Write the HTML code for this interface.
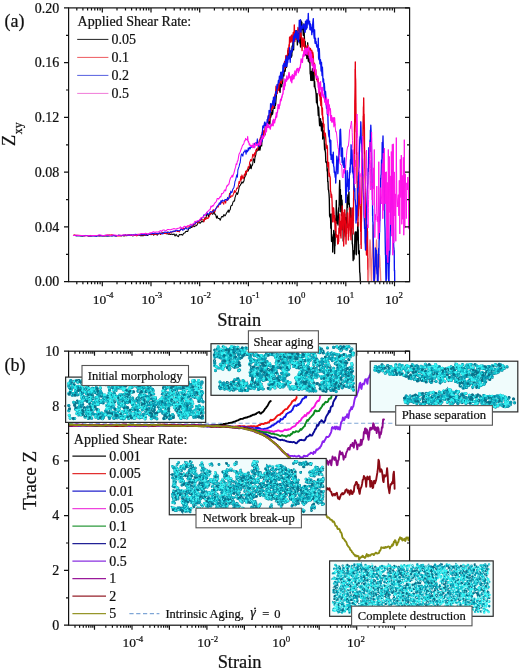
<!DOCTYPE html>
<html lang="en"><head><meta charset="utf-8"><title>Figure</title>
<style>html,body{margin:0;padding:0;background:#fff}svg{display:block}text{font-family:"Liberation Serif", serif;fill:#111;stroke:#111;stroke-width:.22px}</style>
</head><body>
<svg width="520" height="672" viewBox="0 0 520 672">
<rect width="520" height="672" fill="#fff"/>
<defs><clipPath id="ca"><rect x="68.6" y="7.9" width="341.0" height="273.8"/></clipPath></defs>
<g clip-path="url(#ca)" fill="none" stroke-linejoin="round" stroke-width="1.35">
<path stroke="#000" stroke-width="1.05" d="M73,235.5 74.6,235.2 76.3,235.7 77.9,235.7 79.5,235.7 81.1,236 82.7,236 84.2,235.5 85.8,235.5 87.3,235.7 88.8,236 90.4,236 91.9,235.5 93.4,235.4 94.9,235.8 96.3,236.1 97.8,235.8 99.3,235.5 100.7,235.8 102.2,235.4 103.6,235.8 105,236.1 106.4,235.9 107.8,235.9 109.2,236.1 110.6,235.5 112,235.7 113.4,235.5 114.7,235.8 116.1,235.5 117.4,235.6 118.8,235.3 120.1,235.4 121.4,235.4 122.7,235.4 124.1,236 125.4,234.9 126.7,235.8 128,235.2 129.2,234.8 130.5,235.5 131.8,235.6 133.1,235.9 134.3,235.1 135.6,235.5 136.8,235.6 138.1,234.8 139.3,234.9 140.5,235.7 141.7,235.6 143,235.7 144.2,235.4 145.4,235.2 146.6,235.1 147.8,235.4 149,234.4 150.2,234.5 151.3,234.7 152.5,233.6 153.7,235.2 154.9,234.2 156,234.2 157.2,235.2 158.3,233.5 159.5,233.4 160.6,234.5 161.7,233 162.9,232.7 164,233.5 165.1,233.2 166.3,233.8 167.4,233.7 168.5,234.2 169.6,234.2 170.7,234.4 171.8,233.9 172.9,234.6 174,233.9 175.1,236 176.1,234.3 177.2,235.9 178.3,236.7 179.4,234.5 180.4,234.8 181.5,234.4 182.6,235.2 183.6,233.2 184.7,233.1 185.7,231.5 186.8,231.2 187.8,231.4 188.9,228.2 189.9,228.3 190.9,227.5 192,227.4 193,225.2 194,226.7 195,226 196,225.8 197,225 198.1,222.7 199.1,222.3 200.1,223.3 201.1,222.1 202,220.7 203,222 203.9,220.9 204.9,217.8 205.8,219 206.7,214.1 207.6,213.9 208.4,216.7 209.3,213.9 210.1,214.3 211,213.6 211.8,213.5 212.6,214.3 213.4,213.3 214.2,211.5 215,214.5 215.7,214.8 216.5,218.1 217.2,215.9 218,218.4 218.7,218.4 219.4,218.5 220.2,220.2 220.9,218.4 221.6,216.6 222.3,216.6 223,217 223.7,214.7 224.3,214.7 225,215.9 225.7,214.7 226.3,213.5 227,212.2 227.6,211.6 228.3,210 228.9,212.4 229.6,210.3 230.2,209.6 230.8,206.2 231.4,205.6 232,205.5 232.7,203.2 233.3,201.4 233.9,201 234.5,201.1 235,197.6 235.6,195.9 236.2,194.1 236.8,192.6 237.4,194.4 237.9,193.5 238.5,190.9 239.1,187.4 239.6,185.8 240.2,185.7 240.8,183.9 241.3,183.9 241.9,181.7 242.4,182.7 242.9,183 243.5,181.7 244,180.9 244.5,177.1 245.1,176.9 245.6,173.7 246.1,174.9 246.6,171.6 247.2,170 247.7,169.1 248.2,171 248.7,169.4 249.2,169.1 249.7,166.4 250.2,168.2 250.7,164 251.2,168.8 251.7,166 252.2,165.6 252.7,164.2 253.1,159.8 253.6,158.8 254.1,160 254.5,162.8 255,157.5 255.5,156.1 255.9,154.4 256.4,150.6 256.8,148.7 257.3,151 257.7,149.7 258.2,148.7"/>
<path stroke="#000" d="M258.2,148.7 258.6,150.1 259,145.3 259.5,146.1 259.9,150 260.3,148.1 260.8,141.3 261.2,142.5 261.6,145.9 262,138.4 262.4,137.8 262.8,136.2 263.3,134.5 263.7,132.8 264.1,134.9 264.5,135 264.9,134.7 265.3,129 265.7,123.7 266.1,128.6 266.4,125.7 266.8,127.3 267.2,125.7 267.6,121.8 268,126.6 268.4,118.3 268.8,120.9 269.1,122.5 269.5,121.6 269.9,124.1 270.3,112.6 270.6,117.7 271,116.2 271.4,112.5 271.7,114.9 272.1,110.6 272.5,114.2 272.8,112.5 273.2,107.3 273.5,107.6 273.9,107.2 274.3,105.5 274.6,108.4 275,104.8 275.3,105.5 275.7,103.5 276,99.1 276.3,95.7 276.7,93 277,90.7 277.4,88.9 277.7,90.4 278.1,86.7 278.4,88.6 278.7,88 279.1,84.8 279.4,86.8 279.7,90.9 280.1,92.3 280.4,83.4 280.7,83.8 281,82.1 281.4,83.5 281.7,86.9 282,83.2 282.3,83.4 282.7,82.3 283,73.8 283.3,75.7 283.6,74.6 283.9,75.9 284.3,70.2 284.6,70.8 284.9,71.3 285.2,71.1 285.5,67.6 285.8,63.3 286.1,58.9 286.5,67.3 286.8,63.4 287.1,56.8 287.4,57 287.7,55.5 288,50.7 288.3,55.5 288.6,52 289,53.3 289.3,54.2 289.6,51.1 289.9,53.5 290.2,54.1 290.5,52.3 290.8,51 291.1,57.4 291.5,50.8 291.8,56 292.1,46 292.4,51.7 292.7,46 293,42 293.3,34.6 293.6,49.9 294,36.3 294.3,36.5 294.6,37.6 294.9,37.4 295.2,38.3 295.5,37.9 295.8,30.8 296.1,38.6 296.5,30.8 296.8,37.1 297.1,38.9 297.4,44.9 297.7,38.7 298,38.2 298.3,41.4 298.6,32.9 299,40.7 299.3,37.1 299.6,37.8 299.9,43.1 300.2,37.8 300.5,47 300.8,44 301.1,21 301.5,28.6 301.8,22.1 302.1,29.5 302.4,26.3 302.7,29.5 303,29.2 303.3,35.3 303.6,31.7 304,24 304.3,35.8 304.6,42.1 304.9,45.1 305.2,41.5 305.5,55 305.8,47.3 306.1,53.5 306.5,47.7 306.8,58.6 307.1,46 307.4,50.5 307.7,42.8 308,54.1 308.3,61.2 308.6,48.7 309,54.2 309.3,62.4 309.6,62.9 309.9,60.5 310.2,74.1 310.5,73.6 310.8,80.4 311.1,77.4 311.5,71.4 311.8,73.5 312.1,80.5 312.4,68.7 312.7,73.7 313,77 313.3,80.2 313.6,79 314,69.2 314.3,86.7 314.6,81.5 314.9,86.1 315.2,88.5 315.5,89.4 315.8,91.7 316.1,93.9 316.5,102.8 316.8,95.2 317.1,93.6 317.4,104.7 317.7,105.6 318,109.8 318.3,115.5 318.6,107.1 319,114.4 319.3,121.1 319.6,125.4 319.9,125.7 320.2,119.9 320.5,118.6 320.8,125.7 321.1,121.3 321.5,130.9 321.8,124.4 322.1,123.2 322.4,123.6 322.7,139 323,132.6 323.3,130.7 323.6,136.6 324,135.4 324.3,143.4 324.6,149.8 324.9,144 325.2,151 325.5,153 325.8,161.7 326.1,162.4 326.5,163 326.8,161.9 327.1,170.9 327.4,169 327.7,181.8 328,181.4 328.3,189.5 328.6,190.1 329,193.8 329.3,198.9 329.6,216.2 329.9,214.3 330.2,217.7 330.5,215.6 330.8,228.3 331.1,213.9 331.5,241.2 331.8,234.6 332.1,241.6 332.4,237.8 332.7,240.3 332.7,252 333,243.5 333.2,237 333.5,240.1 333.7,230.5 334,236 334.2,239.8 334.4,234 334.6,253.5 334.8,242.1 335,246 335.2,237.7 335.4,232.6 335.6,218.9 335.8,222.2 335.9,218.4 336.1,216.5 336.3,200.5 336.5,210 336.8,212.8 337.1,223.4 337.4,216 337.7,221.3 338,225 338.2,222.5 338.5,210.2 338.7,207.7 338.9,211.5 339.2,202.1 339.4,188.7 339.7,180.5 339.9,187 340.1,204.8 340.3,197.8 340.4,189.5 340.6,204.4 340.8,211.7 341,212 341.2,210.1 341.4,195.5 341.6,215.7 341.8,205.9 342,200 342.2,203.6 342.4,214 342.5,213.5 342.7,217.8 342.9,230.3 343,217.8 343.2,241 343.4,240 343.6,238 343.9,235.9 344.1,232.5 344.3,232.1 344.6,227.1 344.8,214 345,222.2 345.3,217.3 345.5,226.6 345.8,222.3 346,228 346.2,218.2 346.4,222.9 346.6,218.3 346.9,219.4 347.1,195 347.3,207.8 347.5,200 347.8,202.5 348.1,197.3 348.5,204 348.8,193 349,192 349.1,203.5 349.3,203.3 349.5,209.7 349.7,208 349.8,217.2 350,222 350.2,223.9 350.4,218.2 350.6,217.1 350.8,207.9 351,210 351.2,224.8 351.4,215.7 351.6,224.9 351.9,233.3 352.1,233.4 352.3,244 352.5,244 352.8,248.4 353.1,260.6 353.4,256.6 353.7,258.7 354,259 354.2,250.5 354.4,254.4 354.6,253.8 354.7,246.3 354.9,234.3 355.1,232.8 355.3,232 355.5,233.6 355.8,237.9 356,232.2 356.3,254.8 356.5,246 356.7,241.9 356.9,239.6 357.1,232.5 357.3,231.3 357.5,239.5 357.7,224 357.9,222.4 358,229 358.2,229.9 358.3,236.8 358.5,253.4 358.6,244.3 358.8,252 359,254.1 359.3,250.6 359.5,264.1 359.7,272.3 359.9,272.7 360.2,278 360.4,285"/>
<path stroke="#e60012" stroke-width="1.05" d="M73,235.5 74.6,235 76.3,235.6 77.9,235.2 79.5,235.5 81.1,235.5 82.7,235.5 84.2,236.1 85.8,235.4 87.3,235.6 88.8,235.9 90.4,235.4 91.9,236 93.4,235.6 94.9,235.8 96.3,235.4 97.8,235.4 99.3,235.9 100.7,235.7 102.2,235.6 103.6,235.6 105,235.6 106.4,235.2 107.8,234.9 109.2,235 110.6,235 112,234.8 113.4,235.5 114.7,235.6 116.1,236 117.4,236.1 118.8,235.9 120.1,235.9 121.4,236 122.7,235.3 124.1,235.6 125.4,235.7 126.7,235.2 128,235 129.2,235 130.5,235.6 131.8,235.4 133.1,235.1 134.3,235.1 135.6,235.2 136.8,235.9 138.1,234.1 139.3,235.1 140.5,234.9 141.7,235 143,234.2 144.2,235.4 145.4,234.9 146.6,234.5 147.8,234.4 149,233.9 150.2,234.2 151.3,234.1 152.5,234.5 153.7,234.2 154.9,234 156,234.5 157.2,234.1 158.3,234 159.5,233 160.6,234.4 161.7,233.1 162.9,233.1 164,233.2 165.1,233.4 166.3,233.6 167.4,231.9 168.5,233.3 169.6,233.7 170.7,232.3 171.8,232.2 172.9,231.6 174,231.7 175.1,230.9 176.1,230.8 177.2,231.4 178.3,231.2 179.4,231.9 180.4,229.6 181.5,228.2 182.6,229.4 183.6,228.2 184.7,228.6 185.7,227.5 186.8,226.7 187.8,226.9 188.9,227 189.9,226.6 190.9,226 192,226.9 193,224.6 194,224.6 195,224.6 196,222.6 197,222.2 198.1,222.7 199.1,221.4 200.1,220.7 201.1,219.7 202,219.2 203,219.2 203.9,221.8 204.9,217.9 205.8,219.4 206.7,217.2 207.6,218.5 208.4,218 209.3,216.5 210.1,214.4 211,212.1 211.8,213.6 212.6,210.7 213.4,209.7 214.2,212 215,211.7 215.7,208.7 216.5,207.6 217.2,206.5 218,207.2 218.7,205.7 219.4,203.6 220.2,203.6 220.9,203.9 221.6,201.1 222.3,202.1 223,202.8 223.7,204.3 224.3,201.3 225,200.9 225.7,203.2 226.3,199.2 227,199.2 227.6,200.4 228.3,199.5 228.9,198 229.6,193.2 230.2,197.4 230.8,197.2 231.4,195.8 232,196.1 232.7,196.2 233.3,194.3 233.9,192.5 234.5,190.5 235,192.7 235.6,191.4 236.2,190.2 236.8,188.1 237.4,188.4 237.9,187.8 238.5,184.9 239.1,181.4 239.6,183.4 240.2,180.9 240.8,176.3 241.3,180.3 241.9,174.9 242.4,176.3 242.9,178.8 243.5,178.4 244,175.5 244.5,174 245.1,175.8 245.6,171 246.1,173.5 246.6,171 247.2,171.6 247.7,169.7 248.2,166.7 248.7,168.2 249.2,166.2 249.7,161.9 250.2,161.2 250.7,159.5 251.2,161 251.7,160.4 252.2,158 252.7,154.2 253.1,154.2 253.6,155.4 254.1,157.4 254.5,152.7 255,155.1 255.5,153.4 255.9,149.8 256.4,150.2 256.8,150.8 257.3,150.1 257.7,148.3 258.2,146.5"/>
<path stroke="#e60012" d="M258.2,146.5 258.6,146.5 259,142.3 259.5,140 259.9,142.1 260.3,138 260.8,140.8 261.2,135.8 261.6,140.8 262,133.6 262.4,131.9 262.8,135.3 263.3,136 263.7,130.7 264.1,135.8 264.5,135.5 264.9,132.5 265.3,128.4 265.7,123.9 266.1,124.4 266.4,124.8 266.8,127.3 267.2,124.5 267.6,122.2 268,121.5 268.4,115.7 268.8,120.2 269.1,115.5 269.5,120.5 269.9,116.3 270.3,112.3 270.6,111.9 271,107.5 271.4,110.3 271.7,106.7 272.1,107.6 272.5,108.1 272.8,104.3 273.2,104.6 273.5,107.3 273.9,100.2 274.3,100.9 274.6,96.4 275,94.3 275.3,95.7 275.7,91.1 276,86.3 276.3,92.8 276.7,92.4 277,87.9 277.4,93.3 277.7,87.9 278.1,85 278.4,84 278.7,90.1 279.1,84.1 279.4,84.1 279.7,82.6 280.1,82.2 280.4,78 280.7,80.8 281,80.6 281.4,83.4 281.7,75.9 282,80.7 282.3,76.7 282.7,74.1 283,72.1 283.3,71.6 283.6,69.9 283.9,68.7 284.3,67.9 284.6,61.5 284.9,62.2 285.2,67.5 285.5,61.8 285.8,55.7 286.1,61.2 286.5,64.8 286.8,62.3 287.1,55.5 287.4,54.7 287.7,54.4 288,49 288.3,47.9 288.6,52.5 289,44.7 289.3,46.4 289.6,37.1 289.9,38.5 290.2,37 290.5,42.1 290.8,38.7 291.1,36.7 291.5,35.1 291.8,39.3 292.1,41.9 292.4,36.7 292.7,40.4 293,34.8 293.3,32.4 293.6,36.2 294,39.5 294.3,25 294.6,35.7 294.9,41.5 295.2,32.7 295.5,36.7 295.8,39.3 296.1,34.8 296.5,33 296.8,37.8 297.1,36.2 297.4,34.9 297.7,31.9 298,27.5 298.3,29.2 298.6,30 299,30.9 299.3,29 299.6,39 299.9,34.2 300.2,36 300.5,29.5 300.8,32.2 301.1,34.8 301.5,38.6 301.8,46.5 302.1,50.6 302.4,39.3 302.7,40.9 303,37.8 303.3,39.4 303.6,46.3 304,40.2 304.3,39.3 304.6,48.2 304.9,45.8 305.2,48.8 305.5,48.4 305.8,51.3 306.1,49.9 306.5,52 306.8,49.5 307.1,47.3 307.4,45.5 307.7,45.2 308,47.2 308.3,49.4 308.6,55.2 309,47.4 309.3,49.5 309.6,49.4 309.9,56.8 310.2,53.5 310.5,48.4 310.8,58.9 311.1,57 311.5,55.5 311.8,50.2 312.1,62.9 312.4,57.6 312.7,52.2 313,53.8 313.3,56.3 313.6,65.3 314,62.8 314.3,63.5 314.6,67.9 314.9,74.7 315.2,74.7 315.5,71.4 315.8,69.6 316.1,74.1 316.5,79.5 316.8,76.3 317.1,76.8 317.4,81.5 317.7,78.9 318,78.3 318.3,80.8 318.6,86.3 319,89.5 319.3,93.4 319.6,96 319.9,92 320.2,100.8 320.5,92.9 320.8,105.5 321.1,95.7 321.5,101.6 321.8,108.8 322.1,114.9 322.4,107.9 322.7,119.3 323,116.9 323.3,123.4 323.6,127 324,124.2 324.3,136.1 324.6,132.9 324.9,135 325.2,133.2 325.5,135.1 325.8,139.4 326.1,144.1 326.5,147.8 326.8,148.5 327.1,145.5 327.4,147.6 327.7,166.6 328,165.3 328.3,166 328.6,162.4 329,176.3 329.3,173 329.6,175.2 329.9,176.5 330.2,177.9 330.5,191.4 330.8,191.8 331.1,197.4 331.5,194.1 331.8,196.5 332.1,202.2 332.4,213.4 332.7,221.9 333,209.9 333.3,213.9 333.6,207.8 334,212.5 334.3,222 334.6,215.4 334.9,221.4 335.2,230.3 335.5,225.1 335.8,221.5 336.1,237.1 336.5,234.5 336.8,234.7 337.1,236.2 337.4,237.3 337.7,244 338,235.6 338.3,243.5 338.6,239 338.7,241.6 338.7,240 338.9,228.3 339.1,231.6 339.2,233.2 339.4,220.6 339.6,221 339.8,214 340,221.2 340.2,223.7 340.4,221.2 340.6,236 340.8,233 341,238 341.2,228 341.3,222.9 341.5,230 341.7,220.5 341.9,211.5 342,216.5 342.2,206 342.4,214.8 342.6,214.9 342.8,212.3 342.9,222.7 343.1,229.3 343.3,226.5 343.5,236 343.7,246 343.9,227 344.1,217.3 344.4,210 344.6,220.6 344.8,210 345,214.4 345.1,219.8 345.3,220.7 345.5,233.5 345.7,236.4 345.8,233.2 346,244 346.2,237.3 346.3,228.2 346.5,233.7 346.7,226.8 346.9,227.8 347,221.6 347.2,214 347.4,223 347.6,212.8 347.8,223 348,225 348.2,227.6 348.4,240 348.6,230.8 348.7,236.6 348.9,230.8 349.1,230 349.3,220.3 349.4,215.6 349.6,208 349.8,210.2 349.9,214.3 350.1,218 350.3,219.4 350.5,220.7 350.6,232.7 350.8,236 351,239.8 351.2,222.9 351.4,218.2 351.6,227 351.8,216.8 352,214 352.2,207.9 352.4,219.5 352.6,210.6 352.8,228.7 353,228.3 353.2,234 353.3,220.4 353.4,221.9 353.5,211.8 353.5,215.9 353.6,197.8 353.7,197.9 353.8,183.3 353.9,184.5 354,179.9 354,174.1 354.1,168.4 354.2,149.7 354.3,150 354.4,153.6 354.5,146 354.5,129.5 354.6,124.5 354.7,121.7 354.8,100.2 354.8,101.6 354.9,98.4 355,92.1 355.1,85.2 355.1,69.2 355.2,74.2 355.3,62 355.4,74 355.5,78.1 355.6,79 355.7,83.2 355.8,94.9 355.9,104.7 355.9,103.1 356,113.5 356.1,125.6 356.2,131.9 356.3,131.4 356.4,131.9 356.5,150 356.6,154.5 356.8,152.5 356.9,160.1 357,178.9 357.1,182.9 357.2,181 357.4,192.6 357.5,200 357.6,209 357.8,219.1 357.9,221.6 358,226 358.2,207.3 358.3,216.3 358.5,206.9 358.7,202.2 358.8,197.1 359,190.4 359.2,183.7 359.3,186 359.5,175 359.6,187 359.8,195.5 359.9,199.1 360,204.9 360.2,209.1 360.3,206.3 360.5,225.3 360.6,224.2 360.7,231.6 360.9,230.3 361,245 361.1,235.2 361.2,248.4 361.3,222.6 361.4,222.3 361.5,217.5 361.6,207.1 361.8,194.7 361.9,190 362,186.6 362.1,175.1 362.2,163.2 362.3,157.9 362.4,165.6 362.5,150 362.6,148.3 362.8,142.5 362.9,138 363,128.6 363.2,115.9 363.3,128.1 363.4,107.9 363.6,105.6 363.7,98 363.8,105.3 363.9,117.4 364,115.3 364.1,114.1 364.2,120 364.4,128.9 364.5,145.1 364.6,153.6 364.7,151.4 364.8,156.1 364.9,168.3 365,170 365.1,177.7 365.2,179.7 365.3,184.3 365.5,197.3 365.6,208.9 365.7,215.7 365.8,220.4 365.9,219.8 366,235.9 366.2,224.4 366.3,243.4 366.4,252.9 366.5,255 366.6,246.1 366.7,239.2 366.8,251 367,236.7 367.1,232.7 367.2,237.7 367.3,225 367.4,234.6 367.5,231.2 367.6,244.5 367.7,249.2 367.8,261.5 367.9,269.4 368,258.5 368.1,269.6 368.2,288.3 368.3,285"/>
<path stroke="#f0807f" d="M368.3,285 368.5,280.3 368.7,275.2 368.9,268.9 369.1,266.2 369.2,259 369.4,255.3 369.6,250.2 369.8,243.9 370,240 370.2,242.4 370.3,247 370.5,253.7 370.7,258.9 370.8,265.9 371,270.1 371.2,275.3 371.3,278.1 371.5,285 371.6,278 371.8,271.7 371.9,264.7 372.1,258.4 372.2,258.8 372.4,249.2 372.6,245 372.7,237.3 372.9,229.1 373,225 373.1,233.7 373.3,238 373.4,242.8 373.6,246.7 373.8,255 373.9,262.5 374.1,269.2 374.2,273.4 374.4,278.5 374.5,285 374.7,279.2 374.9,275.8 375.2,268.1 375.4,264.9 375.6,255.6 375.8,257.8 376.1,251.7 376.3,244.4 376.5,240 376.7,243.7 376.8,251.1 377,254.5 377.2,258.6 377.3,263.9 377.5,269 377.7,272.5 377.8,281.7 378,285 378.2,276.8 378.4,276.4 378.6,271.6 378.9,264.1 379.1,264.4 379.3,255 379.5,255 379.7,257.6 379.9,261.6 380.1,266.9 380.4,271 380.6,278.2 380.8,280.3 381,285"/>
<path stroke="#0a14f0" stroke-width="1.05" d="M73,235.4 74.6,235.5 76.3,235.7 77.9,235.6 79.5,235.8 81.1,235.8 82.7,236 84.2,235.6 85.8,235.6 87.3,235.5 88.8,236 90.4,235.9 91.9,236.1 93.4,235.9 94.9,235.7 96.3,236.2 97.8,235.7 99.3,235.7 100.7,235.5 102.2,236 103.6,235.9 105,235.3 106.4,235.8 107.8,235.9 109.2,235.3 110.6,235.8 112,236.1 113.4,235.2 114.7,235.8 116.1,236.2 117.4,235.4 118.8,235.3 120.1,235.5 121.4,235.7 122.7,235.5 124.1,234.9 125.4,235.1 126.7,235.2 128,235 129.2,235.5 130.5,234.8 131.8,234.6 133.1,235.3 134.3,234.5 135.6,234.3 136.8,234.6 138.1,234.5 139.3,234.9 140.5,234.8 141.7,234.4 143,234.5 144.2,234.3 145.4,235 146.6,235.2 147.8,234.1 149,234.5 150.2,234 151.3,233.5 152.5,233.6 153.7,233.6 154.9,233 156,233.3 157.2,233.7 158.3,233.8 159.5,233 160.6,232.9 161.7,233.4 162.9,233.9 164,232.3 165.1,232 166.3,232.3 167.4,232.7 168.5,232 169.6,232.6 170.7,231.7 171.8,232.1 172.9,231.2 174,230.9 175.1,231.4 176.1,230.2 177.2,230.3 178.3,230.8 179.4,230.7 180.4,230.1 181.5,228.6 182.6,230.2 183.6,229.7 184.7,229 185.7,227.6 186.8,228.9 187.8,229.1 188.9,227.7 189.9,227.7 190.9,225.9 192,225.9 193,224.5 194,224 195,223.7 196,222.5 197,221.9 198.1,221.2 199.1,220.5 200.1,219.8 201.1,219.1 202,217.5 203,217.6 203.9,214.8 204.9,215.4 205.8,214.7 206.7,212.4 207.6,213.8 208.4,214.3 209.3,213.3 210.1,211.7 211,211.6 211.8,212.5 212.6,211.7 213.4,211.4 214.2,209.9 215,210.3 215.7,209.3 216.5,207.6 217.2,206.4 218,205.2 218.7,204.7 219.4,202.7 220.2,204.5 220.9,200.7 221.6,202.2 222.3,200.1 223,200.9 223.7,200.8 224.3,201 225,199.4 225.7,199.6 226.3,199.5 227,200.6 227.6,197.4 228.3,198.9 228.9,198.7 229.6,195.5 230.2,194.5 230.8,191.1 231.4,192.8 232,192.3 232.7,189.5 233.3,188.4 233.9,187.4 234.5,184.8 235,181.3 235.6,180.2 236.2,177.4 236.8,174.8 237.4,177.2 237.9,169.8 238.5,168.2 239.1,166.4 239.6,164.1 240.2,162.5 240.8,157.2 241.3,154.6 241.9,153.8 242.4,155.5 242.9,156.1 243.5,152 244,152.1 244.5,151.8 245.1,149.9 245.6,152 246.1,154.3 246.6,150 247.2,151.9 247.7,151.5 248.2,147.8 248.7,150.3 249.2,148.4 249.7,147.2 250.2,148.9 250.7,147.5 251.2,146.9 251.7,147.3 252.2,146.4 252.7,145.5 253.1,146.4 253.6,147.1 254.1,143.8 254.5,144.3 255,143.1 255.5,144 255.9,142.5 256.4,145.1 256.8,143.6 257.3,138.7 257.7,142.9 258.2,143.6"/>
<path stroke="#0a14f0" d="M258.2,143.6 258.6,146.5 259,143.8 259.5,144.5 259.9,143.1 260.3,140.1 260.8,138.9 261.2,139.2 261.6,134.6 262,141.6 262.4,133 262.8,126.2 263.3,126 263.7,127.6 264.1,125.3 264.5,122.8 264.9,122 265.3,125.3 265.7,123.3 266.1,124.7 266.4,123.5 266.8,125.9 267.2,119.5 267.6,123.7 268,117.2 268.4,115.7 268.8,118.1 269.1,110.5 269.5,112.7 269.9,111.1 270.3,112.7 270.6,103.6 271,106.4 271.4,106.8 271.7,103.9 272.1,104.6 272.5,103.9 272.8,100.7 273.2,101.2 273.5,97.2 273.9,105.7 274.3,104.9 274.6,97.2 275,102.1 275.3,97.5 275.7,91.8 276,92.3 276.3,94.8 276.7,90.3 277,84.6 277.4,88.3 277.7,85.3 278.1,83.7 278.4,80.5 278.7,82.5 279.1,82.5 279.4,76.2 279.7,78.1 280.1,76.2 280.4,76.2 280.7,72.3 281,80.3 281.4,74 281.7,76 282,71.9 282.3,78.2 282.7,72.3 283,65.2 283.3,72.7 283.6,66.9 283.9,63.3 284.3,66.5 284.6,63.9 284.9,66.8 285.2,65.4 285.5,59.7 285.8,65.6 286.1,66 286.5,56.2 286.8,66.5 287.1,62.9 287.4,60.6 287.7,62.8 288,59.4 288.3,56.1 288.6,59.2 289,58.1 289.3,58.3 289.6,47.7 289.9,52.4 290.2,62.3 290.5,56 290.8,56.2 291.1,52.7 291.5,50.4 291.8,51.9 292.1,51.6 292.4,47.9 292.7,47.1 293,48.4 293.3,40.1 293.6,36.1 294,41.2 294.3,40.1 294.6,33.9 294.9,37.5 295.2,34.3 295.5,35 295.8,30.9 296.1,38 296.5,35 296.8,34.8 297.1,31.1 297.4,39.6 297.7,36.9 298,34.4 298.3,34.2 298.6,41.9 299,31.6 299.3,20.3 299.6,28.3 299.9,29 300.2,23.2 300.5,19.7 300.8,32.1 301.1,28.1 301.5,27.3 301.8,26.3 302.1,28.9 302.4,26.7 302.7,26.6 303,25.1 303.3,24.2 303.6,25.7 304,28.5 304.3,25 304.6,31.7 304.9,25.9 305.2,32.2 305.5,21.2 305.8,28.9 306.1,29.5 306.5,27.9 306.8,19.9 307.1,27.9 307.4,21.8 307.7,21.5 308,20.9 308.3,13.4 308.6,23.1 309,24.2 309.3,25.1 309.6,21.1 309.9,29.6 310.2,23.5 310.5,25.5 310.8,24.7 311.1,30.1 311.5,27.3 311.8,34.6 312.1,30 312.4,32 312.7,24.1 313,21.1 313.3,18.6 313.6,28.5 314,36.3 314.3,38.3 314.6,29.8 314.9,41.3 315.2,43.4 315.5,38.2 315.8,42.7 316.1,41.3 316.5,45.4 316.8,47 317.1,45 317.4,47.1 317.7,46.3 318,51.2 318.3,38.1 318.6,58 319,59.7 319.3,48.6 319.6,56.7 319.9,63.9 320.2,59.3 320.5,60.1 320.8,64.6 321.1,71 321.5,62.3 321.8,71.1 322.1,75.6 322.4,67.1 322.7,74 323,82 323.3,78.6 323.6,79.4 324,90.3 324.3,83.2 324.6,87.5 324.9,98.6 325.2,101.7 325.5,91.4 325.8,95.5 326.1,99.9 326.5,108.3 326.8,107.6 327.1,105.3 327.4,114.6 327.7,104.7 328,121.4 328.3,129.2 328.6,134.4 329,136.8 329.3,130.5 329.6,142 329.9,139.3 330.2,145.7 330.5,154.9 330.8,140.5 331.1,159.4 331.5,158.9 331.8,159 332.1,154.8 332.4,162.3 332.7,163.1 333,159.7 333.3,152.2 333.6,165.8 334,167.2 334.3,172.5 334.6,171.2 334.9,174 335.2,177.2 335.5,173 335.7,176.2 335.7,183 335.9,177.8 336.1,174.3 336.4,167.5 336.6,164 336.8,156.2 337,160 337.2,164.1 337.4,169.4 337.6,162.4 337.8,173.7 338,172 338.2,163.7 338.5,157.2 338.8,156.4 339,148.8 339.2,154.7 339.5,147.8 339.8,142.4 340,130 340.2,137.6 340.5,129.1 340.8,136.6 341,142.4 341.2,156.2 341.5,150 341.8,148.3 342.1,162.5 342.4,148 342.7,159.3 343,165 343.4,161.1 343.8,167.4 344.1,165.2 344.5,158 344.7,163.4 344.9,170.1 345.1,165.1 345.4,167.4 345.6,188.3 345.8,202.5 346,192 346.3,195 346.6,183.9 346.9,186.5 347.2,170.6 347.5,178 347.8,178.9 348.1,180.2 348.4,191.4 348.7,187.6 349,188 349.2,189.5 349.4,172.5 349.6,174.6 349.9,167.6 350.1,172.7 350.3,165.6 350.5,160 350.8,158.9 351.1,144.8 351.4,163.8 351.7,150.2 352,150 352.2,154.2 352.4,172.1 352.6,170.5 352.9,167.2 353.1,174 353.3,166.8 353.5,178 353.8,177.4 354,189.6 354.2,186.1 354.5,191.2 354.8,188.3 355,200 355.2,199.6 355.5,203 355.8,207.1 356,223.1 356.2,216 356.5,220 356.7,216.2 356.9,217.7 357.1,205.5 357.4,206.7 357.6,188.3 357.8,192.4 358,190 358.2,188 358.4,175.9 358.6,177.8 358.8,168.1 358.9,168.4 359.1,166 359.3,153.7 359.5,150 359.8,139.8 360,136.8 360.2,138.9 360.5,134.4 360.8,121.8 361,127 361.2,137.2 361.4,143.3 361.6,141.2 361.8,147.7 361.9,152.4 362.1,150.3 362.3,160.1 362.5,165 362.7,172.3 362.8,175.2 363,174.3 363.2,178.9 363.3,188.9 363.5,194.3 363.7,199.4 363.8,197.2 364,215 364.2,217.9 364.4,221.6 364.6,228.7 364.9,227.1 365.1,242.4 365.3,244.5 365.5,250 365.7,248.7 365.8,234.1 366,236.9 366.2,228.8 366.3,219.4 366.5,216.9 366.7,205.9 366.8,204.4 367,200 367.2,194.3 367.4,188.9 367.6,185.8 367.9,183.2 368.1,168.4 368.3,171.8 368.5,165 368.8,147.8 369,150.2 369.2,163.6 369.5,151.9 369.8,143.6 370,140 370.2,151.6 370.4,130.2 370.6,132.3 370.8,125.2 371,130 371.1,138.1 371.3,137.9 371.4,137.5 371.5,147.1 371.7,157.3 371.8,171.1 372,176.2 372.1,184.4 372.2,188.4 372.4,189.5 372.5,200 372.6,216 372.7,208.9 372.8,221.4 373,221.9 373.1,229.7 373.2,237 373.3,239.9 373.4,256.5 373.5,257.9 373.7,270.2 373.8,278.5 373.9,281.6 374,285 374.3,280.6 374.6,277.4 374.9,266.2 375.1,266.7 375.4,247.9 375.7,249.4 376,250 376.2,258.5 376.4,250.5 376.6,265.8 376.9,273.4 377.1,274.3 377.3,274.4 377.5,285 377.7,284 377.9,284.7 378.1,275.7 378.3,254.1 378.5,266.9 378.7,248.2 378.9,254.5 379.1,240.6 379.3,238.6 379.5,230 379.6,232.1 379.8,213.2 379.9,220.7 380.1,207.9 380.2,206.1 380.4,196.2 380.6,190 380.7,178.1 380.9,178.9 381,175 381.2,174.5 381.5,159.9 381.8,167.6 382,158.9 382.2,142.4 382.5,145.3 382.8,142.9 383,136 383.1,140.8 383.3,149.5 383.4,158.6 383.5,156.9 383.7,167.4 383.8,169.5 384,171 384.1,184.9 384.2,185.2 384.4,192.5 384.5,200 384.6,210.5 384.7,201.5 384.8,222.4 385,227.8 385.1,233.1 385.2,241.9 385.3,247.1 385.4,254.4 385.5,249.8 385.7,262.5 385.8,272.8 385.9,277.1 386,285 386.2,280.3 386.3,270 386.5,279.3 386.7,264.9 386.8,263.7 387,259.6 387.2,247 387.3,241.9 387.5,240 387.7,238.9 387.8,252.2 388,262.2 388.2,263.7 388.3,257.2 388.5,275.6 388.7,281.2 388.8,281.4 389,285 389.1,269.4 389.3,261.4 389.4,261.9 389.5,250.9 389.7,254.9 389.8,253.7 390,248 390.1,239.2 390.2,233.4 390.4,227.4 390.5,215 390.7,211 390.8,200.4 391,210.5 391.2,205.4 391.3,178.6 391.5,192.2 391.7,181.8 391.8,172 392,170 392.1,184.7 392.3,177.6 392.4,187 392.6,194.3 392.8,207.4 392.9,202.9 393.1,213.6 393.2,215.5 393.4,226.4 393.5,230 393.6,244.1 393.8,248.3 393.9,247.6 394.1,253.1 394.2,250.5 394.4,271 394.6,270.5 394.7,282.7 394.9,282.1 395,285"/>
<path stroke="#ff10e8" stroke-width="1.05" d="M73,235.4 74.6,235.4 76.3,235.1 77.9,235.5 79.5,235.3 81.1,235.5 82.7,235.5 84.2,235.8 85.8,235.7 87.3,235.8 88.8,235.5 90.4,235.7 91.9,235.5 93.4,235.6 94.9,235.5 96.3,235.6 97.8,235.3 99.3,234.8 100.7,235 102.2,235.5 103.6,235.5 105,235.5 106.4,235.1 107.8,235.1 109.2,235.4 110.6,235.5 112,235.3 113.4,235.1 114.7,234.9 116.1,235.2 117.4,235.5 118.8,235.2 120.1,235.1 121.4,235.2 122.7,235 124.1,234.7 125.4,235 126.7,235 128,235 129.2,235 130.5,235 131.8,234.9 133.1,235.4 134.3,234.8 135.6,235.1 136.8,235 138.1,234.6 139.3,234.3 140.5,233.7 141.7,233.6 143,233.7 144.2,233.7 145.4,233.3 146.6,233.4 147.8,234.2 149,233.5 150.2,232.7 151.3,233 152.5,232.3 153.7,231.8 154.9,232.4 156,231.9 157.2,232 158.3,232.2 159.5,231.2 160.6,230.6 161.7,231.5 162.9,230 164,229.9 165.1,230.7 166.3,230.5 167.4,229.6 168.5,229.4 169.6,229.7 170.7,229.7 171.8,229.2 172.9,228.9 174,228.6 175.1,228.9 176.1,228.9 177.2,228.6 178.3,228.3 179.4,228.1 180.4,226.9 181.5,228.1 182.6,228.1 183.6,226.9 184.7,226.2 185.7,226.7 186.8,226.5 187.8,225.6 188.9,225.8 189.9,224.9 190.9,224.1 192,225.1 193,223.7 194,223.1 195,221.3 196,221.7 197,220.9 198.1,220.5 199.1,220.3 200.1,219.2 201.1,217.5 202,217.8 203,216.9 203.9,216.1 204.9,214.9 205.8,214.3 206.7,212.6 207.6,211.5 208.4,210.9 209.3,209.9 210.1,209.6 211,206 211.8,206.9 212.6,205.6 213.4,205.9 214.2,204 215,202.8 215.7,202.3 216.5,201.2 217.2,198.5 218,198.5 218.7,199.1 219.4,197.9 220.2,196.6 220.9,196.9 221.6,193.6 222.3,193.8 223,193.2 223.7,192.4 224.3,190.5 225,189.9 225.7,190.9 226.3,187.7 227,185.6 227.6,186 228.3,184.2 228.9,184.3 229.6,180.8 230.2,179 230.8,177.3 231.4,177.2 232,175.3 232.7,177.1 233.3,174.4 233.9,173.2 234.5,170.8 235,168.9 235.6,167.2 236.2,163.7 236.8,164.5 237.4,160.9 237.9,160.9 238.5,157.2 239.1,153.8 239.6,153.4 240.2,151.9 240.8,150.1 241.3,148.8 241.9,147.2 242.4,145.6 242.9,144.8 243.5,144.6 244,142.9 244.5,140.7 245.1,140.8 245.6,138.4 246.1,139.3 246.6,139.5 247.2,140.1 247.7,136.4 248.2,142.3 248.7,141.6 249.2,145 249.7,143.7 250.2,145.5 250.7,146.5 251.2,145.3 251.7,145.4 252.2,146.1 252.7,147.8 253.1,143.3 253.6,146 254.1,147.9 254.5,145.8 255,147.3 255.5,142.5 255.9,143.8 256.4,145.5 256.8,144.5 257.3,144.7 257.7,145.7 258.2,143"/>
<path stroke="#ff10e8" d="M258.2,143 258.6,144.5 259,144.1 259.5,142.8 259.9,145.5 260.3,140.6 260.8,144.4 261.2,139.2 261.6,139.8 262,138.5 262.4,135.8 262.8,137.7 263.3,138.5 263.7,136.7 264.1,135.7 264.5,135.9 264.9,133.7 265.3,132.5 265.7,126.8 266.1,130.4 266.4,131.8 266.8,127 267.2,123.5 267.6,126.2 268,127 268.4,124.7 268.8,127 269.1,127.7 269.5,126.2 269.9,126.2 270.3,129.1 270.6,126.4 271,124.3 271.4,125.8 271.7,125.9 272.1,123.7 272.5,123.8 272.8,120.6 273.2,125.7 273.5,119.3 273.9,121.4 274.3,121.2 274.6,122.8 275,119.5 275.3,120 275.7,116.6 276,117.6 276.3,112.8 276.7,117 277,113 277.4,112.7 277.7,109.9 278.1,104.4 278.4,105.8 278.7,105.7 279.1,108.6 279.4,105 279.7,105.7 280.1,103.3 280.4,100.3 280.7,99.2 281,100.9 281.4,99.5 281.7,96.7 282,97.4 282.3,95 282.7,94.1 283,93.9 283.3,87.8 283.6,87.7 283.9,83.5 284.3,89.5 284.6,84.3 284.9,78.9 285.2,85.8 285.5,80.8 285.8,80.4 286.1,79.8 286.5,81.2 286.8,75.9 287.1,78.7 287.4,79.7 287.7,79.5 288,79 288.3,78.4 288.6,75.5 289,72.4 289.3,74 289.6,77.7 289.9,77.7 290.2,76.8 290.5,77.8 290.8,81 291.1,76.8 291.5,76.2 291.8,82.7 292.1,77 292.4,74.6 292.7,79.5 293,75.3 293.3,76.9 293.6,76.2 294,78.6 294.3,73.2 294.6,76.5 294.9,71 295.2,74.4 295.5,72.8 295.8,72.3 296.1,75.1 296.5,69.9 296.8,69.5 297.1,68.6 297.4,68.5 297.7,70.5 298,70.6 298.3,72.7 298.6,68.8 299,71 299.3,70.3 299.6,67.4 299.9,67.9 300.2,67.9 300.5,64.8 300.8,63.4 301.1,58.9 301.5,59.6 301.8,60.6 302.1,62 302.4,62.4 302.7,58.6 303,54.8 303.3,56.4 303.6,53.8 304,50.4 304.3,54.5 304.6,55.9 304.9,52.6 305.2,48.4 305.5,53.7 305.8,51.9 306.1,48 306.5,53.9 306.8,52.5 307.1,54.7 307.4,48.6 307.7,48.7 308,48.7 308.3,50.7 308.6,46.8 309,50.8 309.3,57.8 309.6,53.1 309.9,50.9 310.2,61.6 310.5,59.9 310.8,51.5 311.1,57.9 311.5,54.1 311.8,61.7 312.1,65.5 312.4,65.5 312.7,58.6 313,59.1 313.3,71.1 313.6,68.1 314,68.2 314.3,68.7 314.6,65.2 314.9,64.1 315.2,65.4 315.5,72.8 315.8,70.6 316.1,75.2 316.5,78.1 316.8,77.4 317.1,75.9 317.4,77 317.7,76.6 318,80.9 318.3,87.5 318.6,84 319,93.6 319.3,88.5 319.6,84.5 319.9,82.4 320.2,83.7 320.5,81.6 320.8,89.7 321.1,87.4 321.5,96.3 321.8,93.4 322.1,93 322.4,87.5 322.7,90.3 323,95.8 323.3,97.2 323.6,94.9 324,95.6 324.3,99 324.6,98.6 324.9,102.2 325.2,101.4 325.5,100.6 325.8,104.6 326.1,101.9 326.5,97.6 326.8,101 327.1,108.3 327.4,113.6 327.7,108.9 328,101.7 328.3,99.4 328.6,115.8 329,108.9 329.3,104.8 329.6,109.7 329.9,109 330.2,108.5 330.5,111.3 330.8,120.5 331.1,116.2 331.5,115.6 331.8,122.1 332.1,122.1 332.4,119 332.7,120.7 333,117.6 333.3,121.8 333.6,119.9 334,126.8 334.3,117.7 334.6,118.2 334.9,125.2 335,122.4"/>
<path stroke="#ff10e8" stroke-width="0.95" d="M335,124 335.7,131.9 336.3,131.4 337,138 337.6,143.8 338.1,147.9 338.6,150 339.2,157 340.1,164.1 341,165 341.7,165 342.3,176.8 343,178 343.7,169.3 344.3,173.5 345,168 345.5,170.1 346,162.4 346.5,155.2 347,150 347.7,146.3 348.3,146.5 349,140 349.6,129.5 350.2,128.9 350.9,124.4 351.5,121 351.8,125.5 352.2,132.4 352.5,140.6 352.8,148.4 353.2,150.7 353.5,160 353.9,168.2 354.2,171.5 354.6,181.5 355,184 355.2,178.1 355.4,167.3 355.6,160.1 355.8,166.8 356,150 356.2,144.6 356.3,130.9 356.5,125 356.7,127 356.8,116.4 357,114 357.2,121 357.3,122.1 357.5,132.9 357.7,138.6 357.8,139.2 358,150 358.2,154.1 358.5,159.9 358.8,170.4 359,172 359.3,171.8 359.6,182.2 359.9,187.4 360.2,197 360.5,204 360.7,202.2 360.9,190.9 361.1,173.3 361.3,176.9 361.5,170 361.7,164.1 361.9,152 362.1,144.6 362.3,144.8 362.5,136 362.7,140.1 362.8,148.5 363,157.6 363.2,160.2 363.3,175.5 363.5,180 363.7,184.9 363.8,193.7 364,196.3 364.2,208.5 364.3,213.6 364.5,218 364.7,213.4 364.9,207.2 365.1,193.6 365.3,189.7 365.5,185 365.7,175 365.9,175.4 366.1,164.2 366.3,156 366.5,150 366.6,156 366.7,165 366.8,169.1 367,176.4 367.1,183.5 367.2,183.8 367.3,195 367.4,199.1 367.6,208.6 367.7,210.7 367.9,224.1 368,228 368.1,228 368.3,213.3 368.4,207.8 368.6,199.2 368.7,194.9 368.9,189.3 369,180 369.2,175.7 369.3,169.2 369.5,159.8 369.7,157.7 369.8,150.8 370,142 370.1,152.6 370.2,159.3 370.3,159.9 370.5,168.6 370.6,177 370.7,187.8 370.8,190 370.9,181.4 371,182.3 371.1,170.7 371.2,163.7 371.3,160.8 371.4,146.9 371.5,139.5 371.6,132 371.7,141.7 371.8,147.7 371.8,153.6 371.9,162 372,164.7 372.1,185.8 372.1,182.9 372.2,188.7 372.3,200 372.3,188 372.8,205.3 373.3,167.8 373.8,189.1 374.3,149.5 374.8,237.6 375.3,214.4 375.8,220.1 376.3,211.9 376.8,186.1 377.3,221.7 377.8,216.3 378.3,239.2 378.8,161.7 379.3,232.9 379.8,221.8 380.3,187.6 380.8,200.4 381.3,204 381.8,188.3 382.3,163.5 382.8,218.7 383.3,153.2 383.8,210.4 384.3,148.1 384.8,203.8 385.3,172 385.8,203.8 386.3,171.7 386.8,254.9 387.3,182.4 387.8,262.7 388.3,149.5 388.8,250.7 389.3,156.4 389.8,212.6 390.3,175.9 390.8,224.8 391.3,151.5 391.8,236.2 392.3,144.3 392.8,255.2 393.3,143.8 393.8,243 394.3,171.9 394.8,216 395.3,193.9 395.8,241.3 396.3,137.6 396.8,198.1 397.3,207 397.8,197.8 398.3,194.6 398.8,215.8 399.3,180.3 399.8,233.9 400.3,159.3 400.8,197.5 401.3,155.1 401.8,224.3 402.3,175.4 402.8,219.3 403.3,157.3 403.8,235.2 404.3,139.7 404.8,228.1 405.3,173.8 405.8,192.9 406.3,218.6 406.8,182.8 407.3,190 407.8,177 408.3,181 408.8,229.1 409.3,149.4"/>
</g>
<g stroke="#111" stroke-width="1.2" fill="none" stroke-linecap="butt">
<rect x="68.6" y="7.9" width="341" height="273.8"/>
<path d="M76.8,281.7v2.6M76.8,7.9v2.6M82.9,281.7v2.6M82.9,7.9v2.6M87.6,281.7v2.6M87.6,7.9v2.6M91.5,281.7v2.6M91.5,7.9v2.6M94.8,281.7v2.6M94.8,7.9v2.6M97.6,281.7v2.6M97.6,7.9v2.6M100.1,281.7v2.6M100.1,7.9v2.6M102.3,281.7v4.6M102.3,7.9v4.6M117,281.7v2.6M117,7.9v2.6M125.5,281.7v2.6M125.5,7.9v2.6M131.6,281.7v2.6M131.6,7.9v2.6M136.3,281.7v2.6M136.3,7.9v2.6M140.2,281.7v2.6M140.2,7.9v2.6M143.5,281.7v2.6M143.5,7.9v2.6M146.3,281.7v2.6M146.3,7.9v2.6M148.8,281.7v2.6M148.8,7.9v2.6M151,281.7v4.6M151,7.9v4.6M165.7,281.7v2.6M165.7,7.9v2.6M174.2,281.7v2.6M174.2,7.9v2.6M180.3,281.7v2.6M180.3,7.9v2.6M185,281.7v2.6M185,7.9v2.6M188.9,281.7v2.6M188.9,7.9v2.6M192.2,281.7v2.6M192.2,7.9v2.6M195,281.7v2.6M195,7.9v2.6M197.5,281.7v2.6M197.5,7.9v2.6M199.7,281.7v4.6M199.7,7.9v4.6M214.4,281.7v2.6M214.4,7.9v2.6M222.9,281.7v2.6M222.9,7.9v2.6M229,281.7v2.6M229,7.9v2.6M233.7,281.7v2.6M233.7,7.9v2.6M237.6,281.7v2.6M237.6,7.9v2.6M240.9,281.7v2.6M240.9,7.9v2.6M243.7,281.7v2.6M243.7,7.9v2.6M246.2,281.7v2.6M246.2,7.9v2.6M248.4,281.7v4.6M248.4,7.9v4.6M263.1,281.7v2.6M263.1,7.9v2.6M271.6,281.7v2.6M271.6,7.9v2.6M277.7,281.7v2.6M277.7,7.9v2.6M282.4,281.7v2.6M282.4,7.9v2.6M286.3,281.7v2.6M286.3,7.9v2.6M289.6,281.7v2.6M289.6,7.9v2.6M292.4,281.7v2.6M292.4,7.9v2.6M294.9,281.7v2.6M294.9,7.9v2.6M297.1,281.7v4.6M297.1,7.9v4.6M311.8,281.7v2.6M311.8,7.9v2.6M320.3,281.7v2.6M320.3,7.9v2.6M326.4,281.7v2.6M326.4,7.9v2.6M331.1,281.7v2.6M331.1,7.9v2.6M335,281.7v2.6M335,7.9v2.6M338.3,281.7v2.6M338.3,7.9v2.6M341.1,281.7v2.6M341.1,7.9v2.6M343.6,281.7v2.6M343.6,7.9v2.6M345.8,281.7v4.6M345.8,7.9v4.6M360.5,281.7v2.6M360.5,7.9v2.6M369,281.7v2.6M369,7.9v2.6M375.1,281.7v2.6M375.1,7.9v2.6M379.8,281.7v2.6M379.8,7.9v2.6M383.7,281.7v2.6M383.7,7.9v2.6M387,281.7v2.6M387,7.9v2.6M389.8,281.7v2.6M389.8,7.9v2.6M392.3,281.7v2.6M392.3,7.9v2.6M394.5,281.7v4.6M394.5,7.9v4.6M68.6,281.7h-4.6M409.6,281.7h-4.6M68.6,254.3h-2.6M409.6,254.3h-2.6M68.6,226.9h-4.6M409.6,226.9h-4.6M68.6,199.6h-2.6M409.6,199.6h-2.6M68.6,172.2h-4.6M409.6,172.2h-4.6M68.6,144.8h-2.6M409.6,144.8h-2.6M68.6,117.4h-4.6M409.6,117.4h-4.6M68.6,90h-2.6M409.6,90h-2.6M68.6,62.7h-4.6M409.6,62.7h-4.6M68.6,35.3h-2.6M409.6,35.3h-2.6M68.6,7.9h-4.6M409.6,7.9h-4.6"/>
</g>
<g font-size="14px" text-anchor="end">
<text x="59.2" y="286.3">0.00</text>
<text x="59.2" y="231.5">0.04</text>
<text x="59.2" y="176.8">0.08</text>
<text x="59.2" y="122">0.12</text>
<text x="59.2" y="67.3">0.16</text>
<text x="59.2" y="12.5">0.20</text>
</g>
<g font-size="13.5px">
<text x="92.7" y="304">10<tspan dy="-5.8" font-size="8.8px">-4</tspan></text>
<text x="141.4" y="304">10<tspan dy="-5.8" font-size="8.8px">-3</tspan></text>
<text x="190.1" y="304">10<tspan dy="-5.8" font-size="8.8px">-2</tspan></text>
<text x="238.8" y="304">10<tspan dy="-5.8" font-size="8.8px">-1</tspan></text>
<text x="287.5" y="304">10<tspan dy="-5.8" font-size="8.8px">0</tspan></text>
<text x="336.2" y="304">10<tspan dy="-5.8" font-size="8.8px">1</tspan></text>
<text x="384.9" y="304">10<tspan dy="-5.8" font-size="8.8px">2</tspan></text>
</g>
<text x="239.2" y="325.6" font-size="18.4px" text-anchor="middle">Strain</text>
<text x="4.6" y="27.2" font-size="18px">(a)</text>
<text transform="translate(15.2,146) rotate(-90)" font-size="18.4px">Z<tspan dy="6.4" dx="0.6" font-size="12px">xy</tspan></text>
<text x="77.6" y="25.6" font-size="14px">Applied Shear Rate:</text>
<g font-size="14px">
<path d="M77.2,39.4H108.4" stroke="#222" stroke-width="1" fill="none"/>
<text x="111.4" y="43.8">0.05</text>
<path d="M77.2,57.4H108.4" stroke="#ee5a5e" stroke-width="1" fill="none"/>
<text x="111.4" y="61.8">0.1</text>
<path d="M77.2,75.4H108.4" stroke="#5560e0" stroke-width="1" fill="none"/>
<text x="111.4" y="79.8">0.2</text>
<path d="M77.2,93.4H108.4" stroke="#f07ad8" stroke-width="1" fill="none"/>
<text x="111.4" y="97.8">0.5</text>
</g>
<defs><clipPath id="cb"><rect x="68.6" y="351.2" width="341.0" height="274.00000000000006"/></clipPath></defs>
<g clip-path="url(#cb)" fill="none" stroke-linejoin="round" stroke-linecap="round" stroke-width="1.9">
<path d="M68.6,423.2H409.6" stroke="#7fa6d6" stroke-width="1.1" stroke-dasharray="4.2,2.6" stroke-linecap="butt"/>
<path stroke="#000" d="M69,424.9 71,425.2 73,424.8 74.9,425 76.9,425.4 78.8,425.5 80.7,425.3 82.6,425.2 84.5,425.7 86.3,425.6 88.2,425.3 90,425.2 91.8,425.2 93.6,425.3 95.4,425.2 97.2,425.1 99,425.3 100.7,425.4 102.4,425.7 104.2,425.5 105.9,425.3 107.6,425.3 109.3,425.5 111,425.5 112.7,425.2 114.3,425.1 116,425.5 117.6,425.7 119.2,425.5 120.9,425.1 122.5,425.3 124.1,425.7 125.7,425.6 127.3,425.6 128.8,425.6 130.4,425.6 132,425.5 133.5,425.5 135,425.3 136.6,425.3 138.1,425.3 139.6,425.4 141.1,425.3 142.6,425.3 144.1,425.4 145.6,425.4 147.1,425.3 148.6,425.2 150,425.3 151.5,425.3 152.9,425.1 154.4,425 155.8,425.1 157.2,425.2 158.7,425.4 160.1,425.3 161.5,425.3 162.9,425.4 164.3,425.4 165.7,425.4 167.1,425.3 168.4,425.4 169.8,425.5 171.2,425.4 172.5,425.5 173.9,425.6 175.3,425.6 176.6,425.6 177.9,425.7 179.3,425.5 180.6,425.6 181.9,425.9 183.2,425.9 184.6,425.7 185.9,425.6 187.2,425.5 188.5,425.5 189.8,425.4 191,425.2 192.3,425.3 193.6,425.5 194.9,425.6 196.1,425.6 197.4,425.6 198.7,425.5 199.9,425.4 201.2,425.4 202.4,425.4 203.6,425.4 204.8,425.5 206,425.7 207.2,425.6 208.4,425.5 209.6,425.6 210.7,425.4 211.9,425.3 213,425.3 214.2,425.3 215.3,425.2 216.4,425.2 217.5,425.3 218.6,425.1 219.7,425 220.7,424.8 221.8,424.6 222.9,424.4 223.9,424 224.9,424 226,423.8 227,423.6 228,423.4 229,423 230,422.9 231,422.7 232,422.5 233,422.1 234,421.7 235,421.6 235.9,421.1 236.9,420.6 237.9,420.4 238.8,419.9 239.8,419.3 240.7,419 241.6,418.9 242.6,418.9 243.5,418.4 244.4,417.9 245.3,417.7 246.2,417.5 247.1,417.5 248,416.9 248.9,416.6 249.8,416.5 250.7,415.7 251.6,415.7 252.4,415.1 253.3,414.7 254.2,414.7 255,414.2 255.9,414 256.7,413.1 257.6,412.8 258.4,412.3 259.3,412 260.1,413.4 260.9,413.7 261.8,412.7 262.6,412 263.4,411.6 264.2,410.3 265.1,408.8 265.9,408.1 266.7,406.8 267.5,405.9 268.3,404.3 269.1,402.7 269.9,401.6 270.7,401.1 270.7,401.2"/>
<path stroke="#ee1111" d="M69,425 71,425.2 73,425.6 74.9,425.7 76.9,425.5 78.8,425.6 80.7,425.5 82.6,425.4 84.5,425.3 86.3,425.6 88.2,425.6 90,425.6 91.8,425.8 93.6,425.9 95.4,425.8 97.2,425.3 99,425.4 100.7,425.3 102.4,425.3 104.2,425.7 105.9,425.9 107.6,426 109.3,425.7 111,425.8 112.7,425.5 114.3,425.3 116,425.6 117.6,425.1 119.2,424.9 120.9,425 122.5,424.7 124.1,424.7 125.7,424.8 127.3,425 128.8,425.2 130.4,425.1 132,425.5 133.5,425.4 135,425.3 136.6,425.7 138.1,425.8 139.6,425.5 141.1,425.4 142.6,425.6 144.1,425.7 145.6,425.5 147.1,425.6 148.6,426.2 150,425.9 151.5,425.8 152.9,425.9 154.4,425.5 155.8,425 157.2,425 158.7,424.7 160.1,424.6 161.5,424.8 162.9,424.8 164.3,424.8 165.7,424.9 167.1,424.9 168.4,425 169.8,425.3 171.2,425.4 172.5,425.5 173.9,425.7 175.3,425.8 176.6,425.5 177.9,425.2 179.3,425.2 180.6,425.3 181.9,425.3 183.2,425.4 184.6,425.4 185.9,425.2 187.2,425.3 188.5,425.6 189.8,425.8 191,425.9 192.3,426 193.6,426 194.9,425.5 196.1,425.5 197.4,425.6 198.7,425.6 199.9,425.5 201.2,425.5 202.4,425.6 203.6,425.7 204.8,425.9 206,426.1 207.2,425.9 208.4,426 209.6,426 210.7,426.1 211.9,426.1 213,426 214.2,426.1 215.3,425.9 216.4,426.1 217.5,425.9 218.6,426 219.7,426.2 220.7,426 221.8,426.2 222.9,426 223.9,425.8 224.9,425.9 226,426.1 227,426.2 228,426.1 229,426.2 230,426.4 231,426.6 232,426.6 233,426.6 234,426.8 235,426.6 235.9,426.4 236.9,426.4 237.9,426.3 238.8,426.1 239.8,425.9 240.7,426.3 241.6,426.4 242.6,426.3 243.5,426.3 244.4,426.2 245.3,426.6 246.2,426.8 247.1,426.7 248,426.5 248.9,426.5 249.8,426.5 250.7,426.1 251.6,426.2 252.4,426.5 253.3,426.3 254.2,426.1 255,426.3 255.9,426.7 256.7,426.3 257.6,426.1 258.4,425.5 259.3,424.9 260.1,425 260.9,424.2 261.8,423.9 262.6,423.9 263.4,424.1 264.2,423.7 265.1,422.9 265.9,423.4 266.7,423.2 267.5,422.5 268.3,422.4 269.1,422.3 269.9,420.8 270.7,419.8 271.4,420.5 272.2,419.8 273,420 273.8,419.5 274.6,418.8 275.3,418.2 276.1,416.9 276.9,416.2 277.6,415.4 278.4,415.1 279.1,414.8 279.9,414.8 280.6,414 281.4,413.2 282.1,413.1 282.9,411.9 283.6,410.9 284.4,410.2 285.1,409.5 285.8,409.1 286.5,409.1 287.3,408.9 288,407.5 288.7,406.7 289.4,405.6 290.2,404.9 290.9,404 291.6,402.8 292.3,401.1 293,401.1 293.7,400.4 294.4,399.8 295.1,400.6 295.8,399.1 296.5,398.1 296.6,397"/>
<path stroke="#1414e6" d="M69,425.5 71,425.6 73,425.3 74.9,425.5 76.9,425.4 78.8,425.7 80.7,425.7 82.6,425.4 84.5,425.5 86.3,425.3 88.2,425.1 90,424.9 91.8,425.1 93.6,425.3 95.4,424.9 97.2,424.7 99,424.7 100.7,425 102.4,425.3 104.2,425.4 105.9,425.2 107.6,425.3 109.3,425.4 111,425.4 112.7,425.2 114.3,424.8 116,424.8 117.6,425 119.2,425.1 120.9,425.2 122.5,425.2 124.1,425 125.7,425.1 127.3,425.1 128.8,425.4 130.4,425.6 132,425.4 133.5,425.6 135,425.8 136.6,425.5 138.1,425.3 139.6,425.2 141.1,425.3 142.6,425.2 144.1,424.9 145.6,425.1 147.1,425.2 148.6,425.2 150,425.3 151.5,425.4 152.9,425.2 154.4,424.9 155.8,424.9 157.2,425 158.7,425.2 160.1,425.3 161.5,425.4 162.9,425.5 164.3,425.6 165.7,425.8 167.1,425.6 168.4,425.8 169.8,425.8 171.2,425.9 172.5,425.7 173.9,425.2 175.3,425.3 176.6,425.4 177.9,425.4 179.3,425.5 180.6,425.4 181.9,425.4 183.2,425.2 184.6,425.1 185.9,425.1 187.2,424.9 188.5,424.9 189.8,425.1 191,425.3 192.3,425.7 193.6,425.6 194.9,425.4 196.1,425.8 197.4,425.9 198.7,425.8 199.9,425.7 201.2,425.7 202.4,425.8 203.6,426 204.8,426.1 206,426 207.2,425.9 208.4,425.8 209.6,425.8 210.7,425.8 211.9,426 213,426.1 214.2,426 215.3,426.2 216.4,426.1 217.5,426.2 218.6,426.4 219.7,426.2 220.7,426.1 221.8,425.9 222.9,426.1 223.9,426.5 224.9,426.5 226,426.5 227,426.9 228,426.7 229,426.5 230,426.6 231,426.5 232,426.8 233,426.8 234,426.9 235,427.1 235.9,427.2 236.9,426.9 237.9,426.6 238.8,426.8 239.8,427.2 240.7,426.9 241.6,426.7 242.6,427 243.5,427.1 244.4,427.3 245.3,427.2 246.2,427.4 247.1,427.4 248,427.5 248.9,427.7 249.8,427.8 250.7,427.8 251.6,427.7 252.4,428 253.3,428.3 254.2,428.5 255,428.3 255.9,428 256.7,428 257.6,427.9 258.4,428 259.3,428.2 260.1,428.5 260.9,428.9 261.8,429.2 262.6,429.2 263.4,429.1 264.2,428.8 265.1,428.9 265.9,428.7 266.7,428.5 267.5,428.4 268.3,427.6 269.1,427.4 269.9,427.1 270.7,426.9 271.4,425.7 272.2,425.2 273,425.5 273.8,424.9 274.6,424.1 275.3,423.7 276.1,423.3 276.9,422.5 277.6,421.7 278.4,421.3 279.1,421.9 279.9,421.3 280.6,419 281.4,419.3 282.1,419.5 282.9,419 283.6,417.8 284.4,416.7 285.1,417.1 285.8,415.5 286.5,414 287.3,413.5 288,413 288.7,412.6 289.4,412.4 290.2,411.9 290.9,411.7 291.6,410.6 292.3,410.1 293,408.5 293.7,406.6 294.4,405.8 295.1,405.4 295.8,405.6 296.5,406 297.2,405.2 297.9,404.4 298.6,404.9 299.3,403.6 299.9,403.6 300.6,402.8 301.3,401.6 302,399.8 302.7,398.9 303.3,398.4 304,398.4 304.7,397.5 305.3,396.3 306,397.6 306.5,395.8"/>
<path stroke="#f514dc" d="M69,425.3 71,425.4 73,425.5 74.9,425.7 76.9,425.3 78.8,425.4 80.7,425.7 82.6,425.8 84.5,425.8 86.3,425.7 88.2,425.6 90,425.8 91.8,425.9 93.6,425.7 95.4,425.7 97.2,425.6 99,425.3 100.7,425 102.4,425.2 104.2,425.1 105.9,424.8 107.6,425 109.3,425.1 111,425.3 112.7,425.3 114.3,425.3 116,425.3 117.6,425.4 119.2,425.6 120.9,425.4 122.5,425.2 124.1,425.1 125.7,425.2 127.3,425.3 128.8,425.3 130.4,425.1 132,425.4 133.5,425.5 135,425 136.6,425.1 138.1,425.6 139.6,425.5 141.1,425.5 142.6,425.6 144.1,425.6 145.6,425.4 147.1,425.6 148.6,425.8 150,425.6 151.5,425.5 152.9,425.2 154.4,425.3 155.8,425.3 157.2,425.3 158.7,425.2 160.1,425.2 161.5,425.1 162.9,424.9 164.3,425.1 165.7,424.8 167.1,425 168.4,424.9 169.8,424.8 171.2,424.9 172.5,424.9 173.9,425.2 175.3,425.4 176.6,425.5 177.9,425.5 179.3,425.5 180.6,425.4 181.9,425.6 183.2,425.6 184.6,425.4 185.9,425.3 187.2,425.3 188.5,425.4 189.8,425.3 191,425.5 192.3,425.6 193.6,425.4 194.9,425.6 196.1,425.8 197.4,425.6 198.7,425.6 199.9,425.7 201.2,425.6 202.4,425.7 203.6,425.7 204.8,425.8 206,426.2 207.2,426.4 208.4,426.5 209.6,426.4 210.7,426 211.9,425.9 213,425.8 214.2,425.8 215.3,425.7 216.4,425.9 217.5,426 218.6,425.9 219.7,426.1 220.7,426.3 221.8,426.4 222.9,426.6 223.9,426.4 224.9,426.4 226,426.7 227,426.7 228,426.5 229,426.7 230,426.9 231,426.9 232,426.9 233,426.9 234,426.9 235,426.8 235.9,427 236.9,427.2 237.9,427.2 238.8,427.3 239.8,427.5 240.7,427.5 241.6,427.5 242.6,427.7 243.5,427.9 244.4,428 245.3,428.2 246.2,428.5 247.1,428.6 248,428.6 248.9,428.6 249.8,428.7 250.7,428.5 251.6,428.6 252.4,429.1 253.3,429.2 254.2,429.2 255,429.4 255.9,429.6 256.7,430 257.6,430.1 258.4,430.1 259.3,430.3 260.1,430.2 260.9,430.2 261.8,430.2 262.6,430.3 263.4,430.6 264.2,430.7 265.1,430.5 265.9,430.4 266.7,430.5 267.5,430.4 268.3,430.5 269.1,430.7 269.9,431.1 270.7,431.6 271.4,431.2 272.2,431.2 273,431.7 273.8,431.8 274.6,431.5 275.3,431.1 276.1,431 276.9,430.9 277.6,430.5 278.4,430.5 279.1,430.6 279.9,431 280.6,431.4 281.4,431.1 282.1,431.5 282.9,431.1 283.6,430.4 284.4,430.1 285.1,429.4 285.8,430.1 286.5,430.1 287.3,429.5 288,430 288.7,429.1 289.4,429.3 290.2,429.1 290.9,428.6 291.6,427.7 292.3,427.1 293,426.9 293.7,426.4 294.4,426.4 295.1,426 295.8,425 296.5,423.9 297.2,422.9 297.9,423 298.6,422.3 299.3,420.9 299.9,421.1 300.6,420.6 301.3,419.3 302,418 302.7,417.5 303.3,416.9 304,416.5 304.7,415.1 305.3,415.4 306,416 306.7,414.4 307.3,413.2 308,413 308.6,413.5 309.3,412.1 310,411.3 310.6,411 311.3,409.8 311.9,408.6 312.6,408.1 313.2,407.9 313.8,407 314.5,406.5 315.1,405.2 315.8,403.2 316.4,402.7 317,401.6 317.7,400.8 318.3,401 318.9,400.8 319.6,398.7 320.2,396.1 320.4,396"/>
<path stroke="#0a8a1e" d="M69,424.6 71,424.5 73,424.9 74.9,425.3 76.9,425.1 78.8,425.1 80.7,425.5 82.6,425.4 84.5,425.3 86.3,425.4 88.2,425.2 90,425.4 91.8,425.5 93.6,425.6 95.4,425.9 97.2,425.7 99,425.9 100.7,425.8 102.4,425.8 104.2,426 105.9,425.4 107.6,425.3 109.3,425.2 111,425.3 112.7,425.1 114.3,425.4 116,425.5 117.6,424.9 119.2,425.2 120.9,425.6 122.5,425.5 124.1,425.4 125.7,425.3 127.3,425.2 128.8,425 130.4,424.7 132,424.8 133.5,424.8 135,424.9 136.6,425.2 138.1,425.5 139.6,425.4 141.1,425.2 142.6,425.4 144.1,425.4 145.6,425.6 147.1,425.7 148.6,425.6 150,425.5 151.5,425.5 152.9,425.5 154.4,425.4 155.8,425.3 157.2,425.3 158.7,425.3 160.1,425.4 161.5,425.5 162.9,425.4 164.3,425.1 165.7,425.1 167.1,425 168.4,425.1 169.8,425.4 171.2,425.4 172.5,425.2 173.9,425.1 175.3,425.4 176.6,425.1 177.9,425.2 179.3,425.6 180.6,425.7 181.9,425.4 183.2,425.6 184.6,425.9 185.9,425.8 187.2,426 188.5,426.1 189.8,425.9 191,425.8 192.3,425.9 193.6,425.8 194.9,425.8 196.1,426 197.4,426 198.7,425.9 199.9,425.9 201.2,425.4 202.4,425.5 203.6,425.5 204.8,425.5 206,425.5 207.2,425.7 208.4,426.1 209.6,426.2 210.7,426.3 211.9,426.6 213,426.5 214.2,426 215.3,426.3 216.4,425.9 217.5,426 218.6,426.2 219.7,426.2 220.7,426.7 221.8,426.9 222.9,427 223.9,427 224.9,426.9 226,427 227,426.8 228,426.7 229,426.7 230,426.8 231,426.9 232,427 233,427.2 234,427.4 235,427.4 235.9,427.6 236.9,427.7 237.9,428 238.8,428.2 239.8,428.1 240.7,428 241.6,428.1 242.6,428.1 243.5,428 244.4,428.2 245.3,428.1 246.2,428 247.1,427.9 248,428.4 248.9,428.6 249.8,428.5 250.7,429 251.6,429.4 252.4,429.7 253.3,429.5 254.2,429.8 255,430.1 255.9,430 256.7,430.3 257.6,430.6 258.4,430.9 259.3,431 260.1,431.3 260.9,431.8 261.8,431.8 262.6,431.9 263.4,432.2 264.2,432.1 265.1,432.1 265.9,432.2 266.7,432.3 267.5,432.4 268.3,432.5 269.1,432.8 269.9,433.1 270.7,433.5 271.4,433.8 272.2,433.7 273,433.8 273.8,433.9 274.6,434.3 275.3,434.4 276.1,434.4 276.9,434.7 277.6,434.8 278.4,435.1 279.1,435.5 279.9,436 280.6,436 281.4,435.4 282.1,435.1 282.9,435.6 283.6,435.8 284.4,435.8 285.1,436 285.8,436.7 286.5,436.6 287.3,435.7 288,435.5 288.7,435.2 289.4,435.7 290.2,435.3 290.9,434 291.6,434.2 292.3,433.5 293,431.9 293.7,432.2 294.4,432.5 295.1,432.2 295.8,431.2 296.5,431.3 297.2,431.5 297.9,431.7 298.6,431.7 299.3,431 299.9,430 300.6,429.1 301.3,429.8 302,428.9 302.7,428.1 303.3,427.4 304,426.5 304.7,426.2 305.3,423.8 306,422.7 306.7,421.2 307.3,420 308,420.8 308.6,419.5 309.3,419 310,417.8 310.6,417.2 311.3,416.6 311.9,415.8 312.6,415.3 313.2,414.4 313.8,413.6 314.5,411.5 315.1,410.4 315.8,410.5 316.4,411.4 317,411.3 317.7,411.1 318.3,411 318.9,411.1 319.6,410.1 320.2,408.6 320.8,408.3 321.4,407.3 322,406.5 322.7,404.9 323.3,404.2 323.9,404.5 324.5,403.3 325.2,402.2 325.8,401.8 326.4,402.3 327,402.1 327.6,402 328.3,400.8 328.9,398.9 329.5,398.6 330.1,398.4 330.7,398.6 331.3,397.4 331.6,395.7"/>
<path stroke="#0a0a96" d="M69,425.5 71,425.5 73,425.2 74.9,424.7 76.9,424.8 78.8,424.9 80.7,425.2 82.6,424.8 84.5,425.1 86.3,425.5 88.2,425 90,425 91.8,425.1 93.6,425.6 95.4,425.7 97.2,425.5 99,425.5 100.7,425.4 102.4,425.2 104.2,425.3 105.9,425.8 107.6,425.8 109.3,425.7 111,425.5 112.7,425.4 114.3,425.5 116,425.3 117.6,425.2 119.2,424.9 120.9,424.9 122.5,424.8 124.1,425 125.7,425.3 127.3,425.1 128.8,425 130.4,424.8 132,425 133.5,425 135,425.1 136.6,425.1 138.1,425.3 139.6,425.6 141.1,425.5 142.6,425.5 144.1,425.7 145.6,425.5 147.1,425.3 148.6,425.2 150,425.2 151.5,425.4 152.9,425.1 154.4,425.4 155.8,425.3 157.2,425 158.7,425.1 160.1,425.1 161.5,424.9 162.9,424.7 164.3,424.8 165.7,425.5 167.1,425.4 168.4,425.3 169.8,425.3 171.2,425.5 172.5,425.6 173.9,425.6 175.3,425.4 176.6,425.3 177.9,425.4 179.3,425.7 180.6,426.1 181.9,425.9 183.2,425.7 184.6,425.9 185.9,425.9 187.2,425.7 188.5,425.5 189.8,425.5 191,425.1 192.3,425.1 193.6,425.3 194.9,425.4 196.1,425.7 197.4,425.7 198.7,425.8 199.9,426.1 201.2,426.1 202.4,426.1 203.6,426.2 204.8,426.1 206,426.4 207.2,426.5 208.4,426.4 209.6,426.4 210.7,426.2 211.9,426.2 213,426 214.2,425.8 215.3,425.8 216.4,426 217.5,426 218.6,426.3 219.7,426.7 220.7,426.5 221.8,426.5 222.9,426.8 223.9,426.7 224.9,426.8 226,426.6 227,426.8 228,426.7 229,426.6 230,426.6 231,426.9 232,427.1 233,427.3 234,427.1 235,427.2 235.9,427.4 236.9,427.5 237.9,427.8 238.8,427.6 239.8,427.6 240.7,427.5 241.6,427.9 242.6,428.2 243.5,428.1 244.4,428.1 245.3,428.7 246.2,429 247.1,429 248,429.2 248.9,429.5 249.8,429.9 250.7,430 251.6,430 252.4,430.3 253.3,430.5 254.2,431 255,431.1 255.9,431.5 256.7,431.9 257.6,432.2 258.4,432.5 259.3,432.6 260.1,432.8 260.9,433.1 261.8,433.5 262.6,433.7 263.4,433.8 264.2,434 265.1,434.2 265.9,434.3 266.7,434.7 267.5,435.2 268.3,435.5 269.1,435.9 269.9,436.5 270.7,436.8 271.4,437.1 272.2,437.3 273,437.5 273.8,437.7 274.6,437.5 275.3,437.6 276.1,438 276.9,438.5 277.6,439 278.4,439.5 279.1,439.7 279.9,439.9 280.6,440.2 281.4,439.8 282.1,439.6 282.9,440.1 283.6,440.3 284.4,440.3 285.1,440.7 285.8,441 286.5,441.2 287.3,441.6 288,441.6 288.7,441.7 289.4,442 290.2,442 290.9,441.8 291.6,442.1 292.3,442.2 293,442.2 293.7,442 294.4,442.1 295.1,442.8 295.8,443.2 296.5,443.2 297.2,442.8 297.9,441.5 298.6,441.4 299.3,440.3 299.9,440 300.6,440.1 301.3,439.8 302,440.1 302.7,440.1 303.3,440.2 304,440.1 304.7,440.3 305.3,439.5 306,438 306.7,436.9 307.3,436.7 308,436.3 308.6,436.1 309.3,435.3 310,434.4 310.6,435.5 311.3,435.5 311.9,435.5 312.6,434.7 313.2,433.2 313.8,432.3 314.5,430.8 315.1,429.3 315.8,428.9 316.4,427.5 317,424.9 317.7,425.8 318.3,425.6 318.9,423.9 319.6,422.2 320.2,421.6 320.8,421.6 321.4,420.2 322,420.5 322.7,421.4 323.3,422.1 323.9,422.6 324.5,421.5 325.2,420.3 325.8,417.5 326.4,416.3 327,415.3 327.6,414.4 328.3,413.2 328.9,411 329.5,412.3 330.1,410.9 330.7,407.6 331.3,406.5 332,406.2 332.6,406.2 333.2,402.4 333.8,401.2 334.4,400 335,398.9 335.6,398.4 336.2,396.3 336.9,395.4 337.5,395.3 338.1,395 338.7,394.6 338.8,393.5"/>
<path stroke="#8a22ee" d="M69,425.3 71,425.2 73,424.9 74.9,424.7 76.9,424.9 78.8,425.1 80.7,425.2 82.6,425.1 84.5,425.3 86.3,425.2 88.2,425.3 90,425.3 91.8,425.1 93.6,425.3 95.4,425.2 97.2,425.1 99,425.2 100.7,425.3 102.4,425.1 104.2,425 105.9,425 107.6,425.2 109.3,425 111,424.8 112.7,425.1 114.3,424.9 116,425.1 117.6,425.1 119.2,425.4 120.9,425.2 122.5,425.1 124.1,425.3 125.7,425.3 127.3,425.4 128.8,425.8 130.4,425.7 132,425.4 133.5,425.3 135,425.3 136.6,425.6 138.1,425.5 139.6,425.5 141.1,425.5 142.6,425.4 144.1,425.7 145.6,425.8 147.1,425.5 148.6,425.4 150,425.5 151.5,425.3 152.9,425.4 154.4,425.4 155.8,425.1 157.2,425.5 158.7,425.5 160.1,425.4 161.5,425.4 162.9,425.3 164.3,425.5 165.7,425.6 167.1,425.5 168.4,425.5 169.8,425.1 171.2,425 172.5,425 173.9,424.6 175.3,424.8 176.6,425 177.9,425.1 179.3,425.4 180.6,425.6 181.9,425.8 183.2,426.1 184.6,425.9 185.9,425.8 187.2,425.9 188.5,425.8 189.8,425.7 191,425.6 192.3,425.6 193.6,425.7 194.9,425.6 196.1,425.9 197.4,426 198.7,425.9 199.9,426 201.2,426.1 202.4,426.1 203.6,426.1 204.8,426 206,425.8 207.2,425.9 208.4,425.8 209.6,425.7 210.7,425.7 211.9,425.8 213,425.9 214.2,425.9 215.3,426.4 216.4,426.5 217.5,426.5 218.6,426.3 219.7,426.4 220.7,426.6 221.8,426.3 222.9,426.4 223.9,426.4 224.9,426.3 226,426.1 227,426.3 228,426.8 229,426.9 230,426.9 231,426.9 232,427.3 233,427.4 234,427.4 235,427.5 235.9,427.4 236.9,427.5 237.9,427.6 238.8,427.6 239.8,427.9 240.7,427.9 241.6,428.1 242.6,428.4 243.5,428.6 244.4,428.7 245.3,428.5 246.2,428.5 247.1,428.8 248,429.3 248.9,429.3 249.8,429.6 250.7,429.9 251.6,430.2 252.4,430.7 253.3,431.1 254.2,431.5 255,431.8 255.9,432.1 256.7,432.4 257.6,432.5 258.4,432.6 259.3,432.9 260.1,433.1 260.9,433.5 261.8,434.1 262.6,434.5 263.4,434.6 264.2,435.2 265.1,435.8 265.9,436.2 266.7,436.4 267.5,436.8 268.3,437.4 269.1,438.2 269.9,439.3 270.7,439.9 271.4,440.6 272.2,441.3 273,442.1 273.8,442.6 274.6,443.2 275.3,443.7 276.1,444.4 276.9,445.2 277.6,445.9 278.4,446.9 279.1,447.8 279.9,448.7 280.6,449.3 281.4,449.8 282.1,450.7 282.9,452 283.6,452.5 284.4,452.8 285.1,453.2 285.8,453.7 286.5,454.1 287.3,454.1 288,454.4 288.7,455.1 289.4,455.8 290.2,456 290.9,456 291.6,455.9 292.3,455.9 293,456.2 293.7,456.2 294.4,455.8 295.1,456.1 295.8,456.5 296.5,456.4 297.2,456.5 297.9,456.2 298.6,455.6 299.3,455.8 299.9,456.9 300.6,457.6 301.3,457.2 302,457.7 302.7,457.5 303.3,456.6 304,455.7 304.7,455.9 305.3,456.4 306,456 306.7,456.1 307.3,456.1 308,455.1 308.6,454.5 309.3,454.1 310,453.9 310.6,452.8 311.3,452.8 311.9,453.1 312.6,453.6 313.2,454.1 313.8,451.7 314.5,452.1 315.1,452.8 315.8,451.2 316.4,449.5 317,449.5 317.7,449.8 318.3,448.8 318.9,448.3 319.6,448.3 320.2,446.8 320.8,446.5 321.4,445.2 322,443.5 322.7,441.4 323.3,441.3 323.9,442.1 324.5,440.6 325.2,439.7 325.8,438.3 326.4,436.9 327,436.8 327.6,437 328.3,437 328.9,436.3 329.5,435.6 330.1,434.1 330.7,433.2 331.3,431.5 332,427.5 332.6,427.1 333.2,427.7 333.8,428.6 334.4,427.3 335,426.6 335.6,429.3 336.2,427.4 336.9,426.6 337.5,428.2 338.1,429.3 338.7,427.2 339.3,427.7 339.9,429.6 340.5,425.9 341.1,422.5 341.7,421.5 342.3,420.7 342.9,417.5 343.6,418.8 344.2,420.2 344.8,418.7 345.4,416.6 346,416.7 346.6,417.2 347.2,414.2 347.8,415.2 348.4,418 349,414.1 349.6,410.4 350.2,410.6 350.8,408.9 351.4,407.1 352,409.1 352.6,407.3 353.2,406.7 353.8,404.1 354.4,400.5 355,398.2 355.6,396 356.2,396.8 356.8,395.3 357.3,393.2 357.9,391.8 358.5,390.1 359.1,386.9 359.7,383.6 360.3,382.8 360.9,387.7 361.5,388.9 362.1,385.1 362.7,383.7 363.3,383.8 363.9,384.5 364.4,383.2 365,380 365.6,379.1 366.2,379.1 366.8,381.2 367.4,383.8 368,378.8 368.6,377.9 369.1,377.3 369.7,375.4 370.3,374.7 370.9,372.5 371.5,372.3 372,370.3"/>
<path stroke="#8c0a8c" d="M69,425.3 71,425.4 73,425.4 74.9,425 76.9,424.5 78.8,424.6 80.7,424.8 82.6,424.8 84.5,425.1 86.3,425.1 88.2,425.3 90,425.4 91.8,425.3 93.6,425 95.4,424.8 97.2,424.9 99,424.9 100.7,424.9 102.4,425.1 104.2,425.3 105.9,425.4 107.6,425.6 109.3,425.6 111,425.7 112.7,425.6 114.3,425.4 116,425.3 117.6,425.2 119.2,425.2 120.9,425.2 122.5,424.8 124.1,424.7 125.7,424.8 127.3,425 128.8,425.1 130.4,425.3 132,425.3 133.5,425.4 135,425.4 136.6,425.2 138.1,425.4 139.6,425.5 141.1,425.3 142.6,425.4 144.1,425.6 145.6,425.5 147.1,425.4 148.6,425.3 150,425.5 151.5,425.5 152.9,425.6 154.4,425.6 155.8,425.7 157.2,425.1 158.7,425.1 160.1,425 161.5,425.1 162.9,425.4 164.3,425.1 165.7,425.3 167.1,425.4 168.4,425.5 169.8,425.5 171.2,425.2 172.5,425.1 173.9,425.2 175.3,425.4 176.6,425.3 177.9,424.9 179.3,425.3 180.6,425.6 181.9,425.7 183.2,425.9 184.6,425.6 185.9,425.5 187.2,425.3 188.5,425.5 189.8,425.5 191,425.3 192.3,425.2 193.6,425.3 194.9,425.6 196.1,425.2 197.4,425.3 198.7,425.6 199.9,425.7 201.2,425.7 202.4,426.1 203.6,425.8 204.8,425.5 206,425.6 207.2,426.1 208.4,426.1 209.6,425.8 210.7,425.9 211.9,426 213,426.1 214.2,426.2 215.3,426.3 216.4,426.3 217.5,426.1 218.6,426.3 219.7,426.3 220.7,426.1 221.8,426.1 222.9,426.5 223.9,426.8 224.9,426.6 226,426.6 227,426.8 228,426.8 229,426.9 230,427 231,426.9 232,427.1 233,427.2 234,427.4 235,427.5 235.9,427.6 236.9,427.9 237.9,428.1 238.8,428 239.8,428.2 240.7,428.1 241.6,428 242.6,428 243.5,427.8 244.4,428.2 245.3,428.2 246.2,428.5 247.1,428.7 248,429.1 248.9,429.7 249.8,429.8 250.7,430.3 251.6,430.4 252.4,430.7 253.3,430.9 254.2,431.1 255,431.8 255.9,432.4 256.7,432.6 257.6,432.6 258.4,432.8 259.3,433.2 260.1,433.3 260.9,433.7 261.8,434.2 262.6,434.8 263.4,435.1 264.2,435.4 265.1,435.9 265.9,436.6 266.7,437.1 267.5,437.6 268.3,438.3 269.1,438.9 269.9,439.3 270.7,440 271.4,440.6 272.2,441 273,441.8 273.8,442.3 274.6,443 275.3,443.6 276.1,444.3 276.9,445.5 277.6,446.1 278.4,446.7 279.1,447.3 279.9,448 280.6,448.9 281.4,449.8 282.1,450.8 282.9,451.1 283.6,451.8 284.4,452.7 285.1,453.5 285.8,454.2 286.5,454.9 287.3,455.7 288,455.9 288.7,456.8 289.4,457.7 290.2,458.8 290.9,459.6 291.6,460.1 292.3,460.7 293,461.4 293.7,462 294.4,462.8 295.1,463.4 295.8,463.8 296.5,464.9 297.2,465.9 297.9,466.2 298.6,467.1 299.3,467.8 299.9,467.5 300.6,467.6 301.3,468.2 302,469.1 302.7,469.4 303.3,469.8 304,470.6 304.7,470.9 305.3,471.8 306,471.3 306.7,471.4 307.3,470.5 308,470 308.6,470.1 309.3,469.6 310,470.1 310.6,470.2 311.3,470.5 311.9,470 312.6,469.9 313.2,470.1 313.8,470.8 314.5,471.4 315.1,470.9 315.8,469 316.4,468.5 317,467.7 317.7,468 318.3,467.9 318.9,467.2 319.6,469.6 320.2,469 320.8,467.6 321.4,468.4 322,467.4 322.7,466.2 323.3,466.6 323.9,466.1 324.5,465.6 325.2,465 325.8,462.8 326.4,462.9 327,460.5 327.6,461.8 328.3,464.8 328.9,461.8 329.5,461.7 330.1,460.3 330.7,462.7 331.3,465.3 332,459.8 332.6,456.5 333.2,458.1 333.8,458.4 334.4,459.9 335,457.1 335.6,457.9 336.2,460.9 336.9,465.2 337.5,464.9 338.1,460.4 338.7,459.8 339.3,454.7 339.9,451.1 340.5,454 341.1,454.4 341.7,452.9 342.3,452.5 342.9,454.5 343.6,459.7 344.2,456.3 344.8,457.4 345.4,457.4 346,453.8 346.6,452.2 347.2,450.8 347.8,449.2 348.4,447.9 349,449.2 349.6,449.6 350.2,446.5 350.8,444.7 351.4,445.2 352,446 352.6,442.9 353.2,444.1 353.8,447.7 354.4,443.3 355,440.1 355.6,441.9 356.2,442.6 356.8,445.2 357.3,449.3 357.9,445 358.5,444.5 359.1,444.4 359.7,445.8 360.3,444.7 360.9,439.6 361.5,444.9 362.1,441.4 362.7,439.5 363.3,439 363.9,431.9 364.4,433.3 365,428.7 365.6,428.4 366.2,433.5 366.8,429.4 367.4,431.2 368,436.7 368.6,439.9 369.1,436.1 369.7,430.2 370.3,427.6 370.9,429.7 371.5,429.4 372.1,427.4 372.6,428.6 373.2,423.3 373.8,424 374.4,429.5 375,429.9 375.6,427.3 376.1,428.1 376.7,433.1 377.3,428.2 377.9,427.3 378.5,428.6 379,432.9 379.6,437.9 380.2,432.5 380.8,434.4 381.3,432.3 381.9,427.2 382.5,427.6 383.1,419.5 383.6,419.5 384,419.5"/>
<path stroke="#8a0a14" d="M69,425.5 71,425.6 73,425.4 74.9,425.4 76.9,425.3 78.8,425 80.7,424.9 82.6,425.1 84.5,424.9 86.3,425.1 88.2,425.4 90,425.3 91.8,425.2 93.6,425.2 95.4,425.5 97.2,425.5 99,425.3 100.7,425.6 102.4,425.6 104.2,425.5 105.9,425.6 107.6,425.3 109.3,425.4 111,425.6 112.7,425.4 114.3,425.6 116,426 117.6,426.1 119.2,425.9 120.9,425.8 122.5,426 124.1,425.7 125.7,425.3 127.3,425.3 128.8,425 130.4,424.9 132,425 133.5,425 135,425.2 136.6,425.3 138.1,425.2 139.6,425.2 141.1,425.2 142.6,425.3 144.1,425.2 145.6,424.8 147.1,425.2 148.6,425.2 150,425 151.5,425.2 152.9,425.6 154.4,425.8 155.8,425.4 157.2,425 158.7,425.4 160.1,425.2 161.5,424.9 162.9,425 164.3,425.2 165.7,425.3 167.1,425.2 168.4,425.3 169.8,425 171.2,425 172.5,425.3 173.9,425.4 175.3,425.3 176.6,425.4 177.9,425.3 179.3,425.6 180.6,425.5 181.9,425.3 183.2,425.4 184.6,425.6 185.9,426 187.2,426 188.5,425.5 189.8,425.6 191,425.9 192.3,425.8 193.6,425.5 194.9,425.4 196.1,425.6 197.4,425.6 198.7,425.6 199.9,425.9 201.2,426.3 202.4,426.2 203.6,426.2 204.8,426.1 206,425.9 207.2,426 208.4,425.9 209.6,426.2 210.7,426.7 211.9,426.8 213,426.9 214.2,426.7 215.3,426.4 216.4,426.7 217.5,426.6 218.6,426.5 219.7,426.9 220.7,426.8 221.8,426.5 222.9,426.6 223.9,426.6 224.9,426.5 226,426.5 227,426.6 228,426.8 229,427.1 230,427.2 231,427.2 232,427.3 233,427.2 234,427.4 235,427.6 235.9,427.4 236.9,427.4 237.9,427.4 238.8,427.6 239.8,427.7 240.7,427.7 241.6,427.9 242.6,428 243.5,428 244.4,428.2 245.3,428.3 246.2,428.4 247.1,428.7 248,428.8 248.9,429.1 249.8,429.4 250.7,429.3 251.6,429.6 252.4,430 253.3,430.4 254.2,430.7 255,431 255.9,431.6 256.7,432 257.6,432.3 258.4,432.9 259.3,433.3 260.1,433.8 260.9,434.2 261.8,434.3 262.6,434.7 263.4,435.1 264.2,435.6 265.1,436.1 265.9,436.5 266.7,436.9 267.5,437.2 268.3,437.8 269.1,438.6 269.9,439.4 270.7,439.9 271.4,440.5 272.2,441.2 273,441.9 273.8,442.5 274.6,443.3 275.3,443.9 276.1,444.3 276.9,444.9 277.6,445.7 278.4,446.6 279.1,447 279.9,447.8 280.6,448.8 281.4,449.8 282.1,450.7 282.9,451.4 283.6,452.1 284.4,452.9 285.1,453.6 285.8,454 286.5,454.7 287.3,455.6 288,456.4 288.7,457.1 289.4,457.9 290.2,458.6 290.9,459.5 291.6,460.4 292.3,461 293,461.8 293.7,462.3 294.4,462.8 295.1,463.5 295.8,464 296.5,464.6 297.2,465.2 297.9,466.1 298.6,466.8 299.3,467.5 299.9,468.1 300.6,468.7 301.3,469.3 302,469.6 302.7,470 303.3,470.5 304,471.2 304.7,472.1 305.3,472.5 306,474.1 306.7,475 307.3,474.7 308,475.2 308.6,476 309.3,476.6 310,477.1 310.6,477.9 311.3,478.8 311.9,479.3 312.6,480.3 313.2,482.6 313.8,483.5 314.5,484.5 315.1,485.3 315.8,486.8 316.4,487.4 317,486.6 317.7,487.2 318.3,488 318.9,488.9 319.6,488.6 320.2,488.3 320.8,488.8 321.4,489.4 322,488.8 322.7,489.4 323.3,491 323.9,490.5 324.5,490.6 325.2,490.1 325.8,490.2 326.4,489.6 327,488.1 327.6,488.1 328.3,489.6 328.9,489.4 329.5,488.3 330.1,490.8 330.7,491.5 331.3,492 332,494.8 332.6,495.7 333.2,494.6 333.8,493.9 334.4,494.1 335,495.4 335.6,493.7 336.2,493.3 336.9,492.8 337.5,496.2 338.1,498.5 338.7,497.2 339.3,499.3 339.9,497.8 340.5,496.1 341.1,494.3 341.7,494 342.3,493 342.9,494.4 343.6,494.1 344.2,492.8 344.8,492.7 345.4,490.2 346,490.1 346.6,489.2 347.2,491 347.8,492.7 348.4,490.4 349,491.1 349.6,494.7 350.2,493.3 350.8,490.3 351.4,490.8 352,494 352.6,493.8 353.2,492 353.8,491.8 354.4,486 355,485.1 355.6,483.6 356.2,481.9 356.8,482.3 357.3,484.7 357.9,488.5 358.5,484.6 359.1,491.8 359.7,493.9 360.3,489.3 360.9,487.8 361.5,486.6 362.1,483.9 362.7,479.9 363.3,479.7 363.9,475.9 364.4,477.6 365,477.5 365.6,480 366.2,486.7 366.8,478.3 367.4,476.6 368,479.4 368.6,477.7 369.1,477.8 369.7,476.4 370.3,486.8 370.9,486 371.5,481 372.1,484.6 372.6,488 373.2,487.5 373.8,481.1 374.4,480.8 375,483.4 375.6,481.5 376.1,480.1 376.7,476.3 377.3,472.9 377.9,468.7 378.5,459.8 379,460.9 379.6,467.1 380.2,471.8 380.8,470.8 381.3,469.3 381.9,470.9 382.5,475 383.1,480.9 383.6,482.1 384.2,475.2 384.8,475.5 385.4,476.5 385.9,475.7 386.5,474.4 387.1,468.1 387.7,475.5 388.2,486.5 388.8,489.2 389.4,493.2 389.9,488.8 390.5,484.2 391.1,484.6 391.6,484.1 392.2,482 392.8,483.2 393.3,474.8 393.9,471.7 394.5,482.9 394.6,488.8"/>
<path stroke="#8c8c14" d="M69,424.8 71,424.8 73,424.8 74.9,425 76.9,425.2 78.8,424.9 80.7,425.2 82.6,425.4 84.5,425.2 86.3,425.1 88.2,425.4 90,425.4 91.8,425.1 93.6,425.3 95.4,425.3 97.2,425.1 99,425.5 100.7,425.4 102.4,425.6 104.2,425.5 105.9,425 107.6,425.3 109.3,425.6 111,425.4 112.7,425.3 114.3,425.1 116,424.8 117.6,424.9 119.2,425.4 120.9,425.3 122.5,425 124.1,425.2 125.7,425.5 127.3,425.2 128.8,424.6 130.4,424.8 132,425.3 133.5,425.1 135,424.9 136.6,425.3 138.1,425.2 139.6,425.3 141.1,425.4 142.6,425.3 144.1,425.1 145.6,424.9 147.1,425.2 148.6,425.5 150,425.4 151.5,424.9 152.9,424.9 154.4,425.2 155.8,425.1 157.2,424.9 158.7,424.8 160.1,425.2 161.5,425.3 162.9,425.2 164.3,425.5 165.7,425.6 167.1,425.6 168.4,425.4 169.8,425.6 171.2,425.7 172.5,425.7 173.9,425.6 175.3,425.7 176.6,425.8 177.9,425.8 179.3,425.8 180.6,425.8 181.9,426 183.2,426.1 184.6,426 185.9,425.8 187.2,425.5 188.5,425.4 189.8,425.7 191,425.7 192.3,425.6 193.6,425.8 194.9,426.1 196.1,426 197.4,426 198.7,426.3 199.9,426.2 201.2,426.2 202.4,426.1 203.6,426.2 204.8,426.2 206,426 207.2,425.7 208.4,425.9 209.6,425.9 210.7,425.9 211.9,426.1 213,426.2 214.2,426.2 215.3,425.9 216.4,426 217.5,426 218.6,426.2 219.7,426.1 220.7,426.4 221.8,426.5 222.9,426.7 223.9,426.8 224.9,426.5 226,426.4 227,426.3 228,426.5 229,426.6 230,426.7 231,426.8 232,427.4 233,427.4 234,427 235,427.2 235.9,427.3 236.9,427.3 237.9,427.4 238.8,427.6 239.8,427.8 240.7,427.9 241.6,427.8 242.6,428 243.5,428.5 244.4,428.9 245.3,429 246.2,429.2 247.1,429.5 248,429.5 248.9,429.9 249.8,430 250.7,430.3 251.6,430.3 252.4,430.4 253.3,430.8 254.2,431.1 255,431.6 255.9,431.8 256.7,432.2 257.6,432.5 258.4,433 259.3,433.5 260.1,433.8 260.9,433.9 261.8,434 262.6,434.6 263.4,435.2 264.2,435.6 265.1,435.9 265.9,436.7 266.7,437.4 267.5,437.9 268.3,438.2 269.1,438.7 269.9,439.4 270.7,440 271.4,440.7 272.2,441.3 273,442 273.8,442.9 274.6,443.4 275.3,443.8 276.1,444.6 276.9,445 277.6,445.4 278.4,446.3 279.1,447.4 279.9,448.1 280.6,448.9 281.4,449.8 282.1,450.4 282.9,451.1 283.6,451.9 284.4,452.8 285.1,453.4 285.8,454 286.5,454.9 287.3,455.8 288,456.5 288.7,457.1 289.4,457.6 290.2,458.2 290.9,458.9 291.6,459.6 292.3,460.5 293,461.3 293.7,462 294.4,462.6 295.1,463.2 295.8,464.2 296.5,465.1 297.2,465.5 297.9,466 298.6,466.8 299.3,467.6 299.9,468 300.6,468.8 301.3,469.6 302,470.2 302.7,470.9 303.3,471.4 304,472.2 304.7,472.7 305.3,473 306,473.7 306.7,474.3 307.3,475 308,475.3 308.6,475.7 309.3,476.3 310,477.6 310.6,478.7 311.3,478.9 311.9,479.7 312.6,480.7 313.2,481.6 313.8,481.7 314.5,482.1 315.1,482.6 315.8,483.5 316.4,484.2 317,485 317.7,486.6 318.3,487.2 318.9,488.8 319.6,491.4 320.2,493.6 320.8,495.5 321.4,497.5 322,500.1 322.7,502.5 323.3,504.6 323.9,506.8 324.5,509.5 325.2,511.7 325.8,513.9 326.4,515.2 327,516.9 327.6,517.7 328.3,517.3 328.9,517.7 329.5,518.3 330.1,519.4 330.7,519.8 331.3,519.8 332,520.1 332.6,521.7 333.2,521.6 333.8,521.4 334.4,522.6 335,524.3 335.6,525.8 336.2,525.9 336.9,526.5 337.5,528.7 338.1,529.1 338.7,528.7 339.3,529 339.9,530.2 340.5,532.1 341.1,532.3 341.7,533.8 342.3,536.9 342.9,538.3 343.6,538.7 344.2,539.3 344.8,540.4 345.4,541.2 346,541.7 346.6,542.9 347.2,544.9 347.8,545.7 348.4,546.6 349,547.2 349.6,547.9 350.2,549.7 350.8,550.1 351.4,550.7 352,552.1 352.6,552.5 353.2,553.3 353.8,554.3 354.4,554.7 355,555.7 355.6,555.2 356.2,556.4 356.8,555.8 357.3,555.9 357.9,556.2 358.5,556.3 359.1,559.5 359.7,558.6 360.3,557.8 360.9,557.2 361.5,557.3 362.1,556.3 362.7,555.7 363.3,557.1 363.9,556.8 364.4,557.4 365,557.9 365.6,557.1 366.2,555.4 366.8,554 367.4,555.7 368,556.5 368.6,555 369.1,555.2 369.7,555.9 370.3,555.7 370.9,554.8 371.5,554.3 372.1,554.2 372.6,554.1 373.2,553.9 373.8,555.1 374.4,554.3 375,553.5 375.6,552.7 376.1,552.6 376.7,553.3 377.3,553.5 377.9,553.4 378.5,553 379,552.9 379.6,550.7 380.2,550.7 380.8,549.1 381.3,547.3 381.9,547.6 382.5,547.6 383.1,548.1 383.6,547.4 384.2,547.4 384.8,548.1 385.4,546.9 385.9,547.1 386.5,547.5 387.1,547.2 387.7,546.9 388.2,546.4 388.8,546.7 389.4,547 389.9,548.4 390.5,546.9 391.1,546.3 391.6,546.4 392.2,544.5 392.8,545.5 393.3,544.3 393.9,541.7 394.5,542 395,540.1 395.6,540.9 396.2,542.9 396.7,545.2 397.3,544.2 397.9,542.2 398.4,542.1 399,539.3 399.6,538.6 400.1,537.3 400.7,538.4 401.3,539.3 401.8,538.1 402.4,540.5 402.9,540.2 403.5,539.3 404.1,540 404.6,538.8 405.2,541.1 405.7,540 406.3,537.4 406.8,538.4 407.4,537.8 408,537.4 408.5,540.4 409.1,539.8 409.6,539.1"/>
</g>
<g stroke="#111" stroke-width="1.2" fill="none">
<rect x="68.6" y="351.2" width="341" height="274"/>
<path d="M75,625.2v2.6M75,351.2v2.6M79.6,625.2v2.6M79.6,351.2v2.6M83.3,625.2v2.6M83.3,351.2v2.6M86.2,625.2v2.6M86.2,351.2v2.6M88.7,625.2v2.6M88.7,351.2v2.6M90.9,625.2v2.6M90.9,351.2v2.6M92.8,625.2v2.6M92.8,351.2v2.6M94.5,625.2v4.6M94.5,351.2v4.6M105.8,625.2v2.6M105.8,351.2v2.6M112.4,625.2v2.6M112.4,351.2v2.6M117.1,625.2v2.6M117.1,351.2v2.6M120.7,625.2v2.6M120.7,351.2v2.6M123.7,625.2v2.6M123.7,351.2v2.6M126.2,625.2v2.6M126.2,351.2v2.6M128.4,625.2v2.6M128.4,351.2v2.6M130.3,625.2v2.6M130.3,351.2v2.6M132,625.2v4.6M132,351.2v4.6M143.3,625.2v2.6M143.3,351.2v2.6M149.9,625.2v2.6M149.9,351.2v2.6M154.5,625.2v2.6M154.5,351.2v2.6M158.2,625.2v2.6M158.2,351.2v2.6M161.1,625.2v2.6M161.1,351.2v2.6M163.6,625.2v2.6M163.6,351.2v2.6M165.8,625.2v2.6M165.8,351.2v2.6M167.7,625.2v2.6M167.7,351.2v2.6M169.4,625.2v4.6M169.4,351.2v4.6M180.7,625.2v2.6M180.7,351.2v2.6M187.3,625.2v2.6M187.3,351.2v2.6M192,625.2v2.6M192,351.2v2.6M195.6,625.2v2.6M195.6,351.2v2.6M198.6,625.2v2.6M198.6,351.2v2.6M201.1,625.2v2.6M201.1,351.2v2.6M203.3,625.2v2.6M203.3,351.2v2.6M205.2,625.2v2.6M205.2,351.2v2.6M206.9,625.2v4.6M206.9,351.2v4.6M218.2,625.2v2.6M218.2,351.2v2.6M224.8,625.2v2.6M224.8,351.2v2.6M229.4,625.2v2.6M229.4,351.2v2.6M233.1,625.2v2.6M233.1,351.2v2.6M236,625.2v2.6M236,351.2v2.6M238.5,625.2v2.6M238.5,351.2v2.6M240.7,625.2v2.6M240.7,351.2v2.6M242.6,625.2v2.6M242.6,351.2v2.6M244.4,625.2v4.6M244.4,351.2v4.6M255.6,625.2v2.6M255.6,351.2v2.6M262.2,625.2v2.6M262.2,351.2v2.6M266.9,625.2v2.6M266.9,351.2v2.6M270.5,625.2v2.6M270.5,351.2v2.6M273.5,625.2v2.6M273.5,351.2v2.6M276,625.2v2.6M276,351.2v2.6M278.2,625.2v2.6M278.2,351.2v2.6M280.1,625.2v2.6M280.1,351.2v2.6M281.8,625.2v4.6M281.8,351.2v4.6M293.1,625.2v2.6M293.1,351.2v2.6M299.7,625.2v2.6M299.7,351.2v2.6M304.3,625.2v2.6M304.3,351.2v2.6M308,625.2v2.6M308,351.2v2.6M310.9,625.2v2.6M310.9,351.2v2.6M313.4,625.2v2.6M313.4,351.2v2.6M315.6,625.2v2.6M315.6,351.2v2.6M317.5,625.2v2.6M317.5,351.2v2.6M319.2,625.2v4.6M319.2,351.2v4.6M330.5,625.2v2.6M330.5,351.2v2.6M337.1,625.2v2.6M337.1,351.2v2.6M341.8,625.2v2.6M341.8,351.2v2.6M345.4,625.2v2.6M345.4,351.2v2.6M348.4,625.2v2.6M348.4,351.2v2.6M350.9,625.2v2.6M350.9,351.2v2.6M353.1,625.2v2.6M353.1,351.2v2.6M355,625.2v2.6M355,351.2v2.6M356.7,625.2v4.6M356.7,351.2v4.6M368,625.2v2.6M368,351.2v2.6M374.6,625.2v2.6M374.6,351.2v2.6M379.2,625.2v2.6M379.2,351.2v2.6M382.9,625.2v2.6M382.9,351.2v2.6M385.8,625.2v2.6M385.8,351.2v2.6M388.3,625.2v2.6M388.3,351.2v2.6M390.5,625.2v2.6M390.5,351.2v2.6M392.4,625.2v2.6M392.4,351.2v2.6M394.2,625.2v4.6M394.2,351.2v4.6M405.4,625.2v2.6M405.4,351.2v2.6M68.6,625.2h-4.6M409.6,625.2h-4.6M68.6,597.8h-2.6M409.6,597.8h-2.6M68.6,570.4h-4.6M409.6,570.4h-4.6M68.6,543h-2.6M409.6,543h-2.6M68.6,515.6h-4.6M409.6,515.6h-4.6M68.6,488.2h-2.6M409.6,488.2h-2.6M68.6,460.8h-4.6M409.6,460.8h-4.6M68.6,433.4h-2.6M409.6,433.4h-2.6M68.6,406h-4.6M409.6,406h-4.6M68.6,378.6h-2.6M409.6,378.6h-2.6M68.6,351.2h-4.6M409.6,351.2h-4.6"/>
</g>
<g font-size="14px" text-anchor="end">
<text x="59.3" y="629.8">0</text>
<text x="59.3" y="575">2</text>
<text x="59.3" y="520.2">4</text>
<text x="59.3" y="465.4">6</text>
<text x="59.3" y="410.6">8</text>
<text x="59.3" y="355.8">10</text>
</g>
<g font-size="13.5px">
<text x="122.4" y="647.4">10<tspan dy="-5.8" font-size="8.8px">-4</tspan></text>
<text x="197.3" y="647.4">10<tspan dy="-5.8" font-size="8.8px">-2</tspan></text>
<text x="272.2" y="647.4">10<tspan dy="-5.8" font-size="8.8px">0</tspan></text>
<text x="347.1" y="647.4">10<tspan dy="-5.8" font-size="8.8px">2</tspan></text>
</g>
<text x="239.6" y="667.8" font-size="18.4px" text-anchor="middle">Strain</text>
<text x="4.6" y="371.2" font-size="18px">(b)</text>
<text transform="translate(36.3,480.4) rotate(-90)" font-size="19px" text-anchor="middle">Trace Z</text>
<text x="73.8" y="443.6" font-size="14px">Applied Shear Rate:</text>
<g font-size="14px">
<path d="M72.4,456.2H106" stroke="#111" stroke-width="1.3" fill="none"/>
<text x="109.2" y="460.7">0.001</text>
<path d="M72.4,473.7H106" stroke="#e23030" stroke-width="1.3" fill="none"/>
<text x="109.2" y="478.2">0.005</text>
<path d="M72.4,491.2H106" stroke="#2222cc" stroke-width="1.3" fill="none"/>
<text x="109.2" y="495.7">0.01</text>
<path d="M72.4,508.7H106" stroke="#ee44dd" stroke-width="1.3" fill="none"/>
<text x="109.2" y="513.2">0.05</text>
<path d="M72.4,526.2H106" stroke="#2c9a3c" stroke-width="1.3" fill="none"/>
<text x="109.2" y="530.7">0.1</text>
<path d="M72.4,543.7H106" stroke="#222296" stroke-width="1.3" fill="none"/>
<text x="109.2" y="548.2">0.2</text>
<path d="M72.4,561.2H106" stroke="#8a30e0" stroke-width="1.3" fill="none"/>
<text x="109.2" y="565.7">0.5</text>
<path d="M72.4,578.7H106" stroke="#9a1a9a" stroke-width="1.3" fill="none"/>
<text x="109.2" y="583.2">1</text>
<path d="M72.4,596.2H106" stroke="#96202a" stroke-width="1.3" fill="none"/>
<text x="109.2" y="600.7">2</text>
<path d="M72.4,613.7H106" stroke="#96962a" stroke-width="1.3" fill="none"/>
<text x="109.2" y="618.2">5</text>
</g>
<path d="M129.4,613.6H159.4" stroke="#7fa6d6" stroke-width="1.1" stroke-dasharray="4.2,2.6" fill="none"/>
<text x="165.4" y="617.6" font-size="12.5px">Intrinsic Aging,</text>
<text x="250.2" y="617.4" font-size="14px" font-style="italic">&#947;</text>
<circle cx="255" cy="608.4" r="0.9" fill="#111"/>
<text x="262.2" y="617.6" font-size="12.5px">= <tspan x="274.2">0</tspan></text>
<rect x="65.6" y="377.1" width="140.1" height="45.3" fill="#f0fcfc" stroke="#2a2a2a" stroke-width="1.2"/>
<g fill="none" stroke-linecap="round">
<path stroke="#0b7c94" stroke-width="3.2" d="M70.9,380.7h0m5.6-.2h0m2.5,0h0m2.9,.3h0m1-.2h0m2.5,.1h0m6.3-.5h0m13.5,.3h0m2.9,.4h0m2.9,.1h0m.9-.1h0m2.5-.5h0m3.1,.2h0m10.6,.3h0m.6-.5h0m10.6,.5h0m17.9-.1h0m.9-.2h0m8.6-.3h0m14.1-.1h0m.7,.5h0m3,.2h0m1-.2h0m7.3,.2h0m1.5-.2h0m4.4,0h0m-128.4,1.2h0m.8,.3h0m3.2-.9h0m3.5,.9h0m2-.6h0m1.7,1.5h0m3.3-1.8h0m.7,.2h0m4.7,1.2h0m14.6-1.3h0m3.6,.7h0m.7-.6h0m3.5,1.1h0m1-1.3h0m1.6,.4h0m2.3,.7h0m2,.2h0m3.5-1h0m2.1,0h0m1.7,.5h0m2.5-.8h0m3.4,1.1h0m2.8-.3h0m2.6-.5h0m2.4,1.5h0m2.2-1h0m2.6-.8h0m13,1.4h0m1.8,.2h0m4-.8h0m2.7,0h0m1.2-.2h0m2.5,.1h0m1.5-.3h0m5.2-.2h0m1,.7h0m2.6-.8h0m3,.2h0m1.8,.5h0m1.2-.4h0m1.6,.3h0m5.4,.3h0m2.5,.8h0m1.4-.6h0m1.3-1h0m3.1,.7h0m-133.3,1.5h0m2,0h0m2.3,1.3h0m1.1-.1h0m8.4-1h0m2,.5h0m3.7-1h0m1.1,1.1h0m16.5,.2h0m1.7-1.2h0m3.6,.3h0m1.7,0h0m2.5-.2h0m.7,1.5h0m4.3-.4h0m2.7,.4h0m1.3-1h0m3.3,.1h0m1.8-.6h0m1.9,.8h0m2.1-.2h0m1.6,.9h0m3.6-.6h0m2-.9h0m3.8,.8h0m1.5-.7h0m2,1h0m12.8-.7h0m3.1,.8h0m2.8-.5h0m3-.2h0m1.4,1.1h0m2.1-.8h0m3.1,.1h0m1.2-.2h0m2.3-.6h0m2.6,1.2h0m1.3-.7h0m4.7-.4h0m2.3,.7h0m2.6-.9h0m1.7,.7h0m1.2,.6h0m3.4-.2h0m1.7-.5h0m-132.4,2.1h0m3.3,.9h0m3.1-.9h0m2.9,0h0m2,.6h0m1.8,.1h0m4.1-.2h0m1.9-.7h0m21,1h0m3.5-.9h0m1.7-.2h0m1.4,.3h0m1.6-.4h0m3.4,1h0m2.5-1h0m2.8,.1h0m4.4,.4h0m1.8,.8h0m3.3-1.2h0m1.4-.4h0m2.2,.5h0m1.7-.1h0m1.6,1.3h0m5-.6h0m2.7-.4h0m14.2,.4h0m4.2-.1h0m1.4-.1h0m3.7,.1h0m1.3,.2h0m1.8-.5h0m3.2-.6h0m1.8,.6h0m.9,.6h0m1.8-1.3h0m2.7,.5h0m2.8,.5h0m1.2-.8h0m1.8,1.3h0m2.6-1.6h0m3,.3h0m.7,.3h0m-129.7,1.7h0m1,.9h0m1.6-.8h0m3.2,.2h0m1.8,.8h0m1.2-.8h0m2.5,.3h0m2.2,.4h0m2.6,.3h0m2.6-1h0m1.1,.5h0m3.3-.2h0m2.1,.3h0m1.8-1.1h0m.8,.9h0m3.2-.6h0m9,.4h0m3.3-.6h0m2.4,1h0m1.4-.4h0m2.3-.4h0m2,.1h0m2.4,.7h0m1.8,.4h0m4.8-.7h0m1.3-.7h0m7.1,.7h0m2.3-.2h0m2.4,1.2h0m.8-1.7h0m3,.1h0m2.2-.1h0m1.9,.6h0m1.9,1.1h0m10.9-1.5h0m2.3,1h0m.7-1.2h0m3.6,1.1h0m1.1-.8h0m2.8,.3h0m1.4-.5h0m3-.1h0m.8,.3h0m2.2,.2h0m2.1,.3h0m3.2-.3h0m1.8,.1h0m2.3,.9h0m.7-.4h0m3.7,0h0m2.1-.1h0m2.1-.9h0m1.4-.1h0m-130.4,3.5h0m.7-1.4h0m4.4,1.2h0m2.8-.5h0m1.8-.3h0m2.2,.4h0m4.7-.4h0m.6,1.3h0m3.4-1.3h0m.9,1.3h0m1.9-1.2h0m3.9,.6h0m2.8,.3h0m8.9-1.3h0m4.1,.4h0m2.4,.2h0m7.4-.6h0m3.1,.8h0m2.2-.9h0m1.6,1.4h0m1.7,.3h0m6.1-.3h0m3.9-.6h0m1.9,.7h0m1.3,.2h0m1.4-1.2h0m2.4,.6h0m2.7-.8h0m1.5,.6h0m9.8,.4h0m1.1-.2h0m6.6-.2h0m1.6,.6h0m1.6-1.5h0m2.8-.1h0m6.7,.1h0m1.5,1.1h0m4.5-.6h0m3.3,0h0m3.4-.3h0m2.1,.6h0m1.1,.5h0m2.7,.4h0m-133.1,2.1h0m1.2-1.1h0m2.8,1h0m2.6-.5h0m1,.3h0m4.2-.1h0m1.9-.4h0m2.4-.9h0m3.8,.4h0m2.6,.9h0m3.2-.7h0m2.1-.6h0m.6,1.1h0m3.3-.2h0m.9,.2h0m7.7,0h0m1.4,.1h0m3.6,.3h0m11.6-1.6h0m1.8,1.6h0m1.9-1.4h0m2.1,.5h0m2-.7h0m7.1,1.6h0m.9-1.6h0m2.8,0h0m1.5,0h0m3.3,.9h0m.4,.2h0m2.2,.6h0m14.7-.9h0m2.9,.2h0m2.4,.4h0m2.3-1h0m3.5,.7h0m3.1-.2h0m1-.3h0m2.7-.3h0m4,.6h0m1.4,.8h0m2.1-1.3h0m3.2,.4h0m2,.4h0m2.6,.4h0m1.9-1.4h0m1,.9h0m-133.4,1.3h0m3.1,1h0m2.1-.3h0m.7,.3h0m2.5-.4h0m3.4-.1h0m.9-.2h0m4.6-.5h0m1.8,.5h0m2.1,.2h0m2.2,.6h0m4.6-1.4h0m2.4,.4h0m1.7,.2h0m1.9,.6h0m1.7,0h0m3.4,.4h0m1.4,.2h0m2.7-1.3h0m2.2,.2h0m.3,.2h0m5.1,.1h0m1.8,0h0m2.8-.6h0m1.9,.6h0m2.4,0h0m.9,.7h0m9.7-.3h0m2-.1h0m1.8-.1h0m1.6,.3h0m4.9-.3h0m1.2-.2h0m2.7-.9h0m8.9,0h0m1.5,.4h0m1.9,.7h0m3.2,.2h0m1.3-.9h0m2.1-.3h0m2.2,1.3h0m1.5-.5h0m2.5,.5h0m4.2-1.5h0m1.7,1.1h0m1.9,.1h0m1.8-.2h0m3,.8h0m1.3-.6h0m2.1-.9h0m2.2,0h0m3,.3h0m1.5,.8h0m-119.6,1.7h0m1.5-.4h0m1.7,.9h0m2.4,.2h0m2.8-.6h0m2.1,.6h0m3.6-.2h0m1.6-.3h0m2.2-1.1h0m1.9,0h0m2.3,.7h0m2.7,.6h0m1.2-.5h0m2.7,.7h0m3-.9h0m1.8-.1h0m1.4,.1h0m2.6-.6h0m.8,1.6h0m2.4-.3h0m3.4,0h0m1.7-1.1h0m1.8,0h0m8.9,1.3h0m1.7-1.4h0m1.4,1.1h0m5.4-.9h0m2,.3h0m3.8,1.1h0m2.7-.2h0m6.8-.1h0m3.5-.7h0m1.4,.3h0m2.1,.2h0m2.9,0h0m3.8-.7h0m1.7,.3h0m1.7,.4h0m2.5-.9h0m2.5,.8h0m2.3,.2h0m1.8-.4h0m1.7-1h0m2.9,.7h0m1.8,.6h0m2.7,.4h0m3-.2h0m-118.4,1.1h0m2.8,1.2h0m1.3-1.5h0m2.3,.5h0m1.8-.3h0m2.6,0h0m6,1.1h0m4.3,0h0m2.6-1.4h0m2.4,0h0m.4,1.3h0m3.7-.7h0m.8,.5h0m3.7-.5h0m1.8-.5h0m2.1-.2h0m1.1,1.8h0m2.8-1.6h0m.9,1.3h0m2.6,.3h0m2.8-.9h0m1.8-.9h0m4.4,.7h0m1.7-.5h0m3-.1h0m2.1,0h0m3.5,.5h0m2.4,.3h0m2.5-.5h0m2-.2h0m1.2,.4h0m5,.8h0m.9-.1h0m2.2,.1h0m1.9,.1h0m3.7,0h0m1.4-1.3h0m1.5,1.4h0m2.3-.1h0m2.6,.1h0m2-.7h0m1.2,.3h0m2.5-.2h0m3.1,.2h0m1.1,.2h0m4,0h0m7.3-.5h0m2.2-.3h0m1.1,.7h0m-124.1,1.8h0m1.5,.3h0m1.5,.1h0m2.6-.8h0m2.9-.5h0m1.3,1h0m1.9,.6h0m1.9-1.5h0m4.4,.3h0m2.6-.5h0m2.7,.9h0m2.1-.8h0m1.5,.2h0m1.4,.3h0m2.2,.7h0m2.3-.1h0m2.6-.3h0m2,.7h0m3.4-.9h0m3.1-.6h0m2.2,1.4h0m1.2-1.3h0m1.8,0h0m3.5,1.4h0m2.4-.5h0m.4-.9h0m2.9,.4h0m2.3,.6h0m1.3-.8h0m3.6,.1h0m1.7,0h0m.8,1h0m2.5-1.1h0m5.1,.9h0m1.1-1h0m3.1,.8h0m2.2-.4h0m.8,.5h0m2.2,.6h0m3.7-1.6h0m.4,0h0m3.7,1.6h0m1.6-.7h0m4,.2h0m1.1-1.2h0m2.8,.2h0m2.9,.5h0m5.6,.3h0m2.5-.1h0m1.4,.3h0m6.9,0h0m2.4-.7h0m1.7,1h0m-129.3,.6h0m2.7,.3h0m1.1-.1h0m2.4,.3h0m2.1,.2h0m7.9,.8h0m3.4-1.4h0m.9-.2h0m2.5,1.2h0m1.6-1.1h0m2.4,0h0m2.4,.5h0m5.1,1h0m1.4-.3h0m1.2,.5h0m2.2-1.6h0m5.4,.8h0m1.7,.5h0m2.3-.3h0m2.7-1.1h0m2.3,.3h0m3.8,0h0m1.5,.6h0m1.1-.1h0m4.9-.6h0m3.1,1.1h0m1.3-1.3h0m1.5,1.5h0m2.6-.5h0m1.3-.5h0m2.9-.2h0m2.7,.1h0m1.6,1.2h0m1.5-.7h0m2.6-.7h0m2.7-.1h0m2-.1h0m3.6,.1h0m3.7,.5h0m2.8-.3h0m1.1,1.4h0m3.9-1.6h0m1.2,.8h0m2.3,.1h0m2.8-1h0m.7,.2h0m2,.9h0m3,.5h0m1-.2h0m-123.8,1.8h0m5.8-.3h0m4.8,.1h0m2.3,.5h0m.9-1.4h0m7.8,1.6h0m1.4-.9h0m1.6-.2h0m2.5-.4h0m2.3-.1h0m8.3,1h0m1.9,.1h0m2.5-.5h0m1.9,.8h0m1-.8h0m7.6,.5h0m1.4-1.1h0m1.9,1.7h0m7.7-1.5h0m1.5,1.2h0m1-1h0m3.2-.1h0m2.1,0h0m1.2-.1h0m3.4,1.4h0m1.3-1.5h0m2.3-.1h0m2,.4h0m1.2,.8h0m2.3-.5h0m2-.6h0m3.1,.1h0m1.3-.1h0m2.9,.4h0m2.7-.2h0m1.4,.3h0m2.3,.1h0m1.9-.6h0m2.8,.2h0m1.2-.2h0m1.7,0h0m1.8-.1h0m2.3,.7h0m2.5,.3h0m2.6-.9h0m1.2,.1h0m11.7,1.2h0m-123.4,2.1h0m2.4-.5h0m1.9-.8h0m1.2-.2h0m3,1.3h0m3.3-.8h0m2.7,.1h0m2.3,.6h0m2.3-.9h0m12.2,1.5h0m2.2,0h0m2.2-1h0m2.3,.7h0m4.9-1.2h0m.5,0h0m3.7-.1h0m1.3,1.4h0m1-1.5h0m2.2,1.1h0m5.4,.5h0m.8-.7h0m3.1-.8h0m2.1,.8h0m2.9,0h0m.8,.8h0m2.7-.6h0m1.9,.2h0m1.8,.4h0m2.9-1.3h0m1.8,.3h0m1-.1h0m3.9-.1h0m1.7-.1h0m1,.6h0m2.9-.3h0m1,.8h0m3.3-.7h0m6,.3h0m2.8-.7h0m1.4,0h0m1.7-.4h0m2.8,.5h0m2.5,.7h0m1.8-1.2h0m2.1,.7h0m2.3-.6h0m4.5-.2h0m.3,.8h0m2.1-.5h0m3.9,.5h0m-133.3,1.7h0m6.2,.3h0m1.4,1.1h0m2.1-.2h0m2.2-.4h0m1.1,.5h0m2.3-.4h0m2.4-.1h0m1.8,.4h0m2.6-.3h0m1.6,0h0m3.6-.6h0m1.4,.5h0m8.3-.1h0m2-1h0m1.8,1.3h0m5-.7h0m1.9,.4h0m2.1-.4h0m6.2,.8h0m4.5,.2h0m1.5-.2h0m3,0h0m.9-.1h0m2.1-.6h0m4.8,.5h0m1.8-1.2h0m3,1h0m2,.4h0m1.1-1.1h0m3.3-.4h0m.8,1.5h0m5.3-1.3h0m.8,1h0m5.5-1.1h0m2.8,0h0m7.3,1.4h0m1.1-1h0m1.9,0h0m3.6,0h0m2.2,.5h0m2.2-.1h0m1-.1h0m2.4,.3h0m5.9-.5h0m3.1,0h0m1.6,.6h0m1.9-1h0m-134,2h0m9.7,.4h0m2.4,.1h0m1.3,.6h0m1.2,0h0m2.4-.5h0m2.3-.1h0m2.5,1h0m1.1-1.4h0m5.6,0h0m1.4,1.2h0m7-1.1h0m1.1,1h0m3.6-.8h0m.7,.3h0m2.6,.9h0m4.6-1.7h0m3.7,.9h0m2.5,.6h0m1.6-1.5h0m2.1,.4h0m1.7-.2h0m6.4,.5h0m1.7-.3h0m7.8,.7h0m2.3-1.1h0m.5,1.2h0m2.9-1.1h0m1.9,.5h0m5.1,.1h0m2.1-.4h0m.7,0h0m3,.6h0m1.7,0h0m2.7,0h0m8.4-.4h0m1.8-.1h0m1.6,1.2h0m2.7-.8h0m2.8,.6h0m.7,.4h0m2.3-.2h0m2.5-.7h0m2.1-.2h0m1.4-.7h0m2.2,1.6h0m2.7-.3h0m2.9-.1h0m-126,1.7h0m2.8-.6h0m2.8,1.5h0m3.7-.3h0m2.2-.8h0m1.7,1.2h0m3.1-.7h0m2.2,.7h0m2.9-1.5h0m1,1.3h0m2.5-1.3h0m2.4,1h0m2.2-.2h0m1.4-1.1h0m2.5,0h0m1.9,1.2h0m3.3-.8h0m2,.2h0m.9,.7h0m2.8,0h0m1.1-.2h0m4.7-.8h0m3.7,.4h0m2.5,.3h0m1.7-.5h0m2.8,0h0m2.4-.5h0m3.5,1.5h0m2.8-.9h0m1.7,0h0m2.5-.3h0m2.2,1.5h0m2.8-1h0m1.3-.6h0m6,.2h0m4.2,.4h0m1.5-.8h0m4.1,1.7h0m5.4-1.6h0m1.6,1h0m3.1,.7h0m1.5-.8h0m3.2-.1h0m3.3,.6h0m1.9-.4h0m1.4,.3h0m3.1,.1h0m2-.3h0m2.3-1h0m1.5,.1h0m-133.7,2.2h0m9.3-.3h0m2.5-.1h0m4,1.6h0m.6-.4h0m2.8-.3h0m1.9-.6h0m4.7,.2h0m2.3-.2h0m1.4,.5h0m3.3,.5h0m.2,0h0m3.2-1.2h0m3.3,1.2h0m2.1-.4h0m3.6-.9h0m1.1,.4h0m2,.3h0m3.2,.4h0m1.1,.4h0m3,0h0m2.4-.2h0m.3-.9h0m3.1,.7h0m1.3-.1h0m2.2-.9h0m2.6,.3h0m1.4,.6h0m2.6,.3h0m2.4-1.1h0m1.6,.2h0m4.9-.4h0m2,1.7h0m1.7-1.6h0m3-.1h0m8.5,1h0m.6-1h0m2.6,.2h0m1.8,.4h0m3.5,.3h0m5.7-.3h0m2.2,0h0m2.2,.7h0m1.6-1.1h0m3,.6h0m5.3,.2h0m1.5-.1h0m2.1,.7h0m5.5-.2h0m-132.3,1.9h0m3.3,.4h0m1.2-.1h0m10.4-1.4h0m3.2,1.4h0m1.5-.5h0m1.9,.2h0m3.9-1.1h0m2.7,1.2h0m2.2-.3h0m2,.7h0m1-1.3h0m5.9,.5h0m.3,.3h0m3.8-.1h0m.8,.2h0m2.8-.5h0m1.1-.7h0m2.7,1.2h0m2.5,.5h0m1-.5h0m3.7-.9h0m.5,1h0m3-.4h0m2.7,.4h0m.7-.5h0m3.5-.7h0m1.2,.6h0m2.1-.5h0m3.3,1.5h0m.5-1.8h0m5.7,1.7h0m.5-1.6h0m2.7,.6h0m2.4,1.1h0m7-.2h0m1.3-.5h0m1.2-.6h0m3.2,1.3h0m1.4-.6h0m2.4-.7h0m7,.4h0m.7,.4h0m3.3-.7h0m2.4,.4h0m7-.7h0m2.1-.2h0m3.2,0h0m2.3,.7h0m1.2,.2h0"/>
<path stroke="#12c4d0" stroke-width="2.8" d="M91.5,380h0m13.5,.3h0m2.9,.4h0m9.4-.3h0m21.8,.3h0m41.5-.7h0m13.5,.5h0m-109.5,.6h0m.7,.2h0m19.3-.1h0m3.6,.7h0m.7-.6h0m6.1,.2h0m4.3,.9h0m16-.5h0m9.8-.8h0m22.7,.6h0m15.8-.3h0m10,.7h0m3.9,.2h0m1.3-1h0m-116.4,2.4h0m2,.5h0m4.8,.1h0m16.5,.2h0m1.7-1.2h0m33.1,.1h0m3.8,.8h0m26.6,.8h0m2.1-.8h0m3.1,.1h0m-104.1,2.7h0m6-.9h0m30.8,.8h0m3.5-.9h0m1.7-.2h0m3-.1h0m14.9,1.3h0m8.6-1.2h0m1.6,1.3h0m26.1-.7h0m1.4-.1h0m5,.3h0m1.8-.5h0m13.2,.3h0m-120.4,1.2h0m2.6,.1h0m10.9,.9h0m5.2-.7h0m4.4,.3h0m16.9-.1h0m5.7,.4h0m16-1h0m7.1,.7h0m2.3-.2h0m2.4,1.2h0m.8-1.7h0m3,.1h0m23.5,1h0m5.3-1h0m3-.1h0m.8,.3h0m9.3,.3h0m-117.4,1.5h0m4.4,1.2h0m12.1,.5h0m6.2-1.2h0m6.7,.9h0m15.4-.7h0m12.7-.7h0m13.3,.8h0m1.9,.7h0m2.7-1h0m2.4,.6h0m15.1,0h0m19.3-1.1h0m18.6,1.7h0m-129.1,2h0m2.6-.5h0m15.9,.2h0m3.2-.7h0m2.1-.6h0m4.8,1.1h0m7.7,0h0m35.2-1.2h0m22.1,.8h0m2.9,.2h0m20.4,.7h0m-115.4,1.4h0m12.1-.9h0m13.1,.3h0m1.7,.2h0m7,1h0m4.1-1.1h0m2.5,.4h0m6.9,.1h0m2.8-.6h0m5.2,1.3h0m9.7-.3h0m2-.1h0m3.4,.2h0m4.9-.3h0m3.9-1.1h0m16.8,.4h0m2.1-.3h0m6.2,1.3h0m7.8-.3h0m1.8-.2h0m3,.8h0m10.1-.4h0m-116.4,2.2h0m10.9,0h0m8-.7h0m3.9,.1h0m5.7-.2h0m3.2,0h0m12.7-.4h0m10.6-.1h0m8.8,.5h0m16.8,.1h0m1.4,.3h0m8.8-.5h0m1.7,.3h0m6.7,.3h0m8.7-.5h0m1.8,.6h0m5.7,.2h0m-118.4,1.1h0m16.8,1h0m6.9-1.4h0m14.9-.1h0m1.1,1.8h0m2.8-1.6h0m8.1-.2h0m6.1,.2h0m11,.7h0m4.5-.7h0m1.2,.4h0m8.1,.8h0m13.4,.2h0m2-.7h0m1.2,.3h0m18-.3h0m2.2-.3h0m-109.4,1.7h0m11.8-.1h0m1.5,.2h0m20.4-.1h0m1.8,0h0m5.9,.9h0m3.3-.5h0m7.2-.1h0m5-.1h0m11.5,.3h0m6.7-.5h0m.4,0h0m13.2,.1h0m2.9,.5h0m-108.8,1.4h0m8.3,.7h0m11.3-.6h0m.9-.2h0m2.5,1.2h0m1.6-1.1h0m2.4,0h0m10.1,1.7h0m7.6-.8h0m1.7,.5h0m5-1.4h0m2.3,.3h0m6.4,.5h0m17.6-.5h0m4.3,1.3h0m4.1-1.4h0m2.7-.1h0m9.3,.5h0m3.9,1.1h0m7.4-.7h0m3.5-.8h0m2,.9h0m3,.5h0m-112.2,1.4h0m2.3,.5h0m8.7,.2h0m3-1.1h0m15,.6h0m13,0h0m11-.9h0m1.5,1.2h0m10.9,.2h0m1.3-1.5h0m5.5,1.1h0m7.4-1h0m4.2,.3h0m4.1,.1h0m2.3,.1h0m5.9-.6h0m8.3,.9h0m2.6-.9h0m12.9,1.3h0m-121,1.6h0m1.9-.8h0m38.6,.1h0m.5,0h0m17.5-.1h0m28.4,1.4h0m3.3-.7h0m17.2,.4h0m3.9-.5h0m2.3-.6h0m4.5-.2h0m.3,.8h0m2.1-.5h0m-111.7,3h0m23.1,.2h0m21.2,.1h0m3,0h0m3-.7h0m4.8,.5h0m7.9-.9h0m10.2,.8h0m15.6,.3h0m6.6-1h0m5.4,.3h0m8.3-.2h0m4.7,.6h0m1.9-1h0m-134,2h0m9.7,.4h0m2.4,.1h0m1.3,.6h0m3.6-.5h0m27.9,1h0m4.6-1.7h0m11.6,.2h0m18.2-.2h0m13.2,.3h0m17.6,.1h0m7.1,1h0m.7,.4h0m2.3-.2h0m4.6-.9h0m1.4-.7h0m2.2,1.6h0m5.6-.4h0m-123.2,1.1h0m6.5,1.2h0m2.2-.8h0m1.7,1.2h0m5.3,0h0m6.4-1.5h0m2.4,1h0m2.2-.2h0m11.1-.5h0m4.8,.5h0m4.7-.8h0m3.7,.4h0m4.2-.2h0m11.5,.1h0m1.7,0h0m24.6,1.1h0m5.4-1.6h0m12.7,1.4h0m1.9-.4h0m1.4,.3h0m-115.5,.8h0m16.5,.4h0m26.8,1h0m12.3-1.4h0m2.6,.3h0m1.4,.6h0m2.6,.3h0m4-.9h0m4.9-.4h0m18.4,.2h0m15.4,1.1h0m1.6-1.1h0m8.3,.8h0m1.5-.1h0m-120.2,2.7h0m17-.3h0m6.6,.1h0m4.2,.4h0m1-1.3h0m5.9,.5h0m4.1,.2h0m.8,.2h0m9.1,.5h0m16.3-1h0m17.2,1h0m8.3-.7h0m5.8,.1h0m9.4-.3h0m4-.3h0m2.4,.4h0m7-.7h0"/>
<path stroke="#2aeef0" stroke-width="2.8" d="M81.7,380.6h0m1-.2h0m2.5,.1h0m26.5,.2h0m2.5-.5h0m13.7,.5h0m.6-.5h0m52.8,.3h0m11.3,.2h0m5.9-.2h0m-124.4,.6h0m3.5,.9h0m34.8,.4h0m1-1.3h0m13.2,.8h0m2.5-.8h0m3.4,1.1h0m5.4-.8h0m40.1,.6h0m2.6-.8h0m7.6,.6h0m7.9,1.1h0m-127.5,.6h0m4.3,1.3h0m15.2-1.6h0m22.9,.4h0m1.7,0h0m11.5,.3h0m5.1-.5h0m1.9,.8h0m2.1-.2h0m12.5-.5h0m2,1h0m12.8-.7h0m8.9,.1h0m7.8,.2h0m4.9,.6h0m1.3-.7h0m9.6-.6h0m1.7,.7h0m1.2,.6h0m3.4-.2h0m-124.3,1.6h0m4.9,.6h0m1.8,.1h0m4.1-.2h0m29.5-.5h0m7.5-.4h0m7.2,.5h0m5.1-.4h0m1.4-.4h0m10.5,1.1h0m32.5-1h0m1.8,.6h0m9.4-.5h0m4.4-.3h0m3,.3h0m.7,.3h0m-123.9,2h0m1.8,.8h0m12.2-.3h0m5.4,.1h0m5.8-.8h0m18.4,0h0m2,.1h0m2.4,.7h0m1.8,.4h0m4.8-.7h0m21-.1h0m15.8-.6h0m7.5,.6h0m12.7-.1h0m4.1,1h0m.7-.4h0m3.7,0h0m2.1-.1h0m2.1-.9h0m1.4-.1h0m-130.4,3.5h0m11.9-.6h0m8.7-.4h0m.9,1.3h0m21.6-1.2h0m9.8-.4h0m8.6,1.6h0m13.2,0h0m6.5-1.4h0m1.5,.6h0m9.8,.4h0m7.7-.4h0m14.2,.2h0m4.5-.6h0m6.7-.3h0m2.1,.6h0m1.1,.5h0m-130.4,2.5h0m11.8-.4h0m4.3-1.3h0m3.8,.4h0m21.8,.8h0m15.2-1.3h0m1.8,1.6h0m4-.9h0m17.6,.2h0m2.6,.8h0m20-.3h0m2.3-1h0m6.6,.5h0m1-.3h0m2.7-.3h0m4,.6h0m3.5-.5h0m7.8,1.2h0m2.9-.5h0m-121.6,1.8h0m22.2,.4h0m1.7,0h0m4.8,.6h0m4.9-1.1h0m5.4,.3h0m23.3,.2h0m20.8-.7h0m5.1,.9h0m5.6,.1h0m17.9-.3h0m7.3-.6h0m-118.1,2.5h0m8.4,.1h0m2.1,.6h0m5.2-.5h0m13,.4h0m4.8-1h0m4.8,1.1h0m2.4-.3h0m18.9-.1h0m11.2,.5h0m2.7-.2h0m6.8-.1h0m9.9-.2h0m7.2,0h0m2.5-.9h0m4.8,1h0m10.9,.3h0m-111.3,.6h0m2.3,.5h0m1.8-.3h0m18.3,1h0m3.7-.7h0m.8,.5h0m3.7-.5h0m8.7,.8h0m2.6,.3h0m19.3-1.2h0m13.1,.8h0m.9-.1h0m7.8,.2h0m1.4-1.3h0m3.8,1.3h0m11.4-.3h0m1.1,.2h0m-108,2h0m1.5,.1h0m2.6-.8h0m2.9-.5h0m3.2,1.6h0m6.3-1.2h0m2.6-.5h0m2.7,.9h0m5-.3h0m4.5,.6h0m2.6-.3h0m5.4-.2h0m14.6-.5h0m21.3,.1h0m3.1,.8h0m13,.7h0m5.6-.5h0m1.1-1.2h0m11.3,1h0m2.5-.1h0m1.4,.3h0m9.3-.7h0m-121.4,2.1h0m28.3,1h0m1.4-.3h0m3.4-1.1h0m9.4,1h0m8.8-.8h0m1.5,.6h0m10.4-.9h0m4.1,1h0m20.9-.9h0m11.5,0h0m1.2,.8h0m5.1-.9h0m6.7,1.4h0m-100.8,1.4h0m4.1-.6h0m2.3-.1h0m8.3,1h0m4.4-.4h0m2.9,0h0m9-.6h0m1.9,1.7h0m10.2-1.3h0m3.2-.1h0m2.1,0h0m34.1,0h0m2.9-.2h0m1.8-.1h0m2.3,.7h0m-88.6,2.5h0m14.5,.6h0m2.2,0h0m13.6-1.6h0m9.9,1.5h0m.8-.7h0m5.2,0h0m2.9,0h0m.8,.8h0m2.7-.6h0m6.6-.7h0m8.4,0h0m1,.6h0m2.9-.3h0m10.3,.4h0m2.8-.7h0m5.9,.1h0m19.5,.2h0m-127.1,2h0m1.4,1.1h0m2.1-.2h0m2.2-.4h0m7.6,.4h0m4.2-.3h0m5-.1h0m8.3-.1h0m2-1h0m8.7,1h0m2.1-.4h0m6.2,.8h0m18.6-1.4h0m21.8,0h0m18.9,.9h0m-96.6,1.7h0m2.5,1h0m6.7-1.4h0m1.4,1.2h0m8.1-.1h0m4.3-.5h0m10.9,.1h0m2.5,.6h0m1.6-1.5h0m10.2,.7h0m12.3,.5h0m9.9-.5h0m5.8,.2h0m1.7,0h0m17.2-.1h0m16.7,.5h0m-123.1,1.6h0m21.4-.5h0m20.1,1h0m14.8-.3h0m4.5-.5h0m2.4-.5h0m28.5,0h0m11.1,1.1h0m3.1,.7h0m1.5-.8h0m3.2-.1h0m9.7,.6h0m2-.3h0m3.8-.9h0m-133.7,2.2h0m11.8-.4h0m7.4,.9h0m1.9-.6h0m8.4,.5h0m3.3,.5h0m3.4-1.2h0m3.3,1.2h0m2.1-.4h0m3.6-.9h0m6.3,1.1h0m4.1,.4h0m2.4-.2h0m.3-.9h0m4.4,.6h0m21.4-.9h0m3-.1h0m24.9,.6h0m6.8,.2h0m-117.9,2.5h0m14.9-1.1h0m3.2,1.4h0m7.3-1.4h0m25.3,1.2h0m3.5,0h0m4.2,.1h0m5.7,0h0m.7-.5h0m3.5-.7h0m3.3,.1h0m3.3,1.5h0m.5-1.8h0m5.7,1.7h0m29.8-.4h0m21.5-.3h0"/>
<path stroke="#0aa0b8" stroke-width="2.8" d="M70.7,380.5h0m40.1,.3h0m47.1-.4h0m26.4,.3h0m1-.2h0m-115.2,1.2h0m.8,.3h0m19.1,.5h0m50.3,.4h0m17.8-.4h0m1.8,.2h0m17.1-1.4h0m8.4,.6h0m1.2-.4h0m15.3,.5h0m-131.3,1.5h0m44.6-.1h0m7.7,1.5h0m15.6-.6h0m25.2,.3h0m2.8-.5h0m13.1-.6h0m10.9,.8h0m10.6-.3h0m-132.4,2.1h0m51.7,.6h0m43.6-.2h0m20.1-1.1h0m-106.1,2.5h0m2.5,.3h0m4.8,.7h0m10.9-1.5h0m16.3,.1h0m3.8,.6h0m32.4-.6h0m3.8,1.7h0m13.2-.5h0m15.6-.7h0m-72,1.7h0m28.6,1.3h0m35.8-1.4h0m2.8-.1h0m16,.6h0m-116.2,3h0m6.1-.5h0m18,0h0m13.6,.6h0m35.4-.5h0m28,0h0m17.5-.3h0m6.5-.6h0m-129.3,3.2h0m5.3-.4h0m4.3-.3h0m8.5,.2h0m72.2-.7h0m13.7,.9h0m6.7-1h0m11.8,.3h0m-111.4,2.4h0m4.1,1.1h0m12.3-1.6h0m6.9,1.3h0m12.7-1.3h0m6.6,1.3h0m20.9-1h0m22.3,.9h0m19.2-.3h0m1.7-1h0m-105.2,3.8h0m18.3-.2h0m27.7-.6h0m13-.8h0m8.4,.3h0m13.2,1.1h0m25.4-.1h0m10.6-.1h0m-93.6,2.1h0m13.4-1.2h0m16.7,1.1h0m1.3-.8h0m20.9,.8h0m38.8,.1h0m4.1,.3h0m-125.5,.8h0m25.6,.3h0m35.6-.3h0m15.4,.2h0m3.1,.5h0m7.3-.9h0m-95.7,3.2h0m13.8-1.1h0m30.2,1.4h0m35.6-1.4h0m2,.4h0m3.5,.3h0m2-.6h0m4.4,0h0m5.6,.2h0m5.6-.2h0m16.1,.1h0m-106.2,1.8h0m6.3,.5h0m23.9,.3h0m2.3,.7h0m11.4-1.4h0m21.9,1.3h0m1.8,.4h0m5.7-1.1h0m24-.2h0m-29.7,3.1h0m4.4-1.5h0m6.1,.2h0m27.4,.7h0m3.4,.2h0m9-.5h0m-107.6,1.7h0m14,.1h0m22.5,.1h0m9.8,0h0m7.8,.7h0m14.8-.8h0m19.9,1.3h0m11-.7h0m-98.4,2.3h0m6.1,.5h0m16.2-1.2h0m28.1,1.1h0m19.3-1.1h0m4.2,.4h0m-69.7,1.6h0m4.9,1h0m40.9-1.1h0m8.5,1.5h0m13.8-1.7h0m7.9,.9h0m5.7-.3h0m17.9,1h0m-87.3,1.7h0m7.4-.4h0m1.1-.7h0m36.3,.6h0m15.1,1.1h0m26.3-1.7h0"/>
<path stroke="#09728a" stroke-width="2.6" d="M76.3,380.3h0m2.5,0h0m78.2,.3h0m9.5-.5h0m-86.9,1.3h0m1.7,1.5h0m36-.7h0m5.5-.8h0m2.1,0h0m17.6,.5h0m21.4,0h0m2.7,0h0m3.7-.1h0m1.5-.3h0m-97.8,3.2h0m41.9,.2h0m4.3-.4h0m7.3-.5h0m7.4,.9h0m53.3-1.3h0m-100.4,2.3h0m37.9-.1h0m13.1,.1h0m11,.2h0m23.5,.3h0m9,.3h0m4.5-.8h0m5.8,1h0m-122.4,1.6h0m26.8-.2h0m66.4-.6h0m7.7,.1h0m12.3,.5h0m-105.2,2h0m1.8-.3h0m6.9,0h0m10.7,.7h0m28.7-.2h0m3.8,.5h0m42,.1h0m-102.2,1.2h0m27.2,.5h0m32.2-1h0m4.1-.2h0m7.1,1.6h0m.9-1.6h0m4.3,0h0m51.2,1.2h0m-127.9,1.2h0m5.9,1h0m13.2-.7h0m4.3,.8h0m4.6-1.4h0m29.3,1h0m2.4,0h0m22.1,0h0m15,.2h0m18.7-.1h0m12.3-.8h0m-95.3,1.9h0m26,.2h0m10.7,1.3h0m-45.5,.9h0m15.3-.3h0m10.4,.1h0m18.5,.5h0m4.7-.6h0m30.3,1.5h0m10.6-.6h0m-105.3,2.1h0m9.8,.1h0m27.6,.5h0m8.7-.1h0m6.5,.1h0m14.6-1.1h0m.8,1h0m7.6-.2h0m9.4,.5h0m9.4-.7h0m-95.3,1.4h0m13.5,1.2h0m51.9-.2h0m2.8,.2h0m3.9-1h0m26.1-.2h0m-100,2.6h0m66.8-.6h0m-65.5,3.3h0m8.5-.2h0m6-.7h0m4.6-.3h0m29.3,1.3h0m3.2-.4h0m26.2-.4h0m4.9-.2h0m21.8-.5h0m7.1,0h0m-118.1,2.4h0m13,1.3h0m2.3-.4h0m6.8,0h0m5.2-.6h0m18.5,0h0m14.7,1h0m5.4-.3h0m11.7-.3h0m7.2,.4h0m14.4-1.4h0m8.4,.4h0m1.9,0h0m-95.5,2.8h0m27-.7h0m41.1-.4h0m1.9,.5h0m15.3,.3h0m8.4-.4h0m-94.7,3.3h0m25.3-1.7h0m2.5,0h0m1.9,1.2h0m9,.1h0m29.4-1h0m2.2,1.5h0m2.8-1h0m1.3-.6h0m44.6,0h0m-116.4,3.5h0m.6-.4h0m29.9-.8h0m2,.3h0m13.1,.4h0m34.2-.1h0m5-.4h0m32.6,.8h0m-129,2.3h0m16.3-.6h0m10.7,0h0m27.6-.6h0m3.5,.6h0m20.2-.9h0m12.1,1.5h0m2.5-1.1h0m7,0h0m25.7-.4h0m2.3,.7h0"/>
<path stroke="#086a88" stroke-width="1.1" d="M82.1,380.6h0m-.1,.5h0m3.5-1.3h0m5.1,.8h0m19.1,.9h0m18.6-.9h0m29.4-.8h0m9.1-.7h0m18.1,.9h0m-112.7,2.4h0m.8-2h0m4,1.5h0m9-1.2h0m21.8,2.1h0m1.4-1.7h0m8.1,.8h0m1.4,.1h0m10.4-.2h0m8.5-.1h0m2.9,1.3h0m18.2,.1h0m.8-.5h0m8.9-1.4h0m1.2,1.4h0m1.6-1.7h0m5.8,1.4h0m2.6-1.7h0m1.7,.9h0m7,.1h0m5.5,.4h0m9.1,1.5h0m-135,2h0m3.8-2.6h0m1.5,1h0m35.9,.5h0m2.4-.7h0m4.6,.3h0m8.9-.4h0m4.1,.5h0m2.9-.8h0m.2,1h0m7.1-.8h0m3.6,1.7h0m25.7,.4h0m3.3-1.6h0m5.3-.3h0m1.3,.3h0m4.8,0h0m7.8,1.4h0m.4-2.4h0m7.3,1.5h0m-120.6,1.8h0m7.6,1.7h0m23.9-.8h0m2.6,1.4h0m1.9-4.3h0m5.8,3.9h0m3.4-2.3h0m12.5-.4h0m4.3,.9h0m2.4,.8h0m4.6-1.6h0m20.9,.8h0m4.8-.4h0m3.6-.2h0m7.9,.2h0m6.2,.4h0m4.7-1.3h0m-124.6,4.1h0m7.3-.9h0m.5-.7h0m2.1-.6h0m8.7,2.6h0m4.1-1.9h0m21.6,2.4h0m3.7-1.6h0m17.7-.8h0m5.2,2.5h0m1.6-1.6h0m4.5-2.3h0m.8,2.4h0m1.8-.6h0m15.1-1.1h0m5.9,.2h0m2.6-.2h0m5.1,.9h0m1.2,1.4h0m2.2-.9h0m3.7-1.6h0m4.8,1.8h0m.1-1.2h0m3.2,2.1h0m4.1-.4h0m.1-1.7h0m2.1-.3h0m-130.1,4.7h0m.5-2.5h0m4.5,.3h0m2.7,1.6h0m2.7-1.7h0m1,1.9h0m5.8,.6h0m10.1-.7h0m28.4-.9h0m4.4,.2h0m15.6-.2h0m6.7,.2h0m31.6,.2h0m-114.4,2h0m2.6,1.5h0m3.1-1.7h0m5.8-.1h0m12.8-1.4h0m1.8,1.4h0m15.5,1.7h0m3.6-1.1h0m12.1,.3h0m1.6-1.9h0m13.2,.5h0m7.3,.5h0m.4,.4h0m18,.1h0m7.6-2.5h0m5.7,2.1h0m7.1-1.1h0m14.1,.9h0m-127.9,2.2h0m16.4-.1h0m11.4-.6h0m-.5,.5h0m5.9,1.2h0m7.9-.5h0m5,1h0m1.8-1.4h0m21.1-.5h0m2.5,2.2h0m15.3-2.2h0m8,.6h0m2.9-.6h0m5.3,.5h0m5.9,.2h0m9.2,.5h0m1.9,.1h0m7.6-.6h0m-.4,1.2h0m-113.6,1.9h0m5.3-1.2h0m4.8,1.7h0m.9-4.6h0m5.2,2.8h0m2.8,.7h0m1.4-1.8h0m10.3,1.4h0m2-2h0m1.7,2.7h0m26.3-1.1h0m14.5-.7h0m12.6,1.6h0m5.6-1.3h0m7.8,.2h0m1.2-.9h0m4,2.6h0m-111.6-.5h0m1.6-.3h0m5.1,.1h0m14.9,1.7h0m3.1-1.3h0m4.8,0h0m6.5-.7h0m6.1,2h0m2.5,.2h0m5.5-1.2h0m17.6,.7h0m1-.7h0m2.5,.6h0m2-.4h0m9.7-.5h0m2.6,3.1h0m2.8-2.2h0m1.4,.7h0m14.4-1.7h0m15.1-.1h0m-122.2,3.3h0m5.1-.3h0m.6-.6h0m9.8-.2h0m3.9,.1h0m-.6,.7h0m7,.4h0m7.5-1.1h0m5.5,.8h0m6.6,1.7h0m1.6-1.2h0m2.8-.3h0m3.5-1.3h0m-.3,1h0m4.8,0h0m17-.3h0m2.1,1.4h0m20.1-.8h0m4.7-.2h0m17.1,.6h0m2.3-.4h0m-120.7,1.9h0m10.2,1.9h0m4-2.8h0m1.2,1.8h0m4.1-2.3h0m3.8,2h0m3.8,.6h0m4.6-1.7h0m18.6,.3h0m3,1.3h0m10.3-.4h0m2.5-.9h0m13.6,.4h0m2.7-.3h0m6.3,.2h0m9.2-.4h0m7.6-.3h0m1.2,.1h0m4.1,1.3h0m-122.5,2.5h0m11.8-1.2h0m2.7-.5h0m6.8,2.5h0m2.5-2.4h0m14.1,.7h0m16-.3h0m10.5,0h0m2.4-.1h0m4.2-.1h0m14,.7h0m7.9-1.2h0m4-.5h0m10.5,1.7h0m2.9-2.3h0m3.1,.3h0m2.9,.8h0m2.5,.7h0m-1-1.1h0m-110.6,4h0m2.1-.7h0m2.2-.3h0m1,.1h0m5.9,.6h0m24.3-1h0m11.3,.5h0m2.8-2.4h0m6.9,2.7h0m1.8,0h0m3.1-1.1h0m7.5,.1h0m4.8,2.2h0m2.5-.7h0m1-1.5h0m11,.9h0m1.5,.8h0m3.1-.3h0m8.4-.2h0m3.4-1.5h0m3.5,.1h0m3.6-.1h0m3.4-.3h0m6.1,.9h0m6.4-.3h0m-133,1.7h0m4.3,1.1h0m4.5,1.5h0m6.5,0h0m3.3-.3h0m3.9,1.3h0m4.2-1.3h0m.2-.1h0m11.9-2h0m5.8,1.2h0m2.2,1.4h0m1.9-2.6h0m4.9,2.8h0m7.7-1.4h0m2.2-.9h0m3.5,.5h0m4.7,.4h0m1.3-1.7h0m6.1,2h0m4.6-1.1h0m11.4,.1h0m10.2,1h0m1.2-1.4h0m1.7,.9h0m8.9-.6h0m11.9,.6h0m-130.8,.6h0m15.2,.9h0m4.2-.4h0m8.6-.4h0m9.8,1.5h0m-.1,1.1h0m18-1.1h0m0-1.3h0m12.9-.2h0m.4,1h0m9.1,.1h0m.4,0h0m34.4,1.1h0m18.1-1.8h0m1.8,.5h0m-123.6,2.6h0m10.7,.3h0m1.5,.8h0m4.4-.5h0m4.4-.6h0m-.2,1h0m2.3-1.4h0m2.1,1h0m7.7-1.2h0m1.7,.1h0m6-.8h0m16.1,.7h0m3.2,.9h0m6,1.8h0m4.5-3.4h0m1.3,.8h0m17.8,.8h0m-.1-1.3h0m12.6,0h0m3.5,1.2h0m15.6,0h0m1.9-.1h0m2.2-.8h0m-117.9,3.6h0m.2,.3h0m3.9-.9h0m6.4,.7h0m5.6-.2h0m7.4,.5h0m8.1-.5h0m3.9,.1h0m1.3-.4h0m1.9,.7h0m2.9-.8h0m4.5-.1h0m3.5-.7h0m3.7-1h0m13.1,2.4h0m5.6-3.6h0m8.1,1.5h0m16.9,.3h0m1.7,1.3h0m10,.7h0m3.7,.5h0m4.6-.9h0m-128.8,1.6h0m15.2,1.1h0m11.6-1.4h0m9-.1h0m.1,1.8h0m4.4-2h0m9.5,1.7h0m4.7-3.2h0m12.3,.8h0m-.3-.6h0m6,1.3h0m5.6-.8h0m12.6,1.4h0m5.4,1.2h0m1.8-.2h0m22.8-2.3h0m1.8,.2h0m3.7-.3h0m2.9,1.2h0m-.2,1h0"/>
<path stroke="#66f6f6" stroke-width="1.1" d="M75.9,379.5h0m1.4,2.2h0m28.2-1.1h0m.7,0h0m5.8,0h0m16.1-2.1h0m9.8,1.4h0m18.7-.2h0m35.7,.3h0m.2,.1h0m7.2,1h0m-130.5,1.8h0m9.3-2.2h0m2.8,2.7h0m2.6-2.6h0m6.4,1.1h0m14.4-.5h0m7.9,0h0m1-.7h0m2.3,1.1h0m9.7-.9h0m1-.7h0m9.2,3h0m7.8-1.4h0m21.2,.7h0m2.9-1.2h0m14.4,.7h0m4.5,0h0m.5-1h0m9.2,2.1h0m3.5-1.3h0m-126.4,4.1h0m10.4-3.2h0m4.9-.8h0m.1,3h0m16.9,.1h0m7.4-2.3h0m1.7,2h0m5.1,.1h0m8.2,.3h0m32.7-1.7h0m4.7,.7h0m15.6-.8h0m-.4,1.2h0m15.7,.7h0m5.8-1.2h0m-134.3,1.7h0m19.5,1h0m27.5,.7h0m15.8-2.4h0m18.6,1.4h0m14.9-.8h0m4.5,1.1h0m9.3-.5h0m3.7-.9h0m-.3,1.6h0m9.2-.8h0m9-.1h0m-2.2,.7h0m-128.2,1.1h0m5.9,2.3h0m7.5-1.4h0m3.1,.4h0m1.7,.5h0m4.7-.8h0m4.9-2h0m12.5,1.3h0m5.6,.7h0m5-.1h0m4.4,.5h0m6,0h0m.4-1.9h0m33.4,.8h0m.3,.5h0m4.2-1.7h0m4.7,1.5h0m14.8-.1h0m-101.5,2.3h0m6-1.4h0m15.3-.6h0m3.7,1.9h0m3.5,.8h0m8.6-2.3h0m5.1,.7h0m3.3,1.3h0m6.1,.1h0m3.1-1.6h0m2.7,1.1h0m6.2-.9h0m13.2,.9h0m6.1,.6h0m2.6-.9h0m4.4,0h0m7.3-.8h0m11.2,1h0m4,.3h0m-.7-.5h0m-115.7,1.2h0m5.4,1.4h0m4.9,1.9h0m3.5-1.9h0m12.2,1.7h0m16.3-3.2h0m6.4,1.3h0m9.6,1h0m2.4-.8h0m3.4-1.6h0m5,1.7h0m14.8-.5h0m4.7-.6h0m6.1,.8h0m2.8,.4h0m8-.2h0m13.5-.4h0m-130.3,1.8h0m6.4-.5h0m2.4,.8h0m2.1,1h0m10.7-.9h0m3.8-.9h0m8.4,1.1h0m4,1.4h0m3.2-1.6h0m2.4-.1h0m10.9,.4h0m4.9,.2h0m12.1-.1h0m6.4-.9h0m14.6,1.2h0m2-1.3h0m4.7,.2h0m4,2.1h0m1-2.5h0m7.8-.6h0m3.9,2.2h0m2.1-.6h0m6.9-.7h0m-115.1,2h0m2.5,1.6h0m2.5-.4h0m2.9-.9h0m4.8,1.7h0m7.6-3.3h0m12.6,2.3h0m5.3-.7h0m7.3,1.2h0m.4-2.5h0m2.2,1h0m8.7,.3h0m2.6,.3h0m11.5,.4h0m3.4,.8h0m14.6-.7h0m2.3,.9h0m3.8-2.1h0m4.1,.1h0m4.4,0h0m1.9,.9h0m7.8-.5h0m3.3,.1h0m-113.1,3h0m2.7-2h0m5.3,.4h0m5.9,.2h0m6.2,0h0m3.6,0h0m8.1-.1h0m3.4-.3h0m5,.7h0m6.4-.5h0m6.8-.4h0m-.6,.9h0m4.8-.4h0m2.7-.5h0m1.7,1.7h0m14.3-.2h0m12.8,.1h0m3.2,.9h0m3-1.2h0m-.3,.1h0m4.2,.4h0m17.9-.1h0m-122.5,.8h0m4.2-.3h0m6.8,1.6h0m.5-1.4h0m12.1-.2h0m2.8,1.8h0m1.5-.1h0m3.1-1.2h0m4.8,.6h0m6.1-.2h0m2.5,1.8h0m15.6-.5h0m2.6-1.2h0m4.3-.7h0m-.5,1.8h0m13.6-2.3h0m-.4,.7h0m6.4,.3h0m-1.3-.9h0m8.3,1h0m3.2,.2h0m3.8,.1h0m7.7-2h0m5.2,.6h0m.4,2.6h0m-115.8-.6h0m5.3,1.7h0m17.2-2.9h0m11.3,2.4h0m1.3,1h0m8.8,.7h0m2.9-2.8h0m9.8,1.3h0m7.6,.4h0m1.9-2.3h0m5.9,1.5h0m2.4,.6h0m2.1-.8h0m3.5-.4h0m-.7,1.4h0m7.5-2.5h0m9.7,.9h0m2.1,1.1h0m8.1,0h0m10.3,1.3h0m-117.1,.6h0m2.5-.4h0m11.9-.2h0m4-.1h0m1.4-1.1h0m14.3,1.1h0m2.3,0h0m.2,1.9h0m10.2-1.2h0m11.6,.9h0m5.7,.1h0m-.2-1.5h0m5.7,.2h0m2.4-1.3h0m7.6-.1h0m4.7,.9h0m10.4,1.1h0m0-1.8h0m2.2,1.4h0m2.2-.2h0m-90.8,4.1h0m4.3-.7h0m4.5-2h0m13.4,2h0m5.2,.3h0m6.7-2h0m.7,.3h0m6.3-.9h0m14.6,.8h0m.5,2h0m6.3-1.4h0m6,.1h0m5.6-.4h0m.3-.9h0m13,1h0m5.5,1.2h0m11.2-1.3h0m7.2,.4h0m3.3,.2h0m-122,3h0m3.5-1.1h0m3.2,.2h0m.7,.6h0m7.8-1.7h0m18.6,2.5h0m20.3-.7h0m14.3,.5h0m4.3-.8h0m3.4-2.2h0m5.9,1.1h0m8.3-2h0m15.4,2.6h0m-103.6,2h0m.9-.4h0m4.5,.9h0m7.2-.4h0m18.3-1.4h0m-.2,1.7h0m7.5-1.5h0m3.2,.1h0m8.2,1.8h0m-.6-2.4h0m18.9,2.2h0m3.7-.7h0m1.7-1.6h0m5.3,.7h0m1.2-2.1h0m.6,2.4h0m3.8-.4h0m4.2,2h0m8.7-2.4h0m2.3,1.1h0m4,1h0m2.9,.2h0m4,0h0m2-.5h0m.4-1.9h0m2.6,1.6h0m1.3-.5h0m-117.1,2.1h0m26.8,.9h0m2.3,1.5h0m14.2-2h0m.7,.6h0m4.7-2.8h0m4.3,2.6h0m2-.3h0m5.2-.5h0m7.1,.3h0m7.2,.9h0m9.9-1.1h0m16.6,.1h0m5,1.8h0m3.5-.7h0m2.8-.2h0m1.3,.9h0m2.1-.6h0m-117.3,.7h0m3.9-.2h0m8.5,.5h0m6.2,.1h0m4.9-.4h0m4.8-.8h0m5.3,.5h0m2.7-1.1h0m18.9,1.3h0m3.2,.8h0m3.9,.5h0m5.6-.9h0m3.3-1.4h0m4.9-.2h0m14.1,1.1h0m.5-.5h0m2.8,.1h0m2,.5h0m7,1.5h0m13.3-1.6h0m-117.8,3.9h0m10.1-3.2h0m6.4,1.3h0m3.6-.2h0m7,2.5h0m11.4-1.9h0m3.8,.7h0m1.4-2.2h0m3,2h0m1.2,.7h0m6-.7h0m5.2,.9h0m.5-.6h0m5.7-.7h0m4,2.3h0m7.4-1.9h0m13.3-.1h0m15.1-.7h0m-.1,0h0m5.2,.5h0m.8,.6h0"/>
</g>
<rect x="82" y="365.5" width="106.5" height="20" fill="#fff" stroke="#555" stroke-width="1.1"/>
<text x="135.2" y="380.4" font-size="12.6px" text-anchor="middle">Initial morphology</text>
<rect x="211" y="343.7" width="145.3" height="51.6" fill="#f0fcfc" stroke="#2a2a2a" stroke-width="1.2"/>
<g fill="none" stroke-linecap="round">
<path stroke="#0b7c94" stroke-width="3.2" d="M218.3,346.9h0m5-.1h0m8.2,0h0m1.3,.4h0m1.8,.2h0m3.3-.1h0m13.3,0h0m14.9,.1h0m5.3-.2h0m3.7,.2h0m4.5-.5h0m3.5,.5h0m3.9,.1h0m5.4-.7h0m1.5,0h0m19.4,.4h0m.9,.1h0m2.4,.3h0m17.1-.2h0m3.3-.5h0m3.7,0h0m3,0h0m3-.1h0m2.3,0h0m-131.3,2.1h0m1.8,.8h0m1.4-.3h0m4.9-1.2h0m2.1,1.3h0m2.5-1.2h0m1.2,.1h0m1.6,.8h0m3.7-1.1h0m.8,1h0m3.3,.4h0m1.4-1.4h0m2.4,.4h0m1.2-.3h0m2.5,.1h0m4.6-.3h0m2.3,1.3h0m13.8,.1h0m2.6-.9h0m2.6,.9h0m.9-1h0m2.4,1h0m2.2,.2h0m2.6-1.7h0m1,1.7h0m2.6-.7h0m2.5-.5h0m1.6,.3h0m2.8,.5h0m2-.7h0m17.6,1.2h0m1.7-1.1h0m2.2,.9h0m3.1-1.4h0m1.9,1h0m6-1.1h0m11.6,.3h0m2.3,.3h0m2.5-.6h0m1.4-.1h0m1.4,1.3h0m5.2-.1h0m-137,1.1h0m3.9,.3h0m1.3,1.3h0m2.9-1.2h0m.6-.2h0m2.9-.4h0m2.8,1h0m1.6,.7h0m2.2,0h0m2.6-1.6h0m.5,.8h0m3.2-.2h0m2.7,0h0m2.9-.4h0m7.7,1.2h0m1.1-.5h0m1.5,.4h0m15.3-.8h0m2-.3h0m6.9,.7h0m.8-.1h0m2.2,.1h0m3,.1h0m1.6,0h0m1.7,.4h0m4.9-.5h0m8.7,.7h0m11-.6h0m2,.4h0m1.3-1h0m2.3,1h0m2.4-1.3h0m1.6,1h0m17.8-.5h0m.6-.7h0m9.1,1.4h0m-135.2,1.8h0m1.1-.1h0m2.4,.6h0m3-.1h0m2.1-.6h0m.7,.4h0m2.2-.9h0m2.5,1.3h0m2.4,0h0m2.5-.2h0m2.4-1.5h0m.9,.1h0m2.7,1.4h0m2.1-.5h0m1.8-.8h0m2.8,.8h0m4.3-.6h0m1.6,.3h0m2.8-.7h0m11.1,1.2h0m2.4,.6h0m3-.8h0m2.4-1h0m2.7,1.8h0m3.4-1.4h0m1.1,.4h0m1.8,.8h0m3.1-1.1h0m2.3-.1h0m.9,.5h0m2.3,.6h0m2,.1h0m3.4,0h0m4.9-1.4h0m2,1.5h0m2.5-.6h0m2.4-.8h0m2.7,.3h0m2.2,.6h0m.9-1.1h0m3-.1h0m1.5,.6h0m3.4,.1h0m.6,0h0m4.5,.2h0m3.4,.3h0m.4-.1h0m2.2,.7h0m18.3-.5h0m1.1-.3h0m-139.1,1.9h0m1.2,.7h0m5.1-.1h0m1.8-.7h0m1.9,.7h0m2.3-.9h0m1.7,.3h0m2.5,.4h0m1.3-.2h0m2.2,0h0m3.9-.3h0m3.5-.6h0m1.1,1.7h0m2.4-1.3h0m2.8-.2h0m2-.1h0m.8-.1h0m3.5,1.4h0m2.2-.9h0m1.3,.5h0m1.5,.4h0m2.3,0h0m3.6-.4h0m.7,.6h0m2.2-.7h0m2.6-.9h0m1.5,.3h0m2.9,1.3h0m2.7-.2h0m.4-.1h0m2.6-.3h0m2.3,.4h0m1.7-.5h0m3.3-.4h0m1.1-.2h0m1.7,.2h0m2.6,1h0m1.6-1.5h0m3,0h0m2.6,1.5h0m2.1-.8h0m.5-.1h0m2.9,.6h0m1.5-1h0m2,.7h0m3.8-.6h0m1.9,1.3h0m11.3-1.4h0m3,.1h0m1.5-.4h0m1.7,.4h0m3-.3h0m2.6,.4h0m2,1.3h0m1.2-.4h0m2.2-1h0m1.7,.4h0m3.6,.8h0m.9-.4h0m2.9-.5h0m-138.3,2.3h0m2.9-.5h0m2.3,.9h0m1,.4h0m2.4-1.5h0m2.8,1.4h0m1.3-1h0m2.4,1h0m2.7,.2h0m.4,0h0m2.6-.7h0m3.5,.7h0m.7-.8h0m1.7,.3h0m8,.2h0m.9-1.5h0m6.8,0h0m1.7,.5h0m2.2-.1h0m2.1,1.1h0m1.5-1h0m11.1,.8h0m2.7,.5h0m2-1.7h0m1.8,1.6h0m2.4-.8h0m1.1-.4h0m2.1,1.3h0m2.2-.4h0m2.9-.8h0m2.2,.9h0m2.3-1.4h0m2.4-.1h0m.8,.2h0m2.3,0h0m3,0h0m.8,1.6h0m3.5-.5h0m1-.3h0m2.4,.6h0m11.7-.6h0m3.7,.3h0m3.5,.1h0m4.5,.1h0m2.4-.8h0m2.1,.9h0m4.6-1.1h0m.2-.3h0m3.8,.5h0m-127.4,1.5h0m1.3,.6h0m2.3-.4h0m2.5,.6h0m1.8,.9h0m2.2-1.8h0m1.7,.3h0m1.9,.2h0m3.1-.2h0m10.8,.7h0m1.2-.3h0m2.3,.9h0m4.2,.1h0m3-1.5h0m1.4,.4h0m2.7-.5h0m11.5,.1h0m2,.3h0m3.1,.3h0m3.3-.7h0m1.6,.8h0m3.8,0h0m3.1-.7h0m1.4-.2h0m2.2,.4h0m3.2,.7h0m1.6,.3h0m4.3,.1h0m3.1-.9h0m.8,1.2h0m3.3-1.5h0m.7,.9h0m2.5-.5h0m5.3-.1h0m.4,.6h0m2.2-.4h0m2.1-.2h0m1.9-.5h0m3.1,.4h0m2,.5h0m1.2-.3h0m2.2,1h0m3.1-.4h0m1.2-.7h0m2.4-.5h0m5.1,1.1h0m-134.3,1.2h0m8.4,1.1h0m1.8-.6h0m2.5-.7h0m3.2,1.5h0m1.4-1.5h0m1.3,1.4h0m2.4-1.2h0m1.7,.1h0m13.8,.1h0m2,.4h0m2.3-.3h0m3.6-.5h0m2.7,1.6h0m2-1.1h0m3.4,.4h0m9.5,.1h0m2.3-.4h0m.3,1.1h0m3.6-1.4h0m1.8,.2h0m1.8,.8h0m3,.1h0m.9-1.2h0m2.6-.2h0m3.2,1.4h0m3.9-.8h0m1.2,1.1h0m2.9-1.7h0m1.1,.4h0m2.9-.1h0m.6,.9h0m5.4,.3h0m1.6,0h0m2.1-1.5h0m2.8,1.5h0m2.1-.4h0m1.6-.1h0m1.8,.4h0m2-.2h0m4.2-1.2h0m3.8,.2h0m3.4,1.1h0m1-.1h0m2.7,.1h0m2.6-.4h0m-131,1.4h0m5.6,1.5h0m2.4-1.4h0m1.3,.6h0m3.1-.6h0m.9,0h0m3.2-.2h0m3.4,1.1h0m3.1-.3h0m1.3-.8h0m10.4,1.2h0m1.6-1.3h0m5.8,.2h0m.5-.1h0m3.4,0h0m1.6,.7h0m2.8-.5h0m2.9,1.2h0m1.7-.5h0m6.6-.2h0m3.6-.1h0m1.9-.1h0m2,.2h0m1.7-.1h0m1.9-.1h0m4.5-.4h0m1.6,.8h0m1.7,.2h0m2-1.1h0m3,1.6h0m2.1-1.6h0m1.1,1.3h0m5-.4h0m5.4,0h0m3.7,.6h0m.6-1.4h0m3,.1h0m1.2,1.3h0m5.9-.3h0m7-.3h0m1.7,.4h0m3,.2h0m2.8-.3h0m2.3-1.1h0m1.6,0h0m5.1,.6h0m-136.9,2.2h0m6.1-.5h0m3.4,.5h0m.3,.2h0m3.8,.6h0m.6-.7h0m2.9-.5h0m2.2,.7h0m1.9-.6h0m2.3-.2h0m1.4,.2h0m10.2-.6h0m5.6,0h0m2.1,.1h0m.6,.2h0m2.9,1.4h0m2.6-1.1h0m1.7,.3h0m1.9-.1h0m2.7,.1h0m.9,.4h0m5.2-.1h0m3.7-.9h0m3.2-.3h0m.7,.5h0m3.1,.1h0m2.4,.4h0m4.3,.6h0m1.1-.6h0m2.6-.5h0m2.4-.6h0m1.4,1.5h0m2.6-.2h0m.7,.4h0m3.3-1.1h0m6.1-.3h0m3.5,.3h0m2.6,.8h0m1.5-.1h0m4.2-.7h0m3.4-.2h0m8.2-.2h0m.9,.3h0m3.9,.7h0m1-.1h0m2.4-.2h0m6.7-.7h0m-135.5,2h0m1.6,1.1h0m2.5,.2h0m2.6-.8h0m.4-.5h0m3.7,.8h0m2.5,.6h0m3.8-1.5h0m1.4,.6h0m2.5-.6h0m14.2,.6h0m1.7-.2h0m3.3,1.3h0m1,0h0m2.3,0h0m4.6-.4h0m1.8-.5h0m4.7-.7h0m1.8-.1h0m1,0h0m3.9,.9h0m2.9,.5h0m2-.5h0m2,.1h0m2.4,.3h0m2.2-.1h0m7.3-.4h0m2.2,.3h0m1.4-.2h0m1.2-.3h0m2.7,.2h0m1.4,.6h0m2.8-1.1h0m2.9,1.5h0m.5-.3h0m2.5-.2h0m2.2,.4h0m4.4,.1h0m2.7-.8h0m3.4-.5h0m3.1-.2h0m3.7,1.2h0m4.1-.1h0m1.5-.5h0m3.2,0h0m1.9,0h0m3,.8h0m2.4-.7h0m2.2,0h0m-136.6,2.8h0m7.4-1.4h0m6.3,.5h0m9.5,1h0m.9-.7h0m11.6-.1h0m1.2,.6h0m2.2-1.5h0m1.8,1.1h0m3.4-.2h0m2.1-.2h0m1,0h0m2,0h0m3.5-.1h0m1.8,.9h0m1.9-.8h0m1.7,.1h0m2-.7h0m6.6,.2h0m2,1h0m2.6-.9h0m1.3,.3h0m13.1-.3h0m2.2,.8h0m1.4-.7h0m2.3,.3h0m1.5-.6h0m2.6,1.4h0m1.9-.6h0m4,.7h0m2.3-.2h0m4.6-.1h0m3-.4h0m1.9,.3h0m1.9-.1h0m1.4,.5h0m1.5-.2h0m3.8-.1h0m2-.6h0m1.5,.1h0m1.7-.4h0m2.9,.6h0m4.4-.8h0m-100,3.2h0m.8,0h0m3.8-.7h0m1-.2h0m1.4,1.2h0m3.2-.8h0m1.1-1h0m2.7,1.8h0m2.5-.9h0m1.3,.3h0m3.5-.2h0m1.2-.6h0m1.3,.5h0m2.3-.8h0m7.3-.1h0m2.1,1.7h0m1.1,0h0m13.2-.3h0m2.3-.3h0m2.1,.7h0m2.6-.2h0m1.7,.1h0m2.5-1.4h0m2.3,1.1h0m1.3-.7h0m1.5,.1h0m2.8-.3h0m2.1-.4h0m2.7,1.2h0m2.2,.5h0m.7-1.4h0m3.6-.1h0m1,.4h0m2.2,1h0m2.8-1.1h0m1.8,.6h0m1.4-.2h0m2-.4h0m1.7,.6h0m2.8-.4h0m3.1,.1h0m2.2,.5h0m1.1-1.4h0m-101.4,3.3h0m2.3-.6h0m1.7,.4h0m2.5,.5h0m2.3-.4h0m.6-.4h0m3.2,.4h0m1.6,.5h0m2,.1h0m1.8-1.7h0m2.4,1.8h0m1.9-.3h0m3.3-1.5h0m.7,.8h0m4.3-.6h0m2.4,.5h0m2.3,0h0m2.4,.8h0m10.3-.2h0m2.4,.4h0m2.6-1h0m3.6,1h0m1.2-1.1h0m2.8-.5h0m2.7,1.1h0m1.3,.6h0m1.7,0h0m8.8-1.5h0m2.1,.3h0m3.1,.1h0m.8-.7h0m3.3,.9h0m1.1,.4h0m2,.4h0m2.6-1.2h0m1.2,.4h0m3.5,.5h0m1.7-.8h0m1.7,.3h0m1.9,.5h0m-100.8,1h0m.7,.1h0m3,.4h0m2.8,.7h0m1.4-.3h0m2.7-.3h0m1,.5h0m4.1,.1h0m2.8-.5h0m2.4,.6h0m.8-.3h0m2.3-.2h0m5.3,.2h0m2.4,.5h0m1.1-.4h0m1.9-.4h0m2-1h0m10.6,1.8h0m4.1-1.5h0m2.4,1.5h0m1.8-1.8h0m3,.4h0m.9,.8h0m1.9,.2h0m4.9-.1h0m1.5-.6h0m3,.9h0m2.5-.1h0m1.4-.8h0m3.2-.3h0m1.3,.4h0m1.7-.4h0m1.8,1.3h0m1.8,.1h0m3.9-.6h0m3.7-.3h0m.8-.8h0m2.5,1h0m2.8-.1h0m2,.2h0m2.5,.1h0m-115.2,2h0m14.7-.4h0m5-.1h0m2.4-.5h0m.5,.6h0m3.5,.7h0m1.7-.9h0m2.2-.4h0m3.9,.2h0m1.9,1.4h0m2.2-.1h0m1.8-.9h0m2.2,.1h0m2.3,.3h0m2.7,.6h0m10.9-1.1h0m.6-.2h0m2.7-.3h0m2.5-.1h0m1.1,.7h0m2.1-.7h0m2.8,1.7h0m2.2-1.8h0m2.1,1.6h0m1.5-1.5h0m3,0h0m5.1,.9h0m2.8,.2h0m1.3-.5h0m3.3-.3h0m1.4,1.1h0m2.7-.4h0m4-.3h0m2.8,.6h0m1-.4h0m6.2,.5h0m2.5-1.4h0m2.3-.1h0m1.1,.6h0m-118.1,1.9h0m2.9,0h0m1,.4h0m4.4,.3h0m9.3-.2h0m4.2,.6h0m.8-.6h0m2.8-.6h0m3,.7h0m1.6-.5h0m1.7-.5h0m2.9,.4h0m1.4,.1h0m1.2,.8h0m3,.5h0m1.7-.3h0m2.4-.6h0m1.4-.9h0m3.2,1.4h0m1.9,.3h0m11.1-1.4h0m.5,.4h0m2.6-.4h0m1.6-.1h0m2.8-.1h0m1.4,1h0m3.3-.2h0m1.3-.3h0m2.4,.4h0m11.5,.8h0m1.8-1h0m2.1,.3h0m1.1-1h0m3.3,1.7h0m1.5-.3h0m2.7-.3h0m.8-1.2h0m3.8,.5h0m3.8-.2h0m1.5,.8h0m1.9-.7h0m1.8-.2h0m2.5,.2h0m-132.6,2.4h0m3.9,.9h0m3.3-.5h0m4.1-.1h0m2.3-.7h0m5.2,1.2h0m1.4-.1h0m1.8,.3h0m1.9-1.5h0m7.5,.5h0m1.5-.7h0m2.5,1.8h0m.8-.3h0m3.2-1h0m10.9,.8h0m1.6-.1h0m2.6-.2h0m3.1,.4h0m2,.4h0m6.7-1.6h0m1.4,0h0m2.3,.9h0m7.8-.2h0m1.9-.8h0m1.2-.1h0m2.8,1.2h0m1.1-.3h0m1.8-.6h0m2.2,1.4h0m3.6-1.3h0m1.5,1.1h0m7.9-.2h0m2.4-.4h0m1.4,.4h0m3.5,.4h0m1.7-1.4h0m2.1,.5h0m1.6-.6h0m2.1,1.1h0m1.7-.9h0m4.1,.9h0m1.8-1.2h0m3,.7h0m1.4-.3h0m2.1-.5h0m2.5,1.8h0m-132.4,1.3h0m1.7-.7h0m1.7,1.1h0m2.1-.1h0m1.6,.2h0m3.1-.5h0m1.5-.5h0m3,.4h0m1-.9h0m1.7,.5h0m5,1.1h0m2.5-1.4h0m1.1-.2h0m4.7,.8h0m1.7,1h0m1.9-1.1h0m2.9,.5h0m2.8-.6h0m8.1,.2h0m.8,.4h0m2.8-.3h0m2.5,.9h0m1.3-1.7h0m2.8,.3h0m2.3,.6h0m1.6-.3h0m2.8-.2h0m2,.1h0m8.4-.4h0m2.3,0h0m2.4,1.1h0m.9-1h0m1.8-.1h0m2.4-.2h0m3.1,.1h0m1.5,1.7h0m2.4-.5h0m.9,0h0m3.2-1.2h0m2.3,1.4h0m2.9-.1h0m4.3,.2h0m2.7-.6h0m2.9-.6h0m3.4,.4h0m1.8,.8h0m1.9-.4h0m2-.9h0m5.3,1.2h0m3.7-.1h0m1.8,.4h0m-132.6,1.9h0m1.2-1.4h0m2.1,.4h0m3.5,.4h0m2-.7h0m1.2,.9h0m2.3,0h0m3.3-.3h0m3.6-.7h0m1.5,.3h0m2.8-.3h0m1.3,.3h0m3.3-.2h0m2.7-.2h0m4.5,1.3h0m2.7-.5h0m1.3,.2h0m3-.3h0m9.3,.4h0m2.4-.4h0m5-.3h0m1.6,1.1h0m2.8-.4h0m1.1-.9h0m5,.7h0m3.1,0h0m2.5,.1h0m2,.2h0m2.8-1.3h0m1.5,1.7h0m2.1-.5h0m1.5-.3h0m2-.4h0m2.9,.2h0m2.6,.9h0m.9-.2h0m7.8-.2h0m1.6-.5h0m1.2-.5h0m1.9,1.5h0m2.8-.1h0m1.5-.6h0m2.6-.6h0m2.5,.6h0m2.3,.7h0m1.6-.7h0m2-1h0m3.3,.3h0m1.9-.3h0m.4,.8h0m2.8,.8h0m2.6-1.6h0m1.3,1.4h0m-132.7,1.6h0m1.7-.7h0m2.5,1.1h0m2.8-.3h0m1.8-.2h0m2.2,.5h0m2-.5h0m2,.4h0m1-.3h0m2.7-.5h0m2.7,.2h0m1.5,.7h0m5.1-1h0m1.9,.2h0m1.3-.2h0m2.6,.5h0m4.3,.9h0m1.9-1.1h0m2.6,.6h0m5.3-.7h0m1.7,.6h0m5-.9h0m15.3,.9h0m3.2,.3h0m2.1-.8h0m3.3,1h0m2-.9h0m1.2,.5h0m2.8-.5h0m3.8,.2h0m1.6,.7h0m2.8-.1h0m1.1-1.5h0m6,1h0m2.3-.4h0m3.1,.7h0m1.3-.1h0m1.7-.8h0m3.7,1.3h0m1-.1h0m2.6-1.4h0m2.8,.4h0m3.6-.6h0m10.5,.6h0m-122.9,1.7h0m3.5,.1h0m6.4,.3h0m2.3,.2h0m3.1-.4h0m.7,.2h0m1.8-.2h0m59.6-.4h0m2,1.1h0m2.3-.2h0m2.6-.1h0m1.6,.3h0m7.2-.3h0m1,.1h0m2,.5h0m5-.9h0m2.5-.1h0m.5-.4h0m2.2,1.7h0m17.3-1.5h0"/>
<path stroke="#12c4d0" stroke-width="2.8" d="M237.7,347.1h0m28.2,.1h0m13.5-.5h0m33.7,.3h0m.9,.1h0m34.8-.5h0m-131.3,2.1h0m1.8,.8h0m10.9-1.4h0m1.2,.1h0m13.2,.1h0m8.3-.5h0m16.1,1.4h0m10.7,.2h0m10.3-.9h0m2.8,.5h0m19.6,.5h0m1.7-1.1h0m13.2-.6h0m11.6,.3h0m4.8-.3h0m1.4-.1h0m1.4,1.3h0m-126.6,2.6h0m2.9-1.2h0m.6-.2h0m18.5,.3h0m11.7,.3h0m25.7,0h0m.8-.1h0m22.1,.8h0m11-.6h0m-98.1,2.1h0m3.5,.5h0m5.8-.3h0m2.2-.9h0m17.3-.2h0m8.7,.5h0m2.8-.7h0m18.9,0h0m2.7,1.8h0m3.4-1.4h0m26.3,.7h0m2.4-.8h0m2.7,.3h0m2.2,.6h0m3.9-1.2h0m1.5,.6h0m4,.1h0m8.3,.4h0m2.2,.7h0m18.3-.5h0m-131.7,2.2h0m6-.9h0m1.7,.3h0m3.8,.2h0m2.2,0h0m7.4-.9h0m6.3,.2h0m2-.1h0m.8-.1h0m3.5,1.4h0m10.9-.4h0m.7,.6h0m14.9-.6h0m2.3,.4h0m1.7-.5h0m8.7,.6h0m1.6-1.5h0m7.7,.7h0m6.9,.2h0m3.8-.6h0m13.2-.1h0m6.2,.1h0m3-.3h0m2.6,.4h0m3.2,.9h0m7.5,.2h0m-131.6,.9h0m2.3,.9h0m7.5-.7h0m2.4,1h0m20.5-1.6h0m10.7,.4h0m2.1,1.1h0m1.5-1h0m11.1,.8h0m17.2-.7h0m6.9-.6h0m.8,.2h0m5.3,0h0m26.6,1.2h0m4.5,.1h0m9.3-1.3h0m3.8,.5h0m-121.3,2.3h0m5.7-.6h0m5,0h0m10.8,.7h0m1.2-.3h0m2.3,.9h0m4.2,.1h0m3-1.5h0m25.6,.7h0m3.8,0h0m3.1-.7h0m15.8,.4h0m.8,1.2h0m4-.6h0m8.2,0h0m6.2-1.1h0m8.5,1.6h0m-109.8,.5h0m5.9,1.4h0m4.1-1.1h0m18.1,.2h0m3.6-.5h0m4.7,.5h0m3.4,.4h0m9.5,.1h0m2.6,.7h0m3.6-1.4h0m1.8,.2h0m1.8,.8h0m3.9-1.1h0m2.6-.2h0m7.1,.6h0m14.1,.9h0m10.2-.5h0m1.8,.4h0m17.1-.1h0m2.6-.4h0m-125.4,2.9h0m3.7-.8h0m4-.6h0m9.7,.6h0m13.3-.9h0m9.7,.1h0m24.8,.6h0m1.9-.1h0m9.8-.5h0m6.2,1.3h0m10.4-.4h0m26.1,.6h0m2.8-.3h0m-127.9,1.7h0m6.1-.5h0m3.4,.5h0m4.7,.1h0m2.9-.5h0m2.2,.7h0m21.4-1.2h0m2.1,.1h0m9.7,.7h0m16.4-.3h0m3.1,.1h0m12.8-.7h0m8,.6h0m9.6,0h0m8.3,0h0m12.5-.1h0m3.9,.7h0m-123.8,2.1h0m2.5,.2h0m9.2,.1h0m3.8-1.5h0m26.4,1.7h0m60.8,.1h0m2.7-.8h0m3.4-.5h0m6.8,1h0m5.6-.6h0m3.2,0h0m1.9,0h0m5.4,.1h0m2.2,0h0m-136.6,2.8h0m13.7-.9h0m9.5,1h0m.9-.7h0m15-1h0m5.2,.9h0m3.1-.2h0m2,0h0m17.5-.4h0m2,1h0m2.6-.9h0m18,.1h0m2.3,.3h0m10,.9h0m6.9-.3h0m4.9-.1h0m4.8,.2h0m3.8-.1h0m2-.6h0m-89.5,2.7h0m10.2-.5h0m7.6,.2h0m3.5-.2h0m2.5-.1h0m2.3-.8h0m28.1,1.7h0m6.8-1.5h0m10-.2h0m18.4,.9h0m9.6-.1h0m-88.7,1.9h0m12.9,.8h0m10.7-.8h0m2.3,0h0m2.4,.8h0m10.3-.2h0m18.3,.5h0m8.8-1.5h0m6-.3h0m4.4,1.3h0m14.6,.1h0m-100.8,1h0m3.7,.5h0m2.8,.7h0m15.2-.2h0m2.3-.2h0m7.7,.7h0m1.1-.4h0m1.9-.4h0m23.9-.6h0m.9,.8h0m8.3-.5h0m3,.9h0m2.5-.1h0m1.4-.8h0m4.5,.1h0m12.9,.1h0m-76.8,1.8h0m6.1-.2h0m8.1,.5h0m15.9-.2h0m5.8-.6h0m1.1,.7h0m2.1-.7h0m2.8,1.7h0m2.2-1.8h0m2.1,1.6h0m9.6-.6h0m4.1-.3h0m7.4,.4h0m14,.4h0m-112.2,1h0m2.9,0h0m1,.4h0m4.4,.3h0m13.5,.4h0m3.6-1.2h0m3,.7h0m1.6-.5h0m7.2,.8h0m4.7,.2h0m8.9,.2h0m11.6-1h0m4.2-.5h0m4.2,.9h0m3.3-.2h0m17-.1h0m3.2-.7h0m-109,2.7h0m11.3,.3h0m8.9,.4h0m3.7-1.2h0m9-.2h0m3.3,1.5h0m3.2-1h0m10.9,.8h0m9.3,.5h0m6.7-1.6h0m1.4,0h0m12-.1h0m33.2,.7h0m11.3-.7h0m-117.9,3.3h0m6.2-.8h0m3,.4h0m11.3-.9h0m28.2,1.8h0m8-1.1h0m15.5-.5h0m12.1,1.6h0m16-.2h0m5.6-1.2h0m5.2,1.2h0m12.9-.2h0m1.8,.4h0m-125.8,1.3h0m3.2,.2h0m10.7-.7h0m7.4-.2h0m9.9,.6h0m16-.1h0m9.4,.4h0m6.1-.2h0m7.6,.3h0m4.3,.4h0m5.6-1.2h0m5.5,1.1h0m8.7-.4h0m1.6-.5h0m1.2-.5h0m6.2,.8h0m2.6-.6h0m8.4-.4h0m5.2,0h0m5.8,0h0m-127.2,3.4h0m2.8-.3h0m4,.3h0m2-.5h0m8.4-.2h0m9.8-.3h0m8.8,.3h0m2.6,.6h0m7-.1h0m20.3,0h0m3.2,.3h0m7.4-.7h0m7.8,.2h0m16.9,.4h0m3-.9h0m3.7,1.3h0m6.4-1.1h0m-98.9,2.1h0m7.9-.2h0m59.6-.4h0m4.3,.9h0m4.2,.2h0m20.4,.6h0m17.3-1.5h0"/>
<path stroke="#2aeef0" stroke-width="2.8" d="M218.1,346.7h0m5-.1h0m8.2,0h0m1.3,.4h0m38.6,0h0m3.7,.2h0m8,0h0m3.9,.1h0m29.6,.1h0m20.4-.7h0m9.7-.1h0m-125.8,2.6h0m4.9-1.2h0m11.1-.1h0m4.1,1.4h0m7.5-1.2h0m6.9,1h0m16.4-.8h0m2.6,.9h0m.9-1h0m2.4,1h0m5.8,.2h0m2.6-.7h0m2.5-.5h0m31-.3h0m-88.7,3.6h0m14.1-1.4h0m25.6,.3h0m18.2,.9h0m4.9-.5h0m21.7,.5h0m3.6,0h0m21.8-.8h0m-124.4,2.4h0m5.4,.5h0m2.1-.6h0m7.8,.8h0m4.9-1.7h0m5.7,1h0m4.6,0h0m4.3-.6h0m30.5,.4h0m1.8,.8h0m20.9,.1h0m49.1-.7h0m-137.9,2.6h0m6.9-.8h0m34.1-.1h0m2.8,.9h0m2.3,0h0m9.1-1.4h0m4.4,1.6h0m3.1-.3h0m9.9-.8h0m1.1-.2h0m1.7,.2h0m9.8,1h0m5.5-.3h0m1.5-1h0m7.7,1.4h0m14.3-1.3h0m15.9,.4h0m7.4-.1h0m-126.9,3h0m6.4,.2h0m.4,0h0m6.1,0h0m18.1-1.8h0m1.7,.5h0m19.6,1.3h0m3.8-.1h0m3.5-1.2h0m21,1.3h0m3.5-.5h0m31.3,.3h0m4.6-1.1h0m-123.4,1.7h0m3.6,.2h0m50.3-.1h0m2,.3h0m6.4-.4h0m15.3,1h0m1.6,.3h0m4.3,.1h0m7.2-1.2h0m11.1,.5h0m2.1-.2h0m7,.4h0m6.5,.3h0m1.2-.7h0m2.4-.5h0m-111.9,2.1h0m3.7,.2h0m17.5,.6h0m8.6,.8h0m34.4-.2h0m12.6-.2h0m9.1-1.2h0m10.3,1.2h0m8-1h0m3.4,1.1h0m-116.7,1.1h0m4.4,0h0m4.1-.2h0m3.4,1.1h0m14.8,.1h0m7.4-1.1h0m11.2,1.3h0m1.7-.5h0m6.6-.2h0m3.6-.1h0m12-.5h0m1.6,.8h0m1.7,.2h0m7.1-1.1h0m6.1,.9h0m9.1,.6h0m.6-1.4h0m10.1,1.1h0m8.7,.1h0m14.8-.6h0m-127.1,2.4h0m33.6-.8h0m12.7,1h0m5.2-.1h0m3.7-.9h0m3.2-.3h0m6.2,1h0m4.3,.6h0m3.7-1.1h0m6.4,.7h0m.7,.4h0m9.4-1.4h0m15.2,.1h0m14,.7h0m9.1-.9h0m-135.5,2h0m6.7,.5h0m.4-.5h0m13.9-.1h0m27.1,1.3h0m1.8-.5h0m4.7-.7h0m13.6,.9h0m4.6,.2h0m7.3-.4h0m7.5,0h0m1.4,.6h0m5.7,.4h0m.5-.3h0m-88.9,.9h0m33.5,.9h0m19.4-1h0m25.6,.3h0m11.9,.6h0m13.9,0h0m5.2,.7h0m8.8-.8h0m-86.4,1.9h0m1-.2h0m27.8-.6h0m2.1,1.7h0m1.1,0h0m13.2-.3h0m16.3-.6h0m2.8-.3h0m7,1.3h0m.7-1.4h0m3.6-.1h0m3.2,1.4h0m4.6-.5h0m5.1,0h0m-92.2,2.1h0m2.3-.6h0m1.7,.4h0m14-1h0m2.4,1.8h0m5.9-1h0m26.7-.1h0m3.6,1h0m6.7-.5h0m17-.5h0m7.2,1h0m3.8-.8h0m5.2-.3h0m-76.3,3.1h0m26.4,.2h0m4.1-1.5h0m2.4,1.5h0m28.9-.1h0m5.7-.5h0m14.3,.1h0m-95.5,1.5h0m6.4,.8h0m3.9-1.3h0m28.5,.3h0m2.7-.3h0m14.3-.1h0m3,0h0m12.5,.3h0m10.9,1h0m9.7-1.3h0m3.4,.5h0m-95.5,2.4h0m12-.5h0m1.4,.1h0m4.2,1.3h0m5.5-1.8h0m16.2,.3h0m7.5-.2h0m6,.5h0m2.4,.4h0m11.5,.8h0m3.9-.7h0m4.4,.7h0m4.2-.6h0m.8-1.2h0m7.6,.3h0m-102.9,3.5h0m9.4-1h0m20.5,.5h0m5.7,.2h0m12.4-.3h0m7.8-.2h0m11,.8h0m3.6-1.3h0m9.4,.9h0m3.8,0h0m3.5,.4h0m5.4-1.5h0m3.8,.2h0m4.1,.9h0m6.2-.8h0m2.1-.5h0m2.5,1.8h0m-132.4,1.3h0m7.1,.5h0m8.6-1.5h0m6.7,1.6h0m2.5-1.4h0m7.5,1.6h0m7.6-1.2h0m8.1,.2h0m7.4-.7h0m2.8,.3h0m2.3,.6h0m6.4-.4h0m13.1,.7h0m12.1,0h0m.9,0h0m15.4-.3h0m17.3,.5h0m-125.9,.8h0m14.4,.7h0m7.9-.7h0m1.3,.3h0m14.5,.6h0m3-.3h0m9.3,.4h0m9,.4h0m12-.6h0m2.5,.1h0m4.8-1.1h0m3.6,1.2h0m1.5-.3h0m8.4,.5h0m15.3,.2h0m8.9,.1h0m-115.1,.6h0m14.3,.7h0m2.7-.5h0m4.2,.9h0m7-.8h0m3.9,.3h0m20.8-.6h0m20.6,.4h0m3.3,1h0m3.2-.4h0m2.8-.5h0m5.4,.9h0m3.9-1.6h0m8.3,.6h0m30.3,0h0m-122.9,1.7h0m16,.4h0"/>
<path stroke="#0aa0b8" stroke-width="2.8" d="M234.4,347.2h0m16.6-.1h0m82.5,.1h0m7-.5h0m-112.8,2.6h0m18.1-1.3h0m36.5-.3h0m12.5,.6h0m21.5,1h0m35.4-.4h0m-133.1,1.4h0m14.3,1.2h0m2.6-1.6h0m.5,.8h0m3.2-.2h0m46.1,.4h0m31.2-.6h0m4.7-.3h0m-92.1,3.6h0m8.2-1.6h0m2.7,1.4h0m26.5-.3h0m2.4,.6h0m20.7-.9h0m4.3,.7h0m21-1.5h0m13,.8h0m3.4,.3h0m-93.2,1.6h0m19.6,.4h0m14.4-.7h0m5.6,1.1h0m53.4-1.5h0m-116.5,3h0m6.2,.8h0m2.4-1.5h0m16.4,.8h0m9.7,.5h0m48-1.4h0m5.5,.1h0m8.3,.8h0m2.4,.6h0m15.4-.3h0m-105,1.5h0m12.4-.2h0m26,.1h0m2.7-.5h0m51.5,.6h0m5.3-.1h0m9.7-.1h0m3.2,.2h0m-111.9,2.8h0m7.5,.2h0m20.6-1.1h0m38.3,1h0m14.7-1.4h0m4,.3h0m12.5,1.2h0m2.1-.4h0m9.6-1.1h0m-117.5,2.3h0m42.6-.1h0m24.5,.5h0m18.4,1.1h0m20.9-1.4h0m1.2,1.3h0m12.9-.6h0m-106.8,2.8h0m32.7,0h0m8.9-.8h0m24.6,.1h0m26.7,.2h0m24-.4h0m-88.6,2.9h0m17.2-1.7h0m3.9,.9h0m4.9,0h0m17.5,0h0m8.1-.6h0m8.1,1.4h0m21.4-.3h0m-86.7,1.7h0m1.2,.6h0m9.5-.8h0m11.9,.1h0m14.5-.1h0m15.3,.5h0m7.8,.4h0m19.6-.4h0m11.9-.7h0m-85.7,3.3h0m9.5-.9h0m6-.5h0m29.6,.7h0m6.4,.6h0m6.1-1h0m9.1,.6h0m12.5-.7h0m5.2,0h0m4.5,.2h0m6.4-.8h0m-92.6,3.2h0m3.8,0h0m1.6,.5h0m16.4-1.4h0m27.2,.4h0m2.8-.5h0m4,1.7h0m12.6-1.2h0m7.2,.3h0m5.7-.4h0m8.1,.4h0m-98.2,1.6h0m7.2,.8h0m2.7-.3h0m1,.5h0m6.9-.4h0m10.8,.3h0m26.3-1.3h0m10.7,1.3h0m18.2,.5h0m8.4-1.7h0m2.5,1h0m4.8,.1h0m-90.6,1.1h0m.5,.6h0m15.4,.9h0m6.3-.5h0m2.7,.6h0m45.4-.3h0m6.7-.7h0m-53.3,2.7h0m16.1-1.1h0m34.1,1.2h0m12.6-.4h0m3.7-.9h0m2.5,.2h0m-128.7,3.3h0m14.9-.1h0m35.7-.5h0m26.4-1h0m23.3,.9h0m6.6-.6h0m16.4,.5h0m-124.7,1.6h0m1.7,1.1h0m30.9-.7h0m46.7-.4h0m1.8-.1h0m5.5-.1h0m13.2,1.3h0m-99.5,1.3h0m9,.6h0m18.5-1.1h0m4.5,1.3h0m23.7-.9h0m5.5-.2h0m41.4,1.4h0m9.4-.7h0m11.5-.2h0m2.8,.8h0m-128.8,1.4h0m15,.3h0m13-.9h0m10.1,1.4h0m74.8-.1h0m9-1.6h0m-100.2,2.9h0m67.2,.3h0m4.9-.3h0m16.8-.3h0"/>
<path stroke="#09728a" stroke-width="2.6" d="M292.2,346.6h0m1.5,0h0m49.8,.1h0m-110.5,2.3h0m4.5-.1h0m4.7-1h0m79.1,1h0m19.9-.5h0m-126.5,1.6h0m11.6-.2h0m2.8,1h0m23.4,.5h0m2.6-.1h0m17.3-1.1h0m9.9,.7h0m4.6,.1h0m35.9,.1h0m18.4-1.2h0m9.1,1.4h0m-116.3,2.2h0m37.9-.5h0m14.5-.5h0m2.3-.1h0m3.2,1.1h0m5.4,.1h0m4.9-1.4h0m20.6,.5h0m-108.6,2.2h0m10,.6h0m6.5-.2h0m12,.6h0m2.4-1.3h0m22.9,.5h0m30-.9h0m5.2,.6h0m37.2,1.1h0m3.4-1.4h0m6.2,.8h0m-114.6,2h0m5.9,.2h0m39-1.2h0m4.2,.8h0m3.2,.9h0m2.2-.4h0m5.1,.1h0m30.2-.5h0m14.1-.3h0m-108.8,3.2h0m2.2-1.8h0m48.9,.8h0m13.2-.8h0m2.2,.4h0m51.7,.8h0m-134.3,1.2h0m10.2,.5h0m54.1-.1h0m22.3,1.1h0m4-1.3h0m10.5,1.1h0m24.8-.3h0m-101.4,1h0m23.3,.7h0m2.8-.5h0m18.7,.5h0m61.2-.6h0m1.6,0h0m-110.6,2.5h0m2.3-.2h0m1.4,.2h0m10.2-.6h0m13.8,.6h0m1.7,.3h0m35.6,.5h0m18.8-.1h0m17.3-1.2h0m-109.8,2.8h0m7.7-.3h0m16.7,0h0m1.7-.2h0m4.3,1.3h0m15.2-1.7h0m7.8,1.4h0m6.4-.1h0m11.7-.2h0m2.6-.5h0m12.8,.7h0m15.8-1h0m17.4,1.4h0m-79.1,1.1h0m1.8,.9h0m1.9-.8h0m36.7-.5h0m10.8,1.3h0m26.2-.4h0m4.4-.8h0m-99.2,3.2h0m10.5-1.5h0m2.7,1.8h0m42.8-.2h0m6.5-.2h0m17.9-.7h0m20,.7h0m-93.8,2.2h0m9.7,.2h0m9.4-1.7h0m24.8,1.7h0m44.4-.3h0m-79.8,2.2h0m21-1.5h0m24.7,1.4h0m16.5-1h0m3,0h0m17.3,.6h0m-110.7,2.3h0m14.7-.4h0m21.1,1h0m4-1h0m46.6,.4h0m16.5-.2h0m11-1h0m-99.4,3h0m14.1-.9h0m12.6,.9h0m62.1-.4h0m7.2-.1h0m-121.1,2.8h0m6.4-.8h0m21.8,1.5h0m48.3-.6h0m1.1-.3h0m1.8-.6h0m7.3,1.2h0m22.7-.2h0m-105.6,1.8h0m7.2-.5h0m13.3,.3h0m6.5,.4h0m11.7,0h0m2.8-.3h0m13.3-.4h0m10.4-.3h0m9.8-.2h0m11.1,.1h0m2.3,1.4h0m16.2-.7h0m3.7,.4h0m2-.9h0m-121.8,3.4h0m8.8-1.3h0m10.4-.1h0m70.7,.5h0m29.3,.3h0m5.3-.7h0m9,1.1h0m-123.9,1.5h0m39.1-.3h0m44.8,1h0m7.1-.5h0m6.7,.2h0m9-1h0m-102.5,2.2h0m11.8,.1h0m77.8,.4h0m1,.1h0m2,.5h0m7.5-1h0m.5-.4h0"/>
<path stroke="#086a88" stroke-width="1.1" d="M218.1,347h0m4.3-.6h0m10.7,.9h0m41.9-.3h0m10.1-.3h0m2.6,.9h0m6.5-2.2h0m18.8,1h0m2.7,.4h0m20-.6h0m9.2,.2h0m2.1,1.9h0m-130.4,.5h0m9.5-.7h0m2.3,1.5h0m1.2-1.1h0m10.5-.2h0m1.4-.6h0m5-.1h0m6.5-.2h0m15.6,1.9h0m2.2-.6h0m4.2-.9h0m3.3,1.7h0m-.5,.5h0m5.2,0h0m8.2-1.7h0m2.5,.8h0m33.4-.8h0m11.5-.9h0m3,1.2h0m2.2-1.7h0m2.6,1.7h0m-127.2,3.1h0m2.1-1.2h0m6.8-.9h0m5.6,1.5h0m2.3,.1h0m2.9-1h0m41,1h0m-.1-.3h0m7.5-.2h0m27.1-.6h0m.2,.5h0m-99.9,1.9h0m1.6,.5h0m2.2,1h0m9.5-1.1h0m.4-.2h0m2.5,1.3h0m3.3-1.4h0m19,1.4h0m12.5-.4h0m5-1.4h0m6,1.7h0m6.9,.5h0m8.9-.5h0m1.2-.2h0m3,.2h0m6.1-.9h0m1.6-.7h0m14.1,.2h0m1.9,.7h0m2.3-.5h0m5,1.5h0m6.2,0h0m17.5-.5h0m2.6-.9h0m-133,2.9h0m-.8-1.5h0m10.9,1.1h0m7.6-1.1h0m1.9,.6h0m2.8-.3h0m3.8,.9h0m3.4-.8h0m2.4,1h0m4.8-.6h0m.5,1h0m.8-.4h0m14.8,.3h0m9.9-.1h0m20.4-.9h0m-.7-1h0m1.2,.4h0m8.6,.2h0m19.5-.5h0m-.5-.9h0m2.7,1.5h0m8.8,.2h0m2.4,.5h0m-128.7,1.3h0m1.9,1h0m9.8,.2h0m7.2-.9h0m2.6,1.5h0m11.3-2.5h0m8.2-.6h0m1.3,1.1h0m4.6-.5h0m12,1.7h0m3.1-1.4h0m5.9,1.3h0m5.2,1.1h0m1.2-1.9h0m6.4-.9h0m3.6,1.4h0m0-1.4h0m27.1-.1h0m3.4,1.8h0m7.4-1.8h0m.5,.6h0m6,.4h0m3.3-1.3h0m-109.2,2h0m9.2,3.3h0m4.1-1.1h0m3.8,.6h0m4.8-1.4h0m16-1.2h0m.8,.9h0m2.9-.2h0m8.4,.1h0m4.9,1.6h0m7.4-.7h0m3,.2h0m4.2,.3h0m4.5,.4h0m2.1-1.5h0m7-.2h0m2.1,.5h0m4.8,.6h0m8.8,.6h0m-117.3,.6h0m1,.1h0m8-1h0m3.1,3.5h0m2.6-2.7h0m17.9-.6h0m10.9,.5h0m1.8,.3h0m11.5-.6h0m.2,2h0m5-.7h0m5.7-.4h0m5.9,0h0m19.6,1.5h0m3.5-.9h0m5.2-.3h0m2.5,.5h0m2.1-.9h0m8.5,.5h0m5.1,.4h0m3.9-1.4h0m-131.6,2.4h0m8.4,.4h0m1.1,0h0m15.5-.7h0m10.8,.9h0m10.7-1.3h0m1.1,1.2h0m13.2-.7h0m5.8,1.2h0m1.8-1.8h0m3.2,.7h0m6.7,1.5h0m-1.4,.4h0m12.9,.8h0m13.5-1.3h0m10.5,.6h0m7.6-1.1h0m-121.2,1.5h0m6.7,.3h0m6.7,1.8h0m1.6-1.8h0m4.3-2.1h0m3,1.8h0m2.2,.2h0m17.2-1.2h0m4.1,1.6h0m5.4-.5h0m7.5,2h0m6.2-3h0m16.1,1h0m18-.5h0m9.6,1.3h0m18.6,0h0m-103.9,1h0m17.1-.5h0m6.3,1.6h0m1.9,.2h0m8-1.7h0m8.3-.9h0m4.6,2h0m3.8,.9h0m8.6-.6h0m3.1-2h0m4.7,1.7h0m5.7,.7h0m2.6,0h0m12.9-2.3h0m2,.6h0m10.1,.5h0m-109.1,2.5h0m22.5-.9h0m8.5,1.3h0m2.7-.2h0m.8,0h0m.1-2.8h0m8.8,2.6h0m4-.9h0m12.2,.5h0m20.4-.7h0m5-.6h0m4.3,2.6h0m9,.1h0m2.1-.5h0m2.2-1.2h0m7.8,3.3h0m-.4-2.5h0m4.3,.1h0m-82,1.2h0m12.1-.4h0m13.8,2.2h0m15.2-1.3h0m1.1,.9h0m4.7,.1h0m2.9-1h0m2,1.1h0m8.5-2h0m3.3,2.2h0m5.9-2.5h0m3.9,1.4h0m2.6-1.1h0m4.2,.2h0m4.6-.2h0m6.6,1.1h0m.5-.6h0m-99.4,2.6h0m2.8-.9h0m1.6,1.8h0m5.5-.8h0m.7,.4h0m3.6,.3h0m9.8-1.9h0m0,.1h0m8.8,.3h0m3,1.2h0m10,.8h0m3.7,.2h0m2.1-1.7h0m7.5,.4h0m2.1-.5h0m2.8,1.3h0m11-.7h0m7.9,.5h0m3.2-.1h0m2.2-1.6h0m0,.1h0m6.2,.5h0m.7-.9h0m0-.6h0m2.9,1.9h0m-101.3-.4h0m.6,1.3h0m17.8,1.8h0m3.2-.3h0m6.8-.7h0m26,.2h0m1.6-2.8h0m20.6,1.6h0m6-.4h0m6,1.2h0m2.9,1.3h0m-75.2,.7h0m6.6,.7h0m7.4-.4h0m6.1-1h0m17.2,.8h0m1,1h0m7.1,.1h0m9.6-.5h0m2.7,1h0m6.7,.2h0m6.5-3.1h0m4,.7h0m-105,3h0m4.1,.1h0m15,1.2h0m11.4-2.1h0m4.3,1.7h0m6.3,.2h0m2.7-1.1h0m32.2-1.1h0m16.5,2.7h0m2.7-1.1h0m-111.1,1.8h0m9,.5h0m14.9-1.7h0m8.4-.3h0m.5,.8h0m1.1,1.4h0m1.4-1.6h0m3.2,.6h0m15.9,0h0m3.1,1.4h0m9.5-2.2h0m3,2h0m5.8-2.1h0m5.2,.5h0m2.2-.6h0m4.1,1.7h0m5.9,1.7h0m10.5-2.7h0m6.7,.1h0m3.2-.6h0m10.2-.3h0m2.9,.8h0m1.3-1.2h0m5.6,2.6h0m-132.3,0h0m1.7,1.5h0m8.3-.2h0m3.4,.5h0m1.8-.4h0m10.5-3.3h0m15.1,2.4h0m9-.1h0m24.1,.1h0m18.8-.9h0m4.1,0h0m23.8-.4h0m-122.9,3h0m7.6,.4h0m8.5-.5h0m8.2,.1h0m3.2,.2h0m4.6-1.1h0m5,2.3h0m3.3,.2h0m37.6-.6h0m2.3-1.6h0m1.6,3.1h0m1.5-2.2h0m9.4,1.2h0m-.1,.4h0m10.5-.6h0m7.2,.5h0m2-1.7h0m8.7,.3h0m3,.2h0m9.2,.2h0m-131.4,1.3h0m.5,.1h0m3,1h0m3.7-1.4h0m5.3,1.2h0m2.6,.3h0m4.9,.1h0m2.1,0h0m5.8-.2h0m1.1,.3h0m1.3-2.1h0m2.5,.9h0m10.5,1.2h0m3.5-1.3h0m.4,1.2h0m28.8-1h0m2.7,.7h0m5.3-.2h0m2.7,.1h0m4.7-.5h0m2.3-.2h0m17.6,2h0m1.9-2.4h0m4,0h0m12.7,1.7h0m-120.6,1.1h0m10.1-.3h0m1.8,.4h0m68.8,.8h0m2.2,1.5h0m20.2-1.4h0m2.2-.4h0"/>
<path stroke="#66f6f6" stroke-width="1.1" d="M231.9,348.2h0m6.7-.6h0m12.5-.4h0m15,1.1h0m4.5-1.7h0m9.1,.6h0m12.1-.2h0m48.7,.3h0m-121.5,2h0m2-1.2h0m10.6,0h0m1,.5h0m3.5-1.4h0m2,3h0m6.2-2.1h0m3.8,.4h0m35.2,.5h0m2-1.1h0m4.2,.1h0m21.7,1.4h0m4-1.2h0m3.1-1.7h0m3.3,1.3h0m30.3,.8h0m-136.6,1.5h0m2.6,.5h0m7.3-2.4h0m6,3.3h0m22.1-.4h0m3.6-.3h0m16,.4h0m10-.5h0m1.2,.8h0m10-.8h0m7.5,.4h0m20.6-1h0m.3,1.4h0m18.6-.9h0m.7-.8h0m-120.7,4.2h0m3.5-1.5h0m.3,1.1h0m11.8-2.3h0m1.3,.7h0m1.3,.6h0m7.2-.3h0m21.7,1.1h0m5.6-1.9h0m6.1,.1h0m9.3-.2h0m17.3,1.7h0m2.9,.5h0m2.7-1h0m3.3,2.1h0m-1.4-3.3h0m18.7,1.1h0m-.9,.7h0m-116.3,2.9h0m10.1-2.3h0m2.7,2.1h0m5.7-1.9h0m11.5,.9h0m15.9,1.6h0m5.2-.3h0m.4-1.2h0m6.5-.3h0m3.5,.2h0m2.2,.6h0m1.9-.1h0m5.9-1.9h0m1.8,1.6h0m5.3-1h0m2.2,1.1h0m4.2,1.3h0m6.2-3h0m9.3,2.7h0m9.5-1.5h0m3.3-2.2h0m9.7,1.3h0m11.3,1.2h0m3.6,1.3h0m-140,1h0m8-.6h0m4.7,.3h0m6.7,1.2h0m-.2-.9h0m8.3-1h0m-.6,.1h0m7.8,1.5h0m10.2-.4h0m4.7,.1h0m15.5-.8h0m3.3,1.9h0m6.1-.6h0m6-.4h0m12.9-1.7h0m-.8,1.3h0m4.8,.1h0m26.2-.4h0m8.5,.7h0m-121.5,.8h0m2.8-.7h0m3.8,2.2h0m.6,.1h0m1.2-1.4h0m4.4-.5h0m-.6,1.8h0m16-.8h0m13.1-2.3h0m28.9,3.1h0m15.4-2.4h0m11.2,2h0m12.6,.3h0m.6-.9h0m5.7,.5h0m1.5-2.2h0m8.7,1.1h0m-135.3,2.3h0m19.3-1h0m19.1,1.4h0m5.8,.4h0m1.4-.3h0m24.9-1h0m4.1,1.7h0m4.1-1.4h0m6-1.9h0m.8,4h0m3.6-2.4h0m2.6,.9h0m1,.9h0m8.8-.6h0m1-1.4h0m6.7,.1h0m10.4-.3h0m5.5,2.6h0m-119.8,1.6h0m7.9-2.8h0m6.4,3.4h0m16.7-.4h0m6.6-1.4h0m7.3,.5h0m2.8,.4h0m2.2-1.3h0m9.1,.9h0m15.7-.1h0m5.5,1.1h0m2.8,.2h0m7-.8h0m3.6-.2h0m4.5-.5h0m2.4,.7h0m15.1,.1h0m4.7-.2h0m1.6,.7h0m6.8-1.9h0m-116.6,3.2h0m5.3-.4h0m11.8,.5h0m9.9-1.9h0m2.9,2.9h0m3.5-2.4h0m4.4,1h0m5.9,1.4h0m7.3-.8h0m-.9-1.3h0m5.6,.8h0m.5,.2h0m8.6,0h0m4,.8h0m7.2-1.8h0m10.7,2.4h0m1.8-.4h0m1-.3h0m8-.4h0m7.2-2.1h0m1.4-.9h0m4.4,2.6h0m2.2-1.5h0m6.7-.1h0m-130.9,5.6h0m2.4-5.1h0m.5,3h0m5.3,.3h0m4.9-1.2h0m1.7,1.6h0m16.2-1h0m6.3,1.9h0m25.3-.8h0m16.4-1.2h0m2.1-.2h0m2.5,1.8h0m10.1-.8h0m2,1.2h0m4.2-1.9h0m9.7-.4h0m13.2,1.7h0m2.1-1.5h0m4.2,1.6h0m-110.1,2h0m-.5,.2h0m13.8,.2h0m2.4-1.1h0m13.5-.3h0m14.5-.4h0m-.4,.9h0m4.1-.8h0m17.2,2.6h0m1-2.9h0m6.6,1.3h0m6.1-1.4h0m15.4,.9h0m1.1-.1h0m10.8,.1h0m5.4,.8h0m-100.6,.8h0m4.4,.4h0m1.3,.4h0m3.2-1.2h0m4.4,2.9h0m4.5-2.7h0m2.6-.1h0m3.6,1.1h0m1.6-.9h0m9.7-.4h0m1,2.2h0m14.3-1.7h0m14.6,1.3h0m3-1h0m0-1.2h0m7.6,1.4h0m6,.2h0m6.3,.2h0m1.9-.7h0m3.6,1.1h0m-91.7,.2h0m9.7,.8h0m11.8,1h0m11.2-2.3h0m24.4,1.2h0m16.9-.1h0m5.2,1.4h0m1.7-2h0m-78.5,3.1h0m2.7,.9h0m9.6-.1h0m4.8-.9h0m2.6,1h0m7.9,.2h0m3.2-.8h0m1.9-1.4h0m10,.9h0m4.6-.3h0m7.3-.2h0m3.1,1h0m6.7,.5h0m2-.9h0m2.4-.8h0m6.9,1.1h0m.6,.1h0m4.2,.8h0m10-1.1h0m3,1.3h0m2.6-1.2h0m1.7,.8h0m-114.1,.7h0m20-.3h0m.7,.4h0m5.3,.3h0m4.8-.9h0m3.1,2h0m2.1-.4h0m7.9-.1h0m14.2,.1h0m1.3-2.2h0m2.5,.3h0m9.4,2.2h0m4-1.6h0m3.4,1.7h0m9.4,.2h0m7.4-.7h0m5.2,.5h0m9.6-.7h0m2.7-1.3h0m-93.6,2.3h0m6.1,1.1h0m8.1-.4h0m1.8,.6h0m2.8,1.7h0m10.1-1.4h0m10.8-1.4h0m3.6,.9h0m.9-1.3h0m2.8,1h0m4-1.9h0m15.4,2.5h0m13.6-.1h0m.5-1.2h0m3,1.3h0m3.5-1.2h0m1.9,.1h0m3.3,.7h0m2.8-1.5h0m-125,3.5h0m13.7,.4h0m-.1,.4h0m30.1-.4h0m14.1-.4h0m14.5-1h0m8.2,.4h0m5.2,.1h0m15.2,1.4h0m10.3,0h0m4.1,.4h0m6.5-2.8h0m-128,2.5h0m8.5,2.1h0m7.8-1.2h0m5.2-.2h0m8.8-.3h0m2.2,1.8h0m1.9-1.2h0m13.7-.6h0m6.8,1.4h0m2.7,.8h0m2.7-.5h0m2-2.6h0m1.6,.8h0m14.1-.6h0m2.5,1.8h0m.8-.8h0m4.7-.1h0m3.5-1.4h0m3.3,1.6h0m4.8,.9h0m3.6,.9h0m2.8-1.9h0m2.7,.1h0m10.1-.1h0m1.7,.6h0m9.3,0h0m1.8-.6h0m-131.7,3.4h0m3.6-1h0m4.7,.6h0m2.8-1.2h0m8.3,.1h0m18,.8h0m16.5-.1h0m15.6,.5h0m3.8-.3h0m14.6-1h0m15.8,.4h0m2.4,.1h0m4.7,.3h0m15.8-1.5h0m.8,.6h0m1.3,2.5h0m4.1-2.3h0m-123.2,4.1h0m3.1-2.6h0m1.2,2h0m24,1.4h0m36.2-2.6h0m8.6,.5h0m21.3-.8h0m4.4,0h0m6.1-.1h0m8.4-1h0m-108.4,4.2h0m10.4,0h0m62,.5h0m2.9-.4h0m13.3-1.2h0m2.1-.6h0m1.1,1.1h0"/>
</g>
<rect x="248.4" y="330.8" width="70" height="21.4" fill="#fff" stroke="#555" stroke-width="1.1"/>
<text x="283.4" y="346.3" font-size="12.6px" text-anchor="middle">Shear aging</text>
<rect x="370.2" y="361.2" width="147.6" height="50.7" fill="#f0fcfc" stroke="#2a2a2a" stroke-width="1.2"/>
<g fill="none" stroke-linecap="round">
<path stroke="#0b7c94" stroke-width="3.2" d="M382.1,364.9h0m13.9-.1h0m3.7,.1h0m12.8,0h0m12.9-.6h0m3.9,.5h0m6.3-.1h0m20.2,.2h0m1-.5h0m5.9,.1h0m4.4,.6h0m2.6-.4h0m1.6-.2h0m3.5,.5h0m.4-.3h0m20.1-.1h0m3.8,.1h0m1.5,.2h0m-124.9,1.6h0m3.3,.6h0m1.9-.6h0m.9,.2h0m2.2,0h0m3.8-1.1h0m.9,1h0m2.3,0h0m4.8-.4h0m3.6,.3h0m3-.8h0m1,1.2h0m3.2-.5h0m.5-.9h0m2.2,1.2h0m2.5-.6h0m2.1,.1h0m2.9-.4h0m.8,.5h0m3.5,0h0m1.9,.7h0m4.7-.9h0m1,.4h0m1.6,.4h0m2.3-.4h0m1.8,0h0m2.9-.2h0m2.2,.5h0m11.7,.1h0m5.3,0h0m2.3-.2h0m.8-.7h0m2.1,.3h0m3.8,.8h0m2,0h0m3.2,.1h0m6.5-1h0m2.5,.4h0m1.3-.4h0m1.7-.2h0m2.9,1.1h0m2.5-.6h0m1.2,0h0m3-.6h0m.8,.6h0m3.4-1h0m3.3,.3h0m2.5-.2h0m1.3,.8h0m3.5,.5h0m-131.9,.8h0m1.8,.1h0m2.5,1.3h0m2.1-.7h0m1.6-.1h0m2.1,0h0m3.9,.7h0m2-.5h0m2.3,.1h0m3.3-.4h0m2.3,1h0m1.6,.1h0m2-.7h0m2.7,.6h0m.8-.8h0m4.8,.9h0m2.8,0h0m3-.8h0m1.7,.5h0m2.3-.7h0m2.4-.5h0m2.1-.3h0m3.3,0h0m2,1.4h0m1.5-.7h0m2.7-.3h0m1.3,.6h0m3,.8h0m1.1-.6h0m2.4-.4h0m2.8,.8h0m1.9-.7h0m2.2-.7h0m1.9,1.3h0m1.8-1.5h0m2.6,.9h0m1.7-.7h0m1.4,1.4h0m2.7-.7h0m1.8,.3h0m1.7-.8h0m1.7-.2h0m3.1,.2h0m3.3,.1h0m4.5,.6h0m1.7,.5h0m3.1-.5h0m2.2-.2h0m3.1,.9h0m3.8-1.4h0m1.2,.9h0m1.3,.5h0m2.7-.1h0m2.5-.8h0m1.5,.1h0m3.4-.1h0m-129.2,1.8h0m2.2,.3h0m1.9,.9h0m.6-1.8h0m3,1.2h0m4.5,.4h0m2.3,.2h0m2.1-1.5h0m1,1.5h0m2.7-.7h0m2.7-.7h0m.6,.6h0m2.5-.8h0m4.8,.4h0m2.9,1h0m1.2-1.1h0m2.3,.3h0m4-.8h0m4,0h0m2.2,.2h0m2.8,1.3h0m2.2,.1h0m2.2-1.6h0m1.7,0h0m2.4,0h0m2.1,1.7h0m1.9-.8h0m2.4-.4h0m1.7,.9h0m.9,.2h0m2.6,.1h0m2.7-1.7h0m2.3,.4h0m1.3,.2h0m2.9-.3h0m4.1,1.1h0m1-1h0m2.5,.8h0m2.9,.2h0m1.2-1.1h0m2.4,1.4h0m3-.8h0m1.6-.3h0m2.5,.8h0m2.2-.3h0m.8,.5h0m7.6-1.3h0m3.8,0h0m1.7,1.5h0m2.4-1.7h0m1.7,1.3h0m3,0h0m3-.8h0m-123.2,1.6h0m6.5,1.4h0m3.5-.9h0m3.4,.4h0m4,.5h0m3.4-.3h0m2.4,.3h0m4.8-1.5h0m1.2,.8h0m5.2,.1h0m2.8-.3h0m.9,.3h0m2.8-.8h0m2.2,.7h0m1.4,.4h0m2.8,.1h0m2.1,.2h0m2-.5h0m1.4-.4h0m2.4,.8h0m3-.9h0m1.2,1.1h0m2.3-.1h0m4.1-.7h0m1.5-.7h0m3,1h0m1.6,.2h0m1.7-.9h0m2.9,.8h0m1.1-.3h0m3.6,.1h0m1.7,.6h0m2.4-.2h0m1.9,.3h0m1.1-1.3h0m1.8,.2h0m3.3-.6h0m1.7,0h0m1.7,1h0m2.4,0h0m1.8,.3h0m2.6-.3h0m4.5-1h0m2.3,0h0m1,.4h0m1.8-.3h0m2.6,1.5h0m1.7-.4h0m2-.8h0m-108.5,2.1h0m1.1-.2h0m2.1,.4h0m2.3,.1h0m1.4-.1h0m3.4-.1h0m2-.3h0m1.8,1.4h0m2.6-.7h0m4.3,.5h0m3.6,.1h0m1.9-1.2h0m1.5,1.2h0m2.4,.3h0m4.5-1.5h0m2.1,.3h0m2.8,1.1h0m1.3-.3h0m3-.9h0m1.1,1h0m2.1-.7h0m2.5,1h0m2,0h0m1.1-1.6h0m2.1,.6h0m2.5,.4h0m5-.3h0m1.8-.1h0m2.8,.8h0m1.3-.9h0m5,.4h0m3.7,.4h0m2.2-.8h0m2.3,.9h0m.9-1.4h0m2.8-.2h0m1.6,.4h0m2.4,.6h0m3,.1h0m1,.5h0m1.8-1.6h0m3.4,.3h0m1,1.1h0m2.6-.4h0m-86.3,1.1h0m.6,.4h0m2.8,.6h0m1.7,0h0m2.9-1h0m.9,.5h0m5.7,.4h0m2.2-.4h0m1.3,.4h0m1.6-.7h0m1.7,.4h0m3.2,.4h0m2,.1h0m2.2,.1h0m2.5-.9h0m1.9,.8h0m1-1.1h0m3,1.4h0m1.8-1.1h0m2.6,.6h0m2.2,.8h0m2.2-.2h0m.5-1.1h0m3.6-.1h0m1.1-.1h0m3,.8h0m.9,.5h0m2.4-.2h0m2-.5h0m1.8-.4h0m3.1,1.2h0m1.8,.1h0m1.9-1.5h0m2,1.5h0m2.3-1.4h0m2.2,.2h0m2.1,0h0m3.5,.5h0m2.7-.2h0m1.5,.4h0m2.3,.1h0m-83.1,1.2h0m2.1,.3h0m3.2,.8h0m1.4-.4h0m2.7,.4h0m1-.7h0m3.4,.5h0m2-1.3h0m1.3,.7h0m2.3-.7h0m2,1.8h0m2-1.5h0m2.1-.1h0m4.3,.6h0m2.1-.5h0m1.7,1h0m4.9-.6h0m3.9,.6h0m3-.9h0m.8,.4h0m3.6,.1h0m1.6-.6h0m2,0h0m1.6,.3h0m9.2,1.2h0m1.8,0h0m1.8-.8h0m2.1-.4h0m2.9-.2h0m1.1,.8h0m1.6-.8h0m2.2-.4h0m2.9,1.4h0m-72.3,1.6h0m1.5-.9h0m3.1,.3h0m1.3,.2h0m2.8,1.3h0m.7-.7h0m3.6,.4h0m1.5-.4h0m4.1,.3h0m4.8-1h0m.7,1h0m3.3-.2h0m3.8-1.1h0m2.6,.2h0m4.2,1h0m2-1.3h0m2.1,1.8h0m1.6-.5h0m2.5-.9h0m1,.6h0m3.4,.3h0m1.6-.9h0m2.3-.3h0m2.8,1h0m.5,.2h0m3.1-.5h0m1.6,.4h0m2.2-.9h0m2.2,.2h0m1.3,1.2h0m-54.4,.6h0m8.9,.3h0m17.8-.3h0m1.6,.8h0m2.5-.6h0m2.5,.5h0m1.9,.4h0m1.6,.5h0m2.5-.7h0m2.7,.4h0m1.1-1.1h0m2.9,1.4h0m2.8-1.2h0m.7,.4h0m3.5,.7h0m-24.1,2h0m.4,.2h0m3.5-1.3h0m2.1,.7h0m2.3,.1h0m.6-.7h0m4.4,.2h0m2.9,.4h0m1.9-.3h0m2.7,.3h0m2.7-1h0m-20.5,3.6h0m1-.3h0m2.3-.3h0m6.3-.3h0m4.1,.2h0m1.8,.1h0m-31.7,2.6h0m1.9-.4h0m1.7,.4h0m-17,2.2h0m5.8-.1h0m4.4-1.1h0m1.5,.4h0m2.3,.7h0m2.6-1h0m1.6,1h0m2.2,.2h0m2.5-1h0m2.1,.3h0m-39,2h0m1.6,.6h0m1.5-.6h0m3.4-.3h0m1.5,.4h0m2.2-.6h0m1.5-.2h0m3.2,1.1h0m1.3-.7h0m3.3,.3h0m.6-.7h0m2.6-.2h0m2.4-.1h0m1.6,1.5h0m2.9-.9h0m2.3,.8h0m2.2,.3h0m.5-1.4h0m3.6-.2h0m4.2,1.3h0m2.2,0h0m1.8-.6h0m-59.7,2.7h0m4,0h0m3.1,0h0m2.2-1h0m2.4,1.2h0m1.8-1.4h0m3.2,.2h0m.8,1.1h0m3,0h0m1.5-1h0m4.4,1h0m2.6-1h0m2.1,1.1h0m1.4-1.6h0m3.3,1.1h0m1.6,.1h0m2,.5h0m2-.3h0m2.7-1.2h0m2.1,.9h0m1-.4h0m3,.9h0m1.4-.4h0m3.4-1.2h0m1.7,.3h0m.9,1.2h0m5.7-1h0m1.1,1.2h0m1.8-1.4h0m3.3,1h0m2.2-1h0m2,1.1h0m4-.5h0m1.7,.7h0m2.1,.1h0m2-.2h0m2.4,.1h0m2.5,.2h0m2.2-.5h0m1.3,0h0m2.3-.7h0m2.6,.8h0m-98.5,2.1h0m2.9-.9h0m.7,.9h0m5.2-.8h0m1.4-.2h0m2.4,.5h0m5.8,.3h0m3.3-.7h0m1.7,0h0m2.7,.7h0m1.4-.6h0m1.8,.7h0m2.8-1.3h0m1.9,.4h0m2,1h0m2.8,.3h0m3.2-1.7h0m2.1,1.4h0m1.8-1.2h0m2.8,.5h0m2.2,.4h0m1.6,0h0m2.9-.5h0m1.1,.9h0m3.1-1.2h0m1.9,.3h0m.9,.5h0m2.6-1.1h0m2.8,1.5h0m.8-.8h0m3.2-.7h0m4.4,.7h0m2.3,.7h0m1.3-.4h0m2,.5h0m2-.7h0m2.6,1h0m2.6-.5h0m1.8-.9h0m2.3-.2h0m2.1,1.4h0m1.6-.3h0m1.7,.4h0m2.3-1.4h0m3,1.3h0m.7-.9h0m-104,2.9h0m2.3-1.4h0m2.2-.1h0m2.6,1.2h0m1.8-.5h0m2.9,.4h0m1.5-.1h0m1.4-.5h0m3.6,.3h0m3.1,.9h0m2.2-1.2h0m1.9,.7h0m2.2-.3h0m2.7,.3h0m2.7,.6h0m.5-1.8h0m2.2,.8h0m3.3-.6h0m1,.3h0m3.5-.1h0m.2,1.4h0m2.9-1.1h0m1.9,1.1h0m2.2-.2h0m1.7-1h0m2,.3h0m2.4,.8h0m2.4-.3h0m2.4,.4h0m2,0h0m1.8-1.2h0m1.5,.8h0m4.9-1.2h0m2.1,1.5h0m2.3-.9h0m1.5-.1h0m2.6,.9h0m4.7-.4h0m2.6,.5h0m1.2-.1h0m1.6,.1h0m1.8-.2h0m2.1,.3h0m2.3-.7h0m3.5-.6h0m.8-.4h0m7.5-.1h0m-108.2,3.2h0m1.1-.5h0m2.3-.3h0m2.5-.1h0m2.6,1.1h0m1.9-.7h0m2.4-.1h0m.4,0h0m4.7,.7h0m2.8-.4h0m1.1,.3h0m2.9,0h0m2-.2h0m1.9,.1h0m1.7-.9h0m3.5,1.4h0m1.3-.9h0m1.4,.4h0m5.5,.2h0m2.7-1h0m3.5,1.1h0m2-1.2h0m2.2,1.2h0m.6,.2h0m3.6,0h0m1.6-1h0m1.6-.3h0m1.6,.5h0m2.2,.2h0m2.1-.4h0m2.2-.2h0m2.5,.2h0m2.1,1.2h0m3.2-1.6h0m.6,1.3h0m2.5-.4h0m1.7,.8h0m2.6-.4h0m2.1,.2h0m2.7,.1h0m1.7-1.7h0m1.3,.4h0m2.7-.3h0m2.9,0h0m3.8,.7h0m2.1-.3h0m1,1.1h0m2.1-.3h0m3.7,.4h0m-106.8,.5h0m9.1,.3h0m3.7,.5h0m2.4,0h0m1.8-.4h0m4.1-.4h0m2.5,.1h0m1.3,1.6h0m2.9-.8h0m.8-.6h0m3.8,.3h0m.5-.5h0m9.7,1h0m1.8-.2h0m5.8-.7h0m8-.1h0m4.2-.2h0m5.3,1.2h0m1.6-.6h0m5.2,.4h0m2.7-.2h0m2.5,.4h0m2-1h0m1.6-.1h0m2.3,.4h0m1.8,.6h0m3.7,.4h0m1.2-.3h0m2.6,.3h0m2.6-.3h0m2.5-.2h0m2.5,.5h0m-37.5,1.1h0m3.2,.2h0m8.6-.7h0m3.4,1.5h0m2.8-1h0m2.3,.4h0m2.4,.9h0m2.5-1.2h0m4-.3h0m1.9,.7h0m1.2,.4h0m2.6-.3h0m1.1-.6h0"/>
<path stroke="#12c4d0" stroke-width="2.8" d="M395.8,364.6h0m3.7,.1h0m25.7-.6h0m30.4,.6h0m11.3,.2h0m4.2-.6h0m3.5,.5h0m-99.1,1.5h0m6.1,.2h0m9.2-.1h0m8.4-.1h0m3-.8h0m4.2,.7h0m7.3-.2h0m7.2,.1h0m1.9,.7h0m28.2-.1h0m14.3,.2h0m2,0h0m9.7-.9h0m5.5-.2h0m5.4,.5h0m4.2-.6h0m4.2-.4h0m7.1,.9h0m3.5,.5h0m-110.3,1.3h0m2.3,1h0m1.6,.1h0m2-.7h0m2.7,.6h0m.8-.8h0m4.8,.9h0m5.8-.8h0m4-.2h0m2.4-.5h0m7.4,1.1h0m25.2-.5h0m7.6,.3h0m3.4-1h0m3.1,.2h0m14.8,.5h0m6.9-.5h0m1.2,.9h0m1.3,.5h0m2.7-.1h0m2.5-.8h0m-124.3,1.8h0m2.2,.3h0m2.5-.9h0m7.5,1.6h0m2.3,.2h0m16.4-1.2h0m10.4-.6h0m15.1,0h0m2.4,0h0m2.1,1.7h0m1.9-.8h0m2.4-.4h0m1.7,.9h0m9.8-.8h0m7,.8h0m3.5-.2h0m4.1-.9h0m2.4,1.4h0m9.3-.6h0m12.2-.8h0m11.8,.3h0m-116.7,3h0m3.5-.9h0m30.9-.5h0m2.2,.7h0m4.2,.5h0m5.5-.7h0m6.6,1h0m6.4-.8h0m4.5,.3h0m1.6,.2h0m1.7-.9h0m11.7,1h0m9.8-1.4h0m5.9,1.3h0m2.6-.3h0m6.8-1h0m5.4,1.6h0m1.7-.4h0m2-.8h0m-108.5,2.1h0m1.1-.2h0m2.1,.4h0m7.1-.1h0m16.2-.2h0m1.5,1.2h0m2.4,.3h0m10.7-.4h0m26,.2h0m1.3-.9h0m10.9,0h0m-58.4,2.4h0m3.8-.5h0m9.2,.4h0m8.5,.2h0m2.2,.1h0m5.4-1.2h0m3,1.4h0m1.8-1.1h0m22.3,.1h0m8.8,1.3h0m2.3-1.4h0m-66.7,2.5h0m7.3,.8h0m10-1.5h0m12.5,.3h0m6.6,.4h0m7.7,.1h0m19.8,1h0m1.8-.8h0m-53.6,1.6h0m12.7,.9h0m19.4-.1h0m5.7,0h0m2.5-.9h0m1,.6h0m3.4,.3h0m6.7-.2h0m3.6-.3h0m1.6,.4h0m4.4-.7h0m-53.1,1.8h0m26.7,0h0m6.6,.7h0m6,.2h0m2.7,.4h0m7.5-.5h0m3.5,.7h0m-23.7,2.2h0m5.6-.6h0m2.3,.1h0m7.9-.1h0m-12.2,2.3h0m8.6-.6h0m5.9,.3h0m-39.3,4.7h0m12.4,0h0m-24.2,1.6h0m2.2-.6h0m4.7,.9h0m19.2,.3h0m8.3-.3h0m2.2,0h0m-41.2,1.1h0m5.3,.1h0m10.5-.5h0m4.9,1.2h0m2,.5h0m4.7-1.5h0m2.1,.9h0m5.4,.1h0m17.9,.1h0m8.2-.4h0m3.8,.8h0m2-.2h0m-82.3,1.1h0m.7,.9h0m6.6-1h0m13.2,.1h0m2.7,.7h0m6-1.2h0m3.9,1.4h0m2.8,.3h0m5.3-.3h0m18.3-.3h0m13.8-.4h0m2.3,.7h0m1.3-.4h0m11-.6h0m-90.3,3.2h0m2.3-1.4h0m11,.9h0m1.4-.5h0m6.7,1.2h0m2.2-1.2h0m1.9,.7h0m2.2-.3h0m12.4-.4h0m3.7,1.3h0m7-.2h0m1.7-1h0m2,.3h0m2.4,.8h0m4.8,.1h0m16.1-1.1h0m7.3,.5h0m3.8,.4h0m7.8-.5h0m3.5-.6h0m-98.8,2.2h0m2.3-.3h0m2.5-.1h0m2.6,1.1h0m18.2-.4h0m7.1,.6h0m2.7-.5h0m11.7,.3h0m4.2,0h0m4.2,.2h0m4.8-.8h0m9-.2h0m2.1,1.2h0m6.3-.7h0m12.1-.6h0m5.6-.3h0m5.9,.4h0m6.8,1.2h0m-106.8,.5h0m9.1,.3h0m7.9,.1h0m4.1-.4h0m6.7,.9h0m16.6,0h0m30.1,0h0m2.7-.2h0m10.2,.3h0m7.5,.4h0m-29.9,1.1h0m15.2,1h0m19.7-.4h0"/>
<path stroke="#2aeef0" stroke-width="2.8" d="M412.3,364.7h0m23.1-.2h0m21.2-.3h0m5.9,.1h0m7,.2h0m25.6-.1h0m-114.4,1.9h0m3.1,.2h0m11.8-.5h0m7.6,.7h0m3.7-1.4h0m2.2,1.2h0m19.4-.2h0m1.6,.4h0m2.3-.4h0m1.8,0h0m2.9-.2h0m19.2,.6h0m2.3-.2h0m.8-.7h0m2.1,.3h0m9,.9h0m9-.6h0m1.3-.4h0m21.3-.6h0m-127.1,2.1h0m4.3,1.4h0m11.7-.6h0m2.3,.1h0m31.8-1.1h0m3.3,0h0m6.2,.4h0m1.3,.6h0m3,.8h0m1.1-.6h0m2.4-.4h0m4.7,.1h0m2.2-.7h0m8,0h0m1.4,1.4h0m2.7-.7h0m11.6-.4h0m4.5,.6h0m4.8,0h0m21.7-.2h0m-121.5,2.4h0m8.9-.9h0m6.4,.1h0m.6,.6h0m2.5-.8h0m7.7,1.4h0m1.2-1.1h0m2.3,.3h0m17.4-.8h0m15.7,1.7h0m5-1.3h0m9.3,0h0m5.4,1h0m26.8,.4h0m4.1-.4h0m-103.8,1.7h0m9.8,.5h0m4.8-1.5h0m10.1,.9h0m6.4,.3h0m4.9,.3h0m2-.5h0m10.3,.5h0m14.8-.3h0m1.1-.3h0m5.3,.7h0m4.3,.1h0m2.9-1.1h0m3.3-.6h0m-68.3,3.7h0m2.6-.7h0m18.2-.6h0m2.1,.3h0m2.8,1.1h0m5.4-.2h0m4.6,.3h0m2,0h0m3.2-1h0m18.4,.3h0m15.9-.1h0m3,.1h0m6.2-.8h0m-74.7,1.8h0m6.6,.9h0m5.1-.7h0m11.6,.1h0m1.9,.8h0m8.4-.2h0m12.6,.1h0m10.2,.6h0m1.8,.1h0m8.4-1.2h0m9.8,.7h0m-74.1,2h0m7.1,.2h0m11.7-1.1h0m4.3,.6h0m3.8,.5h0m8.8,0h0m9-1h0m3.6,.3h0m9.2,1.2h0m9.7-.6h0m-56.2,2h0m14.7,.3h0m3.3-.2h0m3.8-1.1h0m2.6,.2h0m6.2-.3h0m2.1,1.8h0m12.4-1.7h0m3.3,1.2h0m4.8,1.4h0m-6.6,2.3h0m4.8,.1h0m2.7,.3h0m2.7-1h0m-34.8,5.2h0m1.7,.4h0m-17,2.2h0m10.2-1.2h0m6.4,.1h0m3.8,1.2h0m4.6-.7h0m-39,2h0m1.6,.6h0m10.1-1.3h0m7.8,.7h0m.6-.7h0m2.6-.2h0m6.9,.5h0m2.3,.8h0m6.3-1.3h0m8.2,.7h0m-46.2,1.5h0m7,1.3h0m10.6,.1h0m16.1-.9h0m3,.9h0m13.1-1.1h0m16.1,1.1h0m6.5,0h0m8.3-1h0m2.6,.8h0m-89.7,1.3h0m12.9-.1h0m7.6,.8h0m12.7-1.3h0m8.9,1.1h0m1.6,0h0m4,.4h0m12.1-.8h0m20.4,.6h0m7.8,0h0m4-1h0m3,1.3h0m-70.2,2.3h0m6-1.6h0m7.6,.5h0m1.9,1.1h0m10.7-.4h0m4.4,.4h0m8.2-1.6h0m20.4,1.3h0m8.7-1.4h0m-100.7,3.1h0m13.2-.6h0m8.6,.6h0m2.9,0h0m5.6-1h0m11.7,1.1h0m2.7-1h0m8.3,1.3h0m5.2-1h0m1.6-.3h0m3.8,.7h0m2.1-.4h0m2.2-.2h0m20,1.4h0m1.7-1.7h0m10.7,.8h0m3.1,.8h0m-85.8,1.4h0m9.7,.9h0m3.7-1.4h0m3.8,.3h0m.5-.5h0m9.7,1h0m15.6-1h0m9.5,1h0m1.6-.6h0m10.4,.6h0m3.6-1.1h0m7.8,1.4h0m1.2-.3h0m5.2,0h0m2.5-.2h0m-31.8,1.8h0m14.8-.2h0m2.3,.4h0m2.4,.9h0m2.5-1.2h0m4-.3h0m3.1,1.1h0"/>
<path stroke="#0aa0b8" stroke-width="2.8" d="M500.4,364.7h0m-121.6,2.2h0m8.8-1.5h0m29,.2h0m.8,.5h0m10.1-.2h0m11.8,.7h0m49.8-.3h0m-112.3,1.3h0m4.6,.6h0m1.6-.1h0m6,.7h0m29.3,0h0m13.6-.8h0m47.3,.9h0m8.4,.2h0m-108.7,2.1h0m13.5,0h0m27.7-1.8h0m7.2,1.6h0m44.2-.7h0m7.1,.7h0m7.6-1.3h0m7.9-.2h0m4.7,1.3h0m-120.2,.8h0m20.8,1.1h0m34.4,.2h0m3-.9h0m9.1-.4h0m13.9,.9h0m7.1-.6h0m23.1,0h0m-94.9,2.4h0m19.1,.8h0m28.3-1.3h0m9.6,.7h0m19.1,.7h0m20.5-.6h0m-85.7,1.5h0m16.2,.1h0m4.6,.1h0m3.2,.4h0m21.4,.5h0m.5-1.1h0m3.6-.1h0m1.1-.1h0m6.3,1.1h0m2-.5h0m17.2-.3h0m3.5,.5h0m2.7-.2h0m3.8,.5h0m-77.8,2.3h0m11.8-.8h0m4.3,1.1h0m2-1.5h0m22,.1h0m8-.1h0m16.5,.3h0m5.6-.2h0m2.2-.4h0m-67.9,2.1h0m11.5,1.5h0m10.4-1.1h0m28.8,0h0m16,1.3h0m-45.5,.9h0m26.3,.8h0m10.8,.5h0m-13.2,.8h0m5,.1h0m-5.9,3.2h0m3.3-.6h0m-21.2,4h0m2.3,.7h0m8.9-.8h0m-10.2,2.8h0m7.9-1.2h0m-47.9,3.2h0m4,0h0m7.7,.2h0m14.7-.1h0m2.6-1h0m6.8,.6h0m5.6,.3h0m13.6-1.4h0m2.6,1.5h0m30.8,.3h0m2.2-.5h0m1.3,0h0m-81,1.7h0m36.1-.2h0m10.9-.4h0m5.4-.3h0m16.8,1.5h0m11.3-1.3h0m2.1,1.4h0m3.3,.1h0m-93.5,.4h0m2.6,1.2h0m1.8-.5h0m2.9,.4h0m18.6,.1h0m3.2-1.2h0m2.2,.8h0m40.5,0h0m11.4,.9h0m2.8,0h0m-61.6,1.4h0m21.6-.9h0m25.5,0h0m.6,1.3h0m17.3-1.3h0m11.9,1.2h0m-90.3,1.7h0m10.8-.7h0m26.6,.1h0m31.5-.1h0m3.9,.3h0m16.9,1h0m-25.7,.6h0m24.2,.5h0"/>
<path stroke="#09728a" stroke-width="2.6" d="M381.9,364.7h0m47.2-.1h0m45.9-.1h0m23.9,0h0m-110.4,1.9h0m23.1-.5h0m73.8,1h0m7.5-.6h0m6.7-.7h0m-114.5,2.5h0m28.5,1h0m31.6-.2h0m6-.1h0m1.8-1.5h0m11.9,.4h0m35.7,.6h0m-105.5,2.2h0m27.2-.9h0m2.8,1.3h0m17.5,.1h0m5.3-1.6h0m6.5,.3h0m18.7,.3h0m2.5,.8h0m-79.6,2.2h0m11.8-.7h0m5.2,.1h0m2.8-.3h0m59.6,.4h0m2.4,0h0m8.9-1h0m5.1,.1h0m-95.3,2.6h0m5.4-.4h0m8.7,1.2h0m23.1-.9h0m3.2,.3h0m10.2,.4h0m6.8-.4h0m12.8,.7h0m5.4-1.3h0m2.8-.2h0m1.6,.4h0m6.4,1.2h0m1.8-1.6h0m4.4,1.4h0m-83.7,.7h0m3.4,1h0m40.4,.7h0m11.3-.2h0m13-1.3h0m-64.5,2.3h0m10.4,.4h0m5.4-.8h0m34,.9h0m23-.5h0m7.8,1h0m-72.3,1.6h0m4.6-.6h0m4.1,1.5h0m5.8-.7h0m50.2-.8h0m-22.6,2.8h0m2.5-.6h0m6,1.4h0m6.3-1.4h0m-14.2,3.3h0m16.7,1.5h0m-29.9,2.7h0m-24.3,3.6h0m3.4-.3h0m9.7,0h0m8.9-.7h0m-31.3,3.5h0m2.2-1h0m8.2,1.1h0m39.2-1.2h0m7.7,1.4h0m1.8-1.4h0m5.5,0h0m2,1.1h0m-75.4,2.1h0m18.4-.2h0m9.1-.6h0m6.5-.2h0m11.9-.2h0m9.5,.4h0m6.1,0h0m6.3,.9h0m4-1.5h0m12,.8h0m2.6,1h0m18.1-1.1h0m-85.7,2.2h0m25.3-.4h0m21.9,.2h0m1.5,.8h0m7,.3h0m6.4-.1h0m14,.2h0m14.1-1.8h0m-97.8,2.7h0m2.4-.1h0m5.1,.7h0m2.8-.4h0m14.4-.2h0m45.4,1.2h0m2.6-.4h0m2.1,.2h0m-20.4,.5h0m33.7,3.1h0"/>
<path stroke="#086a88" stroke-width="1.1" d="M396.4,364.7h0m15.6-.9h0m17.3,.4h0m25.8-1.4h0m7.1,.8h0m5.8,1.7h0m.5-.5h0m27.5-1.1h0m4.1,1.7h0m-125.6,2.1h0m5.4,.4h0m1.5-.8h0m5-.8h0m15.6-.6h0m3.4-.4h0m4.7,1.7h0m4.9-.4h0m2.5-1.6h0m12.9,.8h0m.6-.7h0m8.2,1.1h0m17.7,.5h0m4.6,.5h0m23.2-1.6h0m-.4,1.2h0m5.2,.3h0m3.3-.1h0m8.7-2h0m5.5,2.3h0m-128.8,2.9h0m4.1-1.7h0m6.3-.2h0m1.6-.2h0m6.9,.6h0m20.1-.4h0m.7-.4h0m22.2,.9h0m5.5,1.1h0m1.6-1.9h0m9.3-.8h0m.6,.9h0m4.8,.2h0m1.1-.4h0m6.6-.9h0m7.4,1.6h0m1.7,0h0m22.1-1.2h0m3.5,0h0m-127.8,3.1h0m3.6,1h0m1.7-1.5h0m.4-1h0m3.8,2.5h0m7.1-.4h0m7.4-2h0m7.9,1.9h0m14.4-.2h0m8.6-.9h0m.4,.3h0m12,1.9h0m29.6-1.6h0m22.6,.6h0m-117-.8h0m12.3,2.7h0m8.3-.4h0m5.7-1.6h0m9.8,.4h0m2.1-.4h0m8.5,2.6h0m11.4-.9h0m5.2-.5h0m4.1-.9h0m6.1,.5h0m20.5-.2h0m3.1-.8h0m.6,1.9h0m5.9-.3h0m7.1-1.8h0m1.7-.1h0m6.6,.9h0m-107.9,.3h0m3.7,1.4h0m6.2,1.7h0m.9-.7h0m5,.2h0m10.4,1.1h0m9.8-1.8h0m.2,.9h0m3.1,1.6h0m.6-1h0m4.4-2.9h0m4.8,4.1h0m1.4,1.3h0m4.3-3h0m1.9-.1h0m8.5,.9h0m2.4-1.5h0m11.5,.1h0m2.4,1.5h0m7.3,.6h0m2.5-1h0m7.2-1.5h0m1.8,1.9h0m-85.3-.1h0m2.2,1.1h0m4.3,.5h0m4.1-.9h0m6.6-.8h0m2.6,.8h0m11.8,.2h0m3.6-1.3h0m4.7,1.5h0m7,.8h0m3.6-.9h0m4.8,.2h0m6-.1h0m9.2,.4h0m10.1,.8h0m1.8-1.2h0m1.3-1h0m-71.6,3.1h0m14.9-.1h0m2.9-.6h0m23,.3h0m5.4-.6h0m.9,.8h0m19,1.4h0m3.6,.1h0m-69.1,1.6h0m.7-1.6h0m4.1,0h0m3.7,1.2h0m-.6,.6h0m3.2-2.1h0m5.6,1.6h0m14.1,.4h0m8.1-.2h0m1.6-1.1h0m5.3,.9h0m.1,.8h0m5.5-2.8h0m5.1,3.2h0m4.3-1.9h0m-38.3,3.4h0m23.6-2.3h0m5.1,3.1h0m3.7-.5h0m-11.8,2.3h0m2.6-3.3h0m9.2,1.8h0m4.4,.4h0m.6-.1h0m6.1-1.4h0m-20.4,4.5h0m-.1-.1h0m9.1,.3h0m-24.8-1.3h0m-8.8,5.2h0m5-.9h0m5.1,1.4h0m-27.8,.3h0m13.8,.1h0m.2,.7h0m3.6,.1h0m1.4-2h0m4.2,0h0m5.1,2.7h0m5-1.2h0m7.9-.3h0m-57.3,3.4h0m7,.1h0m5.4-1.5h0m2.3-2.2h0m2.1,1h0m2.2,1.4h0m4.3,0h0m9,.8h0m1.8-2.7h0m1.7,1.4h0m9.3-1.4h0m2.7,2.5h0m6-.6h0m2.4-.8h0m2.3,.3h0m.6,1.9h0m7.6-.8h0m6.9-1.2h0m4.5-.4h0m9.5,2.3h0m2.1,.9h0m-.1-1.3h0m-89.5,2.1h0m18.1-.4h0m3.2-1.9h0m6.5,1.5h0m.3,0h0m3.9-.3h0m4-.8h0m7.2,2.2h0m3.3-1.8h0m2.4-.7h0m9.7,1.3h0m2.9,0h0m1.8-.7h0m2.2,1.3h0m5.4-.6h0m5.2-1.2h0m3.5,1.1h0m2.6,.5h0m5.8-.2h0m5.9,.8h0m5.7-1.9h0m2.8,2.1h0m-100.2-.2h0m10.2,2h0m5.3-1.3h0m3.7,.2h0m1.8-.6h0m11.6,1.7h0m3.8-1h0m1.6-.3h0m2.8,1h0m6.5-.8h0m1.2,1.6h0m3.3-2.6h0m-.8,1.6h0m3.6,.8h0m6.8-.1h0m1.5-2.8h0m13.5,2.2h0m.7-1.9h0m7,.8h0m12.2,.5h0m-95.8,1.4h0m9.5,.4h0m1.7-.9h0m11.4,.4h0m4,1h0m4.2,1.8h0m1.5-3.6h0m1.1,.9h0m7.9,.3h0m3.1,1.4h0m5.4-.8h0m5,1.4h0m1.8-3.2h0m.1,.9h0m3.4,2.1h0m20.8-1.4h0m1.4-.3h0m5.7-.6h0m2.6,1.4h0m3-1.1h0m8.5,1.4h0m5.1,0h0m-85.9,1.3h0m2.4,.8h0m7.5-1.6h0m11.7,.9h0m6.2-.3h0m13.6-.5h0m16.4,.8h0m2.9-.4h0m4.6-.9h0m-.1,2.4h0m5-.3h0m1.7-.5h0m1.5,0h0m-17.9,1.7h0m16.5-.8h0m2.1,2.3h0m3.7-1h0"/>
<path stroke="#66f6f6" stroke-width="1.1" d="M400.2,366.1h0m25-2.3h0m10,.8h0m21.5,.8h0m12.6-1.2h0m4.8,1.6h0m1.9-1.8h0m23.2-1.7h0m-117.1,2.8h0m5.9,.2h0m1.5,.9h0m7.1-.1h0m2.5,.5h0m4.7-.9h0m14.1-1.6h0m2.9,2.7h0m9.5-.2h0m2.8,.1h0m4.7-.9h0m14,.7h0m7.3-.4h0m6.2,1.6h0m5.7-.6h0m7,.4h0m3.6-2.1h0m5.9,1.3h0m5.7,.9h0m3-2h0m4.1,1.9h0m4.5-1.7h0m-123.7,2.7h0m4.7,.9h0m16-1.2h0m3.3-.1h0m.6-1.3h0m6,.9h0m8.8,2.1h0m4.7-2.3h0m2.9-1.1h0m1.5,2.2h0m2.4-2.2h0m2.5,2h0m1.4,.6h0m3.9-.6h0m9.2-2h0m15.2,.4h0m1.2,.6h0m15.7,1.8h0m2.9-1.2h0m2.7,1.4h0m5.5-2.4h0m1.3,1.5h0m.3,.9h0m2.9-1.2h0m-121.8,3.1h0m15.4-.7h0m.3-1h0m3.4,1.1h0m3.4,.7h0m.1-2.9h0m11.9,.8h0m11.3-1.8h0m3.2,3.1h0m3.7,.3h0m1.1-.4h0m8.4-.4h0m2.4-.1h0m2,1.6h0m5.4-.9h0m.4-.8h0m2.5,.1h0m6.1-1.2h0m2.5,3.6h0m6.2-1h0m.2-1.8h0m3.3,.9h0m3.5,.1h0m7-.7h0m6.4,.4h0m5,.4h0m2.3,1.1h0m-107.1,1.8h0m5.3-2.4h0m4.2,2.2h0m13.3-1.6h0m11.7-1h0m3.5,1.7h0m5.8,.7h0m1,0h0m.5-.3h0m2.9,.2h0m5.2,.3h0m11-1.2h0m5.8-.1h0m2.5,.7h0m1.8-.7h0m.9,1.3h0m3.5,.4h0m3.9-1.1h0m19.4-.8h0m2.5-.5h0m6.6,1.5h0m-107.5,.8h0m6.4,1.6h0m2.8-.5h0m6.4,.2h0m7.5-1h0m1.5,3h0m1.6-3.2h0m20.8,1.2h0m6.6,.2h0m8.8-.9h0m10.6,.7h0m8.9-2.1h0m4.2,.4h0m2.3,1.4h0m3.5,1.3h0m3.6-2.1h0m6.3,1.6h0m-85.8-.4h0m9-.6h0m6.5,2h0m8.5-1.6h0m1,1h0m3.1,.5h0m1.9,.1h0m2.8-.8h0m9.4,1.6h0m4.7-.3h0m4.2-1.2h0m4.7,1.2h0m2.8,1h0m7.6-1.3h0m2.6-.4h0m5.4,1.1h0m13.9,0h0m-83.9,1.9h0m5.2,.6h0m5-.9h0m6.1-.5h0m.3-.1h0m4.1-.8h0m8.2,0h0m2-1.1h0m1.5,1.2h0m6,1.1h0m3,1.2h0m4.8-2.4h0m-.2,1.3h0m4.5-.2h0m14,2.4h0m1.8-.7h0m.8-2.2h0m3,.5h0m1.8-.6h0m8.2,.3h0m-67.7,1h0m9.1,1.1h0m38.9,.3h0m1.7-1.1h0m3.7,1.4h0m3.6-1.2h0m7.9,.7h0m-28.3,2.6h0m4.3-2h0m8.9,1.5h0m3.4,.5h0m2.6,.9h0m4.6-.2h0m-21.3,1.5h0m7.8-.1h0m12.6-.9h0m-14.3,3h0m10.9,1.1h0m-31.5,1.1h0m4.1-.2h0m-16.2,4.4h0m10.9-1.9h0m6.9,.8h0m6-1h0m-38.4,1.4h0m6.5,0h0m.8,.4h0m3.9-.6h0m0,1h0m11.7-1.4h0m3.3,1.5h0m6.3,.9h0m2.8,.7h0m2.5-3h0m6.8,1.4h0m2.3-.5h0m-56.4,2.2h0m6.5,.5h0m16.2,.1h0m3.2-1.7h0m20.9,1.9h0m12.7-.7h0m1.4-.4h0m4.3,.7h0m3.8,0h0m6.9-.4h0m1.4,2.2h0m16.1-1.3h0m-95.7,.8h0m1.5-.5h0m4.8,0h0m13.7-.5h0m14.9,2h0m4.4-1.1h0m6.3,0h0m3.5,1.2h0m3.4-.7h0m0,2.1h0m5.8-2.8h0m7.8,.3h0m7.8,1.1h0m9.2,.5h0m4.4-.8h0m1.4-.3h0m11-.2h0m-94.8,1.4h0m6.5,1h0m.7-2.2h0m11.1,1.5h0m4.4,.4h0m3.6-1.3h0m10.1,1.8h0m22.3,1.1h0m6.9-1.2h0m2.1-1.4h0m9.2,1.1h0m3.1,.8h0m5.4-.9h0m5.6-.3h0m-90.9,1.2h0m2.2,2.4h0m8.7-2.7h0m10.4,2.3h0m13-.9h0m9.6-1h0m11.4,.9h0m3.6-.5h0m2.3,.6h0m3.6,.7h0m3.1-.4h0m2.6,.8h0m.7,1h0m2,0h0m21.5-3.4h0m.7,1.8h0m-93.5,1.2h0m5.1,0h0m10.8,.1h0m4.2-.8h0m2.1,.6h0m15.3,2.2h0m15.4-2.8h0m8.4,2.4h0m.1-1.5h0m5.7,1.3h0m3.2-2.2h0m7.5,1.2h0m12.4,.3h0m1.9-1.2h0m3.2,2.2h0m-38.3-.4h0m3.5,.9h0m13.1,.2h0m6.9,.5h0m11.6-.6h0m2.1-1.5h0"/>
</g>
<rect x="395.7" y="405.6" width="96.7" height="19.6" fill="#fff" stroke="#555" stroke-width="1.1"/>
<text x="444" y="419.3" font-size="12.6px" text-anchor="middle">Phase separation</text>
<rect x="169.3" y="458.5" width="156.9" height="56.3" fill="#f0fcfc" stroke="#2a2a2a" stroke-width="1.2"/>
<g fill="none" stroke-linecap="round">
<path stroke="#0b7c94" stroke-width="2.8" d="M190.2,461.7h0m1.1,.5h0m45.1,0h0m17.6-.7h0m1.3,.3h0m2.2,0h0m37.6-.1h0m1.9,0h0m9,.5h0m-127.3,.4h0m7.1,0h0m1.2,.4h0m2.3,1.1h0m12.6-1.3h0m9.7,1.1h0m15.1-.3h0m8.2,.2h0m1.4,.1h0m16.7-.3h0m.8-.2h0m1.5,.7h0m38.2-.5h0m2.7-1.1h0m3.8,.6h0m1.1,.4h0m2.4-.6h0m1.4,.1h0m1-.4h0m2,1.3h0m2.6-.6h0m.9,.3h0m-134.2,.9h0m6.6,.7h0m.7,.7h0m2.1-.2h0m2.6-1.1h0m1.6,.4h0m1.7,.3h0m8.2-.1h0m1.8-.3h0m7.5-.6h0m2.2,1h0m6.8-.8h0m9.4,1h0m6.4-.7h0m17.8,.6h0m2.3,.1h0m1.9-.5h0m21.7,.9h0m1.9-.6h0m1,.5h0m18.4-1.4h0m2.1,.2h0m2.3-.2h0m1,.5h0m2.3-.6h0m3.3,.1h0m-138.3,2h0m2.9,.8h0m.7,.1h0m4.9-1h0m1.2,.1h0m1.8,.3h0m2.4,.3h0m2.2-.4h0m2.9,.9h0m1.2-.7h0m10-.1h0m.3,.4h0m53.2-.5h0m1.2,.4h0m9.8-.8h0m1.3,.1h0m1.5-.2h0m2.8,.9h0m4-.8h0m2.5,1.4h0m1.6-.1h0m2.4-.5h0m20.3-.1h0m12.2,.3h0m1.7,.2h0m4.9-.2h0m-148.9,.8h0m2.1,.5h0m1.5,.2h0m3.1-.4h0m1.7-.3h0m.8,.2h0m1.9,.9h0m6.4-.4h0m1.6,.3h0m1.4-.1h0m1.4-.7h0m7.3,.5h0m1.6,.1h0m26.1,.4h0m.9-.1h0m23-.6h0m2.4,.5h0m1.4,.1h0m7.5-.2h0m2-.4h0m5.3-.1h0m3.3,1.1h0m2.4-.7h0m1.6-.1h0m2.4,0h0m1.7-.8h0m1.4,.5h0m29.3,.5h0m1.7,.4h0m1-.7h0m2.9,.4h0m1-.7h0m1.3,.1h0m-148.1,1.5h0m1.4,1.4h0m1.6-1.4h0m3.3,1.2h0m.4-.1h0m8-1.1h0m1.7,.9h0m1.9,.2h0m2.1-.2h0m6.5-.2h0m2.7,.3h0m.9,.1h0m1.3-.8h0m2.7,.9h0m16.5,.1h0m1.8-1.4h0m1.2,.8h0m2.5-.1h0m2.7,.6h0m2.1,.2h0m4.3-1h0m11.5,.7h0m2.3-.7h0m2.9,.6h0m9.6-.8h0m1.5,.6h0m3.6-1h0m1.6,.2h0m2,.4h0m4.5,.7h0m.9-.5h0m1.9-.1h0m1.5-.4h0m2.3-.1h0m2.1,0h0m2.4,.7h0m.5,.4h0m2.5-1h0m18.5,.9h0m1.9-.3h0m.3-.7h0m2,.2h0m2.2,.3h0m2.3,.2h0m1.4-.6h0m-147.7,1.7h0m1.6,.4h0m.9,.8h0m1.5-.8h0m10-.5h0m1,1h0m2.1-.6h0m1.8-.4h0m11.4,1h0m1.2,.2h0m2.4-.2h0m.9-.2h0m5.7,.2h0m7.4-.6h0m1.9-.5h0m1.9,.3h0m9.4,.2h0m.5,1h0m2.5,0h0m2.1-.6h0m7.4,.4h0m4-.5h0m2,.6h0m3.1-.5h0m.6-.6h0m2.2,.7h0m5.6,.1h0m1.4-.1h0m2.1-.9h0m3.6,1.4h0m1.8,.1h0m7.1-.2h0m1.6-.6h0m2.8,.7h0m1.2-.3h0m1.7-.3h0m1.2-.1h0m1.6,.2h0m3.3-.6h0m5.3,.6h0m8.9,.1h0m.6-.7h0m1.8,.6h0m2-.1h0m2.6,.7h0m2.1-.4h0m1.7-.8h0m-148,2.8h0m2.3-.5h0m2.3-.1h0m1.1-.3h0m1.8,.4h0m1.9,.4h0m2.4-.5h0m3-.7h0m1.9,.3h0m1.4,1h0m3.3-1h0m1.7-.1h0m1,1h0m5.3-.7h0m1.2,.1h0m2-.6h0m1.9,1.5h0m3.1-1.5h0m6,.9h0m8.1-.8h0m1.5,.2h0m1.4-.2h0m9.9,1h0m.6,.3h0m4.4-1.4h0m2.6,1h0m1.8-.3h0m2,.7h0m6.1-.2h0m2-1.3h0m1.1,.2h0m2.6,.6h0m1,.5h0m3.7-1.1h0m2.5,.1h0m1.8,1.3h0m1.5-1h0m1.8-.1h0m1.7-.2h0m1.4-.1h0m2.7,1h0m.8-1h0m2.3,.6h0m2.2-.6h0m1.6,.3h0m1.3,.1h0m1.4,.6h0m2.1-.9h0m2.2,.7h0m1.2,.5h0m1.9-.7h0m16.2-.5h0m2.8,.7h0m1.3,.1h0m1.8-.5h0m1.9,.5h0m1.1-.8h0m1.6,1h0m-146.8,1.9h0m2.4-.9h0m3.6,.1h0m1.8,.1h0m2.6,0h0m2.6,.8h0m1.6-.4h0m2,0h0m4.3-.4h0m1.7,.3h0m2-.4h0m2.9,.3h0m2.7,.2h0m1,.2h0m2.5-1.1h0m5.7,1.2h0m3.3-.6h0m6.6,.5h0m2.4-.4h0m1.6,.5h0m9.2-.5h0m3.5-.8h0m2.1,1.3h0m1.5-.1h0m1-1.2h0m2.3,0h0m1.7,.6h0m3.1,.2h0m1.7-.3h0m3.7-.4h0m2.1,1.2h0m1.9-.6h0m1.1-.2h0m2.7,.6h0m2,.1h0m1.4-.9h0m1.2,.9h0m2.8,.1h0m1.8-.7h0m1,.4h0m2.5-.9h0m2.3,.5h0m.6,.8h0m4.7-.9h0m1.4,.5h0m1.3,0h0m2.2-.5h0m2.3,.1h0m2,.6h0m15.3-.9h0m1.4,.4h0m2.2,.3h0m-141.8,1.7h0m2.7-.3h0m1-.7h0m2,1.4h0m1.6-1.3h0m1.7,1.3h0m7-.3h0m2-.4h0m4.4-.7h0m1.6,1.3h0m2.5,.3h0m1.1-1.4h0m1.4,.1h0m2.4-.2h0m2.1,.5h0m.8,.6h0m8.4-.9h0m.6-.1h0m1.6-.2h0m8,1.4h0m1.4-.3h0m1.5,.4h0m8.3-1.5h0m1.2,.6h0m1.3-.1h0m2.2,1.1h0m2.2-.9h0m2.2,.1h0m2.4,.1h0m2.8-.2h0m.6,.8h0m1.8-1h0m4.7,.9h0m2.3-.8h0m.8-.1h0m2.3,0h0m3,.6h0m1.7-.2h0m2.8-.6h0m1.9,.5h0m1,.2h0m1.1-.9h0m2.2,1.4h0m2.1-1.5h0m2.2,1.1h0m.9,.4h0m2.6-1.2h0m1.6,1.2h0m1.3-.8h0m1.9-.5h0m3.6,.1h0m1.9,.8h0m27.9,.2h0m-149.3,1.8h0m2.6-1.3h0m1.4,.4h0m2.3,.7h0m1.4,0h0m1-.5h0m5.6-.1h0m2.2-.2h0m1.8,1.3h0m2.1-.5h0m1.6-.2h0m1.7,0h0m3.6-.6h0m2.1,.7h0m1.2,.4h0m1.2-1.3h0m4.8,.5h0m.7,.7h0m2.4-.3h0m1.2,.4h0m3.1-1h0m4.8,.6h0m5.7,0h0m2.2-1h0m.6,.2h0m5.8,0h0m2,.7h0m2.3-.9h0m1.9,1.5h0m1.8-.2h0m1.7-.2h0m.8-1.1h0m2.6,.6h0m1.1,.7h0m2.5-1.2h0m3.2,.6h0m9.2-.7h0m1.8,.6h0m2.8,.2h0m1.8-.2h0m2.4,.9h0m1.3-1.4h0m2.7,.8h0m.6-.1h0m2.6,.5h0m2.2-1.2h0m2,.1h0m1.2,1h0m1.5-.8h0m3.6,0h0m2.4,1h0m.7-.7h0m2.7,.7h0m7.6-.9h0m1.7,1h0m1.3-1.3h0m2.2,1.1h0m7-.2h0m1.4,.1h0m2.2-.3h0m1.6,.2h0m-149.5,1.9h0m1.8,.1h0m4.4,.1h0m2.1-.7h0m1.5,0h0m6,.7h0m1.6-.6h0m1.8,.6h0m2-.5h0m1.1-.5h0m3.5-.4h0m2.4,.2h0m.9,1.2h0m3-1h0m1.9,1.1h0m1-.7h0m2.3,.7h0m1.3-.2h0m2.7-.4h0m1.6-.1h0m4.3,.7h0m2.9-.3h0m4.9,.2h0m2.3-1.3h0m1.8,.8h0m2.6,.5h0m3.2-1.3h0m2,.4h0m1.9-.2h0m2.1,.8h0m1.4-.7h0m2.9-.3h0m.8,.1h0m4.5,.3h0m2.2,.3h0m1,0h0m1.2-.6h0m5,.8h0m.7-.8h0m3.1,.7h0m3.5,.6h0m1.2-.9h0m1.2-.1h0m2.6-.1h0m6.5,.5h0m2.9,.2h0m1.4,0h0m1.3-.2h0m1.5,.1h0m4.3,.3h0m1.6-1h0m1.6,1.2h0m9.3,0h0m1.3-1.4h0m3.3,1.1h0m2.9,0h0m3.2,.3h0m2.1-.7h0m2,.6h0m1.6-.1h0m-149,1.6h0m1.3-.2h0m7.7,.3h0m1.6,.2h0m1.8-.4h0m1.9,.4h0m2-.9h0m2.1-.1h0m2.9-.3h0m4.6,1h0m1.6-.2h0m1.2-.5h0m2.3,.5h0m1.8,.6h0m1.3-.7h0m5.5,.3h0m1.4,.3h0m3.5,0h0m2.5,.1h0m5.2-.4h0m4.3,.1h0m5.6-.3h0m1.7,.6h0m1.8-1.1h0m.9,.5h0m1.3,.6h0m2.4,0h0m1.7-.8h0m2.7,0h0m.5,.9h0m2.3-1.1h0m2-.1h0m1.6,.7h0m1.5-1h0m1.7,.3h0m3,1h0m.9-.1h0m1.6,.3h0m4.1-1.3h0m1.1,.4h0m4.7-.4h0m1.9-.1h0m1.6,1.3h0m5.8,.1h0m1.3-.7h0m1.2-.7h0m2.8,.9h0m1.1,0h0m2-1h0m1.3,.5h0m1.4,0h0m1.9-.4h0m2.1,.2h0m9.7-.2h0m.8-.1h0m2.2,.5h0m2-.1h0m2.3-.4h0m.9,.5h0m2.4,.2h0m1.8,.1h0m1.2,.3h0m-147.4,.9h0m1.4,1.1h0m6.7-.2h0m1.4-.6h0m2.7,.8h0m1.9-.7h0m2.1,.5h0m3.7,.3h0m1.3-1.4h0m3.7,1.4h0m1.2-.8h0m1.5-.6h0m1.9,1.2h0m2.7-.6h0m1.6-.4h0m1.5,.2h0m7.8,.3h0m1.9,0h0m1.2-.7h0m2.4,.8h0m1.5-.9h0m1.2,1.3h0m3.6-.6h0m1.4,.4h0m3.1,.3h0m3.5-1.4h0m1.9,1h0m1.5-.1h0m1.8-.1h0m1.9,.1h0m1.3-.6h0m2.6-.1h0m.6,0h0m2.1,.7h0m9.7-.7h0m.7,1h0m3-.4h0m1.4,.6h0m1.8,0h0m2-1.4h0m1.7,.2h0m2,.8h0m2.1-.1h0m1.5,.3h0m1-.7h0m2.6,.1h0m.8-.1h0m2.7,.1h0m.6-.2h0m2.9-.4h0m.7,1.6h0m2.3-.1h0m1.9-.6h0m4.3-.7h0m.5,.3h0m3.1,.7h0m12.8-.7h0m1.8,.9h0m1.4-1.4h0m2,1h0m1.7-.8h0m1.3,.5h0m1.9,.8h0m-149.5,.8h0m1.3,.6h0m2,.2h0m10.9-.3h0m2-.3h0m1-.3h0m1.2-.4h0m3.2,1.6h0m.6-.9h0m2.4,.8h0m1-1.5h0m2.6,1.1h0m1.3-.8h0m2.7,.1h0m1.9,1h0m1.1-1.4h0m4.1,.8h0m.8-.3h0m3.1,.6h0m.8-.4h0m2.8,.7h0m1-.4h0m1.2,.3h0m1.9-1.1h0m2.5,.9h0m1.6,.4h0m1.9,0h0m1.1-1.1h0m2.3-.4h0m1.3,.5h0m2-.5h0m2.3,1.1h0m2.1-.2h0m2.2-.9h0m.5,.6h0m2.9-.3h0m1.2,.6h0m2.2-.1h0m1.1-.8h0m2.7,.9h0m2.3-.1h0m3-.3h0m2.1-.1h0m1.3,1.1h0m1.5-.5h0m2-1h0m.8,1.2h0m2.2-.8h0m3-.3h0m1.7,.6h0m1.8-.2h0m1.8,1.1h0m.5-.3h0m4.6-.9h0m1.3-.1h0m1.8,.1h0m4.1-.3h0m2,.8h0m.5-.1h0m2.4-.1h0m2,.1h0m1.3-.6h0m1.8,1.2h0m3.5-.1h0m1.7-1h0m1.7,.7h0m2.4-.7h0m1.5,.1h0m4.1,1h0m3.3,.1h0m2.3-.2h0m1.5-1.2h0m1.4,.7h0m-145.1,1.4h0m9.6,.3h0m1.9,.8h0m2.2-.3h0m3.7-.7h0m1.3-.5h0m2.2,.6h0m1.3-.5h0m2,1.3h0m2.2-1.1h0m10.3,1h0m1.2-.2h0m3.1-.7h0m1.6,.5h0m.9-.7h0m1.6,.8h0m2.2,.2h0m2.2,0h0m.9,.2h0m2.1-.9h0m2.1,.8h0m1.9,.2h0m1-1.2h0m1.9,.4h0m2.3,0h0m1.6-.2h0m3.4,.2h0m3,.8h0m.9-.3h0m1.7-.8h0m1.8,.6h0m1.4,0h0m4.1-.7h0m2.7,1.1h0m6.8-.5h0m2.3,.3h0m.3-.7h0m2.5-.5h0m1.4,.8h0m1.9,.3h0m2.2-.4h0m1.7-.4h0m2.1-.1h0m1-.1h0m1.9,1h0m2.1,.1h0m3.1,.1h0m3-.8h0m.6-.2h0m2.9,1.2h0m.6-.2h0m2.2-1.2h0m2.9,.6h0m.4-.2h0m2.9,.3h0m1.8,.5h0m4.7-.4h0m1.7-.8h0m2.3,.6h0m1.3-.4h0m-143.3,2.8h0m2.9,.1h0m.7-.3h0m2.1,.1h0m2.5-.1h0m.7,.3h0m2.9,0h0m2.6-1h0m1.5,.1h0m1.8-.1h0m2.6,.5h0m2.2,.4h0m1.4-.8h0m2.1-.3h0m.9,.2h0m3.2,.9h0m8.5-.4h0m2.2-.3h0m.7,1h0m1.8-1.2h0m2.9-.2h0m2.2,.1h0m2.3,.8h0m1.7-.1h0m1.4-.3h0m2.1,.3h0m2.1,.2h0m1.3-.4h0m3.1,.6h0m.9-1.1h0m2.1,1.3h0m1.7-1.5h0m7,.8h0m1.7,.5h0m3.7,0h0m2.6,.2h0m1.3-1.2h0m2.2,.7h0m1.5-.8h0m1.1,.1h0m1.6,.9h0m3.2-1.3h0m.7,.3h0m2.3,1h0m3.7,.2h0m3.1-.7h0m2.8,.7h0m.7-1.1h0m2.6,.5h0m1.5,.1h0m1,.3h0m2.5-.8h0m1.7-.4h0m2.3,1.3h0m3.4-1h0m1.9,1.2h0m1.3-.8h0m2.8,0h0m1.6,.3h0m1.9-.1h0m1.2-.1h0m1.5-.8h0m2.6,1h0m1.4,.3h0m1.1-1.4h0m1.6,.6h0m2.1-.6h0m2.9,1.5h0m.5-.6h0m-145.7,.9h0m2.6,1.5h0m2.9-1.1h0m2.3,.2h0m3.2,.6h0m1.3-.1h0m2.5,.4h0m1.2-.5h0m1.8,.5h0m.8-1.1h0m2.6-.3h0m2.2,1.2h0m1.1,.2h0m4.2-.9h0m1.3,0h0m2.7-.1h0m2.8,.7h0m1.9,.2h0m2.3-.1h0m8.5,0h0m2-.2h0m.9,.5h0m2.6-1.1h0m1.4-.1h0m1.3,1h0m1.9-.3h0m2.2-1.1h0m2.6,1.3h0m1.4-1.3h0m1.1,1.4h0m5.5-1.2h0m5.9,.9h0m1.1,.5h0m4.5-.9h0m2.2-.2h0m1.1-.3h0m2.1,1.3h0m3.8-1.3h0m1.4,.5h0m1.9-.6h0m1,.4h0m2.1,.3h0m2.9,.3h0m.6-.9h0m2.3,.9h0m2,.3h0m1.4-.6h0m4.2-.3h0m1.6,.2h0m2.1,.1h0m1.4,.5h0m2.3,.3h0m1.7-.4h0m1.2-.1h0m1.6-1h0m4.3,1h0m2.1-1.1h0m.6,.6h0m2.4,0h0m1.4,.4h0m2.7,.4h0m.7-.5h0m1.7-.5h0m1.8,1h0m2.9,.2h0m1-1h0m2.8-.2h0m1.2,1h0m.9-1.2h0m-151.1,2.8h0m1.2-1h0m2.3,.9h0m1.6-.3h0m2.6-.5h0m1.6,.3h0m3.2,.1h0m1.9-.4h0m3.5,.3h0m1.1,.6h0m2.3-.7h0m1.7,.2h0m2.1-.1h0m1.3,.9h0m2-.8h0m1.3,.7h0m1.9-.2h0m2.6-1.1h0m2.1,1.2h0m1.9-.4h0m1.6-.2h0m.9,.2h0m3.1-.3h0m1,.5h0m5.1,.2h0m1.6,.1h0m1.8-.9h0m2.9-.4h0m1.7,1.3h0m.7-.6h0m3-.3h0m3.7,.6h0m.8,.4h0m7.5-.1h0m1.5-1h0m2.8,.8h0m1.8-.6h0m1.2,.6h0m1-.3h0m4-.1h0m1.5,.5h0m2.2-.2h0m1.4,.1h0m2.9-1h0m1.5,.6h0m1.5,.3h0m3.5,.3h0m5.9-1.3h0m1.7,.2h0m3.6,.9h0m2.1,0h0m1-1h0m3.1,1h0m1.9-.9h0m1.7-.1h0m2.2,.3h0m2.6,.1h0m.7,1h0m3.1-.4h0m.4,.2h0m2-.3h0m1.8,.3h0m2.1-.9h0m1.4,.1h0m2.4,1h0m2-1.5h0m2.8,1.1h0m2-1h0m3.6,1.2h0m-150.3,2h0m2.9-1.4h0m1.6-.1h0m.9,.6h0m1.9-.6h0m2.4,.7h0m1.8,.2h0m3-.1h0m6,.4h0m1.5-1.1h0m1.9,1h0m2.1-.8h0m.8,.8h0m2.7-.8h0m1.3,.3h0m2.5,.2h0m1.8-.6h0m4.8-.2h0m1.6,.2h0m2.6-.2h0m.7,.3h0m2.9,.7h0m1.5-.2h0m1.5-.5h0m2.8,0h0m1.7,.8h0m1.6-.4h0m1.3,.6h0m5.6-.1h0m3.9-.5h0m.9,.1h0m1.9-.6h0m2.8,.7h0m1-.2h0m2.5-.2h0m.8,.8h0m2.3-1h0m1.6,.5h0m2.5,.6h0m3.6-.9h0m3.1,.2h0m2.5,.2h0m1.3-.3h0m1.1-.1h0m2.5,0h0m1.6,.2h0m2.3-.1h0m2.2,.6h0m2.7-.7h0m2.2,.4h0m1.3-.6h0m2,1.2h0m1.5-1.3h0m3.6,.7h0m2.2,.2h0m2,.2h0m1-.6h0m4.3,.2h0m.8-.8h0m3.7-.2h0m2.9,1h0m1.4,.2h0m1.2-.1h0m2.8,.1h0m1.5-1.2h0m1.5,1.2h0m2.1-.1h0m2.5-.4h0m-146.7,1.8h0m2.8,.2h0m1.8-.4h0m4.1,.6h0m4.6-.1h0m2.1,.1h0m2.3-.5h0m1-.3h0m1.7,.1h0m2.4,.7h0m.9-.4h0m1.5,.4h0m2.1-.8h0m2.8,.9h0m1.7-.9h0m4,.8h0m.7,.4h0m2-.5h0m2.3,.3h0m1.1-.2h0m1.6-.1h0m3.1-.8h0m1.2,1.1h0m2.4-.5h0m1,.5h0m2.6-.3h0m.8,.2h0m2.2,.3h0m1.5-.8h0m1.8,.5h0m2.6-1h0m1.2,1.3h0m1.6,0h0m1.3-.5h0m6.4,0h0m1.9-.6h0m.7-.3h0m2.4,.1h0m2.1,.3h0m.8-.5h0m11.5,1.3h0m1.6-.5h0m2.7-.1h0m1.4,0h0m1.6-.4h0m2,.8h0m3.6,.5h0m.7-1.3h0m2.1,.7h0m2,.2h0m6.2-.8h0m1.6,1.1h0m1.8-.6h0m4.8,.6h0m2.3-.2h0m1.9-1h0m1.4,.6h0m1.6,.5h0m2.5,0h0m2-1h0m1.1,.6h0m1.4,.2h0m2.3-.8h0m1.9,1.1h0m1.9-.7h0m1.5,.3h0m3.2-1.1h0m-149.6,2.1h0m1.9,.6h0m.7,.2h0m2.1-.6h0m4.7-.3h0m1.2,1.4h0m1-.1h0m2.6-.3h0m2.5-1h0m1.5,.2h0m1.8,.2h0m2,.3h0m.9-.2h0m2.7,.8h0m1.6-.9h0m4.8,.2h0m2.6-.5h0m4,1.2h0m2.8-.5h0m2.1-.1h0m.8-.6h0m2.1,1.3h0m1.8-1.2h0m2.4,1.1h0m1.4-.6h0m2-.8h0m1,.9h0m2.6-.3h0m1.4,0h0m6.2-.3h0m1.2,.5h0m1.9,.6h0m1-1.4h0m3.1,.3h0m.5,.4h0m2,.7h0m2-.5h0m1.7-.7h0m15.5,.1h0m1.2,.3h0m2.8,.3h0m2.6-.9h0m2.1,.9h0m.9-.5h0m3.5,1h0m1.9-.2h0m3.8-.6h0m4.2-.1h0m.9,.5h0m2.3-.4h0m1.9,.2h0m2,.5h0m.9-1.3h0m3.2,.3h0m1.6,1h0m1.5,.2h0m2.3-.4h0m.5-.5h0m1.8-.3h0m2.9-.3h0m.9,.3h0m2.8,.2h0m1.7,.4h0m1.3-.6h0m1.4,.1h0m2.3,.3h0m-148.9,1.2h0m8.3,.9h0m.9-.3h0m1.6,0h0m2.3-.4h0m1.4,.1h0m2.4-.2h0m1.6,.3h0m1.3-.3h0m2.7-.2h0m.4,1.1h0m3.1,.3h0m7.2-.3h0m2-1.1h0m1.2,.2h0m1.5-.2h0m1.7,.9h0m2.1-.1h0m1.4-.5h0m2.6-.3h0m1.4,.2h0m1.4,.8h0m2.3,.2h0m1.3-.3h0m2.1,.1h0m2.4-.3h0m2-.1h0m1.3,.7h0m6.9-.5h0m4.1-.5h0m1,.2h0m1.5-.3h0m1.9,1.3h0m2.3-.9h0m1.2,.2h0m2.7,.3h0m21.6-.3h0m1.6-.2h0m1.8,.5h0m2-.8h0m2.2-.2h0m1.9,1.4h0m1.8-.8h0m4.7-.8h0m1.4,.7h0m2.1,.7h0m1.7-1.3h0m1.6,.2h0m2.9,.9h0m1.6-.7h0m1.5-.4h0m1.8,.6h0m1.6-.7h0m1.4,0h0m4.4,.7h0m1-.5h0m2.8,1.3h0m1.6-1.3h0m.7,1.3h0m-148.4,.8h0m2,.6h0m7.8-.3h0m2,0h0m1.7,.1h0m1.7-.8h0m3.3,.2h0m1.7,.9h0m2.5-.7h0m1.3,.6h0m2.4-.2h0m5.5,.4h0m1.1-.4h0m1.5,.5h0m1.8-1.1h0m2,.8h0m1.3-.6h0m4.4,0h0m2.1,.8h0m2.1,.1h0m.6-.2h0m2.5-1h0m4.1,1.4h0m.5-1.6h0m2.5,1.3h0m1.9,0h0m1.8,.3h0m2.3-.3h0m.3,.3h0m5-1.3h0m4.2,.1h0m2.6-.2h0m1,.3h0m1.7-.3h0m2.1,.5h0m2.1,.7h0m22-1.4h0m2.1,.7h0m1.1,.4h0m1.8-.6h0m2.3-.1h0m8.4-.3h0m2,1.5h0m2.7,0h0m4.3-.6h0m2.5,.1h0m.8-.6h0m10.6-.5h0m1.8,1.2h0m2.1-1h0m1.5,.3h0m-138.2,2.2h0m1.7,.5h0m1.1-.9h0m7.1,.9h0m2.4-.7h0m5.3,.3h0m4.5,.2h0m3-.1h0m1.2-.3h0m1,.3h0m2-.7h0m2.4-.2h0m1.5,.8h0m2.8-.6h0m.4-.2h0m2.8,.4h0m1.7,.4h0m1.7-.6h0m2.2-.3h0m5,.9h0m2,.5h0m1.3-1.1h0m1.5,1.2h0m15.2-.8h0m1.1,.8h0m1.4-.9h0m4.3-.4h0m11.3,.6h0m7.2-.6h0m1.9,.4h0m1.5,0h0m10,.6h0m2.9-.2h0m.7-.6h0m8,.1h0m8.6,1h0m1.3-1.4h0m8.5,.6h0m1.3-.7h0m-139.2,2.3h0m1.5,.1h0m1.5,.5h0m6.4-.4h0m.2,0h0m8.6-.2h0m3.6-.4h0m1.6,.4h0m.6,.4h0m2.6-.4h0m5.9,.8h0m1.1-1.3h0m1.5,1h0m2.7-.4h0m2.1,0h0m1.2,.3h0m1.7-.6h0m7.7,.8h0m1.9-1.1h0m1.6,.7h0m1-.2h0m15.2,.8h0m1-.1h0m1.9,0h0m2-.8h0m11,.7h0m1.1,.4h0m9.6-.6h0m10.8-.5h0m20.6,.8h0m.4-.2h0m1.7,0h0m-142.2,.8h0m2.1,.5h0m.6,.3h0m2.7-.4h0m1.4-.1h0m1.9,.3h0m1.5-.2h0m1.9,.2h0m1.9,.6h0m2.7,.3h0m1.9-.7h0m6.6-.5h0m2.1,.3h0m5.9,.9h0m2.1-.8h0m8.7-.5h0m2.2-.2h0m1.4,.8h0m3.2-.8h0m.5,.9h0m2.8,.5h0m1.1-.1h0m6.1-1.2h0m1.6,.8h0m1.5-.6h0m1.4,.8h0m4.5-.5h0m1.2,.8h0m7.5-1.3h0m1.5,0h0m4,.1h0m1.3,.4h0m11.8,.1h0m41.2-.5h0m1.9-.1h0m1.3,.5h0m-141.4,1.7h0m2.4,.8h0m1,0h0m2.8-.8h0m1.3,0h0m2.4,.8h0m1.7-.9h0m.9-.2h0m1.8-.2h0m1.8,1.2h0m1.3-.6h0m6.5,.5h0m2-.5h0m9,.4h0m.5-.4h0m14.9,.5h0m2.1-.3h0m1.4-.5h0m8.3,.1h0m6.9,0h0m10.7,.2h0m.8,.4h0m13.5-1h0m15.1,.8h0m19.5,.4h0m1.1-.8h0m1.4,1h0m7.3-.2h0m-129.1,1h0m3.1-.1h0m1.9-.3h0m2.7,.7h0m9.2-.4h0m7.6,.6h0m19.2-.5h0m28.4,.3h0m2.5-.1h0m1.8-.7h0m20,1.1h0m2.5-.3h0m22.2-.1h0"/>
<path stroke="#12c4d0" stroke-width="2.3" d="M178.5,462.4h0m7.1,0h0m49.1,1.2h0m1.4,.1h0m16.7-.3h0m43.2-1.1h0m4.9,1h0m2.4-.6h0m2.4-.3h0m4.6,.7h0m-118,2h0m8.2-.1h0m27.7,.3h0m24.2-.1h0m27.8-.1h0m19.4-.9h0m2.1,.2h0m3.3,.3h0m-124.2,1.4h0m1.2,.1h0m1.8,.3h0m4.6-.1h0m67.6,0h0m11-.4h0m2.8-.1h0m6.8,.1h0m39,1h0m1.7,.2h0m-144,.6h0m2.1,.5h0m1.5,.2h0m7.5,.4h0m8-.1h0m2.8-.8h0m83.2,.6h0m5.7-.9h0m33.4,.7h0m2.9,.4h0m1-.7h0m-130.4,2.5h0m4,0h0m10.1,.2h0m4,.1h0m16.5,.1h0m3-.6h0m5.2,.5h0m2.1,.2h0m37.3-1.4h0m6.5,1.1h0m11.1-.4h0m27.9-.2h0m2.3,.2h0m-146.3,1.1h0m15,.9h0m2.1-.6h0m14.4,.8h0m20.2-1h0m9.4,.2h0m.5,1h0m2.5,0h0m2.1-.6h0m7.4,.4h0m37.9,.2h0m14.3-.5h0m9.5-.6h0m3.8,.5h0m4.7,.3h0m-144,1.5h0m19.1-.5h0m1.7-.1h0m1,1h0m19.5-.3h0m9.6-.6h0m1.4-.2h0m10.5,1.3h0m7-.4h0m11.9-1.1h0m1.1,.2h0m3.6,1.1h0m3.7-1.1h0m5.8,.4h0m4.9-.4h0m2.7,1h0m5.3-1h0m30.7,.8h0m1.3,.1h0m-140.4,2.1h0m2.4-.9h0m18.5,.2h0m3.7-.1h0m2.9,.3h0m2.7,.2h0m3.5-.9h0m15.6,1.1h0m4,.1h0m12.7-1.3h0m11.7,.8h0m13.2,.3h0m15.6,.3h0m4.7-.9h0m24.5-.2h0m-138.2,2.4h0m2.7-.3h0m3,.7h0m1.6-1.3h0m1.7,1.3h0m7-.3h0m10.5,.5h0m4.9-1.5h0m2.9,1.1h0m10.6-1.2h0m8,1.4h0m11.2-1.4h0m1.2,.6h0m10.3,.3h0m18.3,.2h0m4.5-.8h0m4-.2h0m2.2,1.4h0m2.1-1.5h0m5.7,.3h0m4.8-.1h0m3.6,.1h0m1.9,.8h0m27.9,.2h0m-146.7,.5h0m5.1,1.1h0m1-.5h0m5.6-.1h0m13-.2h0m4.5-.2h0m7.9,.9h0m17.6-.8h0m7.8,.7h0m4.2,.6h0m1.8-.2h0m22.9-.7h0m2.8,.2h0m8.2,.1h0m.6-.1h0m4.8-.7h0m11.4,.6h0m2.7,.7h0m7.6-.9h0m15.8,.4h0m-146.1,2.2h0m4.4,.1h0m15-.5h0m4.6-.9h0m2.4,.2h0m10.4,1.1h0m4.3-.5h0m7.2,.4h0m4.9,.2h0m4.1-.5h0m2.6,.5h0m3.2-1.3h0m7.4,.3h0m3.7-.2h0m6.7,.6h0m1,0h0m6.9-.6h0m31.1,.1h0m15.5,.9h0m2.9,0h0m5.3-.4h0m3.6,.5h0m-149,1.6h0m1.3-.2h0m7.7,.3h0m3.4-.2h0m1.9,.4h0m16.7-.5h0m1.8,.6h0m1.3-.7h0m5.5,.3h0m1.4,.3h0m3.5,0h0m2.5,.1h0m5.2-.4h0m13.4-.7h0m4.6,1.1h0m1.7-.8h0m9.1,.4h0m1.5-1h0m1.7,.3h0m3,1h0m.9-.1h0m1.6,.3h0m5.2-.9h0m15.3,.2h0m4,.2h0m1.1,0h0m4.7-.5h0m14.5-.5h0m2.2,.5h0m9.4,.3h0m-146.2,1.2h0m8.1,.9h0m27.2-.7h0m7.8,.3h0m3.1-.7h0m5.1,1.2h0m5-.2h0m8.5-.1h0m6.5-.7h0m5.3,.6h0m10.4,.3h0m3-.4h0m8.9,.2h0m3.6,.2h0m15.5-.3h0m7.9,.3h0m14.6,.2h0m1.4-1.4h0m-142.6,2.3h0m14.2,.5h0m7.4,.6h0m10.6-1.2h0m1.9,1h0m5.2-.6h0m.8-.3h0m3.1,.6h0m4.6-.1h0m7.2,.5h0m3-1.1h0m5.6-.4h0m4.4,.9h0m5.6-.6h0m1.2,.6h0m18.2-.9h0m.8,1.2h0m10.5,.4h0m.5-.3h0m13.8-.4h0m2.9-.2h0m2,.1h0m3.1,.6h0m6.9-.4h0m2.4-.7h0m5.6,1.1h0m-127,1.1h0m4.1,.5h0m7.2-.6h0m5.5-.3h0m10.3,1h0m5.9-.4h0m7.8,.5h0m7.1-1.1h0m1.9,.4h0m2.3,0h0m5,0h0m12.9-.4h0m9.5,.6h0m5.1-.9h0m7.2,.3h0m3.1-.2h0m1.9,1h0m5.2,.2h0m6.5,.2h0m9-.7h0m6.5,.1h0m-138,2.2h0m3.6-.2h0m4.6,0h0m6.2-.7h0m1.5,.1h0m14.2,.8h0m8.5-.4h0m2.9,.7h0m1.8-1.2h0m2.9-.2h0m2.2,.1h0m2.3,.8h0m1.7-.1h0m1.4-.3h0m2.1,.3h0m3.4-.2h0m4-.5h0m10.8,.6h0m5.4,.5h0m2.6,.2h0m1.3-1.2h0m3.7-.1h0m1.1,.1h0m4.8-.4h0m6.7,1.5h0m5.9,0h0m.7-1.1h0m2.6,.5h0m1.5,.1h0m1,.3h0m4.2-1.2h0m5.7,.3h0m9.5,.6h0m6.7,.4h0m1.1-1.4h0m3.7,0h0m-136.8,2.2h0m2.3,.2h0m3.2,.6h0m13.5,.3h0m12.9-.1h0m12.8-.3h0m4.9-.7h0m1.3,1h0m14.7-1.2h0m16.9,1.3h0m8.1-1h0m9.9,.9h0m7.2-.7h0m3.5,.6h0m2.3,.3h0m11.5-1h0m8.9-.2h0m4.7,1.2h0m1-1h0m-146.2,2.4h0m14.4-.9h0m10.7,.3h0m3.3,.1h0m5.8-.6h0m4,.8h0m6.6,.2h0m8.5-.6h0m2.9-.4h0m1.7,1.3h0m.7-.6h0m7.5,.7h0m7.5-.1h0m7.3-.2h0m5-.4h0m9.5,0h0m10.9-.7h0m5.3,1.1h0m3.1-1h0m5,.1h0m3.9,.2h0m6.8,.9h0m5.9-.9h0m1.4,.1h0m4.4-.5h0m-119.9,1.9h0m1.9,1h0m2.9,0h0m4-.5h0m4.3-.4h0m4.8-.2h0m4.2,0h0m5.1,.8h0m1.5-.5h0m4.5,.8h0m1.6-.4h0m1.3,.6h0m5.6-.1h0m13.8,.1h0m2.3-1h0m7.7,.2h0m3.1,.2h0m2.5,.2h0m13.7-.4h0m24.6-.6h0m5.5,1.1h0m2.8,.1h0m3,0h0m2.1-.1h0m2.5-.4h0m-146.7,1.8h0m8.7,.4h0m29.8-.1h0m2.3,.3h0m2.7-.3h0m4.3,.3h0m3.4,0h0m7.1-.6h0m1.8,.5h0m2.6-1h0m1.2,1.3h0m11.2-1.1h0m.7-.3h0m5.3-.1h0m17.2,.7h0m7.2,.9h0m.7-1.3h0m4.1,.9h0m6.2-.8h0m8.2,1.1h0m2.3-.2h0m1.9-1h0m1.4,.6h0m7.2,.1h0m1.4,.2h0m4.2,.3h0m1.9-.7h0m4.7-.8h0m-144.9,2.3h0m6.9,1h0m2.6-.3h0m13-.6h0m11.4,.9h0m2.8-.5h0m2.1-.1h0m.8-.6h0m9.7-.2h0m14.3,1.4h0m4.6-.7h0m5.7-.5h0m15.5,.1h0m1.2,.3h0m2.8,.3h0m11,.3h0m8-.7h0m3.2,.1h0m8-.3h0m5.9,.3h0m10.1,.3h0m-125.4,1.4h0m4.4,.6h0m3.1,.3h0m10.4-1.2h0m5.3,.6h0m10.4,.1h0m7.8,.4h0m13.5-1.1h0m1.9,1.3h0m3.5-.7h0m25.9-.2h0m3.8-.3h0m4.1,1.2h0m7.9-.9h0m5.4-.4h0m16.2-.1h0m5.1,1.3h0m-148.4,.8h0m2,.6h0m9.8-.3h0m1.7,.1h0m9.2-.4h0m1.3,.6h0m7.9,.2h0m4.4-1h0m7.7,.2h0m4.2,.9h0m3.1-1.2h0m9,1.1h0m1.8,.3h0m2.3-.3h0m.3,.3h0m5-1.3h0m9.5-.1h0m2.1,.5h0m2.1,.7h0m25.2-.3h0m4.1-.7h0m8.4-.3h0m9,.9h0m17.8-.8h0m-136.7,2.5h0m2.8-.4h0m9.5,.2h0m5.3,.3h0m4.5,.2h0m3-.1h0m2.2,0h0m5.9-.1h0m3.2-.8h0m2.8,.4h0m10.6,.4h0m3.3-.6h0m16.7,.4h0m18.1,.1h0m9.1-.2h0m11.5,.6h0m30-.5h0m1.3-.7h0m-112.6,2.3h0m5.9,.8h0m21.5-.6h0m1-.2h0m15.2,.8h0m26.6-.4h0m-106,1.7h0m32.6-.1h0m8.7-.5h0m2.2-.2h0m5.1,.9h0m2.8,.5h0m1.1-.1h0m9.2-1h0m7.1,1.1h0m7.5-1.3h0m59.8,.1h0m3.2,.4h0m-138,2.5h0m12.7-.1h0m7.8-.1h0m28.5-.3h0m1.4-.5h0m8.3,.1h0m17.6,.2h0m14.3-.6h0m34.6,1.2h0m1.1-.8h0m1.4,1h0m-114.1,1.1h0m9.2-.4h0m82,.4h0"/>
<path stroke="#2aeef0" stroke-width="2.3" d="M191.1,462h0m62.7-.7h0m1.3,.3h0m2.2,0h0m37.6-.1h0m1.9,0h0m-110,1.3h0m2.3,1.1h0m12.6-1.3h0m51.9,.6h0m1.5,.7h0m56.1-.5h0m-134.2,.9h0m6.6,.7h0m.7,.7h0m4.7-1.3h0m20.8-.3h0m24.8,.5h0m20.1,.7h0m23.6,.4h0m25.7-1.5h0m6.6,0h0m-138.3,2h0m3.6,.9h0m26.6-.6h0m.3,.4h0m54.4-.1h0m15.4,0h0m6.5,.6h0m43.1-.4h0m-142.2,1.1h0m1.7-.3h0m22.4,.8h0m26.1,.4h0m.9-.1h0m23-.6h0m3.8,.6h0m9.5-.6h0m47.4,.4h0m-140.2,1h0m1.4,1.4h0m1.6-1.4h0m3.3,1.2h0m12-.1h0m8.6-.4h0m4.9-.4h0m21-.4h0m12.8,.5h0m11.5,.7h0m23.5-.7h0m5.4,.2h0m3.4-.5h0m4.4-.1h0m5.4,.1h0m18.5,.9h0m1.9-.3h0m.3-.7h0m2,.2h0m5.9-.1h0m-146.1,2.1h0m.9,.8h0m1.5-.8h0m14.9-.5h0m11.4,1h0m3.6,0h0m6.6,0h0m9.3-1.1h0m32.9,.9h0m.6-.6h0m7.8,.8h0m3.5-1h0m3.6,1.4h0m1.8,.1h0m8.7-.8h0m4,.4h0m24.4-.2h0m-135,1.6h0m1.1-.3h0m6.1,.3h0m3-.7h0m15.8,.6h0m3.9,.9h0m3.1-1.5h0m14.1,.1h0m12.8,1h0m5-1.1h0m4.4,.7h0m13.8,0h0m21.2,0h0m6.5,.4h0m2.1-.9h0m2.2,.7h0m3.1-.2h0m16.2-.5h0m5.9,.3h0m4.6,.7h0m-139,1.2h0m6.8,.4h0m8-.1h0m8.6,.3h0m8.2,.1h0m3.3-.6h0m19.8,.1h0m8.1-.8h0m4,.6h0m4.8-.1h0m7.7,.2h0m1.1-.2h0m6.1-.2h0m1.2,.9h0m5.6-.2h0m2.5-.9h0m9,.9h0m5.8-.4h0m18.7,.1h0m-121.6,1.7h0m11-.4h0m25.3,.8h0m1.5,.4h0m25-1h0m4.7,.9h0m2.3-.8h0m7.8,.3h0m5.7,.1h0m-100,2.1h0m4-.9h0m2.3,.7h0m12,.5h0m3.7-.7h0m1.7,0h0m6.9,.5h0m6-.8h0m.7,.7h0m3.6,.1h0m3.1-1h0m4.8,.6h0m5.7,0h0m2.2-1h0m20.6,1.3h0m2.5-1.2h0m3.2,.6h0m9.2-.7h0m6.4,.6h0m3.7-.5h0m5.9,1.2h0m4.2-1.1h0m1.2,1h0m5.1-.8h0m2.4,1h0m14-1.2h0m10.6,1h0m3.8-.1h0m-149.5,1.9h0m8.3-.5h0m1.5,0h0m7.6,.1h0m1.8,.6h0m3.1-1h0m6.8,1h0m3-1h0m2.9,.4h0m2.3,.7h0m4-.6h0m5.9,.6h0m19.7-1h0m4,.6h0m4.3-1h0m5.3,.4h0m4.4-.3h0m5,.8h0m9.7-.5h0m9.1,.4h0m2.9,.2h0m2.7-.2h0m1.5,.1h0m4.3,.3h0m12.5,.2h0m10.7,0h0m4.1-.1h0m-119.9,1.3h0m29,.3h0m7.3,.3h0m2.7-.6h0m1.3,.6h0m7.3,.1h0m24.5-1.3h0m3.5,1.2h0m18.8-1.3h0m19.1-.1h0m-139.7,3.1h0m10.8,0h0m9-1.3h0m11,.6h0m1.6-.4h0m14.8,.6h0m1.5-.9h0m4.8,.7h0m4.5,.7h0m3.5-1.4h0m7.1,.9h0m26.9-.7h0m4.1,.7h0m9.2-.5h0m2.9-.4h0m3,1.5h0m6.2-1.3h0m.5,.3h0m21.1,.5h0m4.9,.5h0m-146.2,1.6h0m12.9-.6h0m6,0h0m3.4-.7h0m2.6,1.1h0m7-1.1h0m11.6,1.4h0m2.2-.1h0m1.9-1.1h0m6,1.3h0m3.4-1.5h0m16.7,.8h0m1.1-.8h0m2.7,.9h0m2.3-.1h0m7.9,.2h0m5-.6h0m6.5,.1h0m6.9-.1h0m1.3-.1h0m8.4,.5h0m11,.5h0m14.7,.2h0m-139.9,.7h0m11.5,1.1h0m5.9-1h0m4.8-.4h0m2,1.3h0m13.7-.3h0m3.1-.7h0m2.5-.2h0m1.6,.8h0m4.4,.2h0m5.1,.1h0m15.1,.2h0m4.4-.5h0m17.6-.5h0m5.8,.6h0m26.3-.4h0m11.5-.6h0m-130.8,3.1h0m2.9,0h0m8.5-.5h0m2.2,.4h0m35.5-.1h0m4.4,.2h0m3,.2h0m10.4-.2h0m9.8-.3h0m10.4,.2h0m36-.4h0m8.2-.3h0m-140.2,1.2h0m2.6,1.5h0m13.4-.5h0m2.6-.6h0m4.8,.9h0m12.1-.1h0m4.2,.1h0m11.4,.3h0m2.6-1.1h0m4.6,.6h0m6.2-1.1h0m1.1,1.4h0m11.4-.3h0m14.8-.9h0m1.4,.5h0m1.9-.6h0m3.1,.7h0m3.5-.6h0m2.3,.9h0m3.4-.3h0m7.9,0h0m5.4,.4h0m12.2-.6h0m1.4,.4h0m3.4-.1h0m12.3-.7h0m-147.6,2.7h0m17.8-.6h0m5.1,1h0m9.9-.2h0m3.5-.6h0m4-.1h0m6.1,.7h0m1.6,.1h0m23.6-1h0m4.6,.2h0m2.2,.3h0m7.7,.2h0m4.3-.9h0m27.5,0h0m4.8,.4h0m6.2,.5h0m7.7,.5h0m4.8-.4h0m5.6,.2h0m-150.3,2h0m4.5-1.5h0m.9,.6h0m4.3,.1h0m1.8,.2h0m3-.1h0m6,.4h0m12.8-.4h0m11.5-.5h0m2.9,.7h0m5.8-.7h0m14.1,.4h0m2.8-.5h0m2.8,.7h0m8.2-.1h0m13-.2h0m7.5,0h0m2.2,.6h0m4.9-.3h0m1.3-.6h0m3.5-.1h0m5.8,.9h0m2,.2h0m14.1-.2h0m5.5-1.2h0m-136,2.3h0m8.7,.5h0m2.1,.1h0m2.3-.5h0m1-.3h0m4.1,.8h0m.9-.4h0m1.5,.4h0m21.4-.9h0m8,1h0m2.2,.3h0m21.4-1.3h0m14.4,1.1h0m1.6-.5h0m2.7-.1h0m5,.4h0m6.4-.1h0m9.8,.5h0m1.8-.6h0m26.6,.2h0m-144.5,1.6h0m14.8-.7h0m1.5,.2h0m1.8,.2h0m2.9,.1h0m2.7,.8h0m6.4-.7h0m14.4,.8h0m20-.7h0m10.5,.1h0m36-.3h0m11.3,.7h0m7.2,.2h0m7.5-1.5h0m3.7,.5h0m4.4-.1h0m2.3,.3h0m-148.9,1.2h0m8.3,.9h0m.9-.3h0m5.3-.3h0m5.3-.2h0m2.7-.2h0m12.7,0h0m2.7,0h0m1.7,.9h0m3.5-.6h0m5.4,.7h0m5.7,0h0m2.4-.3h0m10.2,.1h0m5.1-.3h0m9.6,.6h0m21.6-.3h0m7.6-.7h0m3.7,.6h0m4.7-.8h0m11.3,.5h0m1.5-.4h0m1.8,.6h0m1.6-.7h0m1.4,0h0m4.4,.7h0m3.8,.8h0m-136.3,1.1h0m10.4,.4h0m12.8-.3h0m1.5,.5h0m14.3-.2h0m6.6,.4h0m.5-1.6h0m18,.4h0m33.6,.3h0m2.9-.2h0m12.7,1.1h0m9.5-.5h0m-89.7,.9h0m9.2,.8h0m10.9,.5h0m2.8,.1h0m17.7-.9h0m4.3-.4h0m34.8,.8h0m8.7-.5h0m-118,1.9h0m1.5,.5h0m6.4-.4h0m8.8-.2h0m3.6-.4h0m11.8-.1h0m6.3,.6h0m2.9-.3h0m30.3,.9h0m2-.8h0m12.1,1.1h0m43.1-.5h0m-142.2,.8h0m2.1,.5h0m8.1-.1h0m3.8,.8h0m4.6-.4h0m6.6-.5h0m2.1,.3h0m20.3,.2h0m13.7-.7h0m4.5,1h0m4.5-.5h0m15.5,0h0m-82.8,2.5h0m3.8-.8h0m5.4-.1h0m.9-.2h0m13.4,.4h0m9,.4h0m.5-.4h0m14.9,.5h0m18.7-.7h0m11.5,.6h0m28.6-.2h0m-96.7,1.3h0m1.9-.3h0m19.5,.9h0m19.2-.5h0m28.4,.3h0"/>
<path stroke="#0aa0b8" stroke-width="2.3" d="M305.8,462h0m-94.4,1.7h0m81.9-.3h0m6.5-.5h0m4.9-.1h0m-118.3,2.7h0m4.2-.7h0m11.7-.1h0m9.7,.4h0m6.8-.8h0m62.4,1.3h0m26.1-1.5h0m-132.1,2.9h0m93.1-.9h0m14.8,.7h0m-100.6,1.2h0m11.3,.7h0m8.7-.2h0m54,.3h0m8.9-.1h0m7.3-.5h0m3.3,1.1h0m4-.8h0m2.4,0h0m3.1-.3h0m-104.2,2.6h0m8-1.1h0m14.9,1h0m26.9-.4h0m36.9,.2h0m3.6-1h0m-82.9,1.9h0m63.6,.7h0m2,.6h0m5.9-.4h0m7,0h0m14.6,.4h0m7.3-.5h0m20.3,.2h0m7,.5h0m-136.7,1.1h0m10.6,.5h0m78.6,.2h0m3.3-1.1h0m1.7-.2h0m4.9-.1h0m6.1,.3h0m1.3,.1h0m33.9-.3h0m-77.1,2.9h0m1.5-.1h0m3.3-1.2h0m10.2,.1h0m2.1,1.2h0m7.7-.1h0m5.4,.1h0m1.8-.7h0m16-.1h0m23.2,.5h0m-108.3,1.3h0m9.8-.4h0m23.3,.3h0m2.2,1.1h0m4.4-.8h0m27.1,0h0m8.6,.3h0m5.1,.4h0m-96.2,.6h0m46.6-.1h0m9.7,.9h0m.8-1.1h0m2.6,.6h0m38.9-.2h0m22.2,.9h0m-103.3,2h0m23.3-1.4h0m41.1,.5h0m3.8-.2h0m-80.9,1.5h0m40.8,.8h0m17.3-.5h0m14.4-.1h0m7.7-.1h0m7.4,1.4h0m8.4-1.5h0m1.3,.5h0m5.4-.2h0m9.7-.2h0m10.6,.6h0m-128.2,2.2h0m3.7,.3h0m5,0h0m2.7-1.4h0m1.9,1.2h0m36.8-.4h0m7.6-.7h0m.6,0h0m20.7-.2h0m10.9,.6h0m.8-.1h0m2.7,.1h0m-93.1,1.6h0m7.4,1.1h0m28.8-.4h0m8.2-.6h0m4.3,.6h0m4.3-1.1h0m15.9,.5h0m2.1-.1h0m10.8-.3h0m1.7,.6h0m11.8-.3h0m4.1-.3h0m8.2,.1h0m12.6,.2h0m9.7,.9h0m1.5-1.2h0m-125,1.7h0m28.6,1.2h0m16-.7h0m7.3,.7h0m20.8,0h0m4.2-.4h0m7.9-.6h0m5,1h0m6.1-.7h0m9.6,0h0m4.7,.8h0m8.7-.6h0m1.3-.4h0m-137.6,2.7h0m12-.8h0m8.3-.2h0m.9,.2h0m40.2-.3h0m22.7,1.2h0m3.9-1h0m9.1,.5h0m15.1,.6h0m5.3,.2h0m10.3-1.5h0m2.6,1h0m9.1,.4h0m.5-.6h0m-133.4,2h0m2.5,.4h0m3,0h0m3.4-1.4h0m7.5,.5h0m4-.1h0m15.5,.8h0m12.3-1.3h0m2.6,1.3h0m15,.3h0m4.5-.9h0m18.5,.4h0m26.7,0h0m2.1-1.1h0m7.1,1.4h0m12.1,0h0m-149,.6h0m6.5,.1h0m15.3,.4h0m6.7,.7h0m1.9-.2h0m9.1-.3h0m50.3,.3h0m5.9-.1h0m3.5,.3h0m26.5,.2h0m-123.8,.4h0m23.1,.2h0m3.5,0h0m44.7,.4h0m23.8-.2h0m14.3,1h0m10.3-.8h0m4.3,.2h0m.8-.8h0m6.6,.8h0m-113.3,1.2h0m15.4,.7h0m.7,.4h0m17.3-.5h0m19.4,0h0m7.1-.5h0m51.6,.9h0m2.5,0h0m2-1h0m-136.3,1.7h0m10.6,1.3h0m11.4-.7h0m26.2-.5h0m17,0h0m7.2,0h0m2.5,1.1h0m32.3,0h0m10.8-.4h0m4.2-.2h0m2.9-.8h0m4.8,1.3h0m3.8-.2h0m2.3-.8h0m9.6,0h0m-134.4,2.2h0m2.3-.4h0m3.8-.1h0m28.8-.2h0m1.4,.2h0m3.7,1h0m20.1-.9h0m6.7,.3h0m28.9,.5h0m16.1,.2h0m23.9-1.2h0m-129.2,1.9h0m7.9,.6h0m13.2-.4h0m6.5,.8h0m79.7,.3h0m7.6-1.1h0m16,0h0m-136.5,2.7h0m24.6-.6h0m18.5-.7h0m50.3,.2h0m-94.5,2.1h0m23.4,0h0m.6,.4h0m11.1,.1h0m2.7-.4h0m3.3,.3h0m9.4,.2h0m1.9-1.1h0m33.7,1.1h0m21.5-.7h0m20.6,.8h0m.4-.2h0m-135.1,1.2h0m1.4-.1h0m1.9,.3h0m3.4,0h0m4.6,.9h0m34.1-1.5h0m12.1,.9h0m17.6-.8h0m60.2,0h0m-125.8,1.7h0m69.6,2.4h0m1.8-.7h0m20,1.1h0"/>
<path stroke="#09728a" stroke-width="2.1" d="M190,461.5h0m46.2,.5h0m-9.7,1.4h0m81.2,.3h0m-51.1,1.1h0m-70.4,2h0m5.1,.5h0m1.2-.7h0m88.2,.7h0m22.7-.6h0m-112.6,1.8h0m125.7,.6h0m6.2-.9h0m-68.7,1.9h0m2.9,.6h0m9.6-.8h0m16,.3h0m3.8-.5h0m5,1.1h0m-81.8,1.4h0m13.1-.4h0m67.7,.3h0m1.6,.2h0m3.3-.6h0m25,0h0m-148,2.8h0m9.4-.1h0m7.3-.9h0m12.7,.2h0m3.2-.5h0m43.3,1.4h0m6.1-.2h0m12.9-1h0m26,1.2h0m25.9-.4h0m-138.1,1.3h0m4.4,.1h0m2.6,.8h0m3.6-.4h0m35.1-.2h0m54.2-.2h0m8,.4h0m6.5,.2h0m-119.2,.5h0m18.7,0h0m1.6,1.3h0m3.6-1.1h0m15.1,.1h0m28.3,.4h0m7.4,0h0m.6,.8h0m9.6-1h0m2.3,0h0m18.9,1h0m5.5-.8h0m-93.6,2.2h0m9-.1h0m38-1h0m33.6,1.5h0m32.8,0h0m10.5-.4h0m-128.5,2.1h0m53-1.1h0m24.9,.6h0m3.5,.6h0m15.8-.4h0m10.3,.4h0m10.6-1.4h0m-123.3,3.1h0m5.7-.9h0m2.1-.1h0m7.5,.7h0m2.8-.7h0m45.9,.3h0m2.8-.2h0m34-.3h0m27.3,.3h0m3.2,.1h0m5.4,.6h0m-137.9,1.2h0m4.6,.1h0m12,0h0m18.9,.1h0m23.1,0h0m18.2-.6h0m5.1,1.2h0m1.8,0h0m10.3-.9h0m10.3,1.1h0m24.9-1.1h0m6.9-.3h0m1.3,.5h0m-146.3,2.2h0m17.1-1.1h0m11.1,.3h0m14.5,.4h0m26.7-.1h0m18.8,.9h0m42.3-1.2h0m18.2,.5h0m-92.6,1.5h0m4,1h0m15.8-1.1h0m3.2,.6h0m6.8,.4h0m17.4-.7h0m15.5-.4h0m3.5,1h0m2.2-1.2h0m-122.4,3.1h0m21-.9h0m16.9,.1h0m73.1-.1h0m10.6,.3h0m2.8,0h0m1.6,.3h0m-98.9,1.3h0m54.8-.1h0m1.1-.3h0m25.7,.3h0m10.3,.6h0m1.6-1h0m17.7,1.3h0m6.7-1h0m-143.9,2.2h0m4.2-.2h0m3.2,.1h0m5.4-.1h0m1.1,.6h0m42.6-.7h0m3.7,.6h0m12.6,.1h0m9.5,.1h0m20.6-1h0m5.7,.9h0m4.1,0h0m12.2,0h0m4.2,.2h0m12.7-1.2h0m-139.4,1.7h0m34.2,.2h0m27,.6h0m8.2-.3h0m7.2,.9h0m11.6-.9h0m4.1,.2h0m17.8,.2h0m-114,1.7h0m24.5-.6h0m2.8,.9h0m1.7-.9h0m10.1,.8h0m8.3-.3h0m15.3,.7h0m1.3-.5h0m33.1-.7h0m41.3,.1h0m-138.5,2.5h0m6.8-.9h0m25.2,.1h0m16,1.2h0m1.4-.6h0m3,.1h0m2.6-.3h0m1.4,0h0m10.3-.6h0m31.4,0h0m2.1,.9h0m.9-.5h0m36.1-.1h0m-106.2,2.6h0m25.4-.5h0m65.7-.6h0m4.5,1.1h0m-114.8,.7h0m23.1,1h0m20.1,.2h0m18.1-1.1h0m1,.3h0m27.9-.5h0m38.6,0h0m1.8,1.2h0m-124.7,2h0m19.4-1h0m6.7,0h0m6.6,0h0m28.3,1.2h0m27.6-.9h0m13.6-.2h0m16.6,1.1h0m1.3-1.4h0m-119.8,2.4h0m61.6,.5h0m-49.9,2.1h0m51.3-1.3h0m13.1,.5h0m-97,1.6h0m7.5,0h0m2.4,.8h0m7.5-.7h0m121,.6h0m-129.1,1h0m121.1,.2h0"/>
<path stroke="#086a88" stroke-width="1.1" d="M191.3,462.8h0m103.3-2.2h0m-110,.6h0m6.1,4.1h0m19,.4h0m15.8-3h0m10.1,.7h0m60.8-.3h0m2.6-.6h0m2.1,.4h0m2.7,.3h0m2.2-1.4h0m.4,2.4h0m4-1.7h0m1.2,3h0m-134.3-1.6h0m5.1,1.2h0m3.9-.3h0m66.6,1.2h0m1.7-1.4h0m26.4,.2h0m17.9-.3h0m2.9,.1h0m2.8-.1h0m2.2-1.3h0m2.5,1.8h0m-137,.7h0m14.8,1.2h0m4.5-.9h0m10,1.7h0m1.6-.1h0m53.9-1h0m9.6-2.2h0m38.1,3.2h0m12.6-1h0m-144,1.4h0m1.6,.5h0m5.7-1.1h0m4.2,1.5h0m5.8-.6h0m4.1-.5h0m10.1,.7h0m48.5-1h0m2.2,.8h0m10,0h0m2.6-1h0m10.1,1.9h0m2.7-1.8h0m4.2-1.1h0m30.7,1h0m3.7,2h0m-143.5,1.5h0m.5-.2h0m3.1,0h0m13.7,1h0m8-1.1h0m9.7,.7h0m15.6-2.4h0m4.4,.9h0m-2-.4h0m7.3,2h0m4.6-2.2h0m11.2,1.5h0m4.9,2h0m13.2-3.2h0m5.5,.4h0m8.6-.5h0m2.4,.2h0m4.7,.1h0m1.8-.5h0m19.4,1.6h0m2.4-.4h0m3.4,.9h0m1.2,.4h0m-142,.5h0m11.4-.2h0m3.1-.9h0m16.9,0h0m13.8,1.7h0m2.7-.9h0m11.5-.4h0m11,1.2h0m4.7-1.3h0m2.4,1.5h0m2.9-1h0m.6-.2h0m7.7,2.6h0m.5-2h0m2.9-.8h0m3.3,.1h0m1.2,1.1h0m6.6-.6h0m5.1,1.3h0m2.6,.7h0m2.9-1.8h0m9.9-.6h0m9.1,.9h0m1.3,0h0m2.3,.7h0m4.6,.5h0m-148.3,.9h0m4.3-.6h0m4.2-.2h0m1.2-.6h0m3.6-.4h0m3.2,.5h0m9,2.2h0m8-2.8h0m1.3,1.8h0m19.1-.7h0m1.3-.3h0m11.3-.5h0m4.4-.3h0m5,2.1h0m7.1,1.1h0m2.3-1.7h0m3.4-1.4h0m8.7,.1h0m1.8,.4h0m1.4-.5h0m1.7,1h0m1.4-3.3h0m1.6,3.8h0m4.4-.3h0m5.5-.9h0m2.2,0h0m-.4,1.3h0m6.3-.3h0m29.4,1.6h0m-149.1,1.5h0m9.5-.9h0m4.4,.2h0m1.9-.7h0m.9,1.5h0m6.6-1.3h0m1.8,0h0m2.7-.4h0m4.5-.7h0m17.8,1.9h0m3-1.9h0m10.2,1.9h0m6.5,.2h0m.7-.3h0m4.3-2.7h0m4.8,2.2h0m13.1,1h0m1.8-.9h0m2.8-1.2h0m-.2,.6h0m5.6,.7h0m10.6,1.3h0m.5-.7h0m7-.2h0m19.5-1.5h0m-141.4,1.8h0m2.8,0h0m4.8-.2h0m.5,1.7h0m5.7-.4h0m8.6,.1h0m1.6-.1h0m1-.7h0m5.3-.7h0m.8,.6h0m3.3,.8h0m9.7-2.3h0m.4,.7h0m21.8,2.2h0m4.7,.3h0m7-.9h0m23.5-1.1h0m3,.7h0m1.2-.3h0m4.4,1.2h0m3.7-1.6h0m4.2,.2h0m5.4,0h0m26.5,.2h0m-149,2.5h0m2.3-2.7h0m6.9,2.4h0m19.9-.2h0m26.1,1.4h0m9.8-2.5h0m4.6,1.9h0m2.1-.2h0m5.6-1.7h0m2.1,0h0m2,.7h0m10.9-.6h0m3.8,.8h0m6.9-.7h0m2.5,1.1h0m3.5-1.4h0m1.5,.5h0m7.3,.4h0m4.2-1.4h0m14.8,2.5h0m8.1-1.1h0m-144.9,2.2h0m1.8,.7h0m6.6-.6h0m7.8,0h0m2.1-.3h0m1,1.4h0m-.1-1h0m15.4-1h0m2.2,1.6h0m4.6-1.4h0m9.7,.7h0m8.3,1.4h0m1.7-1.3h0m4.3-2h0m1.9,.7h0m7.5-.9h0m9.5,.1h0m5.3-.1h0m4.3,1.3h0m3.1,2.6h0m3.3,.3h0m-.7-3.9h0m1.8,.4h0m8.2,1.2h0m4.8,2h0m7.3-.4h0m.2-1.9h0m.9,1.3h0m8.6-.2h0m4.8-1.2h0m4.9-.2h0m5.1-.2h0m2,2h0m-148-.1h0m10.2,1.7h0m3.7-2.1h0m3.1,.2h0m9.7,1.5h0m0-.9h0m.8,.3h0m6-.1h0m6.3,.5h0m17.2-.6h0m6.9,.6h0m.7,.2h0m7.1-1h0m4.5-1.9h0m2.6,2.4h0m2.1-.2h0m2.3-1.9h0m2.9,3.4h0m3.6-1.1h0m11.8,.1h0m8.6-.4h0m3.3-1.4h0m-.5,2.2h0m4.5-.9h0m.9-1.6h0m1.2,1h0m14.8-.5h0m10,.5h0m1.5,.7h0m1.8-.2h0m-140.2,2.2h0m2.5-2.1h0m1.9,2.6h0m2.6-3h0m.6,2.8h0m9.4,.8h0m3.7-.5h0m7.3-.8h0m6.7-2.2h0m3.3,.6h0m11.5,1.1h0m1.9,1.1h0m2.6-1.7h0m4.2-.3h0m1.3,2.4h0m.3-.4h0m2.6,0h0m4.1-1.2h0m13,1.2h0m1.6-1.7h0m4.3,2h0m3.8-2.3h0m.1,1.8h0m2.9,.1h0m6.4-1.9h0m.3,.5h0m2.7,.6h0m1.1-.9h0m2.2,1.1h0m.5-.1h0m6.1-.1h0m2.9-1.3h0m15.7,2.2h0m1.4,.5h0m-140.6,0h0m3.3,.7h0m19.1-.2h0m5.2,.6h0m2.6-.8h0m3.2,1.5h0m2.5-2.3h0m3.1,1.2h0m5.2-.8h0m2.3,1.6h0m4.8-2.1h0m5,1.2h0m.5,.8h0m4.1-2h0m.4,1.8h0m3.5-2.4h0m1.4,2.5h0m4.8-2.7h0m3.5,1.1h0m1.4,1.1h0m1.2-1.7h0m11.5,.9h0m1,1.4h0m1.9-2h0m1.9,1h0m5.4-.6h0m2.7-.1h0m1.2-.3h0m1,1.5h0m5.3-1.5h0m3.3,.3h0m8.2-.1h0m-1.8,.9h0m4.7-.2h0m1.8-.3h0m6.7,.6h0m.9-1.1h0m4.5,.5h0m4.3-.2h0m3.7,2.3h0m3.2-3.6h0m-132,5.2h0m2,.2h0m2.3-2.3h0m9,0h0m2,.9h0m9.8,.9h0m4.4-1.6h0m10.8,0h0m1.4,.2h0m6.1-1.6h0m-.1,2.5h0m3.5-1.6h0m7.5,.8h0m1.5,1h0m3.5-.9h0m4.8-1.1h0m9.5,1.3h0m3.3-.5h0m1.1,0h0m11.4-.4h0m-.9-.2h0m4.1,1.5h0m4.5-.3h0m1.5-1.1h0m2.2-.4h0m3.7,0h0m4.3,1.1h0m-2.2-.1h0m5.8,1.5h0m6.4-2.6h0m4,1.2h0m-142.3,2.5h0m1.6,.2h0m2.6,0h0m3.6-.2h0m4.5,.7h0m2.4-1.3h0m6,.4h0m4-.7h0m15.1-.3h0m6.9-.2h0m1.7,.3h0m4.3,.2h0m.3,.8h0m3.4,.2h0m2,.1h0m.1-2h0m3,.8h0m1.9,.6h0m1.8,2h0m7.6-1.1h0m8.8-1h0m-.3,.2h0m6.5-1.5h0m5.2-.1h0m6.9,1.4h0m6.6,.5h0m2.1,0h0m1.7-.6h0m3.8-1.7h0m3.7,3.2h0m2.7-2.1h0m3.9,1.3h0m8.2-.9h0m13.1,3.1h0m-144.2-1h0m11.4-.9h0m1.4,.2h0m1.7,1h0m8-1.2h0m3.7,1.5h0m2.3-1.5h0m10.6,.7h0m6.8,1.2h0m5.8-2.1h0m2.3,2.2h0m1.7-1.3h0m9.3,.6h0m9.5,.7h0m6.7-.5h0m5.4,1h0m4.3-2h0m1,.5h0m3.6-1.4h0m1,2.4h0m3.1,0h0m1.3-1.4h0m3.1-.2h0m6.3,.6h0m4.6,.6h0m2.7,1h0m4.4-1.3h0m4,.5h0m2.6-2.2h0m3.5,.5h0m7.4,1.4h0m7.2-.4h0m-149.3,.3h0m1.3,.2h0m3.6,1.9h0m1.9,.6h0m6.7-2.8h0m5.6,1.1h0m22.6,.7h0m1.7,.6h0m6.3-.9h0m9,1.8h0m2.2-2.5h0m3.5,.9h0m8.2,.4h0m5.9,0h0m1.5-1.2h0m1.2,2.4h0m0-.8h0m9.2-1.1h0m17.4-.3h0m5.5,.8h0m2.6-1.3h0m1.5,1.2h0m3.7-.7h0m10.3,.3h0m1-.4h0m1.1,.8h0m2.5-1.3h0m6.1,.5h0m6.2,1.1h0m-148.8,2.7h0m2.7-2.8h0m2.9,.2h0m4.7,1.5h0m2.9-.4h0m.3-.7h0m6.5,1.3h0m4.9-.4h0m3.2,.4h0m17.2-2.4h0m.5,2h0m12.3,1.4h0m11.5-1.3h0m.1,.5h0m.3-2h0m3.5,3.3h0m3.3-1.5h0m2.5-.8h0m2.8-.8h0m2.3,2.2h0m3.9-.6h0m9.7-1.4h0m.9,.3h0m5.9,.5h0m2.8,.3h0m2.9-1.8h0m1.3,2.5h0m6.4-1.5h0m4.6,.9h0m11-1.2h0m2.1,0h0m5.3,2.8h0m1.6-2.6h0m6,.1h0m-142.2,1.9h0m2.5,2h0m5.2-.9h0m6.2,.1h0m6.8-.3h0m5-2.7h0m3.8,1.7h0m1.9,.8h0m5.4-1h0m4.7-.2h0m7.8,1.7h0m-.7-1.5h0m4.2,1.5h0m.8,.5h0m6.9-1.4h0m1.3,.4h0m11.6-1.4h0m3.4,.7h0m-.8,.7h0m11.5-.5h0m7.1-2.2h0m10.2,3.6h0m5.8-.1h0m.5,.8h0m6.4-.4h0m3.9,.1h0m3.5-.6h0m1.2,1h0m2.5-1.6h0m1.4-1.3h0m4.3,2.3h0m1.5-2.1h0m1.8,.2h0m3.1,.6h0m-144.3,3.3h0m3.8-2.8h0m5.5-.3h0m-.9,1.5h0m1.4,.8h0m1.4,.1h0m3.4-1.5h0m3.8,.2h0m-.1-.3h0m1.5,1.2h0m4.3-.2h0m.2-1.4h0m8.9,.1h0m6,1.5h0m5,.2h0m4.9-1.6h0m2,.5h0m.3-1.2h0m3.1,1.6h0m.7-.9h0m8.5-1.1h0m-.1,.8h0m7.1,1.1h0m4.5-.3h0m3.1-.9h0m15.6-.3h0m2.8,1.1h0m4.8,1.3h0m6.1-.6h0m8.9,0h0m.1-1.3h0m2.4,.6h0m3.5-1.3h0m5.3,3.6h0m5-1.6h0m-.2-1.3h0m4.5,.9h0m6.6-.3h0m3.7,0h0m-148.6,1.4h0m8.6,1.3h0m2.6-.4h0m1.1-.4h0m2.2,.7h0m1.3-.9h0m6.7,2.6h0m2.6-1.7h0m8.4,.6h0m1.3-2.8h0m.7,2.4h0m4.2-.8h0m.7-1.4h0m5.5,1.5h0m5.1-.3h0m-.1,0h0m3.5-.1h0m27.1,.5h0m19.9,.9h0m4.8,.2h0m2.7-.8h0m1.3-2.1h0m13,1.7h0m1.1-.2h0m8.2,1h0m5.3-1.1h0m8.8,.1h0m.1,.4h0m-135.8,1.6h0m1.3-1.7h0m11,1.9h0m-1.2,.6h0m1.4-.3h0m10,1.3h0m1.2-2h0m3.4,1.2h0m4.7-3.4h0m3.5,2.1h0m2,.1h0m1.9-.7h0m4.1,1.2h0m3.1,.2h0m3.4,2h0m2.5-.4h0m-.6-2.3h0m11.4,.8h0m2.4-1.3h0m3.9,1.8h0m27.4-1.4h0m14.1,1.4h0m3.3-.8h0m4.8-1h0m.8,1.3h0m17.7,0h0m-139.4,1.7h0m27.2-.3h0m1.4,.2h0m4.1-.3h0m2.1-.3h0m1-1.2h0m1.9,.2h0m2.8,.3h0m.9,1.2h0m1.7,.1h0m7.9-.7h0m1.2,1.1h0m2.9,.3h0m18.4-1.6h0m2.5,.3h0m33.2,1.6h0m1.4-.9h0m11-2h0m8.2,1.9h0m-126.2,1.4h0m7,1.5h0m1-.4h0m7.6-1.9h0m5.2,1.4h0m.5-1.1h0m1.6,.5h0m1.1-.2h0m7.5,.4h0m4.4-.2h0m1.9-1.5h0m9,2.9h0m1.8-3.2h0m3.6,1.2h0m19.6-1.3h0m13,1.8h0m21.5-.6h0m21.7,1.9h0m-143.3-1h0m2.9,1.9h0m.2,.1h0m3.8-.1h0m2.4-1h0m2.2,.2h0m2.4-.5h0m.5,2h0m3.8-.4h0m1.3,1.1h0m7.2-1.4h0m2.4,.2h0m16.8-1.7h0m3,1.2h0m14.3-.9h0m.1,1h0m9.4,.9h0m7.4-2.9h0m2.4,1.9h0m5.8-.7h0m52.1,1h0m1.1-.3h0m.8-.2h0m-140.8,1.5h0m2.3,2.2h0m1.3-1.8h0m4.2,.1h0m1.2,1.6h0m15.6-1.2h0m1.1-.7h0m9.7,.6h0m14.6,.6h0m13-.6h0m6.5-.5h0m11.1,.5h0m29.4,.5h0m18.1-.7h0m-118,3.3h0m3.1-1.8h0m1.1-.1h0m2.5,.4h0m10.8-.4h0m52.1,0h0m4.2,.5h0"/>
<path stroke="#66f6f6" stroke-width="1.1" d="M190.3,462.4h0m46-.4h0m17.1-.6h0m1.4,.7h0m2.6,1h0m39-1h0m9.3,1.2h0m-127.9-1.3h0m9,.8h0m15.8-.9h0m32.7,.9h0m17.1,1.6h0m1.8-1.5h0m.6,2.5h0m38.7-3.7h0m11.2,.1h0m-121.2,2.7h0m5.8-.2h0m.8-.3h0m2.3,2.1h0m8.7-.9h0m1.5-.1h0m7.1-.3h0m2,.8h0m8.6-1h0m7.9,.5h0m5.1,0h0m23.3-.5h0m22.9,1h0m2.5-.8h0m20.8,.6h0m-127.5,1.2h0m.9,.4h0m5.4,.7h0m.8-2h0m1.8,1.4h0m4.3-.6h0m2.4,.8h0m66.5-.6h0m11.2-1.4h0m2.5,0h0m2.9,.6h0m1.5,.2h0m3.4,2h0m.8-.6h0m4,.2h0m32.2-2.5h0m7.5,2h0m-146.1,2h0m4-1.1h0m1-1.5h0m11.4,2.2h0m1.4-2h0m6.1,2.8h0m28.7-.9h0m1.1,.2h0m26.6,1h0m14.2-.6h0m5.5-1h0m3.3-.7h0m3.7-.8h0m32,.9h0m1.4-.1h0m3.4,1.6h0m2-1.6h0m-145.2,1.9h0m2.6,1.1h0m10-.9h0m1.5,1.6h0m1.8-1.1h0m10.8,1h0m1,.2h0m-.3-1.2h0m19.2,1h0m9.8-.3h0m19.7-.2h0m11.8,.7h0m1.7-1.6h0m5.7,.4h0m6.8,1.1h0m.7-1.4h0m1.7-1.1h0m5.2,.5h0m3.3,2.1h0m25.5-2.4h0m-.8,2.5h0m6.1-3.4h0m-147.5,2.7h0m1.2,3.5h0m4-2.9h0m10.8,1.3h0m3.3-1h0m12.4-.5h0m-.1-.2h0m3.2,2.7h0m5.5-1.3h0m9.1-1h0m11.4-.2h0m3.6,.8h0m1.4,.9h0m16.8,.3h0m26.6-.6h0m4.4-.4h0m3.7,1.3h0m2.9-3h0m14.5,3.4h0m6.4-.8h0m4.3-.9h0m-140.8,1.5h0m1.7,1.6h0m8.8-.8h0m1.7-1.5h0m2.5-.6h0m3.5,.2h0m5,.4h0m-.3,1.3h0m7.8-.9h0m6.1,.2h0m12.1,.3h0m8.9,.3h0m7.2-1.3h0m4.3,.8h0m12-.9h0m.5,.3h0m4.8,.3h0m13.7,.3h0m2.6-.5h0m-.3,0h0m7.3,.1h0m1.8-.7h0m3,2.1h0m16.7-1.2h0m4,1.3h0m1,.6h0m1.9-1.5h0m3.5,.5h0m-.8-.3h0m-141.8,2.2h0m3.4-.5h0m2-.1h0m11.7,.3h0m9.3-1.5h0m4.4,1.1h0m5.5-1.2h0m3,.8h0m11.3,.7h0m12.6-1.4h0m5.5-.3h0m1.1,.5h0m5.8,.3h0m3.6-.1h0m2.2,.9h0m1.5-.9h0m1.9,.8h0m10.2,1.7h0m2.1-3.1h0m2.8,.2h0m2.3,.3h0m.5,2.2h0m5.3-.4h0m4.9-.8h0m2.7-.6h0m16.5-.2h0m1.5,.5h0m-137.2,1.9h0m3.3,.7h0m11.3-1.2h0m9.9,.6h0m9.8-.8h0m5.6,1.4h0m11.5,.4h0m1.1-.8h0m1.8,1h0m8.3-1h0m1.2-.4h0m.2-1.7h0m7.1,2.2h0m2.3,.1h0m4.1-1.6h0m.5,.2h0m6.2,1h0m.8,.1h0m2.1-.1h0m2.4-.5h0m2.1,1.5h0m1-1.6h0m4.4-.4h0m1.9,1.1h0m.5-.3h0m5.8-1.2h0m4.9-.2h0m1.5,2.4h0m6.9-2.8h0m-115.3,3.7h0m1.6,1h0m.7,.9h0m7-1h0m3.8-2.5h0m1.2,2.9h0m1.6-.3h0m1.6-.6h0m1.9-1h0m4.8,.2h0m2.8,.6h0m-.1-1.6h0m4.8,.7h0m2,1.4h0m1.1-.8h0m2.9,2.3h0m2.7-2.2h0m4.3-1.1h0m7.3,2.1h0m2-1.8h0m7.2,1h0m1.1-.9h0m3.3,.8h0m3.9-1.1h0m3,1.2h0m17.5-.9h0m4.8,.3h0m2.4,2h0m2.4-3.2h0m4,1.8h0m6.1-.9h0m1.7,.7h0m7,1.6h0m1.5-1.2h0m7.8-.5h0m3.1,1.1h0m.2-1.7h0m10.6,.5h0m4.1,.5h0m-.4-.6h0m-143.4,3.4h0m4-1.9h0m11.9,1.2h0m3.9-.9h0m4.1-.6h0m-1.2,1h0m3-.1h0m2.8,1.9h0m5.5-1.6h0m2.2,1.7h0m5-.2h0m8.2-.8h0m1.7-1.4h0m7.5-1.1h0m7.4,2h0m.7-.4h0m4.2,.2h0m3.2-.1h0m3-.4h0m.5-.3h0m7-.3h0m21.5,2.4h0m-1.1,.7h0m3.4-2.1h0m20.3,.2h0m10.8,.6h0m.9,1h0m-145.7-.4h0m8.7,0h0m4-1h0m3.4,1.6h0m6.1,.5h0m7.9-2.8h0m3.4,3.3h0m4.1,0h0m6.4-.1h0m2.7,.3h0m5.7-.6h0m9.4-2.1h0m5.3,1.2h0m.3-.1h0m2.2,1.7h0m4.1-.5h0m1.5-1.2h0m8.1,.9h0m4.9,1.3h0m5.2-1.8h0m.9-.3h0m5.5-.7h0m3.4,.2h0m4.6,2h0m6.2-.6h0m6.7-2.9h0m2.2,.3h0m11.5,1h0m2.4-.1h0m1.2,.4h0m3,0h0m.5,.9h0m-142.6-.1h0m1.6,2.4h0m18.5-.8h0m2.6-1.1h0m3.3,2.3h0m1.6-1.6h0m6.1,.6h0m-.8-1.7h0m13.5,1.3h0m3,1.6h0m.9-2.4h0m1.5,.9h0m3.9,.1h0m15.7-1.5h0m2.6,1.1h0m1.7,.9h0m10.4-.2h0m6,0h0m7.7-.1h0m2.5,1.5h0m1.2-4.3h0m13,3.8h0m6.9-1h0m2.7,.3h0m15.9-.2h0m2-.1h0m1.7-.2h0m.5-.6h0m3.2,2h0m-149-.5h0m14.4-.2h0m1.6-.1h0m-.2,.7h0m2,.8h0m5.8,1h0m.5-1.2h0m2.6-.8h0m7,1.6h0m5.2,0h0m3.8,.1h0m4.3-2.2h0m3.4-.3h0m2.6,1.9h0m5.5-1.4h0m7.4,1.3h0m3.6-1.4h0m8.5,.2h0m2.6,1h0m1.6,.4h0m3.8-.9h0m7,.9h0m2.7-1.3h0m9.3,1.9h0m5.3-.2h0m5.3-2.3h0m6.8,.6h0m3.7,1.8h0m8.1-.1h0m.8-.6h0m10.9-1.4h0m3.1,0h0m-145.3,2.8h0m9.9-1.2h0m9.5-.5h0m1.6,1.3h0m3.2-1.5h0m15.1,2.7h0m3.7-1.9h0m1.3,.4h0m1.4,.8h0m1.9-.5h0m3.6,.6h0m2.8,.2h0m4,.1h0m5.6-2.1h0m4.1,.9h0m5.3-1.1h0m2.6,1.6h0m6.1,1.1h0m10.6-1h0m5.1-.2h0m.5,.2h0m2.9-.4h0m.1-.8h0m8.8,1.5h0m7.8-.3h0m1.1,.6h0m10.6,1.8h0m5-.7h0m4.3-3.2h0m-137.1,4.3h0m4-1.5h0m5.4-.5h0m2.9,.2h0m6.6,2.6h0m2.9-1.6h0m-.9-.5h0m4,1h0m7.2,.7h0m3.5,.2h0m2.6-.5h0m7.2-1.3h0m16.2,0h0m9.9,1.1h0m3-.9h0m6-.8h0m1.1-.1h0m2-.5h0m4.8,.5h0m1.5,1.2h0m6.8,.1h0m4.1-.8h0m6.3,1h0m2.8-1.5h0m8.3,1h0m5.6-.1h0m0-1.2h0m1.3,.6h0m1.3,1h0m4.6,.1h0m1.5-.1h0m1.9-.3h0m1.8,0h0m1.8,.2h0m2.1,1.3h0m-145.9-1.1h0m5,.3h0m4.5,2.1h0m2.6-.4h0m6.3-.2h0m1-2.3h0m1.7,.9h0m4.8,.8h0m6.9,1.1h0m3.1-.7h0m1,.5h0m15-.8h0m-1.1,1.7h0m6-.4h0m4.2-2.1h0m4,1.1h0m.1-.4h0m7.7-.9h0m6.2,1h0m5.7-.1h0m.8-1h0m10.1-.7h0m9.5,2.3h0m3.7-.6h0m5.9,0h0m1.4,.1h0m3.6,1.4h0m4.1-1.4h0m8.5-.3h0m3.1,.6h0m2.5-.6h0m1.6,.6h0m.8-2.1h0m3.7,1.4h0m2.2-.1h0m3.9,2.3h0m1-2.6h0m-147.8,1.8h0m5.9,0h0m2.6,1.3h0m6.1-1.1h0m2.8,1.6h0m2.1-1.5h0m2-1.1h0m.3,2.8h0m2.1-1.8h0m2.3,1.6h0m1.3,.2h0m2.6-1.7h0m2.6,1.5h0m.1,.9h0m2.6-3.3h0m5,1.2h0m6.5,.9h0m4-.9h0m1-.3h0m2.9,1.8h0m7.1-1.4h0m11.3-.5h0m8.8,.5h0m1.6-1.4h0m2.8,1.7h0m4.8,0h0m.6-.3h0m2.6,1h0m1.9-1.4h0m5.9,.4h0m5.7,.7h0m8.3-3.5h0m4.3,2.4h0m1.7-.6h0m1,1.1h0m3,.9h0m7.1-1.6h0m4.2,1.8h0m2.8,.2h0m3.4-2.2h0m-142.9,1.5h0m1.5,.3h0m14.8,1.3h0m5.6-1.5h0m3.1,.1h0m2.7-.6h0m2.4,1.6h0m-.5-1.1h0m6.9-.2h0m1.4,1.2h0m4.3-.3h0m1.7,1.2h0m2.2-1.8h0m2.3,.1h0m2,1.2h0m3.2-.2h0m5.5,.8h0m9.2-.4h0m5.3-.1h0m12.4,1h0m3.4-1h0m1.2-.3h0m.9,.6h0m5.1,.2h0m7.9,.2h0m4.8-1.4h0m4.4,1.6h0m3.5-.9h0m4.4,.7h0m1.6-3.9h0m3.2,3h0m6.5,.1h0m4.9,1.1h0m2.7-1.8h0m-143.8,2.8h0m3.3-.1h0m12-.5h0m2,.7h0m2.9,.6h0m1.9-2.8h0m1.3,1.8h0m1.6,0h0m5.3-.3h0m6.7,.3h0m2.8-1.4h0m3,2.1h0m5.2-.1h0m2,1.2h0m3-1.6h0m4.7,.4h0m5.4-2h0m-.6,2.1h0m11.7-1.2h0m.7,.2h0m.2,.6h0m19.1,0h0m2.5,.1h0m.8-1.2h0m4,2.2h0m2.2-1h0m3.5-1.6h0m-.8,1.3h0m12.4-.4h0m9.7-1.4h0m9.1,2.4h0m6.7,.7h0m4.3-2.4h0m-148.5,3h0m1.4,.3h0m21.2-1h0m10.3,.6h0m6.9,0h0m3.2-1h0m-.4-.5h0m4.6,1h0m11.2,.3h0m9.7-.5h0m1,.6h0m2.8,.7h0m3.8-.8h0m18.6-1.3h0m5.3,.9h0m4-.9h0m1.9,1.9h0m7.6-1.2h0m9.2-1.1h0m2,0h0m3.3,1.3h0m3.6,.4h0m6.5-1h0m.6-.7h0m4.1,0h0m1.2,.9h0m3.2,.5h0m-137.4,4.6h0m7.6-4.3h0m2.7,1.1h0m2.4-1h0m15.9,.6h0m3.4,2.4h0m6.4-2.5h0m1.1,2.1h0m8.3-1.1h0m1.6-1.2h0m-.3,2.3h0m8.5-1.6h0m3.1,.4h0m2.6,.3h0m-.5-.2h0m3.4-.4h0m2.1-.1h0m1.2,.7h0m25.5-.6h0m8.9-.4h0m.3,.4h0m7.1-1.8h0m.8,1.3h0m4.5,1.3h0m2.1-.8h0m2.5,.2h0m2.2,.1h0m.4-1.8h0m7.8,.3h0m1.9,.5h0m2.7,2.3h0m-147.7,.5h0m1.6,.8h0m7.6-1.6h0m2.7,1.6h0m7-.7h0m3.4,0h0m9.3,1h0m3.4,.1h0m3.6-.7h0m9,1.1h0m8.6-.5h0m3.7,0h0m9.9-1.9h0m5.1,1.6h0m3.8-1.9h0m3.3,.6h0m24.7-1.2h0m1.7,.1h0m3.5,1.6h0m2,.1h0m8.7-1.2h0m10.4,.8h0m11.1,0h0m3.1,1h0m1.7-1.7h0m-135,3h0m1.3-1.3h0m6.5,1.6h0m3,0h0m5-.4h0m4.1-.2h0m5.3,.5h0m2,.9h0m17.8-1.7h0m6.3-.7h0m16.7-.2h0m1.7,1.2h0m17.1,.1h0m5.9-1h0m2.5,.6h0m.6,0h0m14-1.2h0m17.8,2.7h0m9-1.2h0m.8,.1h0m-138.3,2.4h0m1.2-2.4h0m32.4,2.4h0m-.5-.7h0m6.9,.7h0m3.9-2h0m9.1,2.5h0m17.2-.7h0m.9,1.9h0m2.7-3.6h0m12.5,.8h0m9.8,1.5h0m31.3-1.1h0m1.3,.9h0m-136.6,.7h0m29.5,.7h0m3-.4h0m10.3-.1h0m3.6-1.5h0m-.5,.4h0m5.3,.9h0m.6,2.1h0m7.7-2.7h0m2.7,1.1h0m2.6-1.3h0m15.6,1.6h0m12.7-.2h0m-91.8,1.7h0m7,.6h0m.9-2.1h0m1.6,.9h0m.4,.9h0m3.4-.4h0m16.9,.7h0m17.7-.4h0m1.6-.5h0m25.2-.2h0m14-.3h0m37.3,.5h0m-.7,.1h0m7.8,.7h0m-103.9,2.1h0m19.2-.7h0m32.1-.5h0m19.9,1.2h0m1.5-.4h0m22.6,.4h0"/>
</g>
<rect x="196" y="508.2" width="105.4" height="19.6" fill="#fff" stroke="#555" stroke-width="1.1"/>
<text x="248.7" y="522.3" font-size="12.6px" text-anchor="middle">Network break-up</text>
<rect x="329.6" y="560.9" width="163.6" height="55.4" fill="#f0fcfc" stroke="#2a2a2a" stroke-width="1.2"/>
<g fill="none" stroke-linecap="round">
<path stroke="#12c4d0" stroke-width="2.6" d="M335.4,565h0m22.2-.5h0m8,.6h0m51.6-.5h0m5.8,.5h0m23.8-.6h0m21.3,.6h0m20.9-.5h0m-152.4,1.4h0m15.2,0h0m2.5,.5h0m7.1-.2h0m10.8-.4h0m8.1,.9h0m9.8-.9h0m11.7,.6h0m4.7-.1h0m1.3-.7h0m4.6-.1h0m5.2,.3h0m5.7,.8h0m4.5-.7h0m7.2-.5h0m1.4,.7h0m8.5,.4h0m7,.1h0m14.2-.3h0m5.9,.5h0m8.6-1.4h0m.9,0h0m2.2-.1h0m2.3,.6h0m-146.9,2.7h0m4.2-.3h0m3.6-.6h0m4.4,.7h0m4.5-.4h0m1.9,0h0m4.5,.3h0m1.3-.6h0m2.5,.3h0m2-.4h0m1.6,1.1h0m12.2-.4h0m2.2-1.1h0m1.6,1.2h0m16.3,.1h0m5.4-.1h0m4.1,0h0m9.7-1.1h0m7,.3h0m4.1,.3h0m5.6,0h0m5,.7h0m1.6-.6h0m10.5-.2h0m4.7-.1h0m2.3-.1h0m2.5,.5h0m6.1-.6h0m3.5,1.3h0m4-1h0m3.8,.3h0m1.8-.5h0m-143.6,2.5h0m14.1,.6h0m16.6-1h0m5,.5h0m9.4-.7h0m25.4,1.1h0m1.2-1.1h0m10.5-.3h0m.9,1.1h0m3.9-.6h0m1.5,.1h0m3.5,.9h0m2-1.1h0m7.4,.3h0m8.6,.3h0m9.5,.2h0m1,.2h0m5.1-1.1h0m6.2,.5h0m6.1-.5h0m4.4,.2h0m-144.9,2.7h0m4.8-.8h0m3.7,.2h0m6.5,.2h0m2.7-.8h0m2.5,.7h0m4.4-.1h0m1.9,.8h0m4.9-.4h0m8.2-1h0m1.4,.2h0m3.8,.6h0m1.4-.8h0m10.6,.9h0m3.3-.7h0m2.2,1.2h0m4.9-.5h0m3.6-.2h0m3.5,.3h0m4.7-.9h0m21.7,1.2h0m2.4-.4h0m6.5,.3h0m3.8,.1h0m3.6-.7h0m13.9,.2h0m.9-.7h0m2.5,.6h0m2.4-.9h0m1.9,1.3h0m-142.7,.8h0m5.1,.5h0m5.1-.4h0m5.7,.9h0m1.9-.7h0m1.7-.3h0m54,.2h0m3.9,.6h0m3.8,.3h0m1.3-.4h0m13.7,.5h0m9.2-.7h0m4-.7h0m1.5,1.1h0m1,.5h0m5.4-1h0m1.7,.1h0m5-.7h0m6.5,.9h0m3.1-.4h0m-127.1,3h0m1.9-.8h0m5.2-.2h0m2.6-.3h0m2.6,.7h0m1.2-.2h0m2.9,.5h0m3.5,.3h0m3.5-1.1h0m1.5,.4h0m3.6-.2h0m3.5,.5h0m.7-.5h0m4.1-.1h0m3.4-.3h0m3.2,1.2h0m5.5-.6h0m3,.7h0m5.2-.9h0m7.8,0h0m5.1,.8h0m3.1-.4h0m9.6-.8h0m15,.3h0m3.7,.7h0m6.4-.5h0m8.2-.8h0m2.2,.2h0m3.1-.2h0m17,1.7h0m1.7-.4h0m3.4-.7h0m-149.1,2.2h0m8.1,.3h0m11.3-.6h0m1.1,.9h0m1.9,.1h0m2.4-.3h0m11.5-.7h0m2.1,.2h0m.8-.7h0m2.9,.1h0m4,.4h0m9.9-.6h0m4.6,.9h0m1.9-.7h0m6.3,.1h0m5.1,.9h0m2.5-.6h0m4.5-.2h0m12.5,.9h0m2.1-1.1h0m14.6-.2h0m3.9,1.1h0m4.4,0h0m11.2,.6h0m8.6-1.4h0m4.7,1.1h0m5.5-1.1h0m1.3,.5h0m3,.8h0m-151.3,.5h0m3.9,1.3h0m3.3-.3h0m4.8-1.2h0m3.8,.8h0m4.8,.2h0m3.2,.2h0m14.3,.4h0m7.5-1.6h0m9.4,.9h0m5.2-.9h0m4.5,1.3h0m4.6-.1h0m4.3-.3h0m19.2-.3h0m2.7,.4h0m10.8,.3h0m4.9-.7h0m3.8-.6h0m2.5,1.4h0m1.1-1.3h0m1.6,1h0m5,0h0m2.8,.5h0m2-.8h0m5.1-.1h0m5.7,.3h0m6.3,.3h0m4.4-1.1h0m-144.7,3.1h0m.7-.9h0m2.7,1.1h0m4.1-1h0m10.8,.2h0m3.1-.4h0m6.3-.2h0m2.1,.9h0m5.7,.3h0m3.4-1.2h0m15.7,0h0m5.4,1.2h0m7.6-1.1h0m6.2,1.1h0m.8-.3h0m3.4-.1h0m12.4-.9h0m10.3,.6h0m5,.9h0m4-1.5h0m3.3,1.3h0m2.6-.8h0m5.2,.8h0m5.7-.9h0m6,.4h0m2.3,.7h0m1.4-.8h0m4.4-.6h0m2.4-.2h0m3,.5h0m1,.9h0m-155.2,1.5h0m7.3-.1h0m4.1-.3h0m3.4,.8h0m18.3,0h0m3.8-.5h0m17.6-.3h0m9.4-.5h0m2.7,.3h0m2.1,.2h0m5.9,1h0m17.6-1.1h0m9.3,1h0m1.1-.1h0m10.7-.9h0m3.9,1h0m1.8-.9h0m1.2-.3h0m4.4,.5h0m4.7-.1h0m2.4,0h0m2.3-.6h0m7.2,.7h0m4.8,.8h0m4.9-1.2h0m-149.2,2.3h0m13.4,.3h0m11.7,.5h0m4-1.1h0m7.7,.7h0m5.7-.4h0m8.9,.8h0m1.2-.7h0m5.8,0h0m4.5-.4h0m17.5,.6h0m5.5,.4h0m3.4-.2h0m10.1-.9h0m16.9,1.2h0m6.6-.9h0m6.1-.6h0m2,.6h0m9.6-.6h0m6.4,.2h0m4.7,0h0m-149.9,2.9h0m1,.2h0m5.6-1.4h0m9.4,.4h0m2-.3h0m1.5-.1h0m2.8,.6h0m3.4,.8h0m3.3,0h0m4.8-1.2h0m13.7-.3h0m1.7,1.5h0m5-.6h0m1.8-.4h0m25.7,.3h0m3.2,.3h0m4.4-.6h0m4.3,.2h0m6.5,.1h0m5.2,.8h0m9.1-1.2h0m1.9,.7h0m3.4,.5h0m1.5-1.3h0m1.1,.1h0m2.3,.4h0m1.1,.3h0m9.2,0h0m6.9,0h0m5.9-.3h0m3.3-.1h0m-146.2,1.8h0m.5-.6h0m7.8,1.2h0m2.5-1.1h0m16.8,1h0m6,.3h0m17.3-.4h0m4.5-.3h0m3.3,.4h0m1.1-.5h0m3.5,.9h0m2.8-1.4h0m1.7,1.6h0m2.2-.2h0m3.8-1.2h0m6.3-.3h0m7,1h0m5.9-.8h0m10.4,1.1h0m4.5-1.3h0m.6,0h0m7.8,1h0m2.2-.5h0m1.8-.4h0m3.6,1.2h0m18-.8h0m-150.8,1.6h0m1.7,1h0m14.6,0h0m14-1h0m5.9,.3h0m1.6,.9h0m9.9-1.1h0m5.6,.6h0m.9,.1h0m13.2-.9h0m2.3,.7h0m3.3-.2h0m7.6-.4h0m2.7-.1h0m2.9,.3h0m2.7-.4h0m4.3,.7h0m3-.2h0m15.3,.5h0m2.8,.3h0m4.5-.7h0m2.4,.8h0m3.8-.8h0m11.9,.3h0m3.6-.9h0m6.4,.2h0m-134.9,2.4h0m9.5,.7h0m2.8-.5h0m10.9,0h0m.9,.3h0m6.1-.3h0m5.9-.3h0m3.2,.3h0m3.9,.2h0m8.2,.4h0m2.8-.6h0m9.7,.7h0m10.8-.2h0m6.6-.4h0m7.2-.8h0m19.3,.4h0m6.4,.2h0m1.6,.8h0m7.5-.2h0m15.7-1.3h0m-147.8,2.6h0m7.4,0h0m2.8-.2h0m12.4,.2h0m2.8-.1h0m3.6-.1h0m4-.6h0m.9,1.4h0m2.4-.1h0m7.9-.4h0m1.7,.1h0m7-.2h0m6.1-.6h0m6,.5h0m3.7,0h0m5.8,.6h0m16.5-.6h0m9.8-.4h0m33.1,1.2h0m1.4-1.1h0m9.4,.3h0m-135.7,2.8h0m1.2-.4h0m3.9-.7h0m2.4-.2h0m8.6-.2h0m2.1,1.6h0m6.2-1.5h0m5.5-.2h0m1.6,.9h0m4.2-.3h0m1.3,.5h0m4.2-.8h0m10.3,1.2h0m1.1-.5h0m2,.4h0m2.2-1.3h0m9.9,.1h0m.6,0h0m5.9,.7h0m2.8-.1h0m2.9,.6h0m3.6-.1h0m13.6-.9h0m9.1,.7h0m4.9-1.1h0m5.5,.5h0m5.9-.3h0m2.3-.2h0m9,.7h0m6.4-.6h0m-148.5,2.7h0m17.9-.7h0m2.3-.1h0m6.1,1h0m2.3-.6h0m17.3,.1h0m7.4,.8h0m5.6,.1h0m6.9-1.4h0m1.1-.1h0m7,.8h0m8.8,.6h0m4.5,.2h0m2.5-.8h0m2.3,.4h0m1.9-1.1h0m10.2,.1h0m3.1,.3h0m9.6,.1h0m3.2,.3h0m3.5,.2h0m8.2-.2h0m3.3-.4h0m3,.7h0m6.4-.2h0m-144.2,2.4h0m4.2-.1h0m4.4-1.1h0m3.5,.3h0m5.6,1h0m10.5-.3h0m6.6,.1h0m5.7-1.1h0m33.3,.4h0m8.6,.2h0m10.7-.8h0m3.8,.6h0m15.3-.4h0m1.3,1.1h0m10.4-1.4h0m3.4,.7h0m5.6,0h0m3.4,.9h0m1-.4h0m-135,1.7h0m2.5,.5h0m11.8,.1h0m12.1-.2h0m1.7-.8h0m2.2,.7h0m3.4-.8h0m1.7,0h0m3.7,.7h0m4.6-.1h0m1.3-.5h0m2.4-.4h0m12.4,1.5h0m2.1-.6h0m11.8,0h0m10.3,.3h0m7.8-.1h0m5.5-.7h0m.8,.1h0m7.6-.4h0m8.3,.8h0m3.8,.2h0m2.3-.7h0m.8,.6h0m3.5-.3h0m4.6-.4h0m4.4-.2h0m2.6,1.2h0m9-1.2h0m5.3-.2h0m-154.6,3.1h0m7-.7h0m1.7,.1h0m3.6,.9h0m2.2-.2h0m3.9-1.1h0m8.8,1.2h0m2.1-.2h0m11.8-.3h0m16.9-.7h0m4.8-.3h0m.4,.2h0m3-.2h0m5.8,.5h0m3.2,1.1h0m16.7-.3h0m2.4-.3h0m4.5-.8h0m3.8,.5h0m3.3-.7h0m25,.9h0m6.7-.7h0m2.1,.7h0m5.6-.9h0m2.2,.8h0m-143.6,1.5h0m2.7,1.2h0m6.4-.2h0m6.5,.2h0m8.7-.5h0m3.1-1.1h0m.9,.9h0m4.6-.9h0m4.2,.8h0m8.3,.5h0m13.2,0h0m17.4-.6h0m6.2,.5h0m10.9-.2h0m3.3-.5h0m4.7,.2h0m5.3,.6h0m2.1-1h0m10.8,.2h0m26.9,.1h0m-144.4,2h0m9.2-.5h0m1.2,.2h0m1.5,1.2h0m5.1-1.1h0m5.4-.5h0m1.1,1.2h0m7.3,.2h0m3.3-.2h0m3.4,.1h0m2,.3h0m7.4-.9h0m2.5-.4h0m.6,.9h0m4.3-.1h0m1.7-.3h0m1.5-.8h0m8.1,.9h0m6.4-.7h0m4.6,1.1h0m4.7,.1h0m9,.2h0m13.8-1.1h0m2.7-.4h0m11.4,1.5h0m25.5-.1h0m-150.7,1.6h0m3.9,.1h0m3.6,0h0m8.2-.2h0m1.9,.1h0m3.7-.6h0m6.6,.3h0m11.2-.6h0m6.5-.3h0m17.5,0h0m12.2,1.5h0m5.4-1h0m4.9,.1h0m1.9,.5h0m8.4-.5h0m12.6,.2h0m1.7-.7h0m5.1,1.5h0m7.8-.9h0m7.8-.5h0m12.1,.5h0m-138,2.4h0m3.7,.2h0m2.8-1.1h0m4.7,1.1h0m11.1-1.3h0m1.3,1h0m2.9-.9h0m5,1.2h0m4.5-1.1h0m2.6,0h0m2.5,.2h0m2.8-.3h0m2.6,.5h0m11.4,0h0m10.4-.5h0m4.1,1.4h0m5.3-1.3h0m6.8,1.1h0m11.5,0h0m5.5,.2h0m9.9-.5h0m20.9-.7h0m4.6,.3h0"/>
<path stroke="#2aeef0" stroke-width="2.6" d="M359.4,564.6h0m89.9,.4h0m6.9-.2h0m7.2,.3h0m-125.1,1.7h0m7.7,0h0m19.7,.1h0m2.7-.7h0m15.5,.4h0m.9,.2h0m2.4-.1h0m1.5-1.1h0m7.3,1.1h0m5.1-1.2h0m3.2-.1h0m5.1,.2h0m9.8,.6h0m38.1-.4h0m-103.8,1.5h0m17,1.4h0m6.8-.3h0m1.7,0h0m2.2-1h0m11.3-.1h0m1.8,.4h0m5.5,1.1h0m3.5-.8h0m5.1-.7h0m7.1,.6h0m3-.2h0m4.9,.7h0m2.3-.5h0m4.9,0h0m10.4-.3h0m15.4,.3h0m9.5,1h0m6.1-.3h0m3.1-1.1h0m3.8,1h0m-142.5,2.3h0m2.2-.6h0m3.8,.5h0m3.4,0h0m5.1-.4h0m1.6-.3h0m9.3-.6h0m17.4,1h0m11.4-.7h0m16.3,.9h0m13-1h0m5.1,1.1h0m11.7-.3h0m1.9-.1h0m2.4-.6h0m3.3,.3h0m2.2,.7h0m7.7,0h0m2.9-1.5h0m5.7,.4h0m6.4,.1h0m8,.5h0m3.4-.8h0m3,.9h0m4.8-1.1h0m-153.2,2.7h0m4.8,.2h0m10.3-.7h0m21.2,.3h0m1.7-.5h0m6.7,1.2h0m21.1-.2h0m2.8-.1h0m10-.5h0m6.8-.4h0m5,.5h0m3,.7h0m.8-1.1h0m4.9,.8h0m5.5,.3h0m3.1,.2h0m1.6-.3h0m12.1-.2h0m1.5-.4h0m1.5,.4h0m3.4,0h0m18.4-.5h0m5.8,0h0m-152.2,1.7h0m4,.7h0m2-.6h0m15.6,.7h0m1.6,.4h0m3,.1h0m1.4-.7h0m2,.5h0m2.2-1h0m2.8,.6h0m2.4,0h0m3.5,.4h0m4.2-1.1h0m1.2,.9h0m7.7-.1h0m4.5,.3h0m2.1-.3h0m1.8-.4h0m5.4,0h0m1.6-.1h0m3.6,.5h0m9.5-.1h0m14.4,.4h0m8.3-1.2h0m28.5,.8h0m1.8,.1h0m12.4,.4h0m4.9-1.1h0m-149.8,2.8h0m6.7-.4h0m3.8,.2h0m10.2,.2h0m16.5-.3h0m35.3-.7h0m7.1,0h0m7.6,.6h0m3.2,.2h0m4,.3h0m1.3-1h0m6.3,.6h0m4,.6h0m.8-1.4h0m4.2,.7h0m13.2,.5h0m4-.5h0m2.9-.5h0m5.3,1.1h0m6.7-.1h0m3.8-1.3h0m-145.9,2.1h0m9.1,.7h0m1.3,.3h0m13.8,.3h0m3.5-.4h0m1.1,.4h0m15.3-1.1h0m1.7,.2h0m3.3,.1h0m1.9-.2h0m2.9,.1h0m5.7-.1h0m7.7-.3h0m6.4,1.3h0m5.8-1h0m1.9,.8h0m3.3-.7h0m7.9,0h0m4.1,.9h0m2.4-.4h0m3-.5h0m4.5-.6h0m10.5,.6h0m1,.1h0m1.9-.7h0m2.5,1.3h0m4-1.3h0m9.2,1.2h0m4.5-.5h0m-145.7,1.1h0m11.3,1.3h0m14.1-.7h0m3.7,.1h0m9.4,.7h0m6.4-1h0m7.1,.4h0m3.7-.1h0m5.2,.2h0m7.3,.5h0m10.9-.3h0m6.9-.5h0m2-.6h0m.6,.9h0m8.2-.6h0m3.7,0h0m2.3,1h0m8.8-1.3h0m4.8,.2h0m12.8,1h0m5.3-.7h0m11.2-.2h0m9.4,.4h0m-148.9,1.8h0m8.4-.1h0m3.6,0h0m2.2-.3h0m5,1.4h0m3.6-1.3h0m5.6,.5h0m20.8,.6h0m3.6,.2h0m13-1.1h0m2.2-.5h0m24.2,1.4h0m9.3-.3h0m9.8-1.1h0m2.8,.4h0m5.7,.9h0m-116.1,1h0m1.4,.3h0m5.2,.2h0m5.7-.5h0m3.1,1.2h0m9.9,0h0m6.6-1.3h0m3.5,.5h0m10.8-.4h0m4.7,.3h0m2.6-.7h0m32.6,.3h0m4.7-.1h0m15.5-.1h0m6.4,.5h0m15.9-.4h0m-130.3,3h0m2.7-.2h0m8.2-.9h0m3.1,.5h0m6.7,.7h0m3.7-.3h0m2.4-.1h0m2.5,0h0m3.9-.8h0m1.6,.6h0m7.3,0h0m12.8-.8h0m8.7,1.6h0m5.2-1.4h0m16.7,.2h0m3,.3h0m1.3,.3h0m8.9-.1h0m6.3,.7h0m9.7-.9h0m1-.1h0m3.7-.1h0m3,.8h0m4.4-1.1h0m2.3,.2h0m3.4,.4h0m-132.7,1.8h0m5.2,.2h0m1.9-.6h0m4.2,1.1h0m13.7,0h0m8.4-.8h0m2.3-.4h0m4.2,.4h0m.7-.5h0m6.3,0h0m7.8,1.1h0m2.2,.2h0m1.2,.1h0m2.8-1.1h0m4.9,1.2h0m2-.7h0m3.4,.4h0m3.6-.8h0m3.7,.2h0m22.4,.5h0m7.7-.9h0m16.7,0h0m2.2,.8h0m14.1-.8h0m-142.8,1.9h0m5.4,.8h0m15.6-1.1h0m5.1,.4h0m2,1h0m3.2-.2h0m7.8-.2h0m3.6,.6h0m2.2-1h0m2.5,.1h0m7.6-.5h0m10,.2h0m13.1,.2h0m9.7,1h0m4.4-1.4h0m9.7,0h0m12.1,1.2h0m1.7-1.4h0m9.5,1.3h0m5.2-.6h0m1.8,.1h0m6.4-.7h0m2.4,.4h0m5.9-.3h0m-148.5,2.3h0m5,.6h0m3.3,.3h0m6.1-1.3h0m.4,.1h0m2.4-.1h0m6.8-.2h0m10.7,1.1h0m1.1,.1h0m7.8-.5h0m16.4-.3h0m7.7,1.1h0m4.8-1.2h0m1.6,0h0m12.1,.3h0m14.3,1h0m5-1.2h0m7.1,.6h0m5.2,.6h0m6.4-.9h0m8.5,.8h0m8-1.2h0m6,.9h0m-143.9,1.2h0m39.1,.8h0m4,.3h0m7.3-1.4h0m2.7,0h0m14,.3h0m15.4,1.2h0m5-.1h0m12.2-1.4h0m15.3,1.4h0m7.2-.5h0m7.2,.5h0m15.5-.8h0m-145.7,1.5h0m2.6,1.1h0m12.3-.8h0m1.9-.3h0m10.7,.7h0m26.8-.5h0m3,.9h0m2.4-1h0m3,.8h0m4.5,0h0m.9-.2h0m4.3-.9h0m1.4,.9h0m2.8,.4h0m1.4-.1h0m16.2-1.4h0m12.8,.4h0m8.1,1.1h0m7.1-.7h0m2.1,.2h0m8.2-.8h0m12.2,.2h0m2.7,.5h0m1.7,.2h0m-150.8,2.4h0m4.6-.3h0m18-1.3h0m4.4,1.2h0m40.5-1h0m1.5-.2h0m9.5,1.1h0m6.4,.4h0m3.3-1.2h0m7.4,0h0m3.2,.5h0m3.7,.1h0m4.1,.1h0m12.1,.4h0m5.7-1h0m2.8,.8h0m4.3-.5h0m12.3,.9h0m4.1-1.4h0m1.5,0h0m-142.8,2.2h0m5.1-.5h0m10.7,0h0m14.4,1h0m1.6,.3h0m3.5-.5h0m6.3,.4h0m7.2-.7h0m4.8,.5h0m9.8-.8h0m4.1,.9h0m8.1-.1h0m11.3-.5h0m2.8,.1h0m2.9,.1h0m1.7-.1h0m9.1,0h0m1.7,.2h0m4.7,.6h0m7.8-.4h0m3.5-.6h0m2.7,.9h0m9.1-.5h0m1.5,.4h0m7.9-.5h0m-148,2.2h0m17.5,.2h0m9.2-1h0m1.7,.5h0m11.1,.7h0m3.9-.9h0m5.4-.4h0m11-.1h0m1.1,.2h0m3.9,.2h0m7.2,.7h0m4.5-.1h0m1.8,.2h0m5.3-.6h0m1.7,.3h0m1.9-.8h0m12,.4h0m4,.3h0m.7,.4h0m9.9,0h0m13.4-1.2h0m10.1,.6h0m5-.3h0m2.6,.6h0m4,.7h0m-155.2,1.3h0m3.7-.4h0m10-.1h0m8.6,1h0m6-.5h0m1.2,0h0m9-.8h0m5.3,.6h0m3.2-.3h0m8.6-.2h0m.5,1.2h0m3.1-1h0m3.7,.1h0m2,.6h0m5.6-.1h0m.9,.1h0m7,.2h0m5.3-1.3h0m1.8,0h0m1.1,0h0m11.8,1.2h0m7.6-.9h0m2.6,.3h0m1.8-.1h0m5.2,.3h0m2.6-.7h0m3.5,.5h0m8,.9h0m14.1-1.4h0m2.3,.5h0m1.9-.4h0m3.7,.4h0m1.4-.2h0m-147.4,1.4h0m12.5,1.2h0m8.4-.2h0m8.8,.6h0m2-.8h0m1.4-.3h0m1.5,.4h0m12.8-.5h0m3.1,.9h0m.9,.1h0m11.6,.1h0m5.9-.6h0m3.6-.1h0m2.3-.4h0m2.2,.3h0m6.7,.9h0m18.8-1.5h0m4.8,.1h0m2-.2h0m1.7,.4h0m1.6-.4h0m8.7,.6h0m8.4,1h0m1.5-1.3h0m7,.7h0m1.1,.1h0m8.6-.2h0m-151.5,1.2h0m.8,.3h0m6.2,.5h0m4.2,.6h0m4.8-1.1h0m5.8,1.1h0m2.8-1.2h0m8.4-.4h0m7.7,.4h0m4.6,.3h0m1.4-.6h0m13.8,1.4h0m11.9-.3h0m8.4-.1h0m7-.2h0m10.8,.7h0m17.4-1.2h0m1.9,1h0m9.1,.1h0m2.6-.7h0m1.9,.7h0m.8-.4h0m1.7,.5h0m5.5-.2h0m2.9-.4h0m5.3-.6h0m3.2,.7h0m-152.1,2.2h0m2.4-.3h0m1.5-.8h0m5.3,.7h0m1.4-.1h0m9.6,.4h0m28.7-1.2h0m9.6,.8h0m7.2-.8h0m7.9,.4h0m5.5,.9h0m1.8,0h0m9.5-.4h0m2.4-.9h0m13.4,.5h0m5.9,.5h0m5.1,.5h0m9.8-.7h0m5.9,.6h0m11.7-.1h0m-144,2.1h0m9.5-1.6h0m1.5,.5h0m5.9,.3h0m5,0h0m.3,.1h0m8.9,.6h0m3.7-1.1h0m5,.6h0m5.6,.5h0m1.5,.1h0m16.8-1.1h0m4.6,.3h0m2.1-.2h0m1.4,.4h0m7,0h0m3.5,.6h0m5-.4h0m1.7-.3h0m1.6-.3h0m2-.6h0m6.8,.7h0m4.6,.6h0m19.5-.5h0m2.7,0h0m1.6,.5h0m6.8-.1h0m2.6-.3h0m1.1-.3h0m5.6,.2h0m5,.4h0m1.9-.4h0m1.4,.4h0m-143.2,.8h0m10-.1h0m2.9,1h0m34.6-.9h0m20.6-.1h0m2.1,.3h0m24.2,.8h0m10.6,.4h0m2.6-1.2h0m8.1,.9h0m18.8-.5h0m6,.7h0m4.4-.5h0"/>
<path stroke="#0aa0b8" stroke-width="2.6" d="M354.4,564.6h0m6.7,.5h0m74-.3h0m50.1-.2h0m-136.2,1.9h0m8.5,.2h0m.7-.4h0m23.8-.2h0m39.2-.7h0m4.1,1.3h0m3.3-.8h0m2.4,.7h0m6.8-.3h0m2.1-.9h0m2.6,1.6h0m2.7-.4h0m2.2-.8h0m1.9,.6h0m4.9,.1h0m2.1-.4h0m12.3,.6h0m2.9-.9h0m6.2,1.2h0m-143.5,1.8h0m2.6-.3h0m6.8-.1h0m54.8,.3h0m14.5-1.2h0m9.4,1.1h0m17.5,.3h0m11.8-.5h0m7.1-.8h0m26.7,.3h0m-142.5,1.9h0m13.1,.4h0m4.9,.1h0m2.6-1h0m4.2,1.1h0m4.7-.7h0m5.3-.4h0m23.1-.1h0m2,.6h0m1,0h0m3.6,.4h0m43.7-1.1h0m4.8,.3h0m11.4,1.2h0m3.9-.9h0m-122.9,3h0m11.8-.7h0m5.7-.3h0m.8,.6h0m22.2,0h0m2.5,.3h0m4.6,.1h0m11-1.6h0m17.6,.4h0m10.4,1h0m17.8,.1h0m25.3-.4h0m7.6-1.1h0m-138.2,2.4h0m6.9-.1h0m19.3,.4h0m3.3,.2h0m22,.5h0m20.1-.6h0m6.6,.1h0m10.8,0h0m16.8-.5h0m12.4-.1h0m7-.1h0m3.3-.1h0m2.2,.6h0m2.3,.5h0m3-.3h0m-145.5,1.5h0m23.1,1h0m24.4-.3h0m17.5-.7h0m12.5,.4h0m3-.5h0m2.6-.5h0m5.4,.9h0m26.2-.8h0m11.3,.6h0m10.9-.4h0m-138.1,3h0m2.5-.2h0m3.9-.2h0m17.9,.4h0m15.8-1.2h0m23,.6h0m4.8,0h0m17.2-.4h0m14.4,.6h0m17.2,.6h0m15.8-.2h0m10.3-.4h0m-142.1,1.4h0m17.1-.1h0m15,1.2h0m8-1.6h0m9.1,.6h0m4.5,.1h0m6.2,.3h0m10.6-.5h0m8.4,.4h0m7.1,.3h0m3.2-.1h0m17-.6h0m29.3,.6h0m4.3,.1h0m-142.1,2.2h0m2.4,0h0m28.4-1h0m7.8,.5h0m6.4,0h0m4.3,.3h0m9.5-.1h0m31.2,.2h0m2.1-1.3h0m18.3,.2h0m16.2,1h0m5.8-.6h0m4.4,.2h0m7.7,.7h0m4.7-1.6h0m-147.3,3.2h0m14.5-1.1h0m13.8,.7h0m8.4,.4h0m6.9-.8h0m5.3,0h0m6,.6h0m25.4-.6h0m24.7-.4h0m18.3,1.4h0m13.2-1.4h0m4.2,.5h0m2.8-.5h0m-135.8,3h0m2.4-1.2h0m10.9,1.2h0m22.8-.1h0m9.8,.5h0m3-.4h0m6.8,.1h0m7.6-.7h0m6-.4h0m4.8,1.2h0m14.4,0h0m3-.1h0m11.5,.1h0m2.8-.4h0m2.8-.3h0m18.8,.1h0m9-.3h0m2.6-.5h0m-141,2.5h0m18.6-.2h0m17.6,.8h0m11.6-.1h0m13.1-.3h0m11.9-.1h0m8.7,.3h0m3.2-.4h0m3.2,.2h0m15.8-.1h0m27.7,.5h0m12.6-.9h0m-131.7,2h0m19.6,1.1h0m13.6-.1h0m8-.7h0m24.1-.6h0m1.4,.7h0m3.7-.4h0m11.7-.2h0m31.1,.5h0m8.1,.7h0m-139.8,1.5h0m4.5-.6h0m16.5,1.1h0m2.3-.1h0m4.8-1.1h0m2.5,.8h0m17.6,.1h0m6.8-.4h0m27,.1h0m19.3,0h0m11.3,.2h0m26.4-1.2h0m-141.9,2.3h0m4.5,.2h0m5-.2h0m4.5,.9h0m4.9-.9h0m4.9-.2h0m3.2,.6h0m1.1,.4h0m2.2-.2h0m9.4,.6h0m25.3-.4h0m5.1-.1h0m12.5-.7h0m4.9,0h0m3.4,1.2h0m6.8-1.4h0m19.3,1h0m7.2-1.1h0m9.1,1h0m11.2,.3h0m4.3-.5h0m6-.2h0m-150.4,1.6h0m10.3,.5h0m72.8-.4h0m1.7,.9h0m3.3-1h0m3.7,.6h0m10.3,.5h0m1.6-1.2h0m3.9,1h0m2.6-.8h0m1.9-.2h0m2.4,1.3h0m4.2-.6h0m2.2,.5h0m9.7-.4h0m13.8-.9h0m-147.8,2.6h0m5.1,0h0m2.2,.8h0m15.7-1.1h0m10.7,.5h0m3.1,0h0m7.4-.9h0m37,1.4h0m14.5-.4h0m7.3-.1h0m12.3-.4h0m3.5,.4h0m6.5-.7h0m12,.6h0m-124,1.8h0m4.7,.3h0m4.5,.3h0m14.2-.7h0m6.8,.5h0m27-.4h0m1.2-.7h0m41.2-.1h0m36.7,.8h0m-140.6,2h0m3.7-.1h0m5.1-.8h0m10.7,1h0m6.6,.1h0m4.5-.7h0m11.2,.9h0m2.2,.1h0m3.2-.6h0m3.5-.3h0m11.7,.3h0m2.3-.7h0m5.9,.2h0m16.2,1.2h0m6.5-.1h0m2.8,.1h0m6.5-.5h0m9.2-.3h0m22.2,.9h0m-135.2,.8h0m6.2,.2h0m1.6,.8h0m44.4-1.2h0m12,.4h0m7.7-.7h0m19.1,.1h0m32.4,.7h0m8.4,.8h0m-139,1.3h0m19.7-.2h0m23.2,.6h0m1.1,0h0m2.2-.3h0m13.6-.9h0m9.1,1.3h0m15.3-.7h0m1.3,.2h0m39.7,.5h0m6-.8h0m17.3-.1h0m-139.6,2.2h0m6.2,.3h0m6,0h0m5-.6h0m37.6,0h0m3.2,.1h0m10.1,.4h0m6.6-.8h0m8.8,1.3h0m2.8-.1h0m7.2-.2h0m10.7-.4h0m30.5,0h0m10.4-.1h0m-147.4,2.6h0m6.1-.8h0m10.9-.4h0m2,.6h0m10.1-.4h0m10.2-.3h0m23.9,1h0m5,0h0m10.3-.9h0m3.3,1.2h0m10.6-.9h0m7.9,.1h0m8.2-.4h0m-111.1,1.7h0m31.5,.2h0m13-.3h0m3.6,.4h0m6.7-.1h0m5.5,.4h0m2.7,.7h0m33.9-.7h0m9-.7h0m6.5,.3h0m1.8,.1h0m23.5,.1h0m-137.5,2.1h0m16.3,.7h0m2.1-.9h0m26.4,.9h0m4.7-1h0m5.1,1.2h0m4-.4h0m1.9,.1h0m4.9-.8h0m22.8-.5h0m17.3,.7h0m18,0h0"/>
<path stroke="#09728a" stroke-width="2.4" d="M347.4,564.9h0m94.4-.5h0m33,.1h0m-135.6,2.1h0m3.5-1h0m10.2,.5h0m17,.7h0m5.4,.1h0m19-.9h0m4.3,1h0m34.5-.2h0m27.8-.9h0m2.6,.4h0m11.5-.6h0m1.1,.7h0m11.2-.3h0m-147.1,2.4h0m7.5,.2h0m12.7,.2h0m12.4-.6h0m2.5-.8h0m12.1,1.1h0m3.1-.2h0m26.2,.1h0m17.7-.3h0m1.2,.4h0m13.2-.8h0m4.5-.5h0m14.8,.4h0m19.4,1h0m-139.9,1.9h0m10.3-.8h0m7.6,.4h0m8.8,.6h0m14-.2h0m4.9-.1h0m6,.2h0m15.4,.1h0m.5-.4h0m2.2,.3h0m13.6-.4h0m43-.5h0m12.3,.9h0m-146.8,1.7h0m5.4-.1h0m8.8,.4h0m36.2-.9h0m22.5-.4h0m6.6,.7h0m13-.1h0m16.2,.4h0m15.7-.5h0m2.8-.4h0m13.3,.7h0m3.6-.6h0m-138.3,1.7h0m22.5-.2h0m22.7,0h0m10.1,.4h0m10.7,.5h0m16.6-.4h0m4.5,.6h0m15.3,.4h0m8.3-1.2h0m4.1-.4h0m2.1,.1h0m23.1,1.4h0m-118,.5h0m10.9,.5h0m5.7,.2h0m6.5,.7h0m4,.1h0m1.2,0h0m4.8-.2h0m.9-1h0m5.1,.9h0m22.8,.2h0m6.7-1.1h0m19.6-.3h0m14.3,.4h0m2.8,1h0m13.9-.8h0m-141,1.2h0m18.6,.5h0m49.5,.6h0m11.6,.5h0m7.8-.9h0m34.6-.2h0m3.3,.7h0m-129.5,1.2h0m8.1,.7h0m14.7-.5h0m.5-.3h0m2.8,1.1h0m6.7,.1h0m8.1-1.5h0m20.3,1.5h0m9.3-.6h0m46.1,.1h0m13.3,.1h0m9.5-.6h0m4.4,.2h0m-129.6,2.3h0m19.4-1h0m16.3-.2h0m7.2,.9h0m1.7-.6h0m20.6-.2h0m7.6,1.5h0m6.3-.7h0m1.1,.7h0m-76.9,.9h0m3.5,.3h0m1.8,.6h0m12.6-.2h0m30.3-.3h0m8.5-.1h0m2.3-.6h0m2.3,.3h0m8.7-.3h0m2.9,.4h0m10.8,.3h0m3,.1h0m16.8-.9h0m6.7,1.1h0m14.2,.1h0m4.3-.8h0m-150.2,2.1h0m13.1,.5h0m6.6-1.3h0m27.5,1.2h0m21.9-.3h0m6.1-.6h0m31.4,.2h0m42.3,1.1h0m-151.5,.6h0m15.5,0h0m18.5,1h0m4.9,.3h0m31.7-.1h0m4.9,0h0m24-.5h0m.8-.2h0m4.8-.6h0m5.7,0h0m5.2-.1h0m18.8,.1h0m5.6-.2h0m-141.1,3.5h0m2.1-1.4h0m2.3-.1h0m17.8,1.1h0m6.8-.5h0m1,.3h0m13.8-.8h0m3.9-.2h0m9.2,.6h0m22.9,.3h0m17.8-.6h0m8.8,.2h0m4-.6h0m3.4,.5h0m27.4,.3h0m6.4,.6h0m-136.4,1.5h0m3-.9h0m29.8,1.2h0m15.2-.6h0m2.7,.1h0m3.9-.5h0m27.7,.1h0m5,1.3h0m2.4-1.3h0m7.1,1.2h0m22.6-1h0m1.7,.3h0m1.3-.8h0m10.3,.2h0m5.7,.4h0m4.1,.9h0m-152,.7h0m14.3-.2h0m.2,.5h0m21.3-.3h0m6.8-.3h0m8.5,.7h0m5.6,0h0m10.3-.1h0m4.2,.5h0m6.7,.5h0m4.3-1.3h0m20.5,.3h0m3.3,.8h0m1.6-.1h0m4.8-.9h0m16.6-.3h0m8.7,1h0m1.1-.6h0m2.5,.8h0m-125.6,1.8h0m2.8,.4h0m9.5-1.3h0m10.9,.9h0m2.1-.3h0m9-.2h0m2.9,0h0m36.3-.6h0m7.1,1.4h0m4.4-.3h0m23.6,.3h0m6.8-.3h0m11,.1h0m.8-.2h0m-143.6,.9h0m13.7,.9h0m6.5-.6h0m3.7,0h0m14.3,.1h0m12.9,.4h0m2.5-.1h0m5.4,.7h0m9.4-1.1h0m5.8-.3h0m23.2-.1h0m11.6,1.2h0m35.5-1.1h0m-145.1,3h0m4-.1h0m3-.1h0m5.7,.3h0m19.5-.7h0m1.9-.2h0m5,1.2h0m15.3-1.4h0m28.2,.2h0m5.4,.5h0m11.6,.1h0m24.7,.3h0m4.8-.1h0m19.8-.3h0m5.9-.7h0m-151.8,2.4h0m13.7-.4h0m10.1,1.3h0m36.1-.4h0m5.6-.6h0m31.5,0h0m17.3,.2h0m7.9-.3h0m5.9-.3h0m5.9,.2h0m8.1,1.1h0m7.1-.3h0m-151.9,1.7h0m18,.4h0m4.6-1.3h0m51.1,.4h0m18.4,.4h0m.9-.4h0m18.7,.7h0m23-.2h0m-131.2,2.4h0m28.1-1.4h0m19.3,.4h0m31.3,.9h0m8.3-.7h0m12.6,.9h0m-65.6,1.6h0m15.4,.3h0m3.1-1.2h0m14.2,.5h0m3.7-.3h0m17.8-.3h0m34,1.2h0m21.3-.7h0m-115.6,1.8h0m2.7-.5h0m7.2,.1h0m8.6,.3h0m69.7,.6h0m2.9,.2h0m5.7-.8h0m2.8-.5h0m5.6,.6h0m1-.1h0m4.2-.6h0m4.8,.7h0m-138.7,2.6h0m17.2-1h0m16.2,1.2h0m10-.4h0m5.2-.6h0m19.5,1h0m35.5-1.1h0m21.3,.3h0m-98.8,2.3h0m7.4,.1h0m41.6,.1h0m3.3,0h0m35.9-.9h0m10.1,1h0m1.2-.2h0m12.7-.9h0"/>
<path stroke="#086a88" stroke-width="1.1" d="M336.3,565.1h0m11.1,.2h0m7.1-.4h0m6.9-2h0m3.8,1.8h0m52.6-.8h0m28.4,2h0m4.9,0h0m4.8-2.5h0m18.9,1.2h0m-125.5,1.1h0m3.2,1.5h0m2.2-1.4h0m3,1.7h0m1.7-1.3h0m15.8,.2h0m4.8,.9h0m2.3-.3h0m1.7,.3h0m1,.8h0m3.3-4.2h0m8.2,2.4h0m3.2,.8h0m4.5-2.3h0m8.4,.4h0m7.5,.6h0m3.7,.6h0m1.3,1.1h0m3.7-3.4h0m2.5,2.8h0m1-.3h0m1.8-.8h0m4.4,1.3h0m2.1-3.8h0m3,3.4h0m5.3,.2h0m3.5-.7h0m3.4-.2h0m4.7-.2h0m11.4,1.2h0m9.4-.8h0m4.2,0h0m-1.2-.8h0m-145.7,1.8h0m4.9,.6h0m10.3-.5h0m3.5,1.5h0m3.3-1.2h0m2.3,.1h0m.3,.6h0m2.5-.8h0m7.9,.7h0m4.9,1.4h0m.1-.9h0m3.5-1.6h0m3.8,.6h0m-1.1,.8h0m4.5,0h0m2.7-1.7h0m2,1.4h0m4.1-.9h0m3.1,3.3h0m2.1-2.2h0m7.8,.4h0m3.9-.3h0m3.8-1.2h0m5.5,2h0m-.6-.6h0m9.4-1.6h0m3.3,2.5h0m13.4-.8h0m5.2-.4h0m2.4-1.2h0m1.3,0h0m11,1h0m1.8,1.1h0m2.4,.9h0m7.8-1h0m1.4-1.8h0m3.7,1.4h0m-149.4,.3h0m1.1,.9h0m5.4,.9h0m4.7,.2h0m4.3-2.4h0m8.8,.9h0m2.8-.7h0m1.8,.7h0m8.3-.1h0m1.4,1.1h0m2.7,.7h0m10.1-.7h0m2-.7h0m1.1,.1h0m7,.5h0m1.3-2.4h0m2.9,1.7h0m2.7,1.4h0m1.8,.6h0m5.2-1.8h0m3.1-.1h0m5.5-.1h0m1.3-1.3h0m-.2,1.9h0m2.2,.8h0m2.1-.7h0m3.5,1h0m1.3-1.9h0m5.4,.2h0m5.2-.7h0m4.9,.2h0m3.6,.8h0m1.3,.1h0m2.3,1.1h0m2-2.1h0m-1.1,0h0m5.4,2.3h0m.9-.5h0m1.2-1.2h0m6.1-.7h0m5.8,.7h0m2.4-.1h0m-.7,.3h0m3.7,.7h0m2-1.3h0m1.1,1.5h0m4-.7h0m-149.4,1.2h0m5.5,1.3h0m1.6-.2h0m8.1,1.3h0m1.6-2.1h0m2.7-1.6h0m-.5,3h0m7.3-.4h0m3.1-1.6h0m16,.7h0m4.1,.7h0m9.4-1.7h0m4.1,2.1h0m.5-.7h0m.8,0h0m2.6-.6h0m1.7-.3h0m5.5,1.8h0m0-2.2h0m1.8,.4h0m4.7,1.9h0m2-2.3h0m3.6,.8h0m.9,.2h0m7.2,1h0m7.7-.6h0m3,1.5h0m2.2-1.6h0m2.9-.3h0m5.5-.7h0m4.1,1.4h0m6.2-2.2h0m1.9,1.4h0m2.8,1.4h0m5.4-1.5h0m-141.5,2.1h0m1.8-.4h0m4.4,.1h0m8.7-.5h0m.6,1.3h0m5.4-1h0m1.7,.1h0m3.1,1.5h0m2.8,.9h0m.2-1.3h0m4.6,.1h0m1.9-2.1h0m6.2,.9h0m1.5,1.4h0m1.6-1.9h0m10.4,.2h0m7.4,1h0m-.1,.5h0m4.3,.3h0m.8-2.4h0m1.3,2.5h0m3.5-1.5h0m2.4-.3h0m7.4,1.8h0m.5,.3h0m2.7,.1h0m7.7-3.2h0m1.9,.4h0m5.5,3h0m4.2-1.4h0m7.1,1h0m8.6-1h0m1.5-2.8h0m4.3,1.3h0m6.5,2.7h0m2.6-2.4h0m1.3,.8h0m4.1-1.2h0m3.1,.3h0m5.8,.4h0m3.6,1.1h0m0,.7h0m1.4-1.6h0m-148.8,2.5h0m1,.6h0m5.7-1.6h0m6.9,.5h0m12.4,.1h0m.6,.1h0m5.4-.6h0m3.4,2h0m-.8-.9h0m.7-.8h0m1.3,.4h0m5,.2h0m3.1-.4h0m1,1.1h0m2.7-1h0m2.2,1.2h0m1.8,0h0m5.8-.3h0m4.7-1.2h0m2.9,1.2h0m1.3-2.1h0m1.5,3.6h0m2.6-2.2h0m1.8,.2h0m6.7-.4h0m5.1,.5h0m5.3,.5h0m.3,.3h0m4.7-1h0m3.2-.5h0m8.4,.7h0m3.8-1.2h0m4.2,.5h0m4-1.1h0m0,.2h0m.8,.3h0m3.7-1.6h0m.1,2.3h0m3,1.2h0m3.6-2h0m1.9,.6h0m3,.8h0m6.8,.2h0m2.4,.1h0m4-1.5h0m-153,3h0m3.9,.7h0m11.7,.3h0m8.4-1h0m1.7-.8h0m4.6,.2h0m1.4,.5h0m1,.1h0m2.4,.2h0m3.1,.1h0m5.2-1.5h0m.8,.6h0m4.1,.3h0m2.2-.6h0m2.7,1.4h0m2.4-.9h0m2.5-.7h0m1.2,0h0m3.4,.4h0m3.7,.2h0m2.7,0h0m7.1-1h0m3.1,2h0m1.1-2.2h0m1.6-.2h0m2.7,.1h0m3,1.8h0m2.3-.8h0m1.8,.8h0m7.8-1.5h0m1.5,1.5h0m2.6,1.2h0m7.7-.4h0m.5-2.5h0m9.9,2.8h0m-.4-.3h0m1.2-1.1h0m3.9-1.3h0m4.2,2.3h0m3.3-2.3h0m-.1,1.1h0m3.3,1h0m2.2,0h0m.6-2.2h0m2.2,1.1h0m3,.2h0m0,.6h0m-146.5,.8h0m9.2,1.3h0m-.4-1.1h0m3.1,2.2h0m1.2-.2h0m3.1-2.6h0m.7,1.8h0m5-2.2h0m4.6,0h0m1.7,1.8h0m2.4,0h0m5.5,0h0m6.8,.1h0m-.7,.5h0m8.7,0h0m4.3-1.9h0m3.3,2.2h0m1.6-1.4h0m16.5-1.1h0m3,1.4h0m3.8-1.1h0m4.4-.5h0m4.7,3.4h0m5.1-1.3h0m13.3,.8h0m.6-.9h0m4.3-.6h0m15.7-.4h0m9.5,1h0m5.3-.2h0m1.6-.5h0m-144.2,2.2h0m4.1,.6h0m2.1-.5h0m4-.8h0m5-1h0m13,1.4h0m2.9-.6h0m6.1,1.7h0m2-1h0m2.2,.7h0m2.8-.7h0m1.6,.5h0m3.7,0h0m4.9-.7h0m6.5-.8h0m1.8,1.7h0m1.4-1.9h0m7.5,1h0m3.9,.1h0m4.2,2.1h0m3.9-.6h0m8.1-1.9h0m.9,1.5h0m3.2-.5h0m1.1-1.2h0m2.6,1.7h0m11.2-.8h0m.9,.1h0m4.4-.6h0m1.9-.5h0m2.7,2h0m.5-2h0m11.3,.4h0m2-.3h0m1.1,1h0m13.3-.5h0m.9,.6h0m-142.9,.7h0m4.1-.2h0m3.6,2h0m8.9-.2h0m6.1-.1h0m2.6-.3h0m4.8-.8h0m3.6-.5h0m2.6,.6h0m3.2,.1h0m6.2-1.8h0m4.6,2.9h0m2.6-.6h0m4.8-1.5h0m17.4,.9h0m1.3-.8h0m.7,1.1h0m5.7-.4h0m3.4,0h0m2.1,.3h0m.7-2.2h0m4.3,1.8h0m10.6-.4h0m.6-.1h0m4.6,2.9h0m4.1-2.8h0m.3-1h0m2.4,1.9h0m3.7-.4h0m-.1-.6h0m.9,1.1h0m2.7,.4h0m7-3.7h0m9.5,3.2h0m2.9-.2h0m2.7-.3h0m-152.1,3.6h0m1-.9h0m11.3-1.7h0m3,1.9h0m-.3,0h0m3.1-1.6h0m4.6,1h0m2.7,.6h0m4.5-1.1h0m1.4,1.4h0m1.9-1.8h0m1.4,.7h0m3.2,2h0m1.5-3.2h0m1.7,2.4h0m8.6-.4h0m2.8,1.7h0m3-1.9h0m8.8-1.4h0m0-.1h0m4.9,1.3h0m3.9,.3h0m.2-.3h0m6.1-1.2h0m4.8,2.3h0m2.7-.8h0m6.9-1.4h0m.6,1.6h0m1.8-.4h0m3.2-.3h0m2.6-.2h0m2.6,.7h0m11.3,.3h0m7.6-1.2h0m6.1,0h0m-.3-.5h0m3.4,.3h0m3.1,1.7h0m4,.2h0m2.9-3.8h0m3.1,2.4h0m6.7-.2h0m-154.2,2.4h0m3.8,.2h0m3.5-.9h0m1.8-1.5h0m6.2,.5h0m3.3,1.2h0m5.8,.8h0m1-1.7h0m4,2.6h0m9.1-2h0m7.8,1.3h0m2.6-1.7h0m6.6,.2h0m4.3,1.5h0m2.6-.1h0m2.2,1.1h0m1.4-1.9h0m4.2,1.4h0m2.2,.3h0m4.9-1.7h0m3.8-.1h0m6-1.5h0m5.2,1.8h0m2-1.4h0m2.4,.4h0m5.3,1.7h0m4.3-2.7h0m4,2.5h0m2-1.9h0m4,.9h0m1.2,.1h0m1.2-.6h0m1.9,3.4h0m2.8-1.5h0m12.2-1.5h0m2.7,.9h0m11-1.6h0m6.2,2.9h0m-148.6,0h0m2.9,.6h0m-1-.7h0m2.6,.3h0m8.4-.6h0m1.7,.2h0m6-.6h0m6.3,1.9h0m6.8,1.5h0m4.9-1.9h0m1.9-.6h0m3.4,1.3h0m4.7-1.4h0m5.9-.6h0m2.9,1.6h0m5,0h0m1.3-1.1h0m3,.8h0m2.1-1.8h0m4.8,1.8h0m6.2-.6h0m.7,0h0m4.6,.6h0m3.2,2.2h0m6.5-2.5h0m2.6,.2h0m3.7-.4h0m.7,.2h0m3.5,.6h0m2.7-.4h0m3.9-.2h0m6.2,.7h0m7.6-1.3h0m2,0h0m13.4-1.2h0m6.2,0h0m-153.6,4.5h0m2.2,.4h0m-.4-.7h0m5.5-2.8h0m7.8,1h0m1.6-.4h0m9.3,2.5h0m3.7-1.7h0m1.3,1h0m6.8,2.2h0m1.5-2.3h0m1,1.6h0m7.1-1.3h0m1-1.3h0m4.6,1.8h0m1.4-.9h0m13.3,.8h0m5.4-2.7h0m4.8,1.9h0m-.1,.5h0m4.3,.6h0m4.5-2.3h0m4.1,1.2h0m2.3,0h0m2.1,.2h0m16-.6h0m2.8,.3h0m2.7,.7h0m-.3-.4h0m6.2,.8h0m-.6,.3h0m2.1-1.1h0m4.9-.2h0m3.1,1h0m5.4-.1h0m4.6-1.7h0m3.1,.6h0m8.7,.4h0m-153.3,2.2h0m6-.6h0m13.1-1h0m3.9,.3h0m-.3-.1h0m12.3,1.8h0m4.6-.1h0m1.6-.1h0m4.2-.3h0m3-1h0m1.8,.5h0m1.2,1.4h0m3.8-2.9h0m1.6,1.1h0m1.9,.2h0m2.1-.6h0m2.8,1.6h0m5.3-1.1h0m2.6,1.5h0m3.2-.3h0m5.1,.1h0m2.5-.6h0m3.2,1h0m-.3-1.8h0m7-.2h0m2.9,1.2h0m2,.1h0m1.7-1.6h0m10.8,1.2h0m3.8-.9h0m5.3-1.1h0m6.1,2.5h0m1.7-.8h0m2.2,.1h0m12.5-.6h0m2.8,2.1h0m-.4-.3h0m6.8-2.3h0m-142.1,3.2h0m1.2-2.2h0m2.2,3.8h0m1.6-2.5h0m7.1,2.4h0m.9-.7h0m2.5-1.6h0m3,1.2h0m7.5-.9h0m3-.5h0m1.4,1.7h0m7.7,.9h0m1.4-1.2h0m2.9-.5h0m3-.4h0m2.1,.3h0m3.3,.7h0m3.2-1.4h0m5.6-.5h0m1,2.7h0m3.3-1.3h0m.8-.1h0m1.4-.6h0m6.3-.6h0m1.9,3.8h0m6.6-2.7h0m3.3,0h0m2.6-.3h0m6.4,1.5h0m1.3-.7h0m7.5,.6h0m3.8-2h0m2.5,.2h0m7.1,1.9h0m1.3,0h0m.3-.8h0m5.4,1.2h0m5.8-.7h0m1.3-.3h0m5.4-.4h0m4.6-1.2h0m5.8,1.9h0m-153.2,.9h0m5.2-.6h0m2.6,1.1h0m8.4,.5h0m2.9-1.8h0m2.6,.2h0m2,.8h0m3.1-.1h0m2.2,.2h0m14.9-2h0m5.9,1.8h0m13.4,1.8h0m.5-2.3h0m2,1.9h0m2.5-2.3h0m3.2,1.2h0m1.9,0h0m4.9-.9h0m3.9,1.3h0m2.1-1.4h0m4.9,1.4h0m3.6,.1h0m3.1-1h0m2-.2h0m4.2,.6h0m-.2-.2h0m5.4-.8h0m2.4-1h0m7.5,2.7h0m1.3-.7h0m2.3-.9h0m1.5,.9h0m9.4-1.1h0m1.2-.1h0m4.8,.8h0m6.3,1.2h0m4.8-1.1h0m1.7-.7h0m3.3-.5h0m-152.1,2.5h0m17,.5h0m1.8-.3h0m1.5-.2h0m2.9-.9h0m6.7,.7h0m.8,1.6h0m7.1,1.2h0m3.2-1h0m1.8-1.6h0m2.6,.6h0m6.9,0h0m4,.5h0m3.5-.7h0m6.2-2.1h0m3.3,1h0m2.7,.3h0m2.7,1.3h0m5.1-1h0m4.9,1.3h0m1.9-.4h0m2.8,.9h0m5.6-3.2h0m-1.1,2.3h0m4.8,.8h0m4.2,.4h0m4.7-1.6h0m10.1,0h0m4.1,1.6h0m5.1-.9h0m5.3,.6h0m6.1-.4h0m6-.6h0m6.8,.4h0m-152.2,2.8h0m13.5-1.3h0m3.1-.4h0m6.4,.3h0m3.1,.6h0m1.1-1.5h0m4.5,1h0m1.3-.7h0m1.1,1.6h0m5-.7h0m4.8,1.9h0m9-.8h0m6.1-1h0m4.7-.4h0m7.1,.5h0m1.7,0h0m3.3,0h0m1.6,.4h0m5-.2h0m4.3,.2h0m4.9-.8h0m3.7,1.8h0m3.4-1.2h0m-1.6-1.1h0m4.4,1.1h0m10.8-.5h0m1,.2h0m5.9-2.1h0m5.5,.8h0m3.7,.7h0m3.6-.3h0m3.2,.6h0m3.4,2.3h0m9.8-1.5h0m-150.9,.1h0m1.7,.9h0m5.8,1.5h0m6.7-2h0m3,1.4h0m2,.3h0m5.1-1.1h0m8.4,1.2h0m2.7-.9h0m2.8-.3h0m6.4-.6h0m.8,1.2h0m3-2h0m1.7,1.2h0m10.9,0h0m.1-.3h0m2.9,.8h0m9.2-1.9h0m1.1,1.9h0m1.4-1.1h0m2.4,1.6h0m2.1-1.8h0m5.9,1.6h0m18.5-.7h0m2.8-.1h0m2.9-.5h0m1.4-.9h0m3,2.1h0m5.4,.4h0m3.1-.6h0m11.8-.9h0m5.2,.4h0m1.5-.2h0m1.9,1.2h0m.5-2h0m4-.3h0m-141.9,2.6h0m2.6,1.2h0m1.2-.5h0m8.3,1.2h0m3.3-2.5h0m4.4,.6h0m13.4-.3h0m.3,1.9h0m9.9,1.3h0m4.6-3.2h0m2.1,1h0m1.4,.8h0m1.6-1.8h0m5.9,.2h0m1.2-1.3h0m2.2,1.5h0m1.4,2h0m3.1-2.5h0m2.7,1.1h0m2.7,0h0m2.7-1.2h0m1.8,1.1h0m3,1.2h0m6.9,.2h0m12.7,.4h0m12.2-1.9h0m10.4,1h0m-.7-.9h0m5.2,.5h0m4.6,1h0m1.8-1.1h0m5.7,.5h0m.3-.9h0m2.1-.7h0m3.4,.9h0m-145.2,1.5h0m4.9-.8h0m8.5,.6h0m-.3,.6h0m1.8,1h0m5.1-.4h0m1.1-.8h0m2.7,.9h0m.3-2h0m5-.2h0m-.1,1.6h0m9.2,1.4h0m12.5-1.7h0m2.6-1.5h0m8.1,2.4h0m2.8-.8h0m1.9-.9h0m6.9,1.4h0m5.1,1.5h0m4.4-1.1h0m2-2.4h0m9.7,2.2h0m2.7-1.4h0m12,1.2h0m3.8-1.2h0m15.6,1.2h0m1.1,.2h0m11.1-.9h0m10.8,1h0m-156.3,1.7h0m5.4-1.3h0m4.7,1.2h0m.3,.5h0m4.7-1.1h0m.5-.6h0m3.7,.9h0m.6,.5h0m5.3-2.8h0m4.7,3h0m-1.1-.4h0m4.6-.8h0m3.7,.2h0m9.7,1.3h0m1.8-3.6h0m8.7,2.7h0m1.7,0h0m0-.5h0m3.8,1h0m2.9-1.9h0m5.4,1.6h0m3.5-1.5h0m5.7,2.8h0m8-2.7h0m-1.1,1.3h0m3.3-.2h0m3-.1h0m4.4-.2h0m3.5,.2h0m8.8-.8h0m17.4,1.8h0m5.2,1.1h0m7.6-2.6h0m5.9,.9h0m6.2,.8h0m-144.7,.9h0m1.1-.7h0m1.4,0h0m3.6,0h0m.7,.1h0m7.3-.1h0m.7-.1h0m2,1.7h0m7.6,.2h0m4.5-1.6h0m5.4,.3h0m1.3,1.4h0m3.3-1.7h0m3.3-.4h0m3.9,.7h0m9.5-1.5h0m3.8,1.5h0m4.6-1.1h0m2.2,1.5h0m2.4,1.1h0m4.1-1.7h0m.7,.1h0m7.9,.9h0m5.8-1.8h0m5.6,1.8h0m8.3-2h0m3.4,1.6h0m3.1,1h0m10.2-2.4h0m4.5,1.7h0m6.4,.8h0m3.3-1.7h0m2.7,1.2h0m1.7-.6h0m6.8,.8h0m4-.9h0m-150.4,1.4h0m.2,.1h0m3.1,.6h0m3.3-1.5h0m-.8-1h0m6.1,2.8h0m6.9-.9h0m5.1-.6h0m.8,1h0m7.5-1.3h0m-.4,1.7h0m3.7-1h0m6.4,.4h0m2.8-1h0m3.3,.1h0m10.4,.6h0m9.2,.1h0m2.4,.6h0m2.1,1.1h0m1-3.6h0m3.3,2.1h0m2.1-1.4h0m2.2,2.4h0m9.4-2h0m12,.8h0m11.2,.4h0m6.8-.6h0m2.6-.1h0m2.3,1h0m5.5-.7h0m3.2,0h0m4.1-.5h0m2.4,.1h0"/>
<path stroke="#66f6f6" stroke-width="1.1" d="M356.9,563.6h0m3.5-.2h0m62.6,1.6h0m11.8-1.8h0m7.6,2.4h0m21-.6h0m3.7-.9h0m17.8,.5h0m4.5,.5h0m-153.5-.4h0m3.3,2.8h0m-.9-1.3h0m4.6-.8h0m2.3-.5h0m8.2,1.2h0m7.8,1.4h0m2.9-.1h0m5.3-1.2h0m1.8-.5h0m.7-2.3h0m14.9,3.4h0m1.9-1h0m4.8,.8h0m5.2,.7h0m2.6-.3h0m5.5,0h0m2-.5h0m1.7-2.4h0m7,2.1h0m3.3-1.2h0m7.5,.6h0m8.5-.2h0m8.6,.4h0m.2,1.3h0m2.1-2.9h0m7.5,1.9h0m2.3,.5h0m5.7-.4h0m2.8-.5h0m2.1,0h0m3.7-.5h0m2.6,1.3h0m1,0h0m2.4,.1h0m4.2-.9h0m4.7,.3h0m-152.3,3.3h0m3-.5h0m1.8,1.5h0m4.5-.7h0m1.9-2.1h0m4,.1h0m.9,1h0m8.9-.9h0m6.5-.1h0m3.5,1.6h0m.5-.8h0m5.6-.3h0m7.8-.3h0m3.6,.8h0m12.3,.1h0m8.2,.3h0m1.1-1.3h0m3.1-1.4h0m4.8,2.4h0m4.7-1h0m5-.4h0m1.4-.4h0m2.7,2.7h0m2.4-.4h0m5.6-2h0m.7,.5h0m1.7-.6h0m2.4,2.2h0m1.4-1.4h0m6.8,.5h0m.5-1h0m7.2,.7h0m2.3-.4h0m4.1,.1h0m0,1.2h0m2.3-2h0m6.5,1h0m2.8,.6h0m2.1-1.8h0m6.5,1.2h0m-145.9,2.6h0m1.9-1.2h0m5.1,.4h0m4.3,.4h0m3.6,2h0m1.5-2.8h0m3.4,.5h0m1.1-.6h0m7.3,1.1h0m2.9-1h0m1.8,.5h0m5.3-1.6h0m7.7,1.1h0m17.8-.6h0m7.6,2.1h0m4.9-1.5h0m1.1,2.1h0m11.7-1.3h0m6.3-.7h0m4.1,.8h0m1.3-1.2h0m3.9-.4h0m22.8,.1h0m2.1,2h0m2.6-1.4h0m-.1-.8h0m16.4,.2h0m-152.7,4.3h0m4.4-.8h0m.9,.6h0m5.1,0h0m4-.7h0m-.3-1.9h0m11.5,1.9h0m1.4,.1h0m2.8,.8h0m4.5-1.2h0m1.1,.4h0m4.2-1h0m2.9,.6h0m1.1-.4h0m1.9,.7h0m.7,.1h0m8.4-.1h0m1.9-.1h0m2.7,.3h0m2,0h0m12.2,.8h0m9.4-2.3h0m10.8,1.5h0m-1.2-.8h0m6.2,1h0m-1.1-.4h0m4.2,.4h0m1.7-.4h0m10.9,.5h0m1.4-.8h0m2.3-.7h0m4.4,1.7h0m1.8-1.9h0m4.3,1.4h0m4.3-1.4h0m3.9,1.5h0m3.3-.6h0m3.1,.2h0m1,.8h0m2.2-1.3h0m2.2-.1h0m.6-1.4h0m1.4,2.6h0m-147.5,1.3h0m3.2-.1h0m2.7-1h0m.9-1.1h0m6.8,2.1h0m3.9,.2h0m11.2-1.1h0m4.5,1.1h0m.2-1h0m7.9,.7h0m1.2,.2h0m9.9,.2h0m6-.6h0m9.1,0h0m4,1.8h0m2.5-2.3h0m6.4,1.3h0m10.2,.5h0m3.3-2.2h0m6.7,1.8h0m1.5-2h0m1,.2h0m2.8,2.2h0m3.3-.7h0m2.1-1.2h0m6,1.1h0m2.3-1.9h0m3.2-.1h0m3.3,1.7h0m4.1-.3h0m9.1,1.1h0m5.9-.4h0m-145.6,1.8h0m5.1,.1h0m4.2-1.2h0m1.1,.1h0m.8,.6h0m4-.5h0m2.9,1.9h0m2.4-.4h0m1.6,.8h0m1.8-1.9h0m3.7-1.1h0m14.7,.5h0m11.9,1.4h0m.5,0h0m4.2-2.3h0m2.8,1.4h0m13.3,.5h0m2.7,.2h0m2.2-1h0m2.3-.3h0m6,1.7h0m-.6-.1h0m8-.3h0m2.3-.5h0m3.8,.8h0m-.6-.8h0m4.5-.6h0m4.2-.1h0m18.2,.6h0m7.5,.2h0m-.1-.5h0m3.8,2.7h0m6.4-3.1h0m2,.2h0m-146.2,1.9h0m-.8,.5h0m2.9,.2h0m2.3,.7h0m2.2-1.2h0m.8,.4h0m6.9,.5h0m0-.5h0m6.1,.9h0m13.5-2.5h0m.4-.2h0m16.6,2.3h0m3.8-1.6h0m5,2.9h0m6.2-2.2h0m1.1-.7h0m4,.8h0m10.4,.6h0m7.4,.3h0m1-.6h0m5.3,.2h0m4.1,1.1h0m2.7-1.8h0m6.1,.8h0m10.1-.4h0m3.5,.6h0m18.3-2h0m4.5,1.3h0m-.1,.9h0m2.9,.4h0m-151.3-.2h0m3.9,1.2h0m15-.1h0m3.1-.1h0m6.4-.7h0m.2-.2h0m6.4,1.2h0m2.2,1.9h0m4.8-4.9h0m1.3,1.8h0m3.6-.5h0m3,2.1h0m4.2-.1h0m5.5-1.6h0m1.2,.6h0m1.1,.9h0m2.8,0h0m2.1,.2h0m.9,.6h0m1.4-2.2h0m2.2,.4h0m6.1,.8h0m9.1-1.2h0m.8,.5h0m3.2,1.8h0m2.4-1.2h0m3.8,.2h0m.5-1.5h0m3.1,3.3h0m8.7-3.5h0m4.9-.3h0m1.8,.4h0m1.6,2.2h0m2.4-1.7h0m.8-.1h0m1.7,.4h0m3.8-.7h0m2,1.4h0m2.3-1h0m4.8,.2h0m.6,.4h0m1.3,1.4h0m4.5,.2h0m4.4-1.9h0m.6,1.1h0m2.5-.8h0m2.9,0h0m.9,1.3h0m-151,.8h0m5.3-.4h0m3.1,.7h0m6.8-1.2h0m-.4-.8h0m4.7,2.1h0m1.1-.3h0m2.6-1.1h0m1.6,1h0m6.1-2.8h0m1.6,1.8h0m5.1,1.8h0m16.1-1.6h0m1.6,1.4h0m.2,0h0m10.4-.6h0m3.4-1.5h0m10.5,1.1h0m5.1-.8h0m2.8,1.1h0m10.4,.9h0m5.6,0h0m2.1,.3h0m7.8-1.5h0m8.6-.2h0m3.4,.9h0m.8,.3h0m12.6-1.1h0m-.4,.4h0m2.4,1.9h0m1.5-1.9h0m3.3-.6h0m5.4,1.2h0m.1,.8h0m-154.3-.4h0m2.5,1.7h0m6-2.9h0m4.5,2.2h0m3-.4h0m1.6,.3h0m3.5,.7h0m2.9,2.2h0m4.6-1.5h0m3.2,.2h0m1.4-1.4h0m7.4,0h0m2.5,1h0m8.6-1h0m3,1.6h0m7.3-3.6h0m4.7,1.1h0m2.9,.5h0m4.5-.2h0m.1,.2h0m8.8,.1h0m17.3,.1h0m2.9-.4h0m5.3-1h0m-.4,1.4h0m7.5-.8h0m3.9,.3h0m14.8-1.1h0m1,4.2h0m3.2-3.5h0m3.4,.5h0m1.6-1.6h0m2.5,1h0m3.1,1.7h0m-142,2.4h0m2-1.5h0m1.8,2.6h0m9.6-4h0m3.6,3.6h0m2.7-2h0m17.6,.6h0m3.8,.2h0m1.2,.8h0m4.9-1.5h0m3.5,.7h0m2.4-.1h0m2.8-2.2h0m13.8,1h0m2.4-1.3h0m2.2,2.1h0m9.1,1.7h0m10.6-1.8h0m9,.4h0m2.2-.1h0m.1,1.2h0m5-.6h0m3.2-2.3h0m1.2,1h0m3.9-.7h0m.9,.8h0m6-.1h0m5.1,.6h0m11.1-1.2h0m1.2-1.4h0m3.2,2.1h0m-148.4,2.3h0m5.8-.5h0m1.2,2h0m3.1-1.4h0m3.7-1.8h0m2.8,2.2h0m8.5-1.2h0m1.8,.6h0m-1.1-.3h0m5.6,2.3h0m4.2-1.4h0m-1.6-1.1h0m3.2-1.6h0m4.1,1.2h0m3.2-1.1h0m5,2.8h0m2.5,.1h0m.1-.9h0m10.8,.6h0m5.3,1.5h0m3.1-2.4h0m1.2,.5h0m4.3-.8h0m2.9,1.2h0m3.5-.9h0m5.6,.8h0m3.2-.1h0m3.9-.1h0m2.7,.3h0m3.6,.4h0m6.3,0h0m11.9-2.1h0m.3-.6h0m3.7,1.4h0m1.2,.3h0m1.7-1.6h0m1.6,.6h0m5.4,1.4h0m2.5-1h0m3.7,1.2h0m8.3-1.5h0m.6-.6h0m-153.3,4.6h0m2-1.7h0m1.7-.1h0m13.3,.6h0m4.2,.1h0m4.1-.8h0m3.4,.7h0m2.6-.2h0m3.7,.1h0m1.9,.8h0m4.2,.5h0m3.4-1.6h0m4.4,1.2h0m3-.6h0m5,.3h0m2.4-.4h0m3.4,.4h0m2.5-.9h0m10.6,.4h0m1.6,.4h0m2.6-1.1h0m2.6,.9h0m4.1-.9h0m7.8,2.1h0m1.6-2.8h0m-.1,.1h0m13,1.3h0m6.2-1h0m2.9,1.4h0m2.9,.1h0m5,.5h0m2.5-1.2h0m.8-.9h0m3.9,.8h0m4.5,1.4h0m3-.9h0m1.6,1.2h0m.4-2.5h0m6,1.6h0m-.8-1.8h0m-144,3h0m4.4,1.5h0m2.3-1.2h0m2.1,0h0m1.3,.8h0m4.1-1.9h0m1.7-.2h0m2,.5h0m5.5-2.2h0m6,4.5h0m1-2.8h0m9.9,1.8h0m6.1,.8h0m7-1.6h0m.7-.6h0m2.4,.2h0m2.4,.3h0m2.2-.8h0m3.5,1.6h0m1.6,.3h0m9.2-1.2h0m4.5,.6h0m4.2-.6h0m5.1-1.2h0m4.9,3h0m2.6-.8h0m1.7,.1h0m1.6,0h0m3.3-.3h0m2.4-.3h0m7.5,.5h0m13.2-.3h0m2.8-.9h0m2.5,.6h0m3.3-1h0m4.7,.1h0m.6-.2h0m5.8,1.8h0m.2-2h0m-149.7,3.5h0m3.4-1.6h0m2.9,.5h0m3.9,.8h0m1.2-.2h0m1.8-1.3h0m.3,1.5h0m4.9,.8h0m6-.2h0m2.8,.5h0m1.6,.4h0m6.4-2.8h0m1.6,1.4h0m5.2-1.4h0m5.5,2.6h0m13.9-.2h0m3.8-1.1h0m4.3,.5h0m2.7-1.5h0m10.6,.5h0m3.8,1.2h0m1.5,.4h0m14.5-.2h0m3.3-1.1h0m.6-.7h0m9-.4h0m6.2,1.9h0m5.3,.1h0m2.8-.8h0m1.6,.6h0m1.7,.3h0m2.4,.9h0m3.2-2.4h0m8-.6h0m3.5,2h0m3.6-1.3h0m-153,2.2h0m2.4-.5h0m.8,.6h0m11.8,.1h0m9.9-1.7h0m2.4,1.7h0m2.6-.4h0m3.5,1.4h0m4.7-.8h0m3.8,.7h0m19.2,.1h0m2.9-1h0m12.1,1.4h0m.4-1.5h0m5.3-.2h0m3.6-.9h0m3.2,0h0m.7,1.4h0m4.4-.6h0m6.6-1.9h0m3.2,4.4h0m2.1-3.1h0m5.8,1.3h0m5.2,.3h0m3.7,.1h0m5.2,.2h0m5.9-1.4h0m.8,.2h0m3.3-1.2h0m6.9,3.3h0m1.4-3.4h0m4.3,1.5h0m6.3,0h0m-154.6,1.7h0m.3,2.3h0m5.6-2.4h0m2.3,1.1h0m1.9,.7h0m2.5-1.1h0m6-.6h0m6.2-.7h0m5.4,2.6h0m2.4-2.2h0m2-.1h0m1.6,.2h0m.5-.6h0m2.5,.3h0m2.3-.3h0m3.9,1.2h0m1.6,.6h0m3.5-.4h0m.5-.7h0m7.2,2.3h0m8.7-3.8h0m3.5,1.2h0m6.2,.4h0m1.7,.5h0m7.2-.1h0m.7,.8h0m4.8-2.2h0m6.7,.3h0m7.5,1h0m2.5-.1h0m6-.2h0m8.8-1.2h0m2.2,.9h0m1.4,.8h0m4.6,.4h0m3.7-2.1h0m8,2.1h0m3.6,.8h0m-148-.1h0m5.5,1.6h0m0-.7h0m6.1-1.9h0m3.1,.7h0m-.2,1.2h0m.2,.1h0m7.6,1h0m6.4-.8h0m5.8-1.7h0m3.5,.1h0m3.6,1.2h0m4.6-.3h0m7.3,1.7h0m1.2-2.7h0m10.4,1.2h0m3.7-.5h0m2.9-.7h0m7.1,1.4h0m5.5,2.2h0m4.6-2.3h0m5.2,.2h0m6.8-2h0m3,.9h0m1.8,.8h0m7.4-1.2h0m1.3,.4h0m1.9-.4h0m3.7,.2h0m5.7,1.7h0m-1.6-1.1h0m4.1,.9h0m5.2-.9h0m1.2,1h0m3.7-1.2h0m4.7,.6h0m2.6-.1h0m3.3-.3h0m1.4,.1h0m4.9-.7h0m-151.7,3.6h0m1.3,.7h0m2.8-1.1h0m2.2,.2h0m.9,.3h0m2.7-.4h0m5.2-2h0m.9,2.5h0m9.6-1.4h0m9,.6h0m5.9-1.4h0m5.2,2.1h0m2-.8h0m3.6-1.6h0m3.1,1.6h0m4.4-.9h0m4.4-.3h0m-.1,2.3h0m3.4-2.2h0m11.1-.1h0m1.7,1.3h0m2.7,0h0m3.4-.3h0m6.7-.3h0m9.4,.5h0m.8,1h0m3.6-1.5h0m.8,.1h0m6.1-.4h0m1.9,2.3h0m1.6-2.1h0m6.9-1.1h0m4.3,.2h0m6.2,0h0m.6,2.9h0m5.3-2.4h0m1,2.1h0m.6,.4h0m2-2.8h0m5.5,1.5h0m2.4,.9h0m-153.8,.7h0m2.6,1.9h0m4.7-2.6h0m8.3,.2h0m3.4-.1h0m2.7,.6h0m4.3-.9h0m3,1.6h0m3.4-.8h0m6.1,1.1h0m2.9-1.5h0m6.6-.4h0m3.9,.8h0m1.7-1.8h0m.5,3.1h0m10.7-1.2h0m-1.2,1.8h0m2.2-2.3h0m3.3,.7h0m9.1,.1h0m4.7-2h0m1.6,2.3h0m3.7-1.1h0m4.3,.5h0m0,.1h0m3.9,1.3h0m-1-1h0m3.4-2.4h0m1,1.7h0m6.9-.8h0m4.3,2.9h0m5.1-1.9h0m4.1-.6h0m4,.6h0m.6,1.2h0m2.8-.8h0m0-.2h0m4,.7h0m3.3,0h0m9.1-.2h0m4.5-.8h0m.2,.5h0m2.6,.1h0m3.6-1.8h0m-153.7,3.9h0m-.7-.6h0m2.3,1.6h0m8.9-.7h0m4.9,0h0m3-2.6h0m7.2,.9h0m2.9,1h0m3.7-1.7h0m1.9,2.2h0m1.7-.4h0m4.2-.8h0m1.9,2.9h0m2.2-2.5h0m10.7,1.5h0m5.1-3h0m7.8,3.4h0m6.5-1.1h0m6-.7h0m2.6-.6h0m4.3,.8h0m2.1-.4h0m4.7,.6h0m2.4-1.6h0m4.6-.2h0m2.4,1.5h0m1.6-.7h0m5.7-.5h0m2.3,.5h0m.5-.4h0m18.2,.7h0m1.1,1.9h0m7-1.2h0m6,.6h0m5.2-1.5h0m-151.5,1.5h0m1.4,.5h0m5.7,.5h0m1.9,1.5h0m1.4-.3h0m-.5,.2h0m11.5-.6h0m10.7-1.4h0m4.1-.1h0m.7,2.2h0m3.7-1.6h0m4.5-.7h0m1.1,.3h0m2.6,1.3h0m11.1,.7h0m2-.6h0m11.2-.8h0m0-1.6h0m6.3,.7h0m5.5,.6h0m5,.7h0m2.9,.5h0m1.5-.2h0m4.5,1.3h0m3.9-.4h0m1.6-3.1h0m5.2,.2h0m.8,1.3h0m7.1-1h0m6.2-.3h0m1,3.3h0m3.6-.9h0m4.4-1.7h0m.8,.9h0m5.4,.4h0m4.5-.3h0m2.7-.2h0m2.3-1h0m1.3,1.1h0m1.1,.5h0m-149.4,1.1h0m4.3-.3h0m3.6,.8h0m10.8-.6h0m2.6,.1h0m3.2-.4h0m6.6-.1h0m3.7,.7h0m3,.7h0m1.2-.7h0m2.1-.9h0m5.3,.5h0m1.2,1.4h0m2.7-2.5h0m9.5,.8h0m2.5-.5h0m7.4-.8h0m2.5,2.8h0m3.5-.9h0m2.8,.4h0m2,1.2h0m6.9-1.4h0m16.5,.2h0m1-.2h0m4.6,0h0m-.5-.9h0m5.1-.1h0m-1.1,1.6h0m4.8,1h0m2.3-.3h0m1.5,.4h0m4.5-1.7h0m4.5-.2h0m4.5,.5h0m4.2-2.2h0m4.9,1.3h0m-146.6,2.1h0m1,.5h0m2.5,.3h0m2-.9h0m10.1,1.5h0m.2-1.1h0m9.8,1.2h0m1.1-.2h0m8.5-1h0m2.4,0h0m8.1,.5h0m1.4-.1h0m4.2-.6h0m6.1-.4h0m2.4-2.1h0m4.6,1.8h0m1.2,.4h0m2.9-.3h0m7,1.5h0m6.2,.1h0m4.3-3h0m-2.1,1.8h0m7.2-.1h0m-.2,1.1h0m1.8-1.4h0m9,1.4h0m2.6-.5h0m5.3-1.7h0m.8,1.4h0m6.9,.3h0m1.7-.8h0m3.9-.9h0m4.3,.3h0m3.8,1.2h0m1.6,1.3h0m5.6-3.2h0m4.6,1.7h0m8.3,.1h0m-131.7,1h0m2.2,.5h0m1.8-.6h0m5.9,1.5h0m12.8-.2h0m1.4-.5h0m5.8,1.8h0m5.3-2.6h0m1.7-.8h0m2.5,3.6h0m4.5-1.1h0m3.7-.7h0m20-.3h0m2.2,.9h0m11.4,.6h0m4.9,0h0m4.1-2.1h0m5,1.3h0m2.3,.3h0m15.7-.8h0m14.5-.3h0m3,1.2h0m3.9-.3h0"/>
<path stroke="#e8fbfb" stroke-width="1.1" d="M365.8,566.1h0m90.3-1.4h0m7.1,1.4h0m5.1,.7h0m-130.6-.9h0m15.1,1.5h0m19-2.7h0m10.2,2.7h0m11.5-2.9h0m7.3,.3h0m11.7,.7h0m12.8,1.4h0m2-.9h0m5.2-.5h0m16.9,.4h0m11.6,1.8h0m15-2.8h0m2.3,3.8h0m10.8-3.6h0m-154.5,5.1h0m3.5-.7h0m3.6-.6h0m11.1-2.6h0m2.5,0h0m16,3.4h0m2.1-2h0m12.6-.5h0m21.9,0h0m3.9,.1h0m10.2,2h0m4.9-.6h0m7.7-.2h0m4.4-.4h0m16.2,1.6h0m.1-1.6h0m5,.6h0m5,1h0m2.4-1.8h0m5-.7h0m11.4,.2h0m-125.9,3.7h0m2.3,0h0m8.1,.2h0m6.3-1.4h0m13.5,1h0m17.7,1.2h0m17.4-2h0m27.2-.2h0m-114.8,1.5h0m.6,1.8h0m9.2-1.8h0m9.4,.4h0m7.8,0h0m1.6,1.6h0m14.3-1.5h0m17.6-.8h0m12,.3h0m26.2-1.7h0m13.6,3.8h0m10.4-1.7h0m9.3,1.7h0m1.9-1.7h0m5.5-.8h0m3.5,.7h0m1.7-1.3h0m-.1,.6h0m6.3-.2h0m-150,2.9h0m21.9,2.4h0m1.6-1.2h0m2-.8h0m37.1,1.2h0m7.5-3.6h0m34.3,3h0m11.9,.1h0m8.2-1.6h0m4.9,1.1h0m18.1,.9h0m-.7-1h0m6-.9h0m-152.5,4.1h0m11.7-1.4h0m10.7,.3h0m17-.6h0m.8-.1h0m5.7,1h0m12.8,1.7h0m1.6-1.2h0m3.2-1.3h0m3.8,0h0m6.2,1h0m2.4-.9h0m6.4-.2h0m17.5,.4h0m11.4-.6h0m11.5-.1h0m14.8,.8h0m6.2,.4h0m5.4,.4h0m-143.5-.2h0m4.6,.9h0m12.1,1.2h0m10.9-.9h0m2.2,.5h0m16.6-.9h0m12.6-.6h0m10.6,2.9h0m1.9-1.5h0m.8-.5h0m5.7-1.1h0m22.1-.8h0m28.6,1.7h0m6.8-.6h0m8.2,1.7h0m-153.4-1.2h0m9.1,3.2h0m2.9-1h0m6.6,1h0m12-1.9h0m5.4,2.1h0m1.8-2.9h0m3.3,1.9h0m7.8-.4h0m21.9,.8h0m1.8-.8h0m5.4-.5h0m5.6-.1h0m24.6,.2h0m15.1,.3h0m9.7-.3h0m1.9,.2h0m18.7,2.1h0m-146.7-.7h0m7.4,1.8h0m3.4-.9h0m16.4,.8h0m-.9-1.1h0m3.7-.8h0m21.1-1.2h0m10.5,1.2h0m13.9,.5h0m4.9,.2h0m1-.4h0m23.6-.8h0m9,1.8h0m4-.2h0m3.6-.5h0m26.9,.5h0m1.9,.5h0m-149.2,1.7h0m4.6,.3h0m12.8,.7h0m4-1h0m4.5,.1h0m9-1.3h0m1.1,2.6h0m12.2-1.9h0m6.7-1.7h0m6.7,1.7h0m4.5-1h0m9.4-.8h0m19.6,.2h0m4.3,1.1h0m2,1.4h0m4.4-1.5h0m17,.7h0m8.6-1.2h0m.7-.4h0m5.8,1.2h0m-143.9,.9h0m2.5,2.2h0m12-.4h0m2.4-.8h0m5.5,1.4h0m15.4-1.6h0m12.7-.8h0m2.5,.9h0m7.5,1.3h0m8.7,.6h0m5.9-3.9h0m50,2.5h0m13.5-.6h0m9.1,.3h0m4.6,2h0m-117.9,.2h0m12.5-2.3h0m4.2,1h0m7.7,.8h0m10.3-.4h0m3.5,.4h0m4.3,.6h0m14.5-2.1h0m15.8,1.7h0m1.2-1.4h0m6,.9h0m.1-.7h0m3.9,3.1h0m6.2-1.3h0m6.6-.5h0m7.3,.5h0m10.2-3.4h0m-145.7,4.6h0m.4-1.4h0m3.7,.5h0m13.7,.8h0m13.8-.1h0m10,.7h0m1.7-2.1h0m12.8,2.1h0m.5-.2h0m19.7,1.4h0m9.8-1.7h0m4,.1h0m3,.2h0m3.3-1.7h0m6.5,.1h0m3.3,2.9h0m6.5-3.4h0m12.5,1.3h0m4.5,1.7h0m-132.5,1.5h0m9.8-.6h0m3.8-1.8h0m24.6,1.2h0m1.5,1.4h0m24-1.9h0m14.4,1.1h0m19,.2h0m15.5,.2h0m4.3-.2h0m2.3,.2h0m12.3-2h0m6.4,1h0m-132.4,2h0m5.1,.5h0m4.1-1.3h0m1.5,.9h0m6.5-1.6h0m10.9,3.5h0m2.5-3.3h0m33.7,3.2h0m4.3-1.7h0m15,1.9h0m.4-1.7h0m3.6,.2h0m39.4-.3h0m13.9-1.3h0m4.6,.5h0m-147.5,2.1h0m13.6,1.5h0m10.4-1.4h0m3.3-.4h0m4.2,2.9h0m27.8-2.1h0m8.5,1.6h0m21.4-2.6h0m8.6,1.8h0m7.8-.6h0m11.4,.9h0m27.2-2.4h0m-144,5.8h0m8.6-1.7h0m11.5-1.4h0m10.7,.2h0m5.9,.7h0m2-.9h0m2-1.6h0m3.1,3.1h0m10.5-1.1h0m5.1,1.4h0m11.1-1.3h0m7.7,1.3h0m6-1.8h0m28.1-.2h0m-2.4-.5h0m7.4,1.1h0m11.4,1.4h0m2.6,.2h0m17.5-2h0m-136.5,1.4h0m15.8,1.9h0m9.6,1.3h0m-.2-.7h0m14-.9h0m12.7-1.8h0m6.4,1.6h0m7.1-1h0m4.1,2.2h0m3-.6h0m14.3-2.5h0m5.5,.6h0m8.9-.3h0m26.1,.8h0m1.6,1.4h0m-.4,1.1h0m6.9-1.4h0m1.9,.3h0m-151,2.3h0m.5,.1h0m1.1-.9h0m30.6,.6h0m4.5-.8h0m8.2-.9h0m1.5,1.6h0m3.4,.5h0m7.4-.1h0m11.7,.7h0m15.7-4.5h0m8.2,1.8h0m7.6-.7h0m11.4,1.1h0m10.5-1.3h0m4.4,1.1h0m5.5,.9h0m.7-1.7h0m12.1,.3h0m-146.5,2.2h0m4.5,.8h0m1.5-.6h0m8.9,1h0m10.5-1.9h0m24.1,1.7h0m13,.5h0m13-.5h0m16.2,.4h0m16.6-1h0m9.9,.8h0m13.9-2.1h0m7.9,1.7h0m8.2-.3h0m1-.7h0m3.2-.3h0m-153.2,4.7h0m4.8-1.4h0m11.3,0h0m4.1-.9h0m4.4,1h0m3,2.3h0m7.3-1.6h0m5.3-1.6h0m17.1-2.2h0m11.3,2.7h0m59.9,.6h0m13.8-1h0m-136.6,3.3h0m12.3-1h0m9.2,1.5h0m13.5-1.8h0m12.4,2.6h0m44.2-1.3h0m5.8-.8h0m20-.6h0m-124.3,3.8h0m8.7-1.5h0m1.6,1.1h0m2.9-1.5h0m18.8,1.2h0m26.6,.4h0m7.1-1.8h0m4.2,2h0m9.1-1.2h0m9.4,.1h0m2.4-.1h0m18.8,1.5h0m18.5-1.7h0m4.5,.8h0m1.1-1.5h0m12.9-.3h0m.5,1.8h0m-139.8,.1h0m14,1.1h0m20.4,1.3h0m36.4-.4h0m14.3-.6h0m8.1-.3h0m7.1,.6h0m15.8-1.8h0m.5,.3h0m9.4,3.5h0m5.3-1.6h0m5.5-.5h0m5.4,0h0m3.7-2.1h0m-150.3,4.2h0m4-.8h0m20.4,.6h0m8,.3h0m-.4,.5h0m51.6-1.3h0m15.7,.3h0m13.9-.7h0m5.4,.5h0m20.5,0h0"/>
</g>
<rect x="351.6" y="606.2" width="120.4" height="19.6" fill="#fff" stroke="#555" stroke-width="1.1"/>
<text x="411.8" y="620" font-size="12.6px" text-anchor="middle">Complete destruction</text>
</svg></body></html>
